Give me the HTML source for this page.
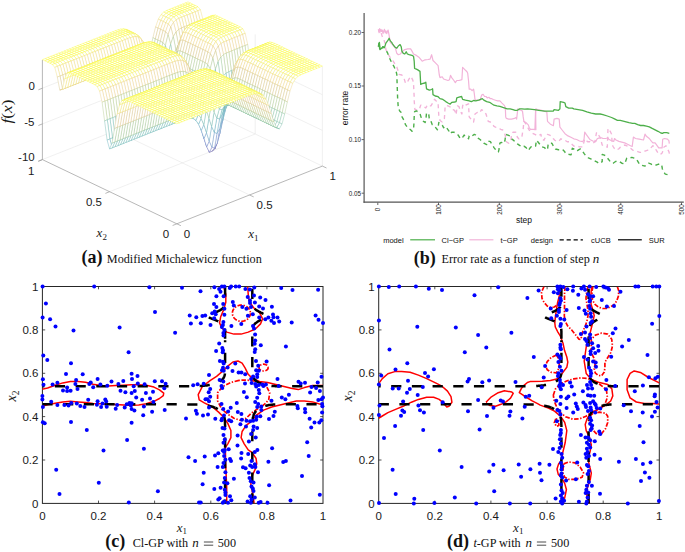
<!DOCTYPE html>
<html><head><meta charset="utf-8"><style>
html,body{margin:0;padding:0;background:#fff;width:685px;height:552px;overflow:hidden}
svg{display:block}
</style></head><body>
<svg width="685" height="552" viewBox="0 0 685 552">
<line x1="249.6" y1="195.0" x2="115.2" y2="130.8" stroke="#e6e6e6" stroke-width="0.6" fill="none"/>
<line x1="109.6" y1="191.7" x2="255.2" y2="134.0" stroke="#e6e6e6" stroke-width="0.6" fill="none"/>
<line x1="42.4" y1="123.9" x2="188.0" y2="66.2" stroke="#e6e6e6" stroke-width="0.6" fill="none"/>
<line x1="322.4" y1="130.4" x2="188.0" y2="66.2" stroke="#e6e6e6" stroke-width="0.6" fill="none"/>
<line x1="42.4" y1="88.2" x2="188.0" y2="30.5" stroke="#e6e6e6" stroke-width="0.6" fill="none"/>
<line x1="322.4" y1="94.7" x2="188.0" y2="30.5" stroke="#e6e6e6" stroke-width="0.6" fill="none"/>
<line x1="115.2" y1="130.8" x2="115.2" y2="31.1" stroke="#e6e6e6" stroke-width="0.6" fill="none"/>
<line x1="255.2" y1="134.0" x2="255.2" y2="34.4" stroke="#e6e6e6" stroke-width="0.6" fill="none"/>
<line x1="188.0" y1="101.9" x2="188.0" y2="2.3" stroke="#e6e6e6" stroke-width="0.6" fill="none"/>
<line x1="42.4" y1="159.6" x2="188.0" y2="101.9" stroke="#e6e6e6" stroke-width="0.6" fill="none"/>
<line x1="322.4" y1="166.1" x2="188.0" y2="101.9" stroke="#e6e6e6" stroke-width="0.6" fill="none"/>
<line x1="322.4" y1="166.1" x2="322.4" y2="66.5" stroke="#e6e6e6" stroke-width="0.6" fill="none"/>
<line x1="176.8" y1="223.8" x2="322.4" y2="166.1" stroke="#9a9a9a" stroke-width="0.7" fill="none"/>
<line x1="176.8" y1="223.8" x2="42.4" y2="159.6" stroke="#9a9a9a" stroke-width="0.7" fill="none"/>
<line x1="42.4" y1="159.6" x2="42.4" y2="60.0" stroke="#9a9a9a" stroke-width="0.7" fill="none"/>
<line x1="176.8" y1="223.8" x2="180.9" y2="225.7" stroke="#9a9a9a" stroke-width="0.7" fill="none"/>
<line x1="176.8" y1="223.8" x2="172.6" y2="225.5" stroke="#9a9a9a" stroke-width="0.7" fill="none"/>
<line x1="249.6" y1="195.0" x2="253.7" y2="196.9" stroke="#9a9a9a" stroke-width="0.7" fill="none"/>
<line x1="109.6" y1="191.7" x2="105.4" y2="193.4" stroke="#9a9a9a" stroke-width="0.7" fill="none"/>
<line x1="322.4" y1="166.1" x2="326.5" y2="168.0" stroke="#9a9a9a" stroke-width="0.7" fill="none"/>
<line x1="42.4" y1="159.6" x2="38.2" y2="161.3" stroke="#9a9a9a" stroke-width="0.7" fill="none"/>
<line x1="42.4" y1="159.6" x2="38.4" y2="161.2" stroke="#9a9a9a" stroke-width="0.7" fill="none"/>
<line x1="42.4" y1="123.9" x2="38.4" y2="125.5" stroke="#9a9a9a" stroke-width="0.7" fill="none"/>
<line x1="42.4" y1="88.2" x2="38.4" y2="89.8" stroke="#9a9a9a" stroke-width="0.7" fill="none"/>
<g fill="#fff" stroke-width="0.4" stroke-linejoin="round"><polygon points="187.8,4.2 190.5,3.1 188.0,1.9 185.3,3.0" stroke="#f9fb2a"/><polygon points="185.1,5.3 187.8,4.2 185.3,3.0 182.6,4.1" stroke="#f9fb2a"/><polygon points="190.3,5.4 193.0,4.3 190.5,3.1 187.8,4.2" stroke="#f9fb2a"/><polygon points="182.4,6.3 185.1,5.3 182.6,4.1 179.9,5.1" stroke="#f9fb2a"/><polygon points="187.6,6.5 190.3,5.4 187.8,4.2 185.1,5.3" stroke="#f9fb2a"/><polygon points="192.8,6.6 195.5,5.5 193.0,4.3 190.3,5.4" stroke="#f9fb2a"/><polygon points="179.7,7.4 182.4,6.3 179.9,5.1 177.2,6.2" stroke="#f9fb2a"/><polygon points="184.9,7.5 187.6,6.5 185.1,5.3 182.4,6.3" stroke="#f9fb2a"/><polygon points="190.1,7.6 192.8,6.6 190.3,5.4 187.6,6.5" stroke="#f9fb2a"/><polygon points="195.3,7.9 198.0,6.8 195.5,5.5 192.8,6.6" stroke="#f9fa2b"/><polygon points="177.0,8.5 179.7,7.4 177.2,6.2 174.5,7.3" stroke="#f9fb2a"/><polygon points="182.2,8.6 184.9,7.5 182.4,6.3 179.7,7.4" stroke="#f9fb2a"/><polygon points="187.4,8.7 190.1,7.6 187.6,6.5 184.9,7.5" stroke="#f9fb2a"/><polygon points="192.6,8.9 195.3,7.9 192.8,6.6 190.1,7.6" stroke="#f9fa2b"/><polygon points="174.3,9.5 177.0,8.5 174.5,7.3 171.8,8.4" stroke="#f9fb2a"/><polygon points="197.7,10.8 200.4,9.7 198.0,6.8 195.3,7.9" stroke="#f6f43f"/><polygon points="179.5,9.7 182.2,8.6 179.7,7.4 177.0,8.5" stroke="#f9fb2a"/><polygon points="184.7,9.8 187.4,8.7 184.9,7.5 182.2,8.6" stroke="#f9fb2a"/><polygon points="189.9,10.0 192.6,8.9 190.1,7.6 187.4,8.7" stroke="#f9fa2b"/><polygon points="171.6,10.6 174.3,9.5 171.8,8.4 169.1,9.4" stroke="#f9fb2a"/><polygon points="195.1,11.8 197.7,10.8 195.3,7.9 192.6,8.9" stroke="#f6f43f"/><polygon points="176.8,10.7 179.5,9.7 177.0,8.5 174.3,9.5" stroke="#f9fb2a"/><polygon points="200.2,20.4 202.9,19.3 200.4,9.7 197.7,10.8" stroke="#eed770"/><polygon points="182.0,10.9 184.7,9.8 182.2,8.6 179.5,9.7" stroke="#f9fb2a"/><polygon points="187.2,11.1 189.9,10.0 187.4,8.7 184.7,9.8" stroke="#f9fa2b"/><polygon points="168.9,11.8 171.6,10.6 169.1,9.4 166.4,10.6" stroke="#f9fa2b"/><polygon points="192.4,12.9 195.1,11.8 192.6,8.9 189.9,10.0" stroke="#f6f43f"/><polygon points="174.1,11.8 176.8,10.7 174.3,9.5 171.6,10.6" stroke="#f9fb2a"/><polygon points="197.5,21.5 200.2,20.4 197.7,10.8 195.1,11.8" stroke="#eed770"/><polygon points="179.3,11.9 182.0,10.9 179.5,9.7 176.8,10.7" stroke="#f9fb2a"/><polygon points="202.7,33.5 205.4,32.4 202.9,19.3 200.2,20.4" stroke="#d3c17b"/><polygon points="184.5,12.1 187.2,11.1 184.7,9.8 182.0,10.9" stroke="#f9fa2b"/><polygon points="166.2,13.3 168.9,11.8 166.4,10.6 163.7,12.1" stroke="#f8f931"/><polygon points="189.7,14.0 192.4,12.9 189.9,10.0 187.2,11.1" stroke="#f6f43f"/><polygon points="171.4,13.0 174.1,11.8 171.6,10.6 168.9,11.8" stroke="#f9fa2b"/><polygon points="194.8,22.6 197.5,21.5 195.1,11.8 192.4,12.9" stroke="#eed770"/><polygon points="176.6,13.0 179.3,11.9 176.8,10.7 174.1,11.8" stroke="#f9fb2a"/><polygon points="200.0,34.5 202.7,33.5 200.2,20.4 197.5,21.5" stroke="#d3c17b"/><polygon points="181.8,13.2 184.5,12.1 182.0,10.9 179.3,11.9" stroke="#f9fa2b"/><polygon points="163.5,15.8 166.2,13.3 163.7,12.1 161.0,14.6" stroke="#f6f340"/><polygon points="205.2,32.8 207.9,31.7 205.4,32.4 202.7,33.5" stroke="#dac280"/><polygon points="187.0,15.0 189.7,14.0 187.2,11.1 184.5,12.1" stroke="#f6f43f"/><polygon points="168.7,14.5 171.4,13.0 168.9,11.8 166.2,13.3" stroke="#f8f931"/><polygon points="192.1,23.6 194.8,22.6 192.4,12.9 189.7,14.0" stroke="#eed770"/><polygon points="173.9,14.2 176.6,13.0 174.1,11.8 171.4,13.0" stroke="#f9fa2b"/><polygon points="197.3,35.6 200.0,34.5 197.5,21.5 194.8,22.6" stroke="#d3c17b"/><polygon points="179.1,14.3 181.8,13.2 179.3,11.9 176.6,13.0" stroke="#f9fa2c"/><polygon points="160.8,20.4 163.5,15.8 161.0,14.6 158.3,19.2" stroke="#f1e758"/><polygon points="202.5,33.9 205.2,32.8 202.7,33.5 200.0,34.5" stroke="#dac280"/><polygon points="184.3,16.1 187.0,15.0 184.5,12.1 181.8,13.2" stroke="#f6f43f"/><polygon points="166.0,17.0 168.7,14.5 166.2,13.3 163.5,15.8" stroke="#f6f340"/><polygon points="207.7,21.9 210.4,20.9 207.9,31.7 205.2,32.8" stroke="#efdd66"/><polygon points="189.5,24.7 192.1,23.6 189.7,14.0 187.0,15.0" stroke="#eed770"/><polygon points="171.2,15.7 173.9,14.2 171.4,13.0 168.7,14.5" stroke="#f8f931"/><polygon points="194.6,36.7 197.3,35.6 194.8,22.6 192.1,23.6" stroke="#d3c17b"/><polygon points="176.4,15.4 179.1,14.3 176.6,13.0 173.9,14.2" stroke="#f9fa2d"/><polygon points="158.1,28.1 160.8,20.4 158.3,19.2 155.6,26.9" stroke="#edd179"/><polygon points="199.8,34.9 202.5,33.9 200.0,34.5 197.3,35.6" stroke="#dac280"/><polygon points="181.6,17.2 184.3,16.1 181.8,13.2 179.1,14.3" stroke="#f6f43f"/><polygon points="163.3,21.5 166.0,17.0 163.5,15.8 160.8,20.4" stroke="#f1e758"/><polygon points="205.0,23.0 207.7,21.9 205.2,32.8 202.5,33.9" stroke="#efdd66"/><polygon points="186.8,25.8 189.5,24.7 187.0,15.0 184.3,16.1" stroke="#eed770"/><polygon points="168.5,18.1 171.2,15.7 168.7,14.5 166.0,17.0" stroke="#f6f340"/><polygon points="210.2,16.3 212.9,15.3 210.4,20.9 207.7,21.9" stroke="#f7f53c"/><polygon points="191.9,37.7 194.6,36.7 192.1,23.6 189.5,24.7" stroke="#d3c17b"/><polygon points="173.7,16.9 176.4,15.4 173.9,14.2 171.2,15.7" stroke="#f8f832"/><polygon points="155.4,38.9 158.1,28.1 155.6,26.9 152.9,37.7" stroke="#d4c17b"/><polygon points="197.1,36.0 199.8,34.9 197.3,35.6 194.6,36.7" stroke="#dac280"/><polygon points="178.9,18.3 181.6,17.2 179.1,14.3 176.4,15.4" stroke="#f6f440"/><polygon points="160.6,29.3 163.3,21.5 160.8,20.4 158.1,28.1" stroke="#edd179"/><polygon points="202.3,24.1 205.0,23.0 202.5,33.9 199.8,34.9" stroke="#efdd66"/><polygon points="184.1,26.8 186.8,25.8 184.3,16.1 181.6,17.2" stroke="#eed770"/><polygon points="165.8,22.7 168.5,18.1 166.0,17.0 163.3,21.5" stroke="#f1e758"/><polygon points="207.5,17.4 210.2,16.3 207.7,21.9 205.0,23.0" stroke="#f7f53c"/><polygon points="189.2,38.8 191.9,37.7 189.5,24.7 186.8,25.8" stroke="#d3c17b"/><polygon points="171.0,19.4 173.7,16.9 171.2,15.7 168.5,18.1" stroke="#f6f341"/><polygon points="152.7,50.9 155.4,38.9 152.9,37.7 150.3,49.7" stroke="#a6c488"/><polygon points="212.7,16.2 215.4,15.1 212.9,15.3 210.2,16.3" stroke="#f9fa2b"/><polygon points="194.4,37.1 197.1,36.0 194.6,36.7 191.9,37.7" stroke="#dac280"/><polygon points="176.2,19.8 178.9,18.3 176.4,15.4 173.7,16.9" stroke="#f5f243"/><polygon points="157.9,40.1 160.6,29.3 158.1,28.1 155.4,38.9" stroke="#d4c17b"/><polygon points="199.6,25.1 202.3,24.1 199.8,34.9 197.1,36.0" stroke="#efdd66"/><polygon points="181.4,28.0 184.1,26.8 181.6,17.2 178.9,18.3" stroke="#eed671"/><polygon points="163.1,30.5 165.8,22.7 163.3,21.5 160.6,29.3" stroke="#edd179"/><polygon points="204.8,18.5 207.5,17.4 205.0,23.0 202.3,24.1" stroke="#f7f53c"/><polygon points="186.5,39.9 189.2,38.8 186.8,25.8 184.1,26.8" stroke="#d3c17b"/><polygon points="168.3,24.0 171.0,19.4 168.5,18.1 165.8,22.7" stroke="#f1e658"/><polygon points="150.0,60.9 152.7,50.9 150.3,49.7 147.6,59.8" stroke="#7cbd9e"/><polygon points="210.0,17.3 212.7,16.2 210.2,16.3 207.5,17.4" stroke="#f9fa2b"/><polygon points="191.7,38.1 194.4,37.1 191.9,37.7 189.2,38.8" stroke="#dac280"/><polygon points="173.5,22.3 176.2,19.8 173.7,16.9 171.0,19.4" stroke="#f3ed4d"/><polygon points="155.2,52.1 157.9,40.1 155.4,38.9 152.7,50.9" stroke="#a6c488"/><polygon points="215.2,17.3 217.9,16.2 215.4,15.1 212.7,16.2" stroke="#f9fb2a"/><polygon points="196.9,26.2 199.6,25.1 197.1,36.0 194.4,37.1" stroke="#efdd66"/><polygon points="178.7,29.5 181.4,28.0 178.9,18.3 176.2,19.8" stroke="#eed573"/><polygon points="160.4,41.3 163.1,30.5 160.6,29.3 157.9,40.1" stroke="#d4c17b"/><polygon points="202.1,19.5 204.8,18.5 202.3,24.1 199.6,25.1" stroke="#f7f53c"/><polygon points="183.9,41.0 186.5,39.9 184.1,26.8 181.4,28.0" stroke="#d3c17b"/><polygon points="165.6,31.7 168.3,24.0 165.8,22.7 163.1,30.5" stroke="#edd17a"/><polygon points="147.3,65.9 150.0,60.9 147.6,59.8 144.9,64.7" stroke="#71b9a6"/><polygon points="207.3,18.3 210.0,17.3 207.5,17.4 204.8,18.5" stroke="#f9fa2b"/><polygon points="189.0,39.2 191.7,38.1 189.2,38.8 186.5,39.9" stroke="#dac280"/><polygon points="170.8,26.9 173.5,22.3 171.0,19.4 168.3,24.0" stroke="#f0e061"/><polygon points="152.5,62.1 155.2,52.1 152.7,50.9 150.0,60.9" stroke="#7cbd9e"/><polygon points="212.5,18.3 215.2,17.3 212.7,16.2 210.0,17.3" stroke="#f9fb2a"/><polygon points="194.2,27.3 196.9,26.2 194.4,37.1 191.7,38.1" stroke="#efdd66"/><polygon points="176.0,32.0 178.7,29.5 176.2,19.8 173.5,22.3" stroke="#edd17a"/><polygon points="157.7,53.3 160.4,41.3 157.9,40.1 155.2,52.1" stroke="#a6c488"/><polygon points="217.7,18.5 220.4,17.4 217.9,16.2 215.2,17.3" stroke="#f9fb2a"/><polygon points="199.4,20.6 202.1,19.5 199.6,25.1 196.9,26.2" stroke="#f7f53c"/><polygon points="181.2,42.5 183.9,41.0 181.4,28.0 178.7,29.5" stroke="#d1c17a"/><polygon points="162.9,42.6 165.6,31.7 163.1,30.5 160.4,41.3" stroke="#d4c17b"/><polygon points="144.7,64.8 147.3,65.9 144.9,64.7 142.2,63.6" stroke="#76bba2"/><polygon points="204.6,19.4 207.3,18.3 204.8,18.5 202.1,19.5" stroke="#f9fa2b"/><polygon points="186.3,40.4 189.0,39.2 186.5,39.9 183.9,41.0" stroke="#d9c27f"/><polygon points="168.1,34.6 170.8,26.9 168.3,24.0 165.6,31.7" stroke="#eacd81"/><polygon points="149.8,67.1 152.5,62.1 150.0,60.9 147.3,65.9" stroke="#71b9a6"/><polygon points="209.8,19.4 212.5,18.3 210.0,17.3 207.3,18.3" stroke="#f9fb2a"/><polygon points="191.5,28.4 194.2,27.3 191.7,38.1 189.0,39.2" stroke="#efdd66"/><polygon points="173.3,36.6 176.0,32.0 173.5,22.3 170.8,26.9" stroke="#e6c888"/><polygon points="155.0,63.3 157.7,53.3 155.2,52.1 152.5,62.1" stroke="#7cbd9e"/><polygon points="215.0,19.5 217.7,18.5 215.2,17.3 212.5,18.3" stroke="#f9fb2a"/><polygon points="196.7,21.7 199.4,20.6 196.9,26.2 194.2,27.3" stroke="#f7f53c"/><polygon points="178.5,45.0 181.2,42.5 178.7,29.5 176.0,32.0" stroke="#ccc278"/><polygon points="160.2,54.6 162.9,42.6 160.4,41.3 157.7,53.3" stroke="#a6c488"/><polygon points="220.1,19.7 222.8,18.6 220.4,17.4 217.7,18.5" stroke="#f9fb2a"/><polygon points="142.0,58.8 144.7,64.8 142.2,63.6 139.5,57.6" stroke="#94c291"/><polygon points="201.9,20.5 204.6,19.4 202.1,19.5 199.4,20.6" stroke="#f9fa2b"/><polygon points="183.6,41.9 186.3,40.4 183.9,41.0 181.2,42.5" stroke="#d8c27e"/><polygon points="165.4,45.5 168.1,34.6 165.6,31.7 162.9,42.6" stroke="#cdc179"/><polygon points="147.1,66.0 149.8,67.1 147.3,65.9 144.7,64.8" stroke="#76bba2"/><polygon points="207.1,20.5 209.8,19.4 207.3,18.3 204.6,19.4" stroke="#f9fb2a"/><polygon points="188.8,29.5 191.5,28.4 189.0,39.2 186.3,40.4" stroke="#efdd67"/><polygon points="170.6,44.3 173.3,36.6 170.8,26.9 168.1,34.6" stroke="#d2c17a"/><polygon points="152.3,68.3 155.0,63.3 152.5,62.1 149.8,67.1" stroke="#71b9a6"/><polygon points="212.3,20.6 215.0,19.5 212.5,18.3 209.8,19.4" stroke="#f9fb2a"/><polygon points="194.0,22.8 196.7,21.7 194.2,27.3 191.5,28.4" stroke="#f7f53c"/><polygon points="175.8,49.6 178.5,45.0 176.0,32.0 173.3,36.6" stroke="#bec37b"/><polygon points="157.5,64.6 160.2,54.6 157.7,53.3 155.0,63.3" stroke="#7cbd9e"/><polygon points="217.5,20.7 220.1,19.7 217.7,18.5 215.0,19.5" stroke="#f9fb2a"/><polygon points="139.3,50.4 142.0,58.8 139.5,57.6 136.8,49.2" stroke="#c0c37a"/><polygon points="199.2,21.5 201.9,20.5 199.4,20.6 196.7,21.7" stroke="#f9fa2b"/><polygon points="180.9,44.4 183.6,41.9 181.2,42.5 178.5,45.0" stroke="#d3c17b"/><polygon points="162.7,57.5 165.4,45.5 162.9,42.6 160.2,54.6" stroke="#9dc38d"/><polygon points="222.6,20.8 225.3,19.8 222.8,18.6 220.1,19.7" stroke="#f9fb2a"/><polygon points="144.4,60.0 147.1,66.0 144.7,64.8 142.0,58.8" stroke="#94c291"/><polygon points="204.4,21.6 207.1,20.5 204.6,19.4 201.9,20.5" stroke="#f9fb2a"/><polygon points="186.1,31.0 188.8,29.5 186.3,40.4 183.6,41.9" stroke="#efdb69"/><polygon points="167.9,55.1 170.6,44.3 168.1,34.6 165.4,45.5" stroke="#a9c486"/><polygon points="149.6,67.2 152.3,68.3 149.8,67.1 147.1,66.0" stroke="#76bba2"/><polygon points="209.6,21.7 212.3,20.6 209.8,19.4 207.1,20.5" stroke="#f9fb2a"/><polygon points="191.3,23.9 194.0,22.8 191.5,28.4 188.8,29.5" stroke="#f7f53d"/><polygon points="173.1,57.3 175.8,49.6 173.3,36.6 170.6,44.3" stroke="#9fc38c"/><polygon points="154.8,69.6 157.5,64.6 155.0,63.3 152.3,68.3" stroke="#71b9a6"/><polygon points="214.8,21.8 217.5,20.7 215.0,19.5 212.3,20.6" stroke="#f9fb2a"/><polygon points="136.6,42.3 139.3,50.4 136.8,49.2 134.1,41.2" stroke="#e2c487"/><polygon points="196.5,22.6 199.2,21.5 196.7,21.7 194.0,22.8" stroke="#f9fa2c"/><polygon points="178.3,48.9 180.9,44.4 178.5,45.0 175.8,49.6" stroke="#c5c279"/><polygon points="160.0,67.5 162.7,57.5 160.2,54.6 157.5,64.6" stroke="#76bba2"/><polygon points="219.9,21.9 222.6,20.8 220.1,19.7 217.5,20.7" stroke="#f9fb2a"/><polygon points="141.7,51.6 144.4,60.0 142.0,58.8 139.3,50.4" stroke="#c0c37a"/><polygon points="201.7,22.6 204.4,21.6 201.9,20.5 199.2,21.5" stroke="#f9fb2a"/><polygon points="183.4,33.5 186.1,31.0 183.6,41.9 180.9,44.4" stroke="#eed770"/><polygon points="165.2,67.2 167.9,55.1 165.4,45.5 162.7,57.5" stroke="#77bca1"/><polygon points="225.1,22.0 227.8,21.0 225.3,19.8 222.6,20.8" stroke="#f9fb2a"/><polygon points="146.9,61.2 149.6,67.2 147.1,66.0 144.4,60.0" stroke="#94c291"/><polygon points="206.9,22.7 209.6,21.7 207.1,20.5 204.4,21.6" stroke="#f9fb2a"/><polygon points="188.6,25.4 191.3,23.9 188.8,29.5 186.1,31.0" stroke="#f6f341"/><polygon points="170.4,68.2 173.1,57.3 170.6,44.3 167.9,55.1" stroke="#75bba3"/><polygon points="152.1,68.5 154.8,69.6 152.3,68.3 149.6,67.2" stroke="#76bba2"/><polygon points="212.1,22.9 214.8,21.8 212.3,20.6 209.6,21.7" stroke="#f9fb2a"/><polygon points="133.9,36.1 136.6,42.3 134.1,41.2 131.4,35.0" stroke="#eed672"/><polygon points="193.8,23.8 196.5,22.6 194.0,22.8 191.3,23.9" stroke="#f9fa2d"/><polygon points="175.6,56.7 178.3,48.9 175.8,49.6 173.1,57.3" stroke="#a8c487"/><polygon points="157.3,72.5 160.0,67.5 157.5,64.6 154.8,69.6" stroke="#6db7a9"/><polygon points="217.2,23.0 219.9,21.9 217.5,20.7 214.8,21.8" stroke="#f9fb2a"/><polygon points="139.1,43.5 141.7,51.6 139.3,50.4 136.6,42.3" stroke="#e2c487"/><polygon points="199.0,23.7 201.7,22.6 199.2,21.5 196.5,22.6" stroke="#f9fb2a"/><polygon points="180.7,38.1 183.4,33.5 180.9,44.4 178.3,48.9" stroke="#eacd80"/><polygon points="162.5,77.2 165.2,67.2 162.7,57.5 160.0,67.5" stroke="#5ab0af"/><polygon points="222.4,23.1 225.1,22.0 222.6,20.8 219.9,21.9" stroke="#f9fb2a"/><polygon points="144.2,52.8 146.9,61.2 144.4,60.0 141.7,51.6" stroke="#c0c37a"/><polygon points="204.2,23.8 206.9,22.7 204.4,21.6 201.7,22.6" stroke="#f9fb2a"/><polygon points="185.9,27.9 188.6,25.4 186.1,31.0 183.4,33.5" stroke="#f4ee4b"/><polygon points="167.7,80.2 170.4,68.2 167.9,55.1 165.2,67.2" stroke="#53abb3"/><polygon points="227.6,23.2 230.3,22.2 227.8,21.0 225.1,22.0" stroke="#f9fb2a"/><polygon points="149.4,62.4 152.1,68.5 149.6,67.2 146.9,61.2" stroke="#94c291"/><polygon points="209.4,23.9 212.1,22.9 209.6,21.7 206.9,22.7" stroke="#f9fb2a"/><polygon points="131.2,32.3 133.9,36.1 131.4,35.0 128.7,31.1" stroke="#f1e659"/><polygon points="191.1,25.3 193.8,23.8 191.3,23.9 188.6,25.4" stroke="#f8f832"/><polygon points="172.9,67.5 175.6,56.7 173.1,57.3 170.4,68.2" stroke="#7bbd9f"/><polygon points="154.6,71.4 157.3,72.5 154.8,69.6 152.1,68.5" stroke="#72b9a6"/><polygon points="214.5,24.0 217.2,23.0 214.8,21.8 212.1,22.9" stroke="#f9fb2a"/><polygon points="136.4,37.3 139.1,43.5 136.6,42.3 133.9,36.1" stroke="#eed672"/><polygon points="196.3,24.9 199.0,23.7 196.5,22.6 193.8,23.8" stroke="#f9fa2b"/><polygon points="178.0,45.8 180.7,38.1 178.3,48.9 175.6,56.7" stroke="#d9c27f"/><polygon points="159.8,82.2 162.5,77.2 160.0,67.5 157.3,72.5" stroke="#54abb5"/><polygon points="219.7,24.2 222.4,23.1 219.9,21.9 217.2,23.0" stroke="#f9fb2a"/><polygon points="141.5,44.7 144.2,52.8 141.7,51.6 139.1,43.5" stroke="#e2c487"/><polygon points="201.5,24.9 204.2,23.8 201.7,22.6 199.0,23.7" stroke="#f9fb2a"/><polygon points="183.2,32.5 185.9,27.9 183.4,33.5 180.7,38.1" stroke="#f0e25f"/><polygon points="165.0,90.2 167.7,80.2 165.2,67.2 162.5,77.2" stroke="#62a2c0"/><polygon points="224.9,24.3 227.6,23.2 225.1,22.0 222.4,23.1" stroke="#f9fb2a"/><polygon points="146.7,54.1 149.4,62.4 146.9,61.2 144.2,52.8" stroke="#c0c37a"/><polygon points="206.7,25.0 209.4,23.9 206.9,22.7 204.2,23.8" stroke="#f9fb2a"/><polygon points="128.5,30.4 131.2,32.3 128.7,31.1 126.0,29.2" stroke="#f5f146"/><polygon points="188.4,27.8 191.1,25.3 188.6,25.4 185.9,27.9" stroke="#f6f341"/><polygon points="170.2,79.5 172.9,67.5 170.4,68.2 167.7,80.2" stroke="#56aeb0"/><polygon points="230.1,24.4 232.8,23.3 230.3,22.2 227.6,23.2" stroke="#f9fb2a"/><polygon points="151.9,65.3 154.6,71.4 152.1,68.5 149.4,62.4" stroke="#8cc196"/><polygon points="211.9,25.1 214.5,24.0 212.1,22.9 209.4,23.9" stroke="#f9fb2a"/><polygon points="133.7,33.5 136.4,37.3 133.9,36.1 131.2,32.3" stroke="#f1e659"/><polygon points="193.6,26.4 196.3,24.9 193.8,23.8 191.1,25.3" stroke="#f8f931"/><polygon points="175.3,56.6 178.0,45.8 175.6,56.7 172.9,67.5" stroke="#b3c380"/><polygon points="157.1,81.0 159.8,82.2 157.3,72.5 154.6,71.4" stroke="#54adb1"/><polygon points="217.0,25.2 219.7,24.2 217.2,23.0 214.5,24.0" stroke="#f9fb2a"/><polygon points="138.8,38.5 141.5,44.7 139.1,43.5 136.4,37.3" stroke="#eed672"/><polygon points="198.8,26.0 201.5,24.9 199.0,23.7 196.3,24.9" stroke="#f9fa2b"/><polygon points="180.5,40.2 183.2,32.5 180.7,38.1 178.0,45.8" stroke="#eacd80"/><polygon points="162.3,95.2 165.0,90.2 162.5,77.2 159.8,82.2" stroke="#639bc2"/><polygon points="222.2,25.4 224.9,24.3 222.4,23.1 219.7,24.2" stroke="#f9fb2a"/><polygon points="144.0,46.0 146.7,54.1 144.2,52.8 141.5,44.7" stroke="#e2c487"/><polygon points="204.0,26.1 206.7,25.0 204.2,23.8 201.5,24.9" stroke="#f9fb2a"/><polygon points="125.8,30.0 128.5,30.4 126.0,29.2 123.3,28.8" stroke="#f7f639"/><polygon points="185.7,32.3 188.4,27.8 185.9,27.9 183.2,32.5" stroke="#f1e658"/><polygon points="167.5,89.5 170.2,79.5 167.7,80.2 165.0,90.2" stroke="#61a5bf"/><polygon points="227.4,25.5 230.1,24.4 227.6,23.2 224.9,24.3" stroke="#f9fb2a"/><polygon points="149.2,57.0 151.9,65.3 149.4,62.4 146.7,54.1" stroke="#b9c37d"/><polygon points="209.2,26.2 211.9,25.1 209.4,23.9 206.7,25.0" stroke="#f9fb2a"/><polygon points="131.0,31.6 133.7,33.5 131.2,32.3 128.5,30.4" stroke="#f5f146"/><polygon points="190.9,28.8 193.6,26.4 191.1,25.3 188.4,27.8" stroke="#f6f340"/><polygon points="172.7,68.7 175.3,56.6 172.9,67.5 170.2,79.5" stroke="#7fbe9d"/><polygon points="232.6,25.6 235.3,24.5 232.8,23.3 230.1,24.4" stroke="#f9fb2a"/><polygon points="154.4,75.0 157.1,81.0 154.6,71.4 151.9,65.3" stroke="#6fb8a8"/><polygon points="214.3,26.3 217.0,25.2 214.5,24.0 211.9,25.1" stroke="#f9fb2a"/><polygon points="136.1,34.7 138.8,38.5 136.4,37.3 133.7,33.5" stroke="#f1e659"/><polygon points="196.1,27.5 198.8,26.0 196.3,24.9 193.6,26.4" stroke="#f8f931"/><polygon points="177.8,51.0 180.5,40.2 178.0,45.8 175.3,56.6" stroke="#cfc179"/><polygon points="159.6,94.1 162.3,95.2 159.8,82.2 157.1,81.0" stroke="#639fc1"/><polygon points="219.5,26.4 222.2,25.4 219.7,24.2 217.0,25.2" stroke="#f9fb2a"/><polygon points="141.3,39.8 144.0,46.0 141.5,44.7 138.8,38.5" stroke="#eed572"/><polygon points="201.3,27.2 204.0,26.1 201.5,24.9 198.8,26.0" stroke="#f9fa2b"/><polygon points="123.1,30.3 125.8,30.0 123.3,28.8 120.6,29.1" stroke="#f8f930"/><polygon points="183.0,40.1 185.7,32.3 183.2,32.5 180.5,40.2" stroke="#edd17a"/><polygon points="164.8,94.5 167.5,89.5 165.0,90.2 162.3,95.2" stroke="#639ec1"/><polygon points="224.7,26.5 227.4,25.5 224.9,24.3 222.2,25.4" stroke="#f9fb2a"/><polygon points="146.5,48.9 149.2,57.0 146.7,54.1 144.0,46.0" stroke="#dcc282"/><polygon points="206.5,27.3 209.2,26.2 206.7,25.0 204.0,26.1" stroke="#f9fb2a"/><polygon points="128.3,31.2 131.0,31.6 128.5,30.4 125.8,30.0" stroke="#f7f639"/><polygon points="188.2,33.4 190.9,28.8 188.4,27.8 185.7,32.3" stroke="#f1e758"/><polygon points="170.0,78.7 172.7,68.7 170.2,79.5 167.5,89.5" stroke="#64b3ad"/><polygon points="229.9,26.7 232.6,25.6 230.1,24.4 227.4,25.5" stroke="#f9fb2a"/><polygon points="151.7,66.7 154.4,75.0 151.9,65.3 149.2,57.0" stroke="#90c294"/><polygon points="211.6,27.4 214.3,26.3 211.9,25.1 209.2,26.2" stroke="#f9fb2a"/><polygon points="133.5,32.8 136.1,34.7 133.7,33.5 131.0,31.6" stroke="#f5f146"/><polygon points="193.4,30.0 196.1,27.5 193.6,26.4 190.9,28.8" stroke="#f6f340"/><polygon points="175.1,63.1 177.8,51.0 175.3,56.6 172.7,68.7" stroke="#9fc38c"/><polygon points="235.1,26.8 237.8,25.7 235.3,24.5 232.6,25.6" stroke="#f9fb2a"/><polygon points="156.9,88.0 159.6,94.1 157.1,81.0 154.4,75.0" stroke="#5ba9ba"/><polygon points="216.8,27.5 219.5,26.4 217.0,25.2 214.3,26.3" stroke="#f9fb2a"/><polygon points="138.6,35.9 141.3,39.8 138.8,38.5 136.1,34.7" stroke="#f1e659"/><polygon points="198.6,28.7 201.3,27.2 198.8,26.0 196.1,27.5" stroke="#f8f931"/><polygon points="120.4,31.1 123.1,30.3 120.6,29.1 117.9,29.9" stroke="#f9fa2c"/><polygon points="180.3,50.9 183.0,40.1 180.5,40.2 177.8,51.0" stroke="#d4c17b"/><polygon points="162.1,93.4 164.8,94.5 162.3,95.2 159.6,94.1" stroke="#62a2c0"/><polygon points="222.0,27.6 224.7,26.5 222.2,25.4 219.5,26.4" stroke="#f9fb2a"/><polygon points="143.8,42.7 146.5,48.9 144.0,46.0 141.3,39.8" stroke="#ecd17a"/><polygon points="203.8,28.4 206.5,27.3 204.0,26.1 201.3,27.2" stroke="#f9fa2b"/><polygon points="125.6,31.5 128.3,31.2 125.8,30.0 123.1,30.3" stroke="#f8f930"/><polygon points="185.5,41.2 188.2,33.4 185.7,32.3 183.0,40.1" stroke="#edd179"/><polygon points="167.3,83.7 170.0,78.7 167.5,89.5 164.8,94.5" stroke="#53adb1"/><polygon points="227.2,27.7 229.9,26.7 227.4,25.5 224.7,26.5" stroke="#f9fb2a"/><polygon points="149.0,58.6 151.7,66.7 149.2,57.0 146.5,48.9" stroke="#bcc37c"/><polygon points="208.9,28.5 211.6,27.4 209.2,26.2 206.5,27.3" stroke="#f9fb2a"/><polygon points="130.8,32.3 133.5,32.8 131.0,31.6 128.3,31.2" stroke="#f7f639"/><polygon points="190.7,34.6 193.4,30.0 190.9,28.8 188.2,33.4" stroke="#f1e758"/><polygon points="172.4,73.1 175.1,63.1 172.7,68.7 170.0,78.7" stroke="#77bca1"/><polygon points="232.4,27.9 235.1,26.8 232.6,25.6 229.9,26.7" stroke="#f9fb2a"/><polygon points="154.2,79.7 156.9,88.0 154.4,75.0 151.7,66.7" stroke="#68b5ac"/><polygon points="214.1,28.6 216.8,27.5 214.3,26.3 211.6,27.4" stroke="#f9fb2a"/><polygon points="135.9,34.1 138.6,35.9 136.1,34.7 133.5,32.8" stroke="#f5f047"/><polygon points="195.9,31.2 198.6,28.7 196.1,27.5 193.4,30.0" stroke="#f6f340"/><polygon points="117.7,32.0 120.4,31.1 117.9,29.9 115.2,30.8" stroke="#f9fa2b"/><polygon points="177.6,62.9 180.3,50.9 177.8,51.0 175.1,63.1" stroke="#a5c488"/><polygon points="237.6,28.0 240.3,27.0 237.8,25.7 235.1,26.8" stroke="#f9fa2b"/><polygon points="159.4,87.4 162.1,93.4 159.6,94.1 156.9,88.0" stroke="#55aab6"/><polygon points="219.3,28.7 222.0,27.6 219.5,26.4 216.8,27.5" stroke="#f9fb2a"/><polygon points="141.1,38.8 143.8,42.7 141.3,39.8 138.6,35.9" stroke="#f0e062"/><polygon points="201.1,29.9 203.8,28.4 201.3,27.2 198.6,28.7" stroke="#f8f931"/><polygon points="122.9,32.3 125.6,31.5 123.1,30.3 120.4,31.1" stroke="#f9fa2c"/><polygon points="182.8,52.0 185.5,41.2 183.0,40.1 180.3,50.9" stroke="#d4c17b"/><polygon points="164.6,82.6 167.3,83.7 164.8,94.5 162.1,93.4" stroke="#5cb0af"/><polygon points="224.5,28.8 227.2,27.7 224.7,26.5 222.0,27.6" stroke="#f9fb2a"/><polygon points="146.3,52.4 149.0,58.6 146.5,48.9 143.8,42.7" stroke="#d8c17e"/><polygon points="206.3,29.6 208.9,28.5 206.5,27.3 203.8,28.4" stroke="#f9fa2b"/><polygon points="128.1,32.7 130.8,32.3 128.3,31.2 125.6,31.5" stroke="#f8f930"/><polygon points="188.0,42.4 190.7,34.6 188.2,33.4 185.5,41.2" stroke="#edd179"/><polygon points="169.7,78.1 172.4,73.1 170.0,78.7 167.3,83.7" stroke="#6eb7a9"/><polygon points="229.7,28.9 232.4,27.9 229.9,26.7 227.2,27.7" stroke="#f9fb2a"/><polygon points="151.5,71.6 154.2,79.7 151.7,66.7 149.0,58.6" stroke="#84bf9a"/><polygon points="211.4,29.6 214.1,28.6 211.6,27.4 208.9,28.5" stroke="#f9fb2a"/><polygon points="133.2,33.6 135.9,34.1 133.5,32.8 130.8,32.3" stroke="#f7f63a"/><polygon points="193.2,35.8 195.9,31.2 193.4,30.0 190.7,34.6" stroke="#f1e758"/><polygon points="115.0,33.1 117.7,32.0 115.2,30.8 112.5,31.9" stroke="#f9fb2a"/><polygon points="174.9,72.9 177.6,62.9 175.1,63.1 172.4,73.1" stroke="#7cbd9e"/><polygon points="234.9,29.1 237.6,28.0 235.1,26.8 232.4,27.9" stroke="#f9fa2b"/><polygon points="156.7,79.0 159.4,87.4 156.9,88.0 154.2,79.7" stroke="#6eb7a9"/><polygon points="216.6,29.8 219.3,28.7 216.8,27.5 214.1,28.6" stroke="#f9fb2a"/><polygon points="138.4,37.0 141.1,38.8 138.6,35.9 135.9,34.1" stroke="#f2ea52"/><polygon points="198.4,32.4 201.1,29.9 198.6,28.7 195.9,31.2" stroke="#f6f340"/><polygon points="120.2,33.2 122.9,32.3 120.4,31.1 117.7,32.0" stroke="#f9fa2b"/><polygon points="180.1,64.0 182.8,52.0 180.3,50.9 177.6,62.9" stroke="#a6c488"/><polygon points="240.1,29.9 242.8,28.8 240.3,27.0 237.6,28.0" stroke="#f8f833"/><polygon points="161.9,76.5 164.6,82.6 162.1,93.4 159.4,87.4" stroke="#73baa4"/><polygon points="221.8,29.9 224.5,28.8 222.0,27.6 219.3,28.7" stroke="#f9fb2a"/><polygon points="143.6,48.5 146.3,52.4 143.8,42.7 141.1,38.8" stroke="#e6c888"/><polygon points="203.6,31.1 206.3,29.6 203.8,28.4 201.1,29.9" stroke="#f8f931"/><polygon points="125.4,33.5 128.1,32.7 125.6,31.5 122.9,32.3" stroke="#f9fa2c"/><polygon points="185.3,53.2 188.0,42.4 185.5,41.2 182.8,52.0" stroke="#d4c17b"/><polygon points="167.1,77.0 169.7,78.1 167.3,83.7 164.6,82.6" stroke="#73baa5"/><polygon points="227.0,30.0 229.7,28.9 227.2,27.7 224.5,28.8" stroke="#f9fb2a"/><polygon points="148.8,65.4 151.5,71.6 149.0,58.6 146.3,52.4" stroke="#a7c487"/><polygon points="208.7,30.8 211.4,29.6 208.9,28.5 206.3,29.6" stroke="#f9fa2b"/><polygon points="130.5,34.0 133.2,33.6 130.8,32.3 128.1,32.7" stroke="#f8f931"/><polygon points="190.5,43.5 193.2,35.8 190.7,34.6 188.0,42.4" stroke="#edd179"/><polygon points="112.3,34.1 115.0,33.1 112.5,31.9 109.8,32.9" stroke="#f9fb2a"/><polygon points="172.2,77.9 174.9,72.9 172.4,73.1 169.7,78.1" stroke="#71b9a6"/><polygon points="232.2,30.2 234.9,29.1 232.4,27.9 229.7,28.9" stroke="#f9fa2b"/><polygon points="154.0,70.9 156.7,79.0 154.2,79.7 151.5,71.6" stroke="#8cc196"/><polygon points="213.9,30.8 216.6,29.8 214.1,28.6 211.4,29.6" stroke="#f9fb2a"/><polygon points="135.7,36.5 138.4,37.0 135.9,34.1 133.2,33.6" stroke="#f4f048"/><polygon points="195.7,37.0 198.4,32.4 195.9,31.2 193.2,35.8" stroke="#f1e758"/><polygon points="117.5,34.3 120.2,33.2 117.7,32.0 115.0,33.1" stroke="#f9fb2a"/><polygon points="177.4,74.0 180.1,64.0 177.6,62.9 174.9,72.9" stroke="#7cbd9e"/><polygon points="237.4,30.9 240.1,29.9 237.6,28.0 234.9,29.1" stroke="#f8f833"/><polygon points="159.2,68.2 161.9,76.5 159.4,87.4 156.7,79.0" stroke="#9ac38e"/><polygon points="219.1,30.9 221.8,29.9 219.3,28.7 216.6,29.8" stroke="#f9fb2a"/><polygon points="140.9,46.7 143.6,48.5 141.1,38.8 138.4,37.0" stroke="#ebcf7d"/><polygon points="200.9,33.6 203.6,31.1 201.1,29.9 198.4,32.4" stroke="#f6f340"/><polygon points="122.7,34.4 125.4,33.5 122.9,32.3 120.2,33.2" stroke="#f9fa2b"/><polygon points="182.6,65.2 185.3,53.2 182.8,52.0 180.1,64.0" stroke="#a6c488"/><polygon points="242.5,34.4 245.2,33.4 242.8,28.8 240.1,29.9" stroke="#f3ec4f"/><polygon points="164.4,70.9 167.1,77.0 164.6,82.6 161.9,76.5" stroke="#8dc195"/><polygon points="224.3,31.1 227.0,30.0 224.5,28.8 221.8,29.9" stroke="#f9fb2a"/><polygon points="146.1,61.5 148.8,65.4 146.3,52.4 143.6,48.5" stroke="#bdc37b"/><polygon points="206.0,32.3 208.7,30.8 206.3,29.6 203.6,31.1" stroke="#f8f931"/><polygon points="127.9,34.7 130.5,34.0 128.1,32.7 125.4,33.5" stroke="#f9fa2d"/><polygon points="187.8,54.4 190.5,43.5 188.0,42.4 185.3,53.2" stroke="#d4c17b"/><polygon points="109.6,35.2 112.3,34.1 109.8,32.9 107.1,34.0" stroke="#f9fb2a"/><polygon points="169.5,76.8 172.2,77.9 169.7,78.1 167.1,77.0" stroke="#76bba2"/><polygon points="229.5,31.2 232.2,30.2 229.7,28.9 227.0,30.0" stroke="#f9fa2b"/><polygon points="151.3,64.7 154.0,70.9 151.5,71.6 148.8,65.4" stroke="#afc482"/><polygon points="211.2,32.0 213.9,30.8 211.4,29.6 208.7,30.8" stroke="#f9fa2b"/><polygon points="133.0,36.9 135.7,36.5 133.2,33.6 130.5,34.0" stroke="#f5f243"/><polygon points="193.0,44.7 195.7,37.0 193.2,35.8 190.5,43.5" stroke="#edd179"/><polygon points="114.8,35.3 117.5,34.3 115.0,33.1 112.3,34.1" stroke="#f9fb2a"/><polygon points="174.7,79.0 177.4,74.0 174.9,72.9 172.2,77.9" stroke="#71b9a6"/><polygon points="234.7,32.0 237.4,30.9 234.9,29.1 232.2,30.2" stroke="#f8f833"/><polygon points="156.5,60.1 159.2,68.2 156.7,79.0 154.0,70.9" stroke="#c4c279"/><polygon points="216.4,32.0 219.1,30.9 216.6,29.8 213.9,30.8" stroke="#f9fb2a"/><polygon points="138.2,46.2 140.9,46.7 138.4,37.0 135.7,36.5" stroke="#edd376"/><polygon points="198.2,38.2 200.9,33.6 198.4,32.4 195.7,37.0" stroke="#f1e758"/><polygon points="120.0,35.4 122.7,34.4 120.2,33.2 117.5,34.3" stroke="#f9fb2a"/><polygon points="179.9,75.2 182.6,65.2 180.1,64.0 177.4,74.0" stroke="#7cbd9e"/><polygon points="239.9,35.5 242.5,34.4 240.1,29.9 237.4,30.9" stroke="#f3ec4f"/><polygon points="161.7,62.6 164.4,70.9 161.9,76.5 159.2,68.2" stroke="#bac37d"/><polygon points="221.6,32.1 224.3,31.1 221.8,29.9 219.1,30.9" stroke="#f9fb2a"/><polygon points="143.4,59.7 146.1,61.5 143.6,48.5 140.9,46.7" stroke="#c9c278"/><polygon points="203.3,34.8 206.0,32.3 203.6,31.1 200.9,33.6" stroke="#f6f340"/><polygon points="125.2,35.7 127.9,34.7 125.4,33.5 122.7,34.4" stroke="#f9fa2c"/><polygon points="185.1,66.4 187.8,54.4 185.3,53.2 182.6,65.2" stroke="#a6c488"/><polygon points="245.0,45.6 247.7,44.5 245.2,33.4 242.5,34.4" stroke="#eacc82"/><polygon points="106.9,36.3 109.6,35.2 107.1,34.0 104.4,35.1" stroke="#f9fb2a"/><polygon points="166.8,70.8 169.5,76.8 167.1,77.0 164.4,70.9" stroke="#94c291"/><polygon points="226.8,32.3 229.5,31.2 227.0,30.0 224.3,31.1" stroke="#f9fa2b"/><polygon points="148.6,60.9 151.3,64.7 148.8,65.4 146.1,61.5" stroke="#c5c279"/><polygon points="208.5,33.5 211.2,32.0 208.7,30.8 206.0,32.3" stroke="#f8f931"/><polygon points="130.3,37.6 133.0,36.9 130.5,34.0 127.9,34.7" stroke="#f6f341"/><polygon points="190.3,55.5 193.0,44.7 190.5,43.5 187.8,54.4" stroke="#d4c17b"/><polygon points="112.1,36.4 114.8,35.3 112.3,34.1 109.6,35.2" stroke="#f9fb2a"/><polygon points="172.0,77.9 174.7,79.0 172.2,77.9 169.5,76.8" stroke="#76bba2"/><polygon points="232.0,33.1 234.7,32.0 232.2,30.2 229.5,31.2" stroke="#f8f833"/><polygon points="153.8,53.9 156.5,60.1 154.0,70.9 151.3,64.7" stroke="#dfc384"/><polygon points="213.7,33.2 216.4,32.0 213.9,30.8 211.2,32.0" stroke="#f9fa2b"/><polygon points="135.5,46.5 138.2,46.2 135.7,36.5 133.0,36.9" stroke="#eed573"/><polygon points="195.5,45.9 198.2,38.2 195.7,37.0 193.0,44.7" stroke="#edd179"/><polygon points="117.3,36.5 120.0,35.4 117.5,34.3 114.8,35.3" stroke="#f9fb2a"/><polygon points="177.2,80.2 179.9,75.2 177.4,74.0 174.7,79.0" stroke="#71b9a6"/><polygon points="237.2,36.6 239.9,35.5 237.4,30.9 234.7,32.0" stroke="#f3ec4f"/><polygon points="159.0,54.5 161.7,62.6 159.2,68.2 156.5,60.1" stroke="#ddc283"/><polygon points="218.9,33.2 221.6,32.1 219.1,30.9 216.4,32.0" stroke="#f9fb2a"/><polygon points="140.7,59.2 143.4,59.7 140.9,46.7 138.2,46.2" stroke="#cfc179"/><polygon points="200.7,39.4 203.3,34.8 200.9,33.6 198.2,38.2" stroke="#f1e758"/><polygon points="122.5,36.7 125.2,35.7 122.7,34.4 120.0,35.4" stroke="#f9fa2c"/><polygon points="182.4,76.4 185.1,66.4 182.6,65.2 179.9,75.2" stroke="#7cbd9e"/><polygon points="242.3,46.6 245.0,45.6 242.5,34.4 239.9,35.5" stroke="#eacc82"/><polygon points="104.2,37.3 106.9,36.3 104.4,35.1 101.7,36.1" stroke="#f9fb2a"/><polygon points="164.1,62.4 166.8,70.8 164.4,70.9 161.7,62.6" stroke="#c0c37a"/><polygon points="224.1,33.4 226.8,32.3 224.3,31.1 221.6,32.1" stroke="#f9fa2b"/><polygon points="145.9,59.0 148.6,60.9 146.1,61.5 143.4,59.7" stroke="#d0c179"/><polygon points="205.8,36.0 208.5,33.5 206.0,32.3 203.3,34.8" stroke="#f6f340"/><polygon points="127.6,38.6 130.3,37.6 127.9,34.7 125.2,35.7" stroke="#f6f440"/><polygon points="187.6,67.6 190.3,55.5 187.8,54.4 185.1,66.4" stroke="#a6c488"/><polygon points="247.5,64.2 250.2,63.2 247.7,44.5 245.0,45.6" stroke="#acc484"/><polygon points="109.4,37.4 112.1,36.4 109.6,35.2 106.9,36.3" stroke="#f9fb2a"/><polygon points="169.3,71.9 172.0,77.9 169.5,76.8 166.8,70.8" stroke="#94c291"/><polygon points="229.3,34.1 232.0,33.1 229.5,31.2 226.8,32.3" stroke="#f8f833"/><polygon points="151.1,50.0 153.8,53.9 151.3,64.7 148.6,60.9" stroke="#eacd81"/><polygon points="211.0,34.7 213.7,33.2 211.2,32.0 208.5,33.5" stroke="#f8f931"/><polygon points="132.8,47.3 135.5,46.5 133.0,36.9 130.3,37.6" stroke="#eed671"/><polygon points="192.8,56.7 195.5,45.9 193.0,44.7 190.3,55.5" stroke="#d4c17b"/><polygon points="114.6,37.6 117.3,36.5 114.8,35.3 112.1,36.4" stroke="#f9fb2a"/><polygon points="174.5,79.1 177.2,80.2 174.7,79.0 172.0,77.9" stroke="#76bba2"/><polygon points="234.5,37.6 237.2,36.6 234.7,32.0 232.0,33.1" stroke="#f3ec4f"/><polygon points="156.3,48.3 159.0,54.5 156.5,60.1 153.8,53.9" stroke="#edd279"/><polygon points="216.2,34.4 218.9,33.2 216.4,32.0 213.7,33.2" stroke="#f9fa2c"/><polygon points="138.0,59.6 140.7,59.2 138.2,46.2 135.5,46.5" stroke="#d1c17a"/><polygon points="198.0,47.1 200.7,39.4 198.2,38.2 195.5,45.9" stroke="#edd179"/><polygon points="119.8,37.8 122.5,36.7 120.0,35.4 117.3,36.5" stroke="#f9fa2b"/><polygon points="179.7,81.4 182.4,76.4 179.9,75.2 177.2,80.2" stroke="#71b9a6"/><polygon points="239.6,47.7 242.3,46.6 239.9,35.5 237.2,36.6" stroke="#eacc82"/><polygon points="101.5,38.4 104.2,37.3 101.7,36.1 99.0,37.2" stroke="#f9fb2a"/><polygon points="161.5,54.3 164.1,62.4 161.7,62.6 159.0,54.5" stroke="#e2c487"/><polygon points="221.4,34.5 224.1,33.4 221.6,32.1 218.9,33.2" stroke="#f9fa2b"/><polygon points="143.2,58.6 145.9,59.0 143.4,59.7 140.7,59.2" stroke="#d6c17c"/><polygon points="203.1,40.6 205.8,36.0 203.3,34.8 200.7,39.4" stroke="#f1e758"/><polygon points="124.9,39.6 127.6,38.6 125.2,35.7 122.5,36.7" stroke="#f6f440"/><polygon points="184.9,77.6 187.6,67.6 185.1,66.4 182.4,76.4" stroke="#7cbd9e"/><polygon points="244.8,65.3 247.5,64.2 245.0,45.6 242.3,46.6" stroke="#acc484"/><polygon points="106.7,38.5 109.4,37.4 106.9,36.3 104.2,37.3" stroke="#f9fb2a"/><polygon points="166.6,63.5 169.3,71.9 166.8,70.8 164.1,62.4" stroke="#c0c37a"/><polygon points="226.6,35.2 229.3,34.1 226.8,32.3 224.1,33.4" stroke="#f8f833"/><polygon points="148.4,48.2 151.1,50.0 148.6,60.9 145.9,59.0" stroke="#eed574"/><polygon points="208.3,37.2 211.0,34.7 208.5,33.5 205.8,36.0" stroke="#f6f340"/><polygon points="130.1,48.3 132.8,47.3 130.3,37.6 127.6,38.6" stroke="#eed671"/><polygon points="190.1,68.8 192.8,56.7 190.3,55.5 187.6,67.6" stroke="#a6c488"/><polygon points="250.0,83.5 252.7,82.4 250.2,63.2 247.5,64.2" stroke="#66b4ac"/><polygon points="111.9,38.6 114.6,37.6 112.1,36.4 109.4,37.4" stroke="#f9fb2a"/><polygon points="171.8,73.0 174.5,79.1 172.0,77.9 169.3,71.9" stroke="#94c291"/><polygon points="231.8,38.7 234.5,37.6 232.0,33.1 229.3,34.1" stroke="#f3ec4f"/><polygon points="153.6,44.4 156.3,48.3 153.8,53.9 151.1,50.0" stroke="#f0e160"/><polygon points="213.5,35.9 216.2,34.4 213.7,33.2 211.0,34.7" stroke="#f8f931"/><polygon points="135.3,60.3 138.0,59.6 135.5,46.5 132.8,47.3" stroke="#d2c17b"/><polygon points="195.3,57.9 198.0,47.1 195.5,45.9 192.8,56.7" stroke="#d4c17b"/><polygon points="117.1,38.8 119.8,37.8 117.3,36.5 114.6,37.6" stroke="#f9fa2b"/><polygon points="177.0,80.3 179.7,81.4 177.2,80.2 174.5,79.1" stroke="#76bba2"/><polygon points="236.9,48.8 239.6,47.7 237.2,36.6 234.5,37.6" stroke="#eacc82"/><polygon points="98.8,39.5 101.5,38.4 99.0,37.2 96.3,38.3" stroke="#f9fb2a"/><polygon points="158.8,48.1 161.5,54.3 159.0,54.5 156.3,48.3" stroke="#eed572"/><polygon points="218.7,35.6 221.4,34.5 218.9,33.2 216.2,34.4" stroke="#f9fa2c"/><polygon points="140.5,58.9 143.2,58.6 140.7,59.2 138.0,59.6" stroke="#d8c27e"/><polygon points="200.4,48.3 203.1,40.6 200.7,39.4 198.0,47.1" stroke="#edd179"/><polygon points="122.3,40.7 124.9,39.6 122.5,36.7 119.8,37.8" stroke="#f6f43f"/><polygon points="182.2,82.6 184.9,77.6 182.4,76.4 179.7,81.4" stroke="#71b9a6"/><polygon points="242.1,66.4 244.8,65.3 242.3,46.6 239.6,47.7" stroke="#acc484"/><polygon points="104.0,39.6 106.7,38.5 104.2,37.3 101.5,38.4" stroke="#f9fb2a"/><polygon points="163.9,55.4 166.6,63.5 164.1,62.4 161.5,54.3" stroke="#e2c487"/><polygon points="223.9,36.3 226.6,35.2 224.1,33.4 221.4,34.5" stroke="#f8f833"/><polygon points="145.7,47.7 148.4,48.2 145.9,59.0 143.2,58.6" stroke="#efd96c"/><polygon points="205.6,41.8 208.3,37.2 205.8,36.0 203.1,40.6" stroke="#f1e758"/><polygon points="127.4,49.3 130.1,48.3 127.6,38.6 124.9,39.6" stroke="#eed770"/><polygon points="187.4,78.8 190.1,68.8 187.6,67.6 184.9,77.6" stroke="#7cbd9e"/><polygon points="247.3,84.5 250.0,83.5 247.5,64.2 244.8,65.3" stroke="#66b4ac"/><polygon points="109.2,39.7 111.9,38.6 109.4,37.4 106.7,38.5" stroke="#f9fb2a"/><polygon points="169.1,64.7 171.8,73.0 169.3,71.9 166.6,63.5" stroke="#c0c37a"/><polygon points="229.1,39.8 231.8,38.7 229.3,34.1 226.6,35.2" stroke="#f3ec4f"/><polygon points="150.9,42.6 153.6,44.4 151.1,50.0 148.4,48.2" stroke="#f3eb50"/><polygon points="210.8,38.4 213.5,35.9 211.0,34.7 208.3,37.2" stroke="#f6f340"/><polygon points="132.6,61.3 135.3,60.3 132.8,47.3 130.1,48.3" stroke="#d3c17b"/><polygon points="192.6,70.0 195.3,57.9 192.8,56.7 190.1,68.8" stroke="#a6c488"/><polygon points="252.5,92.2 255.2,91.2 252.7,82.4 250.0,83.5" stroke="#56aab7"/><polygon points="114.4,39.9 117.1,38.8 114.6,37.6 111.9,38.6" stroke="#f9fa2b"/><polygon points="174.3,74.2 177.0,80.3 174.5,79.1 171.8,73.0" stroke="#94c291"/><polygon points="234.3,49.8 236.9,48.8 234.5,37.6 231.8,38.7" stroke="#eacc82"/><polygon points="96.1,40.5 98.8,39.5 96.3,38.3 93.6,39.3" stroke="#f9fb2a"/><polygon points="156.1,44.3 158.8,48.1 156.3,48.3 153.6,44.4" stroke="#f1e659"/><polygon points="216.0,37.1 218.7,35.6 216.2,34.4 213.5,35.9" stroke="#f8f832"/><polygon points="137.8,59.7 140.5,58.9 138.0,59.6 135.3,60.3" stroke="#d9c27f"/><polygon points="197.7,59.1 200.4,48.3 198.0,47.1 195.3,57.9" stroke="#d4c17b"/><polygon points="119.6,41.7 122.3,40.7 119.8,37.8 117.1,38.8" stroke="#f6f43f"/><polygon points="179.5,81.5 182.2,82.6 179.7,81.4 177.0,80.3" stroke="#76bba2"/><polygon points="239.4,67.4 242.1,66.4 239.6,47.7 236.9,48.8" stroke="#acc484"/><polygon points="101.3,40.6 104.0,39.6 101.5,38.4 98.8,39.5" stroke="#f9fb2a"/><polygon points="161.2,49.2 163.9,55.4 161.5,54.3 158.8,48.1" stroke="#eed672"/><polygon points="221.2,37.5 223.9,36.3 221.4,34.5 218.7,35.6" stroke="#f8f834"/><polygon points="143.0,48.1 145.7,47.7 143.2,58.6 140.5,58.9" stroke="#efdc69"/><polygon points="202.9,49.5 205.6,41.8 203.1,40.6 200.4,48.3" stroke="#edd179"/><polygon points="124.7,50.3 127.4,49.3 124.9,39.6 122.3,40.7" stroke="#eed770"/><polygon points="184.7,83.8 187.4,78.8 184.9,77.6 182.2,82.6" stroke="#71b9a6"/><polygon points="244.6,85.6 247.3,84.5 244.8,65.3 242.1,66.4" stroke="#66b4ac"/><polygon points="106.5,40.8 109.2,39.7 106.7,38.5 104.0,39.6" stroke="#f9fb2a"/><polygon points="166.4,56.6 169.1,64.7 166.6,63.5 163.9,55.4" stroke="#e2c487"/><polygon points="226.4,40.9 229.1,39.8 226.6,35.2 223.9,36.3" stroke="#f3ec4f"/><polygon points="148.2,42.1 150.9,42.6 148.4,48.2 145.7,47.7" stroke="#f5f145"/><polygon points="208.1,42.9 210.8,38.4 208.3,37.2 205.6,41.8" stroke="#f1e758"/><polygon points="129.9,62.3 132.6,61.3 130.1,48.3 127.4,49.3" stroke="#d3c17b"/><polygon points="189.9,80.0 192.6,70.0 190.1,68.8 187.4,78.8" stroke="#7cbd9e"/><polygon points="249.8,93.3 252.5,92.2 250.0,83.5 247.3,84.5" stroke="#56aab7"/><polygon points="111.7,41.0 114.4,39.9 111.9,38.6 109.2,39.7" stroke="#f9fa2b"/><polygon points="171.6,65.9 174.3,74.2 171.8,73.0 169.1,64.7" stroke="#c0c37a"/><polygon points="231.6,50.9 234.3,49.8 231.8,38.7 229.1,39.8" stroke="#eacc82"/><polygon points="93.4,41.6 96.1,40.5 93.6,39.3 90.9,40.4" stroke="#f9fb2a"/><polygon points="153.4,42.4 156.1,44.3 153.6,44.4 150.9,42.6" stroke="#f5f047"/><polygon points="213.3,39.6 216.0,37.1 213.5,35.9 210.8,38.4" stroke="#f6f341"/><polygon points="135.1,60.6 137.8,59.7 135.3,60.3 132.6,61.3" stroke="#d9c280"/><polygon points="195.1,71.1 197.7,59.1 195.3,57.9 192.6,70.0" stroke="#a6c488"/><polygon points="255.0,86.3 257.7,85.3 255.2,91.2 252.5,92.2" stroke="#64b3ad"/><polygon points="116.9,42.8 119.6,41.7 117.1,38.8 114.4,39.9" stroke="#f6f43f"/><polygon points="176.8,75.4 179.5,81.5 177.0,80.3 174.3,74.2" stroke="#94c291"/><polygon points="236.7,68.5 239.4,67.4 236.9,48.8 234.3,49.8" stroke="#acc484"/><polygon points="98.6,41.7 101.3,40.6 98.8,39.5 96.1,40.5" stroke="#f9fb2a"/><polygon points="158.5,45.4 161.2,49.2 158.8,48.1 156.1,44.3" stroke="#f1e659"/><polygon points="218.5,38.9 221.2,37.5 218.7,35.6 216.0,37.1" stroke="#f7f639"/><polygon points="140.3,48.8 143.0,48.1 140.5,58.9 137.8,59.7" stroke="#efdd67"/><polygon points="200.2,60.3 202.9,49.5 200.4,48.3 197.7,59.1" stroke="#d4c17b"/><polygon points="122.0,51.4 124.7,50.3 122.3,40.7 119.6,41.7" stroke="#eed770"/><polygon points="182.0,82.7 184.7,83.8 182.2,82.6 179.5,81.5" stroke="#76bba2"/><polygon points="241.9,86.7 244.6,85.6 242.1,66.4 239.4,67.4" stroke="#66b4ac"/><polygon points="103.8,41.8 106.5,40.8 104.0,39.6 101.3,40.6" stroke="#f9fb2a"/><polygon points="163.7,50.4 166.4,56.6 163.9,55.4 161.2,49.2" stroke="#eed672"/><polygon points="223.7,42.0 226.4,40.9 223.9,36.3 221.2,37.5" stroke="#f3eb50"/><polygon points="145.5,42.5 148.2,42.1 145.7,47.7 143.0,48.1" stroke="#f6f440"/><polygon points="205.4,50.7 208.1,42.9 205.6,41.8 202.9,49.5" stroke="#edd179"/><polygon points="127.2,63.4 129.9,62.3 127.4,49.3 124.7,50.3" stroke="#d3c17b"/><polygon points="187.2,85.0 189.9,80.0 187.4,78.8 184.7,83.8" stroke="#71b9a6"/><polygon points="247.1,94.4 249.8,93.3 247.3,84.5 244.6,85.6" stroke="#56aab7"/><polygon points="109.0,42.1 111.7,41.0 109.2,39.7 106.5,40.8" stroke="#f9fa2b"/><polygon points="168.9,57.8 171.6,65.9 169.1,64.7 166.4,56.6" stroke="#e2c487"/><polygon points="228.9,52.0 231.6,50.9 229.1,39.8 226.4,40.9" stroke="#eacc82"/><polygon points="90.7,42.7 93.4,41.6 90.9,40.4 88.2,41.5" stroke="#f9fb2a"/><polygon points="150.7,42.0 153.4,42.4 150.9,42.6 148.2,42.1" stroke="#f7f63a"/><polygon points="210.6,44.2 213.3,39.6 210.8,38.4 208.1,42.9" stroke="#f1e658"/><polygon points="132.4,61.7 135.1,60.6 132.6,61.3 129.9,62.3" stroke="#dac280"/><polygon points="192.4,81.2 195.1,71.1 192.6,70.0 189.9,80.0" stroke="#7cbd9e"/><polygon points="252.3,87.4 255.0,86.3 252.5,92.2 249.8,93.3" stroke="#64b3ad"/><polygon points="114.2,43.9 116.9,42.8 114.4,39.9 111.7,41.0" stroke="#f6f43f"/><polygon points="174.1,67.1 176.8,75.4 174.3,74.2 171.6,65.9" stroke="#c0c37a"/><polygon points="234.0,69.6 236.7,68.5 234.3,49.8 231.6,50.9" stroke="#acc484"/><polygon points="95.9,42.8 98.6,41.7 96.1,40.5 93.4,41.6" stroke="#f9fb2a"/><polygon points="155.9,43.5 158.5,45.4 156.1,44.3 153.4,42.4" stroke="#f5f146"/><polygon points="215.8,41.4 218.5,38.9 216.0,37.1 213.3,39.6" stroke="#f5f146"/><polygon points="137.6,49.8 140.3,48.8 137.8,59.7 135.1,60.6" stroke="#efdd66"/><polygon points="197.5,72.3 200.2,60.3 197.7,59.1 195.1,71.1" stroke="#a6c488"/><polygon points="257.5,71.7 260.2,70.6 257.7,85.3 255.0,86.3" stroke="#9fc38b"/><polygon points="119.3,52.5 122.0,51.4 119.6,41.7 116.9,42.8" stroke="#eed770"/><polygon points="179.3,76.6 182.0,82.7 179.5,81.5 176.8,75.4" stroke="#94c291"/><polygon points="239.2,87.7 241.9,86.7 239.4,67.4 236.7,68.5" stroke="#66b4ac"/><polygon points="101.1,42.9 103.8,41.8 101.3,40.6 98.6,41.7" stroke="#f9fb2a"/><polygon points="161.0,46.6 163.7,50.4 161.2,49.2 158.5,45.4" stroke="#f1e659"/><polygon points="221.0,43.5 223.7,42.0 221.2,37.5 218.5,38.9" stroke="#f2ea53"/><polygon points="142.8,43.2 145.5,42.5 143.0,48.1 140.3,48.8" stroke="#f6f53e"/><polygon points="202.7,61.5 205.4,50.7 202.9,49.5 200.2,60.3" stroke="#d4c17b"/><polygon points="124.5,64.4 127.2,63.4 124.7,50.3 122.0,51.4" stroke="#d3c17b"/><polygon points="184.5,83.8 187.2,85.0 184.7,83.8 182.0,82.7" stroke="#76bba2"/><polygon points="244.4,95.4 247.1,94.4 244.6,85.6 241.9,86.7" stroke="#56aab7"/><polygon points="106.3,43.1 109.0,42.1 106.5,40.8 103.8,41.8" stroke="#f9fa2b"/><polygon points="166.2,51.6 168.9,57.8 166.4,56.6 163.7,50.4" stroke="#eed672"/><polygon points="226.2,53.1 228.9,52.0 226.4,40.9 223.7,42.0" stroke="#e9cc82"/><polygon points="88.0,43.7 90.7,42.7 88.2,41.5 85.5,42.5" stroke="#f9fb2a"/><polygon points="148.0,42.3 150.7,42.0 148.2,42.1 145.5,42.5" stroke="#f8f931"/><polygon points="207.9,51.9 210.6,44.2 208.1,42.9 205.4,50.7" stroke="#edd179"/><polygon points="129.7,62.7 132.4,61.7 129.9,62.3 127.2,63.4" stroke="#dac280"/><polygon points="189.7,86.1 192.4,81.2 189.9,80.0 187.2,85.0" stroke="#71b9a6"/><polygon points="249.6,88.5 252.3,87.4 249.8,93.3 247.1,94.4" stroke="#64b3ad"/><polygon points="111.5,44.9 114.2,43.9 111.7,41.0 109.0,42.1" stroke="#f6f43f"/><polygon points="171.4,59.0 174.1,67.1 171.6,65.9 168.9,57.8" stroke="#e2c487"/><polygon points="231.3,70.7 234.0,69.6 231.6,50.9 228.9,52.0" stroke="#acc484"/><polygon points="93.2,43.9 95.9,42.8 93.4,41.6 90.7,42.7" stroke="#f9fb2a"/><polygon points="153.2,43.0 155.9,43.5 153.4,42.4 150.7,42.0" stroke="#f7f639"/><polygon points="213.1,46.0 215.8,41.4 213.3,39.6 210.6,44.2" stroke="#f0e45b"/><polygon points="134.9,50.8 137.6,49.8 135.1,60.6 132.4,61.7" stroke="#efdd66"/><polygon points="194.8,82.3 197.5,72.3 195.1,71.1 192.4,81.2" stroke="#7cbd9e"/><polygon points="254.8,72.7 257.5,71.7 255.0,86.3 252.3,87.4" stroke="#9fc38b"/><polygon points="116.7,53.5 119.3,52.5 116.9,42.8 114.2,43.9" stroke="#eed770"/><polygon points="176.6,68.3 179.3,76.6 176.8,75.4 174.1,67.1" stroke="#c0c37a"/><polygon points="236.5,88.8 239.2,87.7 236.7,68.5 234.0,69.6" stroke="#66b4ac"/><polygon points="98.4,44.0 101.1,42.9 98.6,41.7 95.9,42.8" stroke="#f9fb2a"/><polygon points="158.3,44.7 161.0,46.6 158.5,45.4 155.9,43.5" stroke="#f5f146"/><polygon points="218.3,46.0 221.0,43.5 218.5,38.9 215.8,41.4" stroke="#f1e55b"/><polygon points="140.1,44.2 142.8,43.2 140.3,48.8 137.6,49.8" stroke="#f7f53d"/><polygon points="200.0,73.5 202.7,61.5 200.2,60.3 197.5,72.3" stroke="#a6c488"/><polygon points="260.0,57.3 262.7,56.2 260.2,70.6 257.5,71.7" stroke="#dfc385"/><polygon points="121.8,65.5 124.5,64.4 122.0,51.4 119.3,52.5" stroke="#d3c17b"/><polygon points="181.8,77.8 184.5,83.8 182.0,82.7 179.3,76.6" stroke="#94c291"/><polygon points="241.7,96.5 244.4,95.4 241.9,86.7 239.2,87.7" stroke="#56aab7"/><polygon points="103.6,44.2 106.3,43.1 103.8,41.8 101.1,42.9" stroke="#f9fa2b"/><polygon points="163.5,47.7 166.2,51.6 163.7,50.4 161.0,46.6" stroke="#f1e659"/><polygon points="223.5,54.6 226.2,53.1 223.7,42.0 221.0,43.5" stroke="#e9cb84"/><polygon points="85.3,44.8 88.0,43.7 85.5,42.5 82.8,43.6" stroke="#f9fb2a"/><polygon points="145.3,43.1 148.0,42.3 145.5,42.5 142.8,43.2" stroke="#f9fa2e"/><polygon points="205.2,62.7 207.9,51.9 205.4,50.7 202.7,61.5" stroke="#d4c17b"/><polygon points="127.0,63.8 129.7,62.7 127.2,63.4 124.5,64.4" stroke="#dac280"/><polygon points="187.0,85.0 189.7,86.1 187.2,85.0 184.5,83.8" stroke="#76bba2"/><polygon points="246.9,89.5 249.6,88.5 247.1,94.4 244.4,95.4" stroke="#64b3ad"/><polygon points="108.8,46.0 111.5,44.9 109.0,42.1 106.3,43.1" stroke="#f6f43f"/><polygon points="168.7,52.8 171.4,59.0 168.9,57.8 166.2,51.6" stroke="#eed672"/><polygon points="228.7,71.8 231.3,70.7 228.9,52.0 226.2,53.1" stroke="#acc484"/><polygon points="90.5,44.9 93.2,43.9 90.7,42.7 88.0,43.7" stroke="#f9fb2a"/><polygon points="150.5,43.4 153.2,43.0 150.7,42.0 148.0,42.3" stroke="#f8f930"/><polygon points="210.4,53.8 213.1,46.0 210.6,44.2 207.9,51.9" stroke="#eccf7c"/><polygon points="132.2,51.9 134.9,50.8 132.4,61.7 129.7,62.7" stroke="#efdd66"/><polygon points="192.1,87.3 194.8,82.3 192.4,81.2 189.7,86.1" stroke="#71b9a6"/><polygon points="252.1,73.8 254.8,72.7 252.3,87.4 249.6,88.5" stroke="#9fc38b"/><polygon points="114.0,54.6 116.7,53.5 114.2,43.9 111.5,44.9" stroke="#eed770"/><polygon points="173.9,60.2 176.6,68.3 174.1,67.1 171.4,59.0" stroke="#e2c487"/><polygon points="233.8,89.9 236.5,88.8 234.0,69.6 231.3,70.7" stroke="#66b4ac"/><polygon points="95.7,45.0 98.4,44.0 95.9,42.8 93.2,43.9" stroke="#f9fb2a"/><polygon points="155.6,44.2 158.3,44.7 155.9,43.5 153.2,43.0" stroke="#f7f639"/><polygon points="215.6,50.6 218.3,46.0 215.8,41.4 213.1,46.0" stroke="#efd96d"/><polygon points="137.4,45.2 140.1,44.2 137.6,49.8 134.9,50.8" stroke="#f7f53c"/><polygon points="197.3,83.5 200.0,73.5 197.5,72.3 194.8,82.3" stroke="#7cbd9e"/><polygon points="257.3,58.3 260.0,57.3 257.5,71.7 254.8,72.7" stroke="#dfc385"/><polygon points="119.1,66.6 121.8,65.5 119.3,52.5 116.7,53.5" stroke="#d3c17b"/><polygon points="179.1,69.5 181.8,77.8 179.3,76.6 176.6,68.3" stroke="#c0c37a"/><polygon points="239.0,97.6 241.7,96.5 239.2,87.7 236.5,88.8" stroke="#56aab7"/><polygon points="100.9,45.3 103.6,44.2 101.1,42.9 98.4,44.0" stroke="#f9fa2b"/><polygon points="160.8,45.9 163.5,47.7 161.0,46.6 158.3,44.7" stroke="#f5f146"/><polygon points="220.8,57.1 223.5,54.6 221.0,43.5 218.3,46.0" stroke="#e6c888"/><polygon points="82.6,45.9 85.3,44.8 82.8,43.6 80.1,44.7" stroke="#f9fb2a"/><polygon points="142.6,44.0 145.3,43.1 142.8,43.2 140.1,44.2" stroke="#f9fa2c"/><polygon points="202.5,74.8 205.2,62.7 202.7,61.5 200.0,73.5" stroke="#a6c488"/><polygon points="262.5,48.0 265.2,47.0 262.7,56.2 260.0,57.3" stroke="#efdd66"/><polygon points="124.3,64.8 127.0,63.8 124.5,64.4 121.8,65.5" stroke="#dac280"/><polygon points="184.3,79.0 187.0,85.0 184.5,83.8 181.8,77.8" stroke="#94c291"/><polygon points="244.2,90.6 246.9,89.5 244.4,95.4 241.7,96.5" stroke="#64b3ad"/><polygon points="106.1,47.1 108.8,46.0 106.3,43.1 103.6,44.2" stroke="#f6f43f"/><polygon points="166.0,48.9 168.7,52.8 166.2,51.6 163.5,47.7" stroke="#f1e659"/><polygon points="226.0,73.3 228.7,71.8 226.2,53.1 223.5,54.6" stroke="#aac486"/><polygon points="87.8,46.0 90.5,44.9 88.0,43.7 85.3,44.8" stroke="#f9fb2a"/><polygon points="147.8,44.2 150.5,43.4 148.0,42.3 145.3,43.1" stroke="#f9fa2c"/><polygon points="207.7,64.6 210.4,53.8 207.9,51.9 205.2,62.7" stroke="#d1c17a"/><polygon points="129.5,52.9 132.2,51.9 129.7,62.7 127.0,63.8" stroke="#efdd66"/><polygon points="189.5,86.2 192.1,87.3 189.7,86.1 187.0,85.0" stroke="#76bba2"/><polygon points="249.4,74.9 252.1,73.8 249.6,88.5 246.9,89.5" stroke="#9fc38b"/><polygon points="111.3,55.7 114.0,54.6 111.5,44.9 108.8,46.0" stroke="#eed770"/><polygon points="171.2,54.0 173.9,60.2 171.4,59.0 168.7,52.8" stroke="#eed672"/><polygon points="231.1,91.0 233.8,89.9 231.3,70.7 228.7,71.8" stroke="#66b4ac"/><polygon points="93.0,46.1 95.7,45.0 93.2,43.9 90.5,44.9" stroke="#f9fb2a"/><polygon points="152.9,44.6 155.6,44.2 153.2,43.0 150.5,43.4" stroke="#f8f930"/><polygon points="212.9,58.3 215.6,50.6 213.1,46.0 210.4,53.8" stroke="#e6c788"/><polygon points="134.7,46.3 137.4,45.2 134.9,50.8 132.2,51.9" stroke="#f7f53c"/><polygon points="194.6,88.5 197.3,83.5 194.8,82.3 192.1,87.3" stroke="#71b9a6"/><polygon points="254.6,59.4 257.3,58.3 254.8,72.7 252.1,73.8" stroke="#dfc385"/><polygon points="116.4,67.6 119.1,66.6 116.7,53.5 114.0,54.6" stroke="#d3c17b"/><polygon points="176.4,61.4 179.1,69.5 176.6,68.3 173.9,60.2" stroke="#e2c487"/><polygon points="236.3,98.7 239.0,97.6 236.5,88.8 233.8,89.9" stroke="#56aab7"/><polygon points="98.2,46.3 100.9,45.3 98.4,44.0 95.7,45.0" stroke="#f9fa2b"/><polygon points="158.1,45.4 160.8,45.9 158.3,44.7 155.6,44.2" stroke="#f7f639"/><polygon points="218.1,61.7 220.8,57.1 218.3,46.0 215.6,50.6" stroke="#dcc282"/><polygon points="79.9,46.9 82.6,45.9 80.1,44.7 77.5,45.7" stroke="#f9fb2a"/><polygon points="139.9,45.1 142.6,44.0 140.1,44.2 137.4,45.2" stroke="#f9fa2c"/><polygon points="199.8,84.8 202.5,74.8 200.0,73.5 197.3,83.5" stroke="#7cbd9e"/><polygon points="259.8,49.1 262.5,48.0 260.0,57.3 257.3,58.3" stroke="#efdd66"/><polygon points="121.6,65.9 124.3,64.8 121.8,65.5 119.1,66.6" stroke="#dac280"/><polygon points="181.6,70.6 184.3,79.0 181.8,77.8 179.1,69.5" stroke="#c0c37a"/><polygon points="241.5,91.7 244.2,90.6 241.7,96.5 239.0,97.6" stroke="#64b3ad"/><polygon points="103.4,48.2 106.1,47.1 103.6,44.2 100.9,45.3" stroke="#f6f43f"/><polygon points="163.3,47.1 166.0,48.9 163.5,47.7 160.8,45.9" stroke="#f5f146"/><polygon points="223.3,75.8 226.0,73.3 223.5,54.6 220.8,57.1" stroke="#a3c489"/><polygon points="85.1,47.1 87.8,46.0 85.3,44.8 82.6,45.9" stroke="#f9fb2a"/><polygon points="145.1,45.1 147.8,44.2 145.3,43.1 142.6,44.0" stroke="#f9fa2b"/><polygon points="205.0,76.6 207.7,64.6 205.2,62.7 202.5,74.8" stroke="#a2c38a"/><polygon points="264.9,44.0 267.6,42.9 265.2,47.0 262.5,48.0" stroke="#f4f048"/><polygon points="126.8,54.0 129.5,52.9 127.0,63.8 124.3,64.8" stroke="#efdd66"/><polygon points="186.8,80.2 189.5,86.2 187.0,85.0 184.3,79.0" stroke="#94c291"/><polygon points="246.7,76.0 249.4,74.9 246.9,89.5 244.2,90.6" stroke="#9fc38b"/><polygon points="108.6,56.7 111.3,55.7 108.8,46.0 106.1,47.1" stroke="#eed770"/><polygon points="168.5,50.1 171.2,54.0 168.7,52.8 166.0,48.9" stroke="#f1e659"/><polygon points="228.4,92.5 231.1,91.0 228.7,71.8 226.0,73.3" stroke="#64b3ad"/><polygon points="90.3,47.2 93.0,46.1 90.5,44.9 87.8,46.0" stroke="#f9fb2a"/><polygon points="150.3,45.3 152.9,44.6 150.5,43.4 147.8,44.2" stroke="#f9fa2c"/><polygon points="210.2,69.1 212.9,58.3 210.4,53.8 207.7,64.6" stroke="#c4c279"/><polygon points="132.0,47.3 134.7,46.3 132.2,51.9 129.5,52.9" stroke="#f7f53c"/><polygon points="191.9,87.4 194.6,88.5 192.1,87.3 189.5,86.2" stroke="#76bba2"/><polygon points="251.9,60.5 254.6,59.4 252.1,73.8 249.4,74.9" stroke="#dfc385"/><polygon points="113.7,68.7 116.4,67.6 114.0,54.6 111.3,55.7" stroke="#d3c17b"/><polygon points="173.7,55.2 176.4,61.4 173.9,60.2 171.2,54.0" stroke="#eed672"/><polygon points="233.6,99.8 236.3,98.7 233.8,89.9 231.1,91.0" stroke="#56aab7"/><polygon points="95.5,47.4 98.2,46.3 95.7,45.0 93.0,46.1" stroke="#f9fa2b"/><polygon points="155.4,45.8 158.1,45.4 155.6,44.2 152.9,44.6" stroke="#f8f930"/><polygon points="215.4,69.4 218.1,61.7 215.6,50.6 212.9,58.3" stroke="#c4c279"/><polygon points="77.2,48.0 79.9,46.9 77.5,45.7 74.8,46.8" stroke="#f9fb2a"/><polygon points="137.2,46.1 139.9,45.1 137.4,45.2 134.7,46.3" stroke="#f9fa2b"/><polygon points="197.1,89.8 199.8,84.8 197.3,83.5 194.6,88.5" stroke="#71b9a6"/><polygon points="257.1,50.2 259.8,49.1 257.3,58.3 254.6,59.4" stroke="#efdd66"/><polygon points="118.9,67.0 121.6,65.9 119.1,66.6 116.4,67.6" stroke="#dac280"/><polygon points="178.9,62.6 181.6,70.6 179.1,69.5 176.4,61.4" stroke="#e2c487"/><polygon points="238.8,92.8 241.5,91.7 239.0,97.6 236.3,98.7" stroke="#64b3ad"/><polygon points="100.7,49.2 103.4,48.2 100.9,45.3 98.2,46.3" stroke="#f6f43f"/><polygon points="160.6,46.6 163.3,47.1 160.8,45.9 158.1,45.4" stroke="#f7f639"/><polygon points="220.6,80.4 223.3,75.8 220.8,57.1 218.1,61.7" stroke="#91c293"/><polygon points="82.4,48.1 85.1,47.1 82.6,45.9 79.9,46.9" stroke="#f9fb2a"/><polygon points="142.4,46.1 145.1,45.1 142.6,44.0 139.9,45.1" stroke="#f9fb2a"/><polygon points="202.3,86.6 205.0,76.6 202.5,74.8 199.8,84.8" stroke="#79bda0"/><polygon points="262.3,45.1 264.9,44.0 262.5,48.0 259.8,49.1" stroke="#f4f048"/><polygon points="124.1,55.1 126.8,54.0 124.3,64.8 121.6,65.9" stroke="#efdd66"/><polygon points="184.1,71.8 186.8,80.2 184.3,79.0 181.6,70.6" stroke="#c0c37a"/><polygon points="244.0,77.0 246.7,76.0 244.2,90.6 241.5,91.7" stroke="#9fc38b"/><polygon points="105.9,57.8 108.6,56.7 106.1,47.1 103.4,48.2" stroke="#eed770"/><polygon points="165.8,48.3 168.5,50.1 166.0,48.9 163.3,47.1" stroke="#f5f146"/><polygon points="225.7,95.0 228.4,92.5 226.0,73.3 223.3,75.8" stroke="#5db1ae"/><polygon points="87.6,48.2 90.3,47.2 87.8,46.0 85.1,47.1" stroke="#f9fb2a"/><polygon points="147.6,46.3 150.3,45.3 147.8,44.2 145.1,45.1" stroke="#f9fa2b"/><polygon points="207.5,81.2 210.2,69.1 207.7,64.6 205.0,76.6" stroke="#92c293"/><polygon points="267.4,43.1 270.1,42.0 267.6,42.9 264.9,44.0" stroke="#f8f735"/><polygon points="129.3,48.4 132.0,47.3 129.5,52.9 126.8,54.0" stroke="#f7f53c"/><polygon points="189.2,81.4 191.9,87.4 189.5,86.2 186.8,80.2" stroke="#94c291"/><polygon points="249.2,61.5 251.9,60.5 249.4,74.9 246.7,76.0" stroke="#dfc385"/><polygon points="111.1,69.8 113.7,68.7 111.3,55.7 108.6,56.7" stroke="#d3c17b"/><polygon points="171.0,51.3 173.7,55.2 171.2,54.0 168.5,50.1" stroke="#f1e659"/><polygon points="230.9,101.3 233.6,99.8 231.1,91.0 228.4,92.5" stroke="#58a9b8"/><polygon points="92.8,48.5 95.5,47.4 93.0,46.1 90.3,47.2" stroke="#f9fa2b"/><polygon points="152.7,46.5 155.4,45.8 152.9,44.6 150.3,45.3" stroke="#f9fa2c"/><polygon points="212.7,80.3 215.4,69.4 212.9,58.3 210.2,69.1" stroke="#97c390"/><polygon points="74.5,49.1 77.2,48.0 74.8,46.8 72.1,47.9" stroke="#f9fb2a"/><polygon points="134.5,47.2 137.2,46.1 134.7,46.3 132.0,47.3" stroke="#f9fa2b"/><polygon points="194.4,88.7 197.1,89.8 194.6,88.5 191.9,87.4" stroke="#76bba2"/><polygon points="254.4,51.2 257.1,50.2 254.6,59.4 251.9,60.5" stroke="#efdd66"/><polygon points="116.2,68.0 118.9,67.0 116.4,67.6 113.7,68.7" stroke="#dac280"/><polygon points="176.2,56.4 178.9,62.6 176.4,61.4 173.7,55.2" stroke="#eed672"/><polygon points="236.1,93.9 238.8,92.8 236.3,98.7 233.6,99.8" stroke="#64b3ad"/><polygon points="98.0,50.3 100.7,49.2 98.2,46.3 95.5,47.4" stroke="#f6f43f"/><polygon points="157.9,47.0 160.6,46.6 158.1,45.4 155.4,45.8" stroke="#f8f930"/><polygon points="217.9,88.1 220.6,80.4 218.1,61.7 215.4,69.4" stroke="#76bba2"/><polygon points="79.7,49.2 82.4,48.1 79.9,46.9 77.2,48.0" stroke="#f9fb2a"/><polygon points="139.7,47.2 142.4,46.1 139.9,45.1 137.2,46.1" stroke="#f9fb2a"/><polygon points="199.6,91.6 202.3,86.6 199.8,84.8 197.1,89.8" stroke="#6fb8a8"/><polygon points="259.6,46.1 262.3,45.1 259.8,49.1 257.1,50.2" stroke="#f4f048"/><polygon points="121.4,56.1 124.1,55.1 121.6,65.9 118.9,67.0" stroke="#efdd66"/><polygon points="181.4,63.7 184.1,71.8 181.6,70.6 178.9,62.6" stroke="#e2c487"/><polygon points="241.3,78.1 244.0,77.0 241.5,91.7 238.8,92.8" stroke="#9fc38b"/><polygon points="103.2,58.9 105.9,57.8 103.4,48.2 100.7,49.2" stroke="#eed770"/><polygon points="163.1,47.8 165.8,48.3 163.3,47.1 160.6,46.6" stroke="#f7f639"/><polygon points="223.1,99.6 225.7,95.0 223.3,75.8 220.6,80.4" stroke="#53abb3"/><polygon points="84.9,49.3 87.6,48.2 85.1,47.1 82.4,48.1" stroke="#f9fb2a"/><polygon points="144.9,47.3 147.6,46.3 145.1,45.1 142.4,46.1" stroke="#f9fb2a"/><polygon points="204.8,91.2 207.5,81.2 205.0,76.6 202.3,86.6" stroke="#71b9a7"/><polygon points="264.7,44.2 267.4,43.1 264.9,44.0 262.3,45.1" stroke="#f8f735"/><polygon points="126.6,49.5 129.3,48.4 126.8,54.0 124.1,55.1" stroke="#f7f53c"/><polygon points="186.5,73.0 189.2,81.4 186.8,80.2 184.1,71.8" stroke="#c0c37a"/><polygon points="246.5,62.6 249.2,61.5 246.7,76.0 244.0,77.0" stroke="#dfc385"/><polygon points="108.4,70.9 111.1,69.8 108.6,56.7 105.9,57.8" stroke="#d3c17b"/><polygon points="168.3,49.5 171.0,51.3 168.5,50.1 165.8,48.3" stroke="#f5f146"/><polygon points="228.2,103.8 230.9,101.3 228.4,92.5 225.7,95.0" stroke="#5ca8bb"/><polygon points="90.1,49.5 92.8,48.5 90.3,47.2 87.6,48.2" stroke="#f9fa2b"/><polygon points="150.0,47.5 152.7,46.5 150.3,45.3 147.6,46.3" stroke="#f9fa2b"/><polygon points="210.0,92.3 212.7,80.3 210.2,69.1 207.5,81.2" stroke="#6fb8a8"/><polygon points="269.9,43.6 272.6,42.6 270.1,42.0 267.4,43.1" stroke="#f9fa2d"/><polygon points="71.9,50.1 74.5,49.1 72.1,47.9 69.4,49.0" stroke="#f9fb2a"/><polygon points="131.8,48.2 134.5,47.2 132.0,47.3 129.3,48.4" stroke="#f9fa2b"/><polygon points="191.7,82.6 194.4,88.7 191.9,87.4 189.2,81.4" stroke="#94c291"/><polygon points="251.7,52.3 254.4,51.2 251.9,60.5 249.2,61.5" stroke="#efdd66"/><polygon points="113.5,69.1 116.2,68.0 113.7,68.7 111.1,69.8" stroke="#dac280"/><polygon points="173.5,52.5 176.2,56.4 173.7,55.2 171.0,51.3" stroke="#f1e659"/><polygon points="233.4,95.4 236.1,93.9 233.6,99.8 230.9,101.3" stroke="#62b2ad"/><polygon points="95.3,51.4 98.0,50.3 95.5,47.4 92.8,48.5" stroke="#f6f43f"/><polygon points="155.2,47.7 157.9,47.0 155.4,45.8 152.7,46.5" stroke="#f9fa2c"/><polygon points="215.2,98.9 217.9,88.1 215.4,69.4 212.7,80.3" stroke="#55adb0"/><polygon points="77.0,50.3 79.7,49.2 77.2,48.0 74.5,49.1" stroke="#f9fb2a"/><polygon points="137.0,48.3 139.7,47.2 137.2,46.1 134.5,47.2" stroke="#f9fb2a"/><polygon points="196.9,90.5 199.6,91.6 197.1,89.8 194.4,88.7" stroke="#74bba3"/><polygon points="256.9,47.2 259.6,46.1 257.1,50.2 254.4,51.2" stroke="#f4f048"/><polygon points="118.7,57.2 121.4,56.1 118.9,67.0 116.2,68.0" stroke="#efdd66"/><polygon points="178.7,57.5 181.4,63.7 178.9,62.6 176.2,56.4" stroke="#eed672"/><polygon points="238.6,79.3 241.3,78.1 238.8,92.8 236.1,93.9" stroke="#9fc38c"/><polygon points="100.5,60.0 103.2,58.9 100.7,49.2 98.0,50.3" stroke="#eed770"/><polygon points="160.4,48.1 163.1,47.8 160.6,46.6 157.9,47.0" stroke="#f8f930"/><polygon points="220.4,107.3 223.1,99.6 220.6,80.4 217.9,88.1" stroke="#60a5bf"/><polygon points="82.2,50.4 84.9,49.3 82.4,48.1 79.7,49.2" stroke="#f9fb2a"/><polygon points="142.2,48.4 144.9,47.3 142.4,46.1 139.7,47.2" stroke="#f9fb2a"/><polygon points="202.1,96.2 204.8,91.2 202.3,86.6 199.6,91.6" stroke="#65b3ad"/><polygon points="262.0,45.2 264.7,44.2 262.3,45.1 259.6,46.1" stroke="#f8f735"/><polygon points="123.9,50.5 126.6,49.5 124.1,55.1 121.4,56.1" stroke="#f7f53c"/><polygon points="183.9,64.9 186.5,73.0 184.1,71.8 181.4,63.7" stroke="#e2c487"/><polygon points="243.8,63.7 246.5,62.6 244.0,77.0 241.3,78.1" stroke="#dfc385"/><polygon points="105.7,71.9 108.4,70.9 105.9,57.8 103.2,58.9" stroke="#d3c17b"/><polygon points="165.6,49.0 168.3,49.5 165.8,48.3 163.1,47.8" stroke="#f7f639"/><polygon points="225.5,108.4 228.2,103.8 225.7,95.0 223.1,99.6" stroke="#61a4bf"/><polygon points="87.4,50.6 90.1,49.5 87.6,48.2 84.9,49.3" stroke="#f9fa2b"/><polygon points="147.3,48.5 150.0,47.5 147.6,46.3 144.9,47.3" stroke="#f9fb2a"/><polygon points="207.3,102.3 210.0,92.3 207.5,81.2 204.8,91.2" stroke="#53abb4"/><polygon points="267.2,44.7 269.9,43.6 267.4,43.1 264.7,44.2" stroke="#f9fa2d"/><polygon points="69.2,51.2 71.9,50.1 69.4,49.0 66.7,50.0" stroke="#f9fb2a"/><polygon points="129.1,49.3 131.8,48.2 129.3,48.4 126.6,49.5" stroke="#f9fa2b"/><polygon points="189.0,74.3 191.7,82.6 189.2,81.4 186.5,73.0" stroke="#c0c37a"/><polygon points="249.0,53.4 251.7,52.3 249.2,61.5 246.5,62.6" stroke="#efdd66"/><polygon points="110.8,70.2 113.5,69.1 111.1,69.8 108.4,70.9" stroke="#dac280"/><polygon points="170.8,50.6 173.5,52.5 171.0,51.3 168.3,49.5" stroke="#f5f146"/><polygon points="230.7,97.9 233.4,95.4 230.9,101.3 228.2,103.8" stroke="#5ab0af"/><polygon points="92.6,52.4 95.3,51.4 92.8,48.5 90.1,49.5" stroke="#f6f43f"/><polygon points="152.5,48.7 155.2,47.7 152.7,46.5 150.0,47.5" stroke="#f9fa2b"/><polygon points="212.5,111.0 215.2,98.9 212.7,80.3 210.0,92.3" stroke="#62a1c0"/><polygon points="272.4,44.7 275.1,43.6 272.6,42.6 269.9,43.6" stroke="#f9fb2b"/><polygon points="74.3,51.3 77.0,50.3 74.5,49.1 71.9,50.1" stroke="#f9fb2a"/><polygon points="134.3,49.3 137.0,48.3 134.5,47.2 131.8,48.2" stroke="#f9fb2a"/><polygon points="194.2,84.5 196.9,90.5 194.4,88.7 191.7,82.6" stroke="#91c293"/><polygon points="254.2,48.3 256.9,47.2 254.4,51.2 251.7,52.3" stroke="#f4f048"/><polygon points="116.0,58.3 118.7,57.2 116.2,68.0 113.5,69.1" stroke="#efdd66"/><polygon points="176.0,53.7 178.7,57.5 176.2,56.4 173.5,52.5" stroke="#f1e659"/><polygon points="235.9,80.8 238.6,79.3 236.1,93.9 233.4,95.4" stroke="#9dc38d"/><polygon points="97.8,61.0 100.5,60.0 98.0,50.3 95.3,51.4" stroke="#eed770"/><polygon points="157.7,48.9 160.4,48.1 157.9,47.0 155.2,47.7" stroke="#f9fa2c"/><polygon points="217.7,118.2 220.4,107.3 217.9,88.1 215.2,98.9" stroke="#6594c4"/><polygon points="79.5,51.5 82.2,50.4 79.7,49.2 77.0,50.3" stroke="#f9fb2a"/><polygon points="139.5,49.5 142.2,48.4 139.7,47.2 137.0,48.3" stroke="#f9fb2a"/><polygon points="199.4,95.1 202.1,96.2 199.6,91.6 196.9,90.5" stroke="#6db7aa"/><polygon points="259.3,46.3 262.0,45.2 259.6,46.1 256.9,47.2" stroke="#f8f735"/><polygon points="121.2,51.6 123.9,50.5 121.4,56.1 118.7,57.2" stroke="#f7f53c"/><polygon points="181.2,58.7 183.9,64.9 181.4,63.7 178.7,57.5" stroke="#eed672"/><polygon points="241.1,64.9 243.8,63.7 241.3,78.1 238.6,79.3" stroke="#dfc385"/><polygon points="103.0,73.0 105.7,71.9 103.2,58.9 100.5,60.0" stroke="#d3c17b"/><polygon points="162.9,49.3 165.6,49.0 163.1,47.8 160.4,48.1" stroke="#f8f930"/><polygon points="222.8,116.1 225.5,108.4 223.1,99.6 220.4,107.3" stroke="#6498c3"/><polygon points="84.7,51.7 87.4,50.6 84.9,49.3 82.2,50.4" stroke="#f9fa2b"/><polygon points="144.7,49.6 147.3,48.5 144.9,47.3 142.2,48.4" stroke="#f9fb2a"/><polygon points="204.6,107.3 207.3,102.3 204.8,91.2 202.1,96.2" stroke="#5ea8bc"/><polygon points="264.5,45.8 267.2,44.7 264.7,44.2 262.0,45.2" stroke="#f9fa2d"/><polygon points="66.5,52.3 69.2,51.2 66.7,50.0 64.0,51.1" stroke="#f9fb2a"/><polygon points="126.4,50.4 129.1,49.3 126.6,49.5 123.9,50.5" stroke="#f9fa2b"/><polygon points="186.3,66.2 189.0,74.3 186.5,73.0 183.9,64.9" stroke="#e2c487"/><polygon points="246.3,54.5 249.0,53.4 246.5,62.6 243.8,63.7" stroke="#efdd66"/><polygon points="108.1,71.3 110.8,70.2 108.4,70.9 105.7,71.9" stroke="#dac280"/><polygon points="168.1,50.2 170.8,50.6 168.3,49.5 165.6,49.0" stroke="#f7f639"/><polygon points="228.0,102.5 230.7,97.9 228.2,103.8 225.5,108.4" stroke="#52abb4"/><polygon points="89.9,53.5 92.6,52.4 90.1,49.5 87.4,50.6" stroke="#f6f43f"/><polygon points="149.8,49.7 152.5,48.7 150.0,47.5 147.3,48.5" stroke="#f9fb2a"/><polygon points="209.8,121.0 212.5,111.0 210.0,92.3 207.3,102.3" stroke="#6490c5"/><polygon points="269.7,45.7 272.4,44.7 269.9,43.6 267.2,44.7" stroke="#f9fb2b"/><polygon points="71.6,52.4 74.3,51.3 71.9,50.1 69.2,51.2" stroke="#f9fb2a"/><polygon points="131.6,50.4 134.3,49.3 131.8,48.2 129.1,49.3" stroke="#f9fb2a"/><polygon points="191.5,76.1 194.2,84.5 191.7,82.6 189.0,74.3" stroke="#bdc37b"/><polygon points="251.5,49.3 254.2,48.3 251.7,52.3 249.0,53.4" stroke="#f4f048"/><polygon points="113.3,59.3 116.0,58.3 113.5,69.1 110.8,70.2" stroke="#efdd66"/><polygon points="173.3,51.8 176.0,53.7 173.5,52.5 170.8,50.6" stroke="#f5f146"/><polygon points="233.2,83.2 235.9,80.8 233.4,95.4 230.7,97.9" stroke="#96c390"/><polygon points="95.1,62.1 97.8,61.0 95.3,51.4 92.6,52.4" stroke="#eed770"/><polygon points="155.0,49.9 157.7,48.9 155.2,47.7 152.5,48.7" stroke="#f9fa2b"/><polygon points="215.0,130.2 217.7,118.2 215.2,98.9 212.5,111.0" stroke="#6a7bc4"/><polygon points="274.9,45.8 277.6,44.7 275.1,43.6 272.4,44.7" stroke="#f9fb2a"/><polygon points="76.8,52.5 79.5,51.5 77.0,50.3 74.3,51.3" stroke="#f9fb2a"/><polygon points="136.8,50.5 139.5,49.5 137.0,48.3 134.3,49.3" stroke="#f9fb2a"/><polygon points="196.7,89.0 199.4,95.1 196.9,90.5 194.2,84.5" stroke="#81bf9b"/><polygon points="256.7,47.4 259.3,46.3 256.9,47.2 254.2,48.3" stroke="#f8f735"/><polygon points="118.5,52.7 121.2,51.6 118.7,57.2 116.0,58.3" stroke="#f7f53c"/><polygon points="178.5,54.9 181.2,58.7 178.7,57.5 176.0,53.7" stroke="#f1e659"/><polygon points="238.4,66.3 241.1,64.9 238.6,79.3 235.9,80.8" stroke="#dec283"/><polygon points="100.3,74.1 103.0,73.0 100.5,60.0 97.8,61.0" stroke="#d3c17b"/><polygon points="160.2,50.1 162.9,49.3 160.4,48.1 157.7,48.9" stroke="#f9fa2c"/><polygon points="220.1,126.9 222.8,116.1 220.4,107.3 217.7,118.2" stroke="#6883c6"/><polygon points="82.0,52.7 84.7,51.7 82.2,50.4 79.5,51.5" stroke="#f9fa2b"/><polygon points="142.0,50.6 144.7,49.6 142.2,48.4 139.5,49.5" stroke="#f9fb2a"/><polygon points="201.9,106.2 204.6,107.3 202.1,96.2 199.4,95.1" stroke="#57aab8"/><polygon points="261.8,46.8 264.5,45.8 262.0,45.2 259.3,46.3" stroke="#f9fa2d"/><polygon points="63.8,53.3 66.5,52.3 64.0,51.1 61.3,52.2" stroke="#f9fb2a"/><polygon points="123.7,51.4 126.4,50.4 123.9,50.5 121.2,51.6" stroke="#f9fa2b"/><polygon points="183.6,60.0 186.3,66.2 183.9,64.9 181.2,58.7" stroke="#eed672"/><polygon points="243.6,55.6 246.3,54.5 243.8,63.7 241.1,64.9" stroke="#efdd66"/><polygon points="105.5,72.3 108.1,71.3 105.7,71.9 103.0,73.0" stroke="#dac280"/><polygon points="165.4,50.5 168.1,50.2 165.6,49.0 162.9,49.3" stroke="#f8f930"/><polygon points="225.3,110.2 228.0,102.5 225.5,108.4 222.8,116.1" stroke="#61a5bf"/><polygon points="87.2,54.6 89.9,53.5 87.4,50.6 84.7,51.7" stroke="#f6f43f"/><polygon points="147.1,50.8 149.8,49.7 147.3,48.5 144.7,49.6" stroke="#f9fb2a"/><polygon points="207.1,126.0 209.8,121.0 207.3,102.3 204.6,107.3" stroke="#6587c6"/><polygon points="267.0,46.8 269.7,45.7 267.2,44.7 264.5,45.8" stroke="#f9fb2b"/><polygon points="68.9,53.5 71.6,52.4 69.2,51.2 66.5,52.3" stroke="#f9fb2a"/><polygon points="128.9,51.5 131.6,50.4 129.1,49.3 126.4,50.4" stroke="#f9fb2a"/><polygon points="188.8,68.0 191.5,76.1 189.0,74.3 186.3,66.2" stroke="#dfc385"/><polygon points="248.8,50.4 251.5,49.3 249.0,53.4 246.3,54.5" stroke="#f4f048"/><polygon points="110.6,60.4 113.3,59.3 110.8,70.2 108.1,71.3" stroke="#efdd66"/><polygon points="170.6,51.4 173.3,51.8 170.8,50.6 168.1,50.2" stroke="#f7f639"/><polygon points="230.5,87.8 233.2,83.2 230.7,97.9 228.0,102.5" stroke="#85c09a"/><polygon points="92.4,63.2 95.1,62.1 92.6,52.4 89.9,53.5" stroke="#eed770"/><polygon points="152.3,50.9 155.0,49.9 152.5,48.7 149.8,49.7" stroke="#f9fb2a"/><polygon points="212.3,140.2 215.0,130.2 212.5,111.0 209.8,121.0" stroke="#6464b4"/><polygon points="272.2,46.9 274.9,45.8 272.4,44.7 269.7,45.7" stroke="#f9fb2a"/><polygon points="74.1,53.6 76.8,52.5 74.3,51.3 71.6,52.4" stroke="#f9fb2a"/><polygon points="134.1,51.6 136.8,50.5 134.3,49.3 131.6,50.4" stroke="#f9fb2a"/><polygon points="194.0,80.7 196.7,89.0 194.2,84.5 191.5,76.1" stroke="#aec483"/><polygon points="254.0,48.5 256.7,47.4 254.2,48.3 251.5,49.3" stroke="#f8f735"/><polygon points="115.8,53.7 118.5,52.7 116.0,58.3 113.3,59.3" stroke="#f7f53c"/><polygon points="175.8,53.0 178.5,54.9 176.0,53.7 173.3,51.8" stroke="#f5f146"/><polygon points="235.7,68.8 238.4,66.3 235.9,80.8 233.2,83.2" stroke="#d9c27f"/><polygon points="97.6,75.1 100.3,74.1 97.8,61.0 95.1,62.1" stroke="#d3c17b"/><polygon points="157.5,51.1 160.2,50.1 157.7,48.9 155.0,49.9" stroke="#f9fa2b"/><polygon points="217.5,139.0 220.1,126.9 217.7,118.2 215.0,130.2" stroke="#6668b7"/><polygon points="277.4,47.0 280.1,45.9 277.6,44.7 274.9,45.8" stroke="#f9fb2a"/><polygon points="79.3,53.8 82.0,52.7 79.5,51.5 76.8,52.5" stroke="#f9fa2b"/><polygon points="139.3,51.7 142.0,50.6 139.5,49.5 136.8,50.5" stroke="#f9fb2a"/><polygon points="199.2,100.1 201.9,106.2 199.4,95.1 196.7,89.0" stroke="#62b2ad"/><polygon points="259.1,47.9 261.8,46.8 259.3,46.3 256.7,47.4" stroke="#f9fa2d"/><polygon points="61.1,54.4 63.8,53.3 61.3,52.2 58.6,53.2" stroke="#f9fb2a"/><polygon points="121.0,52.5 123.7,51.4 121.2,51.6 118.5,52.7" stroke="#f9fa2b"/><polygon points="180.9,56.1 183.6,60.0 181.2,58.7 178.5,54.9" stroke="#f1e659"/><polygon points="240.9,57.1 243.6,55.6 241.1,64.9 238.4,66.3" stroke="#efdc69"/><polygon points="102.8,73.4 105.5,72.3 103.0,73.0 100.3,74.1" stroke="#dac280"/><polygon points="162.7,51.3 165.4,50.5 162.9,49.3 160.2,50.1" stroke="#f9fa2c"/><polygon points="222.6,121.0 225.3,110.2 222.8,116.1 220.1,126.9" stroke="#6593c5"/><polygon points="84.5,55.6 87.2,54.6 84.7,51.7 82.0,52.7" stroke="#f6f43f"/><polygon points="144.4,51.8 147.1,50.8 144.7,49.6 142.0,50.6" stroke="#f9fb2a"/><polygon points="204.4,124.9 207.1,126.0 204.6,107.3 201.9,106.2" stroke="#648cc6"/><polygon points="264.3,47.9 267.0,46.8 264.5,45.8 261.8,46.8" stroke="#f9fb2b"/><polygon points="66.3,54.5 68.9,53.5 66.5,52.3 63.8,53.3" stroke="#f9fb2a"/><polygon points="126.2,52.5 128.9,51.5 126.4,50.4 123.7,51.4" stroke="#f9fb2a"/><polygon points="186.1,61.8 188.8,68.0 186.3,66.2 183.6,60.0" stroke="#eed475"/><polygon points="246.1,51.6 248.8,50.4 246.3,54.5 243.6,55.6" stroke="#f4ef48"/><polygon points="107.9,61.5 110.6,60.4 108.1,71.3 105.5,72.3" stroke="#efdd66"/><polygon points="167.9,51.7 170.6,51.4 168.1,50.2 165.4,50.5" stroke="#f8f930"/><polygon points="227.8,95.6 230.5,87.8 228.0,102.5 225.3,110.2" stroke="#70b8a7"/><polygon points="89.7,64.2 92.4,63.2 89.9,53.5 87.2,54.6" stroke="#eed770"/><polygon points="149.6,52.0 152.3,50.9 149.8,49.7 147.1,50.8" stroke="#f9fb2a"/><polygon points="209.6,145.2 212.3,140.2 209.8,121.0 207.1,126.0" stroke="#5f5aa8"/><polygon points="269.5,48.0 272.2,46.9 269.7,45.7 267.0,46.8" stroke="#f9fb2a"/><polygon points="71.4,54.7 74.1,53.6 71.6,52.4 68.9,53.5" stroke="#f9fb2a"/><polygon points="131.4,52.7 134.1,51.6 131.6,50.4 128.9,51.5" stroke="#f9fb2a"/><polygon points="191.3,72.6 194.0,80.7 191.5,76.1 188.8,68.0" stroke="#d4c17b"/><polygon points="251.3,49.5 254.0,48.5 251.5,49.3 248.8,50.4" stroke="#f8f735"/><polygon points="113.1,54.8 115.8,53.7 113.3,59.3 110.6,60.4" stroke="#f7f53c"/><polygon points="173.1,52.6 175.8,53.0 173.3,51.8 170.6,51.4" stroke="#f7f639"/><polygon points="233.0,73.4 235.7,68.8 233.2,83.2 230.5,87.8" stroke="#ccc278"/><polygon points="94.9,76.2 97.6,75.1 95.1,62.1 92.4,63.2" stroke="#d3c17b"/><polygon points="154.8,52.1 157.5,51.1 155.0,49.9 152.3,50.9" stroke="#f9fb2a"/><polygon points="214.8,149.0 217.5,139.0 215.0,130.2 212.3,140.2" stroke="#5a5199"/><polygon points="274.7,48.1 277.4,47.0 274.9,45.8 272.2,46.9" stroke="#f9fb2a"/><polygon points="76.6,54.9 79.3,53.8 76.8,52.5 74.1,53.6" stroke="#f9fa2b"/><polygon points="136.6,52.8 139.3,51.7 136.8,50.5 134.1,51.6" stroke="#f9fb2a"/><polygon points="196.5,91.8 199.2,100.1 196.7,89.0 194.0,80.7" stroke="#7fbe9d"/><polygon points="256.4,49.0 259.1,47.9 256.7,47.4 254.0,48.5" stroke="#f9fa2d"/><polygon points="58.4,55.5 61.1,54.4 58.6,53.2 55.9,54.3" stroke="#f9fb2a"/><polygon points="118.3,53.6 121.0,52.5 118.5,52.7 115.8,53.7" stroke="#f9fa2b"/><polygon points="178.3,54.3 180.9,56.1 178.5,54.9 175.8,53.0" stroke="#f5f047"/><polygon points="238.2,59.6 240.9,57.1 238.4,66.3 235.7,68.8" stroke="#eed770"/><polygon points="100.1,74.5 102.8,73.4 100.3,74.1 97.6,75.1" stroke="#dac280"/><polygon points="160.0,52.2 162.7,51.3 160.2,50.1 157.5,51.1" stroke="#f9fa2b"/><polygon points="219.9,133.1 222.6,121.0 220.1,126.9 217.5,139.0" stroke="#6a7ac3"/><polygon points="279.9,48.2 282.6,47.1 280.1,45.9 277.4,47.0" stroke="#f9fb2a"/><polygon points="81.8,56.7 84.5,55.6 82.0,52.7 79.3,53.8" stroke="#f6f43f"/><polygon points="141.7,52.9 144.4,51.8 142.0,50.6 139.3,51.7" stroke="#f9fb2a"/><polygon points="201.7,118.8 204.4,124.9 201.9,106.2 199.2,100.1" stroke="#639ac2"/><polygon points="261.6,48.9 264.3,47.9 261.8,46.8 259.1,47.9" stroke="#f9fb2b"/><polygon points="63.6,55.6 66.3,54.5 63.8,53.3 61.1,54.4" stroke="#f9fb2a"/><polygon points="123.5,53.6 126.2,52.5 123.7,51.4 121.0,52.5" stroke="#f9fb2a"/><polygon points="183.4,58.0 186.1,61.8 183.6,60.0 180.9,56.1" stroke="#f0e45c"/><polygon points="243.4,53.1 246.1,51.6 243.6,55.6 240.9,57.1" stroke="#f4ee4b"/><polygon points="105.2,62.5 107.9,61.5 105.5,72.3 102.8,73.4" stroke="#efdd66"/><polygon points="165.2,52.5 167.9,51.7 165.4,50.5 162.7,51.3" stroke="#f9fa2c"/><polygon points="225.1,106.4 227.8,95.6 225.3,110.2 222.6,121.0" stroke="#54abb5"/><polygon points="87.0,65.3 89.7,64.2 87.2,54.6 84.5,55.6" stroke="#eed770"/><polygon points="146.9,53.0 149.6,52.0 147.1,50.8 144.4,51.8" stroke="#f9fb2a"/><polygon points="206.9,144.1 209.6,145.2 207.1,126.0 204.4,124.9" stroke="#6260af"/><polygon points="266.8,49.0 269.5,48.0 267.0,46.8 264.3,47.9" stroke="#f9fb2a"/><polygon points="68.7,55.7 71.4,54.7 68.9,53.5 66.3,54.5" stroke="#f9fb2a"/><polygon points="128.7,53.7 131.4,52.7 128.9,51.5 126.2,52.5" stroke="#f9fb2a"/><polygon points="188.6,66.4 191.3,72.6 188.8,68.0 186.1,61.8" stroke="#e8cb85"/><polygon points="248.6,50.7 251.3,49.5 248.8,50.4 246.1,51.6" stroke="#f8f736"/><polygon points="110.4,55.9 113.1,54.8 110.6,60.4 107.9,61.5" stroke="#f7f53c"/><polygon points="170.4,52.9 173.1,52.6 170.6,51.4 167.9,51.7" stroke="#f8f930"/><polygon points="230.3,81.2 233.0,73.4 230.5,87.8 227.8,95.6" stroke="#b0c482"/><polygon points="92.2,77.3 94.9,76.2 92.4,63.2 89.7,64.2" stroke="#d3c17b"/><polygon points="152.1,53.1 154.8,52.1 152.3,50.9 149.6,52.0" stroke="#f9fb2a"/><polygon points="212.1,151.1 214.8,149.0 212.3,140.2 209.6,145.2" stroke="#544887"/><polygon points="272.0,49.1 274.7,48.1 272.2,46.9 269.5,48.0" stroke="#f9fb2a"/><polygon points="73.9,55.9 76.6,54.9 74.1,53.6 71.4,54.7" stroke="#f9fa2b"/><polygon points="133.9,53.8 136.6,52.8 134.1,51.6 131.4,52.7" stroke="#f9fb2a"/><polygon points="193.8,83.7 196.5,91.8 194.0,80.7 191.3,72.6" stroke="#abc485"/><polygon points="253.7,50.1 256.4,49.0 254.0,48.5 251.3,49.5" stroke="#f9fa2d"/><polygon points="55.7,56.6 58.4,55.5 55.9,54.3 53.2,55.4" stroke="#f9fb2a"/><polygon points="115.6,54.7 118.3,53.6 115.8,53.7 113.1,54.8" stroke="#f9fa2b"/><polygon points="175.6,53.8 178.3,54.3 175.8,53.0 173.1,52.6" stroke="#f7f63a"/><polygon points="235.5,64.2 238.2,59.6 235.7,68.8 233.0,73.4" stroke="#eacd80"/><polygon points="97.4,75.5 100.1,74.5 97.6,75.1 94.9,76.2" stroke="#dac280"/><polygon points="157.3,53.3 160.0,52.2 157.5,51.1 154.8,52.1" stroke="#f9fb2a"/><polygon points="217.2,143.1 219.9,133.1 217.5,139.0 214.8,149.0" stroke="#6463b2"/><polygon points="277.2,49.3 279.9,48.2 277.4,47.0 274.7,48.1" stroke="#f9fb2a"/><polygon points="79.1,57.8 81.8,56.7 79.3,53.8 76.6,54.9" stroke="#f6f43f"/><polygon points="139.1,54.0 141.7,52.9 139.3,51.7 136.6,52.8" stroke="#f9fb2a"/><polygon points="199.0,110.5 201.7,118.8 199.2,100.1 196.5,91.8" stroke="#5ba9ba"/><polygon points="258.9,50.0 261.6,48.9 259.1,47.9 256.4,49.0" stroke="#f9fb2b"/><polygon points="60.9,56.7 63.6,55.6 61.1,54.4 58.4,55.5" stroke="#f9fb2a"/><polygon points="120.8,54.7 123.5,53.6 121.0,52.5 118.3,53.6" stroke="#f9fb2a"/><polygon points="180.7,56.1 183.4,58.0 180.9,56.1 178.3,54.3" stroke="#f4ee4b"/><polygon points="240.7,55.6 243.4,53.1 240.9,57.1 238.2,59.6" stroke="#f2e954"/><polygon points="102.5,63.6 105.2,62.5 102.8,73.4 100.1,74.5" stroke="#efdd66"/><polygon points="162.5,53.4 165.2,52.5 162.7,51.3 160.0,52.2" stroke="#f9fa2b"/><polygon points="222.4,118.4 225.1,106.4 222.6,121.0 219.9,133.1" stroke="#639cc1"/><polygon points="282.4,49.4 285.1,48.3 282.6,47.1 279.9,48.2" stroke="#f9fb2a"/><polygon points="84.3,66.4 87.0,65.3 84.5,55.6 81.8,56.7" stroke="#eed770"/><polygon points="144.2,54.1 146.9,53.0 144.4,51.8 141.7,52.9" stroke="#f9fb2a"/><polygon points="204.2,138.0 206.9,144.1 204.4,124.9 201.7,118.8" stroke="#6972bf"/><polygon points="264.1,50.1 266.8,49.0 264.3,47.9 261.6,48.9" stroke="#f9fb2a"/><polygon points="66.0,56.8 68.7,55.7 66.3,54.5 63.6,55.6" stroke="#f9fb2a"/><polygon points="126.0,54.8 128.7,53.7 126.2,52.5 123.5,53.6" stroke="#f9fb2a"/><polygon points="185.9,62.5 188.6,66.4 186.1,61.8 183.4,58.0" stroke="#efd86e"/><polygon points="245.9,52.2 248.6,50.7 246.1,51.6 243.4,53.1" stroke="#f7f63b"/><polygon points="107.7,56.9 110.4,55.9 107.9,61.5 105.2,62.5" stroke="#f7f53c"/><polygon points="167.7,53.7 170.4,52.9 167.9,51.7 165.2,52.5" stroke="#f9fa2c"/><polygon points="227.6,92.0 230.3,81.2 227.8,95.6 225.1,106.4" stroke="#81bf9b"/><polygon points="89.5,78.3 92.2,77.3 89.7,64.2 87.0,65.3" stroke="#d3c17b"/><polygon points="149.4,54.2 152.1,53.1 149.6,52.0 146.9,53.0" stroke="#f9fb2a"/><polygon points="209.4,152.2 212.1,151.1 209.6,145.2 206.9,144.1" stroke="#574d91"/><polygon points="269.3,50.2 272.0,49.1 269.5,48.0 266.8,49.0" stroke="#f9fb2a"/><polygon points="71.2,57.0 73.9,55.9 71.4,54.7 68.7,55.7" stroke="#f9fa2b"/><polygon points="131.2,54.9 133.9,53.8 131.4,52.7 128.7,53.7" stroke="#f9fb2a"/><polygon points="191.1,77.5 193.8,83.7 191.3,72.6 188.6,66.4" stroke="#cac278"/><polygon points="251.1,51.2 253.7,50.1 251.3,49.5 248.6,50.7" stroke="#f9fa2e"/><polygon points="53.0,57.6 55.7,56.6 53.2,55.4 50.5,56.4" stroke="#f9fb2a"/><polygon points="112.9,55.7 115.6,54.7 113.1,54.8 110.4,55.9" stroke="#f9fa2b"/><polygon points="172.9,54.2 175.6,53.8 173.1,52.6 170.4,52.9" stroke="#f8f931"/><polygon points="232.8,71.9 235.5,64.2 233.0,73.4 230.3,81.2" stroke="#dac280"/><polygon points="94.7,76.6 97.4,75.5 94.9,76.2 92.2,77.3" stroke="#dac280"/><polygon points="154.6,54.3 157.3,53.3 154.8,52.1 152.1,53.1" stroke="#f9fb2a"/><polygon points="214.5,148.1 217.2,143.1 214.8,149.0 212.1,151.1" stroke="#5f59a6"/><polygon points="274.5,50.3 277.2,49.3 274.7,48.1 272.0,49.1" stroke="#f9fb2a"/><polygon points="76.4,58.8 79.1,57.8 76.6,54.9 73.9,55.9" stroke="#f6f43f"/><polygon points="136.4,55.0 139.1,54.0 136.6,52.8 133.9,53.8" stroke="#f9fb2a"/><polygon points="196.3,102.4 199.0,110.5 196.5,91.8 193.8,83.7" stroke="#67b4ac"/><polygon points="256.2,51.1 258.9,50.0 256.4,49.0 253.7,50.1" stroke="#f9fa2b"/><polygon points="58.2,57.7 60.9,56.7 58.4,55.5 55.7,56.6" stroke="#f9fb2a"/><polygon points="118.1,55.7 120.8,54.7 118.3,53.6 115.6,54.7" stroke="#f9fb2a"/><polygon points="178.0,55.6 180.7,56.1 178.3,54.3 175.6,53.8" stroke="#f6f440"/><polygon points="238.0,60.1 240.7,55.6 238.2,59.6 235.5,64.2" stroke="#efdd67"/><polygon points="99.9,64.7 102.5,63.6 100.1,74.5 97.4,75.5" stroke="#efdd66"/><polygon points="159.8,54.5 162.5,53.4 160.0,52.2 157.3,53.3" stroke="#f9fb2a"/><polygon points="219.7,128.4 222.4,118.4 219.9,133.1 217.2,143.1" stroke="#648ac6"/><polygon points="279.7,50.4 282.4,49.4 279.9,48.2 277.2,49.3" stroke="#f9fb2a"/><polygon points="81.6,67.4 84.3,66.4 81.8,56.7 79.1,57.8" stroke="#eed770"/><polygon points="141.5,55.2 144.2,54.1 141.7,52.9 139.1,54.0" stroke="#f9fb2a"/><polygon points="201.5,129.7 204.2,138.0 201.7,118.8 199.0,110.5" stroke="#6488c6"/><polygon points="261.4,51.2 264.1,50.1 261.6,48.9 258.9,50.0" stroke="#f9fb2a"/><polygon points="63.3,57.9 66.0,56.8 63.6,55.6 60.9,56.7" stroke="#f9fb2a"/><polygon points="123.3,55.9 126.0,54.8 123.5,53.6 120.8,54.7" stroke="#f9fb2a"/><polygon points="183.2,60.7 185.9,62.5 183.4,58.0 180.7,56.1" stroke="#f0e25f"/><polygon points="243.2,54.7 245.9,52.2 243.4,53.1 240.7,55.6" stroke="#f5f047"/><polygon points="105.0,58.0 107.7,56.9 105.2,62.5 102.5,63.6" stroke="#f7f53c"/><polygon points="165.0,54.6 167.7,53.7 165.2,52.5 162.5,53.4" stroke="#f9fa2b"/><polygon points="224.9,104.0 227.6,92.0 225.1,106.4 222.4,118.4" stroke="#5db1ae"/><polygon points="284.9,50.6 287.6,49.5 285.1,48.3 282.4,49.4" stroke="#f9fb2a"/><polygon points="86.8,79.4 89.5,78.3 87.0,65.3 84.3,66.4" stroke="#d3c17b"/><polygon points="146.7,55.3 149.4,54.2 146.9,53.0 144.2,54.1" stroke="#f9fb2a"/><polygon points="206.7,146.8 209.4,152.2 206.9,144.1 204.2,138.0" stroke="#625ead"/><polygon points="266.6,51.3 269.3,50.2 266.8,49.0 264.1,50.1" stroke="#f9fb2a"/><polygon points="68.5,58.1 71.2,57.0 68.7,55.7 66.0,56.8" stroke="#f9fa2b"/><polygon points="128.5,56.0 131.2,54.9 128.7,53.7 126.0,54.8" stroke="#f9fb2a"/><polygon points="188.4,73.6 191.1,77.5 188.6,66.4 185.9,62.5" stroke="#dcc282"/><polygon points="248.4,52.7 251.1,51.2 248.6,50.7 245.9,52.2" stroke="#f8f833"/><polygon points="50.3,58.7 53.0,57.6 50.5,56.4 47.8,57.5" stroke="#f9fb2a"/><polygon points="110.2,56.8 112.9,55.7 110.4,55.9 107.7,56.9" stroke="#f9fa2b"/><polygon points="170.2,54.9 172.9,54.2 170.4,52.9 167.7,53.7" stroke="#f9fa2d"/><polygon points="230.1,82.7 232.8,71.9 230.3,81.2 227.6,92.0" stroke="#b3c380"/><polygon points="92.0,77.7 94.7,76.6 92.2,77.3 89.5,78.3" stroke="#dac280"/><polygon points="151.9,55.4 154.6,54.3 152.1,53.1 149.4,54.2" stroke="#f9fb2a"/><polygon points="211.9,147.0 214.5,148.1 212.1,151.1 209.4,152.2" stroke="#625ead"/><polygon points="271.8,51.4 274.5,50.3 272.0,49.1 269.3,50.2" stroke="#f9fb2a"/><polygon points="73.7,59.9 76.4,58.8 73.9,55.9 71.2,57.0" stroke="#f6f43f"/><polygon points="133.7,56.1 136.4,55.0 133.9,53.8 131.2,54.9" stroke="#f9fb2a"/><polygon points="193.6,96.2 196.3,102.4 193.8,83.7 191.1,77.5" stroke="#7bbd9f"/><polygon points="253.5,52.2 256.2,51.1 253.7,50.1 251.1,51.2" stroke="#f9fa2c"/><polygon points="55.5,58.8 58.2,57.7 55.7,56.6 53.0,57.6" stroke="#f9fb2a"/><polygon points="115.4,56.8 118.1,55.7 115.6,54.7 112.9,55.7" stroke="#f9fb2a"/><polygon points="175.3,56.0 178.0,55.6 175.6,53.8 172.9,54.2" stroke="#f7f639"/><polygon points="235.3,67.9 238.0,60.1 235.5,64.2 232.8,71.9" stroke="#e7ca86"/><polygon points="97.2,65.7 99.9,64.7 97.4,75.5 94.7,76.6" stroke="#efdd66"/><polygon points="157.1,55.5 159.8,54.5 157.3,53.3 154.6,54.3" stroke="#f9fb2a"/><polygon points="217.0,133.4 219.7,128.4 217.2,143.1 214.5,148.1" stroke="#6981c6"/><polygon points="277.0,51.5 279.7,50.4 277.2,49.3 274.5,50.3" stroke="#f9fb2a"/><polygon points="78.9,68.5 81.6,67.4 79.1,57.8 76.4,58.8" stroke="#eed770"/><polygon points="138.8,56.2 141.5,55.2 139.1,54.0 136.4,55.0" stroke="#f9fb2a"/><polygon points="198.8,121.6 201.5,129.7 199.0,110.5 196.3,102.4" stroke="#639bc1"/><polygon points="258.7,52.2 261.4,51.2 258.9,50.0 256.2,51.1" stroke="#f9fb2a"/><polygon points="60.7,58.9 63.3,57.9 60.9,56.7 58.2,57.7" stroke="#f9fb2a"/><polygon points="120.6,56.9 123.3,55.9 120.8,54.7 118.1,55.7" stroke="#f9fb2a"/><polygon points="180.5,60.2 183.2,60.7 180.7,56.1 178.0,55.6" stroke="#f1e757"/><polygon points="240.5,59.3 243.2,54.7 240.7,55.6 238.0,60.1" stroke="#f0e45c"/><polygon points="102.3,59.1 105.0,58.0 102.5,63.6 99.9,64.7" stroke="#f7f53c"/><polygon points="162.3,55.7 165.0,54.6 162.5,53.4 159.8,54.5" stroke="#f9fb2a"/><polygon points="222.2,114.0 224.9,104.0 222.4,118.4 219.7,128.4" stroke="#5fa7bd"/><polygon points="282.2,51.6 284.9,50.6 282.4,49.4 279.7,50.4" stroke="#f9fb2a"/><polygon points="84.1,80.5 86.8,79.4 84.3,66.4 81.6,67.4" stroke="#d3c17b"/><polygon points="144.0,56.3 146.7,55.3 144.2,54.1 141.5,55.2" stroke="#f9fb2a"/><polygon points="204.0,138.5 206.7,146.8 204.2,138.0 201.5,129.7" stroke="#6a77c2"/><polygon points="263.9,52.3 266.6,51.3 264.1,50.1 261.4,51.2" stroke="#f9fb2a"/><polygon points="65.8,59.1 68.5,58.1 66.0,56.8 63.3,57.9" stroke="#f9fa2b"/><polygon points="125.8,57.1 128.5,56.0 126.0,54.8 123.3,55.9" stroke="#f9fb2a"/><polygon points="185.7,71.8 188.4,73.6 185.9,62.5 183.2,60.7" stroke="#e5c688"/><polygon points="245.7,55.2 248.4,52.7 245.9,52.2 243.2,54.7" stroke="#f6f342"/><polygon points="47.6,59.8 50.3,58.7 47.8,57.5 45.1,58.6" stroke="#f9fb2a"/><polygon points="107.5,57.9 110.2,56.8 107.7,56.9 105.0,58.0" stroke="#f9fa2b"/><polygon points="167.5,55.9 170.2,54.9 167.7,53.7 165.0,54.6" stroke="#f9fa2c"/><polygon points="227.4,94.8 230.1,82.7 227.6,92.0 224.9,104.0" stroke="#7fbe9d"/><polygon points="287.3,51.8 290.0,50.7 287.6,49.5 284.9,50.6" stroke="#f9fb2a"/><polygon points="89.3,78.7 92.0,77.7 89.5,78.3 86.8,79.4" stroke="#dac280"/><polygon points="149.2,56.5 151.9,55.4 149.4,54.2 146.7,55.3" stroke="#f9fb2a"/><polygon points="209.2,140.9 211.9,147.0 209.4,152.2 206.7,146.8" stroke="#6971be"/><polygon points="269.1,52.5 271.8,51.4 269.3,50.2 266.6,51.3" stroke="#f9fb2a"/><polygon points="71.0,61.0 73.7,59.9 71.2,57.0 68.5,58.1" stroke="#f6f43f"/><polygon points="131.0,57.2 133.7,56.1 131.2,54.9 128.5,56.0" stroke="#f9fb2a"/><polygon points="190.9,92.3 193.6,96.2 191.1,77.5 188.4,73.6" stroke="#91c293"/><polygon points="250.8,53.7 253.5,52.2 251.1,51.2 248.4,52.7" stroke="#f8f931"/><polygon points="52.8,59.9 55.5,58.8 53.0,57.6 50.3,58.7" stroke="#f9fb2a"/><polygon points="112.7,57.9 115.4,56.8 112.9,55.7 110.2,56.8" stroke="#f9fb2a"/><polygon points="172.7,56.8 175.3,56.0 172.9,54.2 170.2,54.9" stroke="#f8f735"/><polygon points="232.6,78.7 235.3,67.9 232.8,71.9 230.1,82.7" stroke="#c9c278"/><polygon points="94.5,66.8 97.2,65.7 94.7,76.6 92.0,77.7" stroke="#efdd66"/><polygon points="154.4,56.6 157.1,55.5 154.6,54.3 151.9,55.4" stroke="#f9fb2a"/><polygon points="214.3,132.3 217.0,133.4 214.5,148.1 211.9,147.0" stroke="#6686c6"/><polygon points="274.3,52.6 277.0,51.5 274.5,50.3 271.8,51.4" stroke="#f9fb2a"/><polygon points="76.2,69.6 78.9,68.5 76.4,58.8 73.7,59.9" stroke="#eed770"/><polygon points="136.1,57.3 138.8,56.2 136.4,55.0 133.7,56.1" stroke="#f9fb2a"/><polygon points="196.1,115.4 198.8,121.6 196.3,102.4 193.6,96.2" stroke="#5ea7bd"/><polygon points="256.0,53.4 258.7,52.2 256.2,51.1 253.5,52.2" stroke="#f9fa2c"/><polygon points="58.0,60.0 60.7,58.9 58.2,57.7 55.5,58.8" stroke="#f9fb2a"/><polygon points="117.9,58.0 120.6,56.9 118.1,55.7 115.4,56.8" stroke="#f9fb2a"/><polygon points="177.8,60.6 180.5,60.2 178.0,55.6 175.3,56.0" stroke="#f2ea52"/><polygon points="237.8,67.0 240.5,59.3 238.0,60.1 235.3,67.9" stroke="#ebcf7d"/><polygon points="99.6,60.1 102.3,59.1 99.9,64.7 97.2,65.7" stroke="#f7f53c"/><polygon points="159.6,56.7 162.3,55.7 159.8,54.5 157.1,55.5" stroke="#f9fb2a"/><polygon points="219.5,119.0 222.2,114.0 219.7,128.4 217.0,133.4" stroke="#62a1c0"/><polygon points="279.5,52.7 282.2,51.6 279.7,50.4 277.0,51.5" stroke="#f9fb2a"/><polygon points="81.4,81.5 84.1,80.5 81.6,67.4 78.9,68.5" stroke="#d3c17b"/><polygon points="141.3,57.4 144.0,56.3 141.5,55.2 138.8,56.2" stroke="#f9fb2a"/><polygon points="201.3,130.4 204.0,138.5 201.5,129.7 198.8,121.6" stroke="#648cc6"/><polygon points="261.2,53.4 263.9,52.3 261.4,51.2 258.7,52.2" stroke="#f9fb2a"/><polygon points="63.1,60.2 65.8,59.1 63.3,57.9 60.7,58.9" stroke="#f9fa2b"/><polygon points="123.1,58.1 125.8,57.1 123.3,55.9 120.6,56.9" stroke="#f9fb2a"/><polygon points="183.0,71.3 185.7,71.8 183.2,60.7 180.5,60.2" stroke="#e7c987"/><polygon points="243.0,59.8 245.7,55.2 243.2,54.7 240.5,59.3" stroke="#f1e659"/><polygon points="44.9,60.8 47.6,59.8 45.1,58.6 42.4,59.6" stroke="#f9fb2a"/><polygon points="104.8,58.9 107.5,57.9 105.0,58.0 102.3,59.1" stroke="#f9fa2b"/><polygon points="164.8,56.9 167.5,55.9 165.0,54.6 162.3,55.7" stroke="#f9fa2b"/><polygon points="224.7,104.8 227.4,94.8 224.9,104.0 222.2,114.0" stroke="#64b3ad"/><polygon points="284.7,52.8 287.3,51.8 284.9,50.6 282.2,51.6" stroke="#f9fb2a"/><polygon points="86.6,79.8 89.3,78.7 86.8,79.4 84.1,80.5" stroke="#dac280"/><polygon points="146.5,57.5 149.2,56.5 146.7,55.3 144.0,56.3" stroke="#f9fb2a"/><polygon points="206.5,132.6 209.2,140.9 206.7,146.8 204.0,138.5" stroke="#6587c6"/><polygon points="266.4,53.5 269.1,52.5 266.6,51.3 263.9,52.3" stroke="#f9fb2a"/><polygon points="68.3,62.0 71.0,61.0 68.5,58.1 65.8,59.1" stroke="#f6f43f"/><polygon points="128.3,58.2 131.0,57.2 128.5,56.0 125.8,57.1" stroke="#f9fb2a"/><polygon points="188.2,90.5 190.9,92.3 188.4,73.6 185.7,71.8" stroke="#9fc38c"/><polygon points="248.1,56.2 250.8,53.7 248.4,52.7 245.7,55.2" stroke="#f6f341"/><polygon points="50.1,60.9 52.8,59.9 50.3,58.7 47.6,59.8" stroke="#f9fb2a"/><polygon points="110.0,58.9 112.7,57.9 110.2,56.8 107.5,57.9" stroke="#f9fb2a"/><polygon points="170.0,57.7 172.7,56.8 170.2,54.9 167.5,55.9" stroke="#f8f834"/><polygon points="229.9,90.7 232.6,78.7 230.1,82.7 227.4,94.8" stroke="#97c390"/><polygon points="289.8,52.9 292.5,51.9 290.0,50.7 287.3,51.8" stroke="#f9fb2a"/><polygon points="91.8,67.9 94.5,66.8 92.0,77.7 89.3,78.7" stroke="#efdd66"/><polygon points="151.7,57.7 154.4,56.6 151.9,55.4 149.2,56.5" stroke="#f9fb2a"/><polygon points="211.6,126.3 214.3,132.3 211.9,147.0 209.2,140.9" stroke="#6595c4"/><polygon points="271.6,53.6 274.3,52.6 271.8,51.4 269.1,52.5" stroke="#f9fb2a"/><polygon points="73.5,70.6 76.2,69.6 73.7,59.9 71.0,61.0" stroke="#eed770"/><polygon points="133.5,58.4 136.1,57.3 133.7,56.1 131.0,57.2" stroke="#f9fb2a"/><polygon points="193.4,111.5 196.1,115.4 193.6,96.2 190.9,92.3" stroke="#53abb3"/><polygon points="253.3,54.9 256.0,53.4 253.5,52.2 250.8,53.7" stroke="#f8f931"/><polygon points="55.3,61.1 58.0,60.0 55.5,58.8 52.8,59.9" stroke="#f9fb2a"/><polygon points="115.2,59.1 117.9,58.0 115.4,56.8 112.7,57.9" stroke="#f9fb2a"/><polygon points="175.1,61.3 177.8,60.6 175.3,56.0 172.7,56.8" stroke="#f2eb50"/><polygon points="235.1,77.8 237.8,67.0 235.3,67.9 232.6,78.7" stroke="#d1c17a"/><polygon points="96.9,61.2 99.6,60.1 97.2,65.7 94.5,66.8" stroke="#f7f53c"/><polygon points="156.9,57.8 159.6,56.7 157.1,55.5 154.4,56.6" stroke="#f9fb2a"/><polygon points="216.8,117.9 219.5,119.0 217.0,133.4 214.3,132.3" stroke="#61a5bf"/><polygon points="276.8,53.8 279.5,52.7 277.0,51.5 274.3,52.6" stroke="#f9fb2a"/><polygon points="78.7,82.6 81.4,81.5 78.9,68.5 76.2,69.6" stroke="#d3c17b"/><polygon points="138.6,58.5 141.3,57.4 138.8,56.2 136.1,57.3" stroke="#f9fb2a"/><polygon points="198.6,124.2 201.3,130.4 198.8,121.6 196.1,115.4" stroke="#639bc2"/><polygon points="258.5,54.6 261.2,53.4 258.7,52.2 256.0,53.4" stroke="#f9fa2b"/><polygon points="60.4,61.3 63.1,60.2 60.7,58.9 58.0,60.0" stroke="#f9fa2b"/><polygon points="120.4,59.2 123.1,58.1 120.6,56.9 117.9,58.0" stroke="#f9fb2a"/><polygon points="180.3,71.7 183.0,71.3 180.5,60.2 177.8,60.6" stroke="#e9cb84"/><polygon points="240.3,67.5 243.0,59.8 240.5,59.3 237.8,67.0" stroke="#ecd17a"/><polygon points="102.1,60.0 104.8,58.9 102.3,59.1 99.6,60.1" stroke="#f9fa2b"/><polygon points="162.1,58.0 164.8,56.9 162.3,55.7 159.6,56.7" stroke="#f9fa2b"/><polygon points="222.0,109.8 224.7,104.8 222.2,114.0 219.5,119.0" stroke="#53adb1"/><polygon points="282.0,53.9 284.7,52.8 282.2,51.6 279.5,52.7" stroke="#f9fb2a"/><polygon points="83.9,80.9 86.6,79.8 84.1,80.5 81.4,81.5" stroke="#dac280"/><polygon points="143.8,58.6 146.5,57.5 144.0,56.3 141.3,57.4" stroke="#f9fb2a"/><polygon points="203.8,124.5 206.5,132.6 204.0,138.5 201.3,130.4" stroke="#639ac2"/><polygon points="263.7,54.6 266.4,53.5 263.9,52.3 261.2,53.4" stroke="#f9fb2a"/><polygon points="65.6,63.1 68.3,62.0 65.8,59.1 63.1,60.2" stroke="#f6f43f"/><polygon points="125.6,59.3 128.3,58.2 125.8,57.1 123.1,58.1" stroke="#f9fb2a"/><polygon points="185.5,90.0 188.2,90.5 185.7,71.8 183.0,71.3" stroke="#a7c487"/><polygon points="245.5,60.8 248.1,56.2 245.7,55.2 243.0,59.8" stroke="#f1e658"/><polygon points="47.4,62.0 50.1,60.9 47.6,59.8 44.9,60.8" stroke="#f9fb2a"/><polygon points="107.3,60.0 110.0,58.9 107.5,57.9 104.8,58.9" stroke="#f9fb2a"/><polygon points="167.3,58.7 170.0,57.7 167.5,55.9 164.8,56.9" stroke="#f8f833"/><polygon points="227.2,100.7 229.9,90.7 227.4,94.8 224.7,104.8" stroke="#73baa4"/><polygon points="287.1,54.0 289.8,52.9 287.3,51.8 284.7,52.8" stroke="#f9fb2a"/><polygon points="89.1,69.0 91.8,67.9 89.3,78.7 86.6,79.8" stroke="#efdd66"/><polygon points="149.0,58.7 151.7,57.7 149.2,56.5 146.5,57.5" stroke="#f9fb2a"/><polygon points="208.9,117.9 211.6,126.3 209.2,140.9 206.5,132.6" stroke="#60a6be"/><polygon points="268.9,54.7 271.6,53.6 269.1,52.5 266.4,53.5" stroke="#f9fb2a"/><polygon points="70.8,71.7 73.5,70.6 71.0,61.0 68.3,62.0" stroke="#eed770"/><polygon points="130.8,59.4 133.5,58.4 131.0,57.2 128.3,58.2" stroke="#f9fb2a"/><polygon points="190.7,109.7 193.4,111.5 190.9,92.3 188.2,90.5" stroke="#59afaf"/><polygon points="250.6,57.4 253.3,54.9 250.8,53.7 248.1,56.2" stroke="#f6f341"/><polygon points="52.6,62.1 55.3,61.1 52.8,59.9 50.1,60.9" stroke="#f9fb2a"/><polygon points="112.5,60.1 115.2,59.1 112.7,57.9 110.0,58.9" stroke="#f9fb2a"/><polygon points="172.4,62.3 175.1,61.3 172.7,56.8 170.0,57.7" stroke="#f3eb50"/><polygon points="232.4,89.8 235.1,77.8 232.6,78.7 229.9,90.7" stroke="#a2c38a"/><polygon points="292.3,54.1 295.0,53.1 292.5,51.9 289.8,52.9" stroke="#f9fb2a"/><polygon points="94.3,62.3 96.9,61.2 94.5,66.8 91.8,67.9" stroke="#f7f53c"/><polygon points="154.2,58.8 156.9,57.8 154.4,56.6 151.7,57.7" stroke="#f9fb2a"/><polygon points="214.1,111.9 216.8,117.9 214.3,132.3 211.6,126.3" stroke="#53abb3"/><polygon points="274.1,54.8 276.8,53.8 274.3,52.6 271.6,53.6" stroke="#f9fb2a"/><polygon points="76.0,83.7 78.7,82.6 76.2,69.6 73.5,70.6" stroke="#d3c17b"/><polygon points="135.9,59.5 138.6,58.5 136.1,57.3 133.5,58.4" stroke="#f9fb2a"/><polygon points="195.9,120.3 198.6,124.2 196.1,115.4 193.4,111.5" stroke="#61a4bf"/><polygon points="255.8,56.1 258.5,54.6 256.0,53.4 253.3,54.9" stroke="#f8f931"/><polygon points="57.7,62.4 60.4,61.3 58.0,60.0 55.3,61.1" stroke="#f9fa2b"/><polygon points="117.7,60.3 120.4,59.2 117.9,58.0 115.2,59.1" stroke="#f9fb2a"/><polygon points="177.6,72.4 180.3,71.7 177.8,60.6 175.1,61.3" stroke="#e9cc82"/><polygon points="237.6,78.3 240.3,67.5 237.8,67.0 235.1,77.8" stroke="#d3c17b"/><polygon points="99.4,61.1 102.1,60.0 99.6,60.1 96.9,61.2" stroke="#f9fa2b"/><polygon points="159.4,59.0 162.1,58.0 159.6,56.7 156.9,57.8" stroke="#f9fa2b"/><polygon points="219.3,108.7 222.0,109.8 219.5,119.0 216.8,117.9" stroke="#5cb0af"/><polygon points="279.3,55.0 282.0,53.9 279.5,52.7 276.8,53.8" stroke="#f9fb2a"/><polygon points="81.2,81.9 83.9,80.9 81.4,81.5 78.7,82.6" stroke="#dac280"/><polygon points="141.1,59.7 143.8,58.6 141.3,57.4 138.6,58.5" stroke="#f9fb2a"/><polygon points="201.1,118.3 203.8,124.5 201.3,130.4 198.6,124.2" stroke="#5fa7be"/><polygon points="261.0,55.8 263.7,54.6 261.2,53.4 258.5,54.6" stroke="#f9fa2b"/><polygon points="62.9,64.2 65.6,63.1 63.1,60.2 60.4,61.3" stroke="#f6f43f"/><polygon points="122.9,60.4 125.6,59.3 123.1,58.1 120.4,59.2" stroke="#f9fb2a"/><polygon points="182.8,90.4 185.5,90.0 183.0,71.3 180.3,71.7" stroke="#aac485"/><polygon points="242.8,68.6 245.5,60.8 243.0,59.8 240.3,67.5" stroke="#edd179"/><polygon points="104.6,61.1 107.3,60.0 104.8,58.9 102.1,60.0" stroke="#f9fb2a"/><polygon points="164.6,59.8 167.3,58.7 164.8,56.9 162.1,58.0" stroke="#f8f833"/><polygon points="224.5,105.7 227.2,100.7 224.7,104.8 222.0,109.8" stroke="#6ab5ab"/><polygon points="284.4,55.1 287.1,54.0 284.7,52.8 282.0,53.9" stroke="#f9fb2a"/><polygon points="86.4,70.0 89.1,69.0 86.6,79.8 83.9,80.9" stroke="#efdd66"/><polygon points="146.3,59.8 149.0,58.7 146.5,57.5 143.8,58.6" stroke="#f9fb2a"/><polygon points="206.3,109.8 208.9,117.9 206.5,132.6 203.8,124.5" stroke="#5ab0af"/><polygon points="266.2,55.8 268.9,54.7 266.4,53.5 263.7,54.6" stroke="#f9fb2a"/><polygon points="68.1,72.8 70.8,71.7 68.3,62.0 65.6,63.1" stroke="#eed770"/><polygon points="128.1,60.5 130.8,59.4 128.3,58.2 125.6,59.3" stroke="#f9fb2a"/><polygon points="188.0,109.2 190.7,109.7 188.2,90.5 185.5,90.0" stroke="#61b2ae"/><polygon points="247.9,62.0 250.6,57.4 248.1,56.2 245.5,60.8" stroke="#f1e758"/><polygon points="49.9,63.2 52.6,62.1 50.1,60.9 47.4,62.0" stroke="#f9fb2a"/><polygon points="109.8,61.2 112.5,60.1 110.0,58.9 107.3,60.0" stroke="#f9fb2a"/><polygon points="169.7,63.3 172.4,62.3 170.0,57.7 167.3,58.7" stroke="#f3ec4f"/><polygon points="229.7,99.9 232.4,89.8 229.9,90.7 227.2,100.7" stroke="#79bca0"/><polygon points="289.6,55.2 292.3,54.1 289.8,52.9 287.1,54.0" stroke="#f9fb2a"/><polygon points="91.6,63.4 94.3,62.3 91.8,67.9 89.1,69.0" stroke="#f7f53c"/><polygon points="151.5,59.9 154.2,58.8 151.7,57.7 149.0,58.7" stroke="#f9fb2a"/><polygon points="211.4,103.5 214.1,111.9 211.6,126.3 208.9,117.9" stroke="#71b9a6"/><polygon points="271.4,55.9 274.1,54.8 271.6,53.6 268.9,54.7" stroke="#f9fb2a"/><polygon points="73.3,84.7 76.0,83.7 73.5,70.6 70.8,71.7" stroke="#d3c17b"/><polygon points="133.2,60.6 135.9,59.5 133.5,58.4 130.8,59.4" stroke="#f9fb2a"/><polygon points="193.2,118.5 195.9,120.3 193.4,111.5 190.7,109.7" stroke="#5ea8bc"/><polygon points="253.1,58.6 255.8,56.1 253.3,54.9 250.6,57.4" stroke="#f6f340"/><polygon points="55.1,63.4 57.7,62.4 55.3,61.1 52.6,62.1" stroke="#f9fa2b"/><polygon points="115.0,61.3 117.7,60.3 115.2,59.1 112.5,60.1" stroke="#f9fb2a"/><polygon points="174.9,73.4 177.6,72.4 175.1,61.3 172.4,62.3" stroke="#e9cc82"/><polygon points="234.9,90.4 237.6,78.3 235.1,77.8 232.4,89.8" stroke="#a5c488"/><polygon points="294.8,55.3 297.5,54.3 295.0,53.1 292.3,54.1" stroke="#f9fb2a"/><polygon points="96.7,62.1 99.4,61.1 96.9,61.2 94.3,62.3" stroke="#f9fa2b"/><polygon points="156.7,60.1 159.4,59.0 156.9,57.8 154.2,58.8" stroke="#f9fa2b"/><polygon points="216.6,102.6 219.3,108.7 216.8,117.9 214.1,111.9" stroke="#73baa4"/><polygon points="276.6,56.0 279.3,55.0 276.8,53.8 274.1,54.8" stroke="#f9fb2a"/><polygon points="78.5,83.0 81.2,81.9 78.7,82.6 76.0,83.7" stroke="#dac280"/><polygon points="138.4,60.7 141.1,59.7 138.6,58.5 135.9,59.5" stroke="#f9fb2a"/><polygon points="198.4,114.4 201.1,118.3 198.6,124.2 195.9,120.3" stroke="#53abb4"/><polygon points="258.3,57.3 261.0,55.8 258.5,54.6 255.8,56.1" stroke="#f8f931"/><polygon points="60.2,65.3 62.9,64.2 60.4,61.3 57.7,62.4" stroke="#f6f43f"/><polygon points="120.2,61.4 122.9,60.4 120.4,59.2 117.7,60.3" stroke="#f9fb2a"/><polygon points="180.1,91.1 182.8,90.4 180.3,71.7 177.6,72.4" stroke="#acc485"/><polygon points="240.1,79.4 242.8,68.6 240.3,67.5 237.6,78.3" stroke="#d4c17b"/><polygon points="101.9,62.2 104.6,61.1 102.1,60.0 99.4,61.1" stroke="#f9fb2a"/><polygon points="161.9,60.9 164.6,59.8 162.1,58.0 159.4,59.0" stroke="#f8f833"/><polygon points="221.8,104.6 224.5,105.7 222.0,109.8 219.3,108.7" stroke="#6fb8a8"/><polygon points="281.7,56.1 284.4,55.1 282.0,53.9 279.3,55.0" stroke="#f9fb2a"/><polygon points="83.7,71.1 86.4,70.0 83.9,80.9 81.2,81.9" stroke="#efdd66"/><polygon points="143.6,60.9 146.3,59.8 143.8,58.6 141.1,59.7" stroke="#f9fb2a"/><polygon points="203.6,103.6 206.3,109.8 203.8,124.5 201.1,118.3" stroke="#73baa4"/><polygon points="263.5,57.0 266.2,55.8 263.7,54.6 261.0,55.8" stroke="#f9fa2b"/><polygon points="65.4,73.8 68.1,72.8 65.6,63.1 62.9,64.2" stroke="#eed770"/><polygon points="125.4,61.6 128.1,60.5 125.6,59.3 122.9,60.4" stroke="#f9fb2a"/><polygon points="185.3,109.6 188.0,109.2 185.5,90.0 182.8,90.4" stroke="#64b3ad"/><polygon points="245.2,69.7 247.9,62.0 245.5,60.8 242.8,68.6" stroke="#edd179"/><polygon points="107.1,62.3 109.8,61.2 107.3,60.0 104.6,61.1" stroke="#f9fb2a"/><polygon points="167.1,64.4 169.7,63.3 167.3,58.7 164.6,59.8" stroke="#f3ec4f"/><polygon points="227.0,104.8 229.7,99.9 227.2,100.7 224.5,105.7" stroke="#6fb8a8"/><polygon points="286.9,56.3 289.6,55.2 287.1,54.0 284.4,55.1" stroke="#f9fb2a"/><polygon points="88.9,64.4 91.6,63.4 89.1,69.0 86.4,70.0" stroke="#f7f53c"/><polygon points="148.8,61.0 151.5,59.9 149.0,58.7 146.3,59.8" stroke="#f9fb2a"/><polygon points="208.7,95.4 211.4,103.5 208.9,117.9 206.3,109.8" stroke="#94c291"/><polygon points="268.7,57.0 271.4,55.9 268.9,54.7 266.2,55.8" stroke="#f9fb2a"/><polygon points="70.6,85.8 73.3,84.7 70.8,71.7 68.1,72.8" stroke="#d3c17b"/><polygon points="130.5,61.7 133.2,60.6 130.8,59.4 128.1,60.5" stroke="#f9fb2a"/><polygon points="190.5,118.0 193.2,118.5 190.7,109.7 188.0,109.2" stroke="#5aa9ba"/><polygon points="250.4,63.2 253.1,58.6 250.6,57.4 247.9,62.0" stroke="#f1e758"/><polygon points="52.4,64.5 55.1,63.4 52.6,62.1 49.9,63.2" stroke="#f9fa2b"/><polygon points="112.3,62.4 115.0,61.3 112.5,60.1 109.8,61.2" stroke="#f9fb2a"/><polygon points="172.2,74.4 174.9,73.4 172.4,62.3 169.7,63.3" stroke="#eacc82"/><polygon points="232.2,100.4 234.9,90.4 232.4,89.8 229.7,99.9" stroke="#7bbd9f"/><polygon points="292.1,56.4 294.8,55.3 292.3,54.1 289.6,55.2" stroke="#f9fb2a"/><polygon points="94.0,63.2 96.7,62.1 94.3,62.3 91.6,63.4" stroke="#f9fa2b"/><polygon points="154.0,61.2 156.7,60.1 154.2,58.8 151.5,59.9" stroke="#f9fa2b"/><polygon points="213.9,94.3 216.6,102.6 214.1,111.9 211.4,103.5" stroke="#9ac38e"/><polygon points="273.9,57.1 276.6,56.0 274.1,54.8 271.4,55.9" stroke="#f9fb2a"/><polygon points="75.8,84.1 78.5,83.0 76.0,83.7 73.3,84.7" stroke="#dac280"/><polygon points="135.7,61.8 138.4,60.7 135.9,59.5 133.2,60.6" stroke="#f9fb2a"/><polygon points="195.7,112.6 198.4,114.4 195.9,120.3 193.2,118.5" stroke="#57aeb0"/><polygon points="255.6,59.8 258.3,57.3 255.8,56.1 253.1,58.6" stroke="#f6f340"/><polygon points="57.5,66.3 60.2,65.3 57.7,62.4 55.1,63.4" stroke="#f6f43f"/><polygon points="117.5,62.5 120.2,61.4 117.7,60.3 115.0,61.3" stroke="#f9fb2a"/><polygon points="177.4,92.1 180.1,91.1 177.6,72.4 174.9,73.4" stroke="#acc484"/><polygon points="237.4,91.4 240.1,79.4 237.6,78.3 234.9,90.4" stroke="#a6c488"/><polygon points="297.3,56.5 300.0,55.4 297.5,54.3 294.8,55.3" stroke="#f9fb2a"/><polygon points="99.2,63.2 101.9,62.2 99.4,61.1 96.7,62.1" stroke="#f9fb2a"/><polygon points="159.2,61.9 161.9,60.9 159.4,59.0 156.7,60.1" stroke="#f8f833"/><polygon points="219.1,98.6 221.8,104.6 219.3,108.7 216.6,102.6" stroke="#87c099"/><polygon points="279.1,57.2 281.7,56.1 279.3,55.0 276.6,56.0" stroke="#f9fb2a"/><polygon points="81.0,72.2 83.7,71.1 81.2,81.9 78.5,83.0" stroke="#efdd66"/><polygon points="140.9,61.9 143.6,60.9 141.1,59.7 138.4,60.7" stroke="#f9fb2a"/><polygon points="200.9,99.8 203.6,103.6 201.1,118.3 198.4,114.4" stroke="#84c09a"/><polygon points="260.8,58.5 263.5,57.0 261.0,55.8 258.3,57.3" stroke="#f8f931"/><polygon points="62.7,74.9 65.4,73.8 62.9,64.2 60.2,65.3" stroke="#eed770"/><polygon points="122.7,62.6 125.4,61.6 122.9,60.4 120.2,61.4" stroke="#f9fb2a"/><polygon points="182.6,110.3 185.3,109.6 182.8,90.4 180.1,91.1" stroke="#65b4ac"/><polygon points="242.5,80.5 245.2,69.7 242.8,68.6 240.1,79.4" stroke="#d4c17b"/><polygon points="104.4,63.3 107.1,62.3 104.6,61.1 101.9,62.2" stroke="#f9fb2a"/><polygon points="164.4,65.4 167.1,64.4 164.6,59.8 161.9,60.9" stroke="#f3ec4f"/><polygon points="224.3,103.7 227.0,104.8 224.5,105.7 221.8,104.6" stroke="#74baa4"/><polygon points="284.2,57.3 286.9,56.3 284.4,55.1 281.7,56.1" stroke="#f9fb2a"/><polygon points="86.2,65.5 88.9,64.4 86.4,70.0 83.7,71.1" stroke="#f7f53c"/><polygon points="146.1,62.0 148.8,61.0 146.3,59.8 143.6,60.9" stroke="#f9fb2a"/><polygon points="206.0,89.2 208.7,95.4 206.3,109.8 203.6,103.6" stroke="#b7c37e"/><polygon points="266.0,58.1 268.7,57.0 266.2,55.8 263.5,57.0" stroke="#f9fa2b"/><polygon points="67.9,86.9 70.6,85.8 68.1,72.8 65.4,73.8" stroke="#d3c17b"/><polygon points="127.9,62.8 130.5,61.7 128.1,60.5 125.4,61.6" stroke="#f9fb2a"/><polygon points="187.8,118.3 190.5,118.0 188.0,109.2 185.3,109.6" stroke="#58a9b8"/><polygon points="247.7,70.9 250.4,63.2 247.9,62.0 245.2,69.7" stroke="#edd179"/><polygon points="109.6,63.5 112.3,62.4 109.8,61.2 107.1,62.3" stroke="#f9fb2a"/><polygon points="169.5,75.5 172.2,74.4 169.7,63.3 167.1,64.4" stroke="#eacc82"/><polygon points="229.5,105.4 232.2,100.4 229.7,99.9 227.0,104.8" stroke="#71b9a7"/><polygon points="289.4,57.5 292.1,56.4 289.6,55.2 286.9,56.3" stroke="#f9fb2a"/><polygon points="91.3,64.3 94.0,63.2 91.6,63.4 88.9,64.4" stroke="#f9fa2b"/><polygon points="151.3,62.2 154.0,61.2 151.5,59.9 148.8,61.0" stroke="#f9fa2b"/><polygon points="211.2,86.2 213.9,94.3 211.4,103.5 208.7,95.4" stroke="#c4c279"/><polygon points="271.2,58.2 273.9,57.1 271.4,55.9 268.7,57.0" stroke="#f9fb2a"/><polygon points="73.1,85.1 75.8,84.1 73.3,84.7 70.6,85.8" stroke="#dac280"/><polygon points="133.0,62.9 135.7,61.8 133.2,60.6 130.5,61.7" stroke="#f9fb2a"/><polygon points="193.0,112.1 195.7,112.6 193.2,118.5 190.5,118.0" stroke="#5eb1ae"/><polygon points="252.9,64.3 255.6,59.8 253.1,58.6 250.4,63.2" stroke="#f1e758"/><polygon points="54.8,67.4 57.5,66.3 55.1,63.4 52.4,64.5" stroke="#f6f43f"/><polygon points="114.8,63.6 117.5,62.5 115.0,61.3 112.3,62.4" stroke="#f9fb2a"/><polygon points="174.7,93.1 177.4,92.1 174.9,73.4 172.2,74.4" stroke="#acc484"/><polygon points="234.7,101.4 237.4,91.4 234.9,90.4 232.2,100.4" stroke="#7cbd9e"/><polygon points="294.6,57.6 297.3,56.5 294.8,55.3 292.1,56.4" stroke="#f9fb2a"/><polygon points="96.5,64.3 99.2,63.2 96.7,62.1 94.0,63.2" stroke="#f9fb2a"/><polygon points="156.5,63.0 159.2,61.9 156.7,60.1 154.0,61.2" stroke="#f8f833"/><polygon points="216.4,90.2 219.1,98.6 216.6,102.6 213.9,94.3" stroke="#b4c380"/><polygon points="276.4,58.3 279.1,57.2 276.6,56.0 273.9,57.1" stroke="#f9fb2a"/><polygon points="78.3,73.2 81.0,72.2 78.5,83.0 75.8,84.1" stroke="#efdd66"/><polygon points="138.2,63.0 140.9,61.9 138.4,60.7 135.7,61.8" stroke="#f9fb2a"/><polygon points="198.2,97.9 200.9,99.8 198.4,114.4 195.7,112.6" stroke="#92c293"/><polygon points="258.1,60.9 260.8,58.5 258.3,57.3 255.6,59.8" stroke="#f6f340"/><polygon points="60.0,76.0 62.7,74.9 60.2,65.3 57.5,66.3" stroke="#eed770"/><polygon points="120.0,63.7 122.7,62.6 120.2,61.4 117.5,62.5" stroke="#f9fb2a"/><polygon points="179.9,111.3 182.6,110.3 180.1,91.1 177.4,92.1" stroke="#66b4ac"/><polygon points="239.9,92.6 242.5,80.5 240.1,79.4 237.4,91.4" stroke="#a6c488"/><polygon points="299.8,57.7 302.5,56.6 300.0,55.4 297.3,56.5" stroke="#f9fb2a"/><polygon points="101.7,64.4 104.4,63.3 101.9,62.2 99.2,63.2" stroke="#f9fb2a"/><polygon points="161.7,66.5 164.4,65.4 161.9,60.9 159.2,61.9" stroke="#f3ec4f"/><polygon points="221.6,97.7 224.3,103.7 221.8,104.6 219.1,98.6" stroke="#90c294"/><polygon points="281.5,58.4 284.2,57.3 281.7,56.1 279.1,57.2" stroke="#f9fb2a"/><polygon points="83.5,66.6 86.2,65.5 83.7,71.1 81.0,72.2" stroke="#f7f53c"/><polygon points="143.4,63.1 146.1,62.0 143.6,60.9 140.9,61.9" stroke="#f9fb2a"/><polygon points="203.3,85.4 206.0,89.2 203.6,103.6 200.9,99.8" stroke="#cbc278"/><polygon points="263.3,59.6 266.0,58.1 263.5,57.0 260.8,58.5" stroke="#f8f931"/><polygon points="65.2,87.9 67.9,86.9 65.4,73.8 62.7,74.9" stroke="#d3c17b"/><polygon points="125.2,63.8 127.9,62.8 125.4,61.6 122.7,62.6" stroke="#f9fb2a"/><polygon points="185.1,119.1 187.8,118.3 185.3,109.6 182.6,110.3" stroke="#57aab7"/><polygon points="245.0,81.7 247.7,70.9 245.2,69.7 242.5,80.5" stroke="#d4c17b"/><polygon points="106.9,64.5 109.6,63.5 107.1,62.3 104.4,63.3" stroke="#f9fb2a"/><polygon points="166.8,76.5 169.5,75.5 167.1,64.4 164.4,65.4" stroke="#eacc82"/><polygon points="226.8,104.3 229.5,105.4 227.0,104.8 224.3,103.7" stroke="#76bba2"/><polygon points="286.7,58.5 289.4,57.5 286.9,56.3 284.2,57.3" stroke="#f9fb2a"/><polygon points="88.7,65.3 91.3,64.3 88.9,64.4 86.2,65.5" stroke="#f9fa2b"/><polygon points="148.6,63.3 151.3,62.2 148.8,61.0 146.1,62.0" stroke="#f9fa2b"/><polygon points="208.5,80.0 211.2,86.2 208.7,95.4 206.0,89.2" stroke="#dfc385"/><polygon points="268.5,59.3 271.2,58.2 268.7,57.0 266.0,58.1" stroke="#f9fa2b"/><polygon points="70.4,86.2 73.1,85.1 70.6,85.8 67.9,86.9" stroke="#dac280"/><polygon points="130.3,63.9 133.0,62.9 130.5,61.7 127.9,62.8" stroke="#f9fb2a"/><polygon points="190.3,112.5 193.0,112.1 190.5,118.0 187.8,118.3" stroke="#62b2ad"/><polygon points="250.2,72.1 252.9,64.3 250.4,63.2 247.7,70.9" stroke="#edd179"/><polygon points="112.1,64.7 114.8,63.6 112.3,62.4 109.6,63.5" stroke="#f9fb2a"/><polygon points="172.0,94.2 174.7,93.1 172.2,74.4 169.5,75.5" stroke="#acc484"/><polygon points="232.0,106.4 234.7,101.4 232.2,100.4 229.5,105.4" stroke="#71b9a6"/><polygon points="291.9,58.6 294.6,57.6 292.1,56.4 289.4,57.5" stroke="#f9fb2a"/><polygon points="93.8,65.4 96.5,64.3 94.0,63.2 91.3,64.3" stroke="#f9fb2a"/><polygon points="153.8,64.1 156.5,63.0 154.0,61.2 151.3,62.2" stroke="#f8f833"/><polygon points="213.7,82.1 216.4,90.2 213.9,94.3 211.2,86.2" stroke="#d8c27e"/><polygon points="273.7,59.4 276.4,58.3 273.9,57.1 271.2,58.2" stroke="#f9fb2a"/><polygon points="75.6,74.3 78.3,73.2 75.8,84.1 73.1,85.1" stroke="#efdd66"/><polygon points="135.5,64.1 138.2,63.0 135.7,61.8 133.0,62.9" stroke="#f9fb2a"/><polygon points="195.5,97.4 198.2,97.9 195.7,112.6 193.0,112.1" stroke="#99c38f"/><polygon points="255.4,65.5 258.1,60.9 255.6,59.8 252.9,64.3" stroke="#f1e758"/><polygon points="57.3,77.0 60.0,76.0 57.5,66.3 54.8,67.4" stroke="#eed770"/><polygon points="117.3,64.8 120.0,63.7 117.5,62.5 114.8,63.6" stroke="#f9fb2a"/><polygon points="177.2,112.3 179.9,111.3 177.4,92.1 174.7,93.1" stroke="#66b4ac"/><polygon points="237.2,102.6 239.9,92.6 237.4,91.4 234.7,101.4" stroke="#7cbd9e"/><polygon points="297.1,58.8 299.8,57.7 297.3,56.5 294.6,57.6" stroke="#f9fb2a"/><polygon points="99.0,65.5 101.7,64.4 99.2,63.2 96.5,64.3" stroke="#f9fb2a"/><polygon points="159.0,67.6 161.7,66.5 159.2,61.9 156.5,63.0" stroke="#f3ec4f"/><polygon points="218.9,89.3 221.6,97.7 219.1,98.6 216.4,90.2" stroke="#bdc37c"/><polygon points="278.8,59.5 281.5,58.4 279.1,57.2 276.4,58.3" stroke="#f9fb2a"/><polygon points="80.8,67.6 83.5,66.6 81.0,72.2 78.3,73.2" stroke="#f7f53c"/><polygon points="140.7,64.2 143.4,63.1 140.9,61.9 138.2,63.0" stroke="#f9fb2a"/><polygon points="200.7,83.5 203.3,85.4 200.9,99.8 198.2,97.9" stroke="#d6c17d"/><polygon points="260.6,62.1 263.3,59.6 260.8,58.5 258.1,60.9" stroke="#f6f340"/><polygon points="62.5,89.0 65.2,87.9 62.7,74.9 60.0,76.0" stroke="#d3c17b"/><polygon points="122.5,64.9 125.2,63.8 122.7,62.6 120.0,63.7" stroke="#f9fb2a"/><polygon points="182.4,120.1 185.1,119.1 182.6,110.3 179.9,111.3" stroke="#56aab7"/><polygon points="242.3,93.7 245.0,81.7 242.5,80.5 239.9,92.6" stroke="#a6c488"/><polygon points="302.3,58.9 305.0,57.8 302.5,56.6 299.8,57.7" stroke="#f9fb2a"/><polygon points="104.2,65.6 106.9,64.5 104.4,63.3 101.7,64.4" stroke="#f9fb2a"/><polygon points="164.1,77.6 166.8,76.5 164.4,65.4 161.7,66.5" stroke="#eacc82"/><polygon points="224.1,98.2 226.8,104.3 224.3,103.7 221.6,97.7" stroke="#93c292"/><polygon points="284.0,59.6 286.7,58.5 284.2,57.3 281.5,58.4" stroke="#f9fb2a"/><polygon points="86.0,66.4 88.7,65.3 86.2,65.5 83.5,66.6" stroke="#f9fa2b"/><polygon points="145.9,64.4 148.6,63.3 146.1,62.0 143.4,63.1" stroke="#f9fa2b"/><polygon points="205.8,76.1 208.5,80.0 206.0,89.2 203.3,85.4" stroke="#eacd81"/><polygon points="265.8,60.8 268.5,59.3 266.0,58.1 263.3,59.6" stroke="#f8f931"/><polygon points="67.7,87.3 70.4,86.2 67.9,86.9 65.2,87.9" stroke="#dac280"/><polygon points="127.6,65.0 130.3,63.9 127.9,62.8 125.2,63.8" stroke="#f9fb2a"/><polygon points="187.6,113.2 190.3,112.5 187.8,118.3 185.1,119.1" stroke="#63b3ad"/><polygon points="247.5,82.9 250.2,72.1 247.7,70.9 245.0,81.7" stroke="#d4c17b"/><polygon points="109.4,65.7 112.1,64.7 109.6,63.5 106.9,64.5" stroke="#f9fb2a"/><polygon points="169.3,95.2 172.0,94.2 169.5,75.5 166.8,76.5" stroke="#acc484"/><polygon points="229.3,105.3 232.0,106.4 229.5,105.4 226.8,104.3" stroke="#76bba2"/><polygon points="289.2,59.7 291.9,58.6 289.4,57.5 286.7,58.5" stroke="#f9fb2a"/><polygon points="91.1,66.4 93.8,65.4 91.3,64.3 88.7,65.3" stroke="#f9fb2a"/><polygon points="151.1,65.1 153.8,64.1 151.3,62.2 148.6,63.3" stroke="#f8f833"/><polygon points="211.0,75.9 213.7,82.1 211.2,86.2 208.5,80.0" stroke="#ebce7f"/><polygon points="271.0,60.5 273.7,59.4 271.2,58.2 268.5,59.3" stroke="#f9fa2b"/><polygon points="72.9,75.4 75.6,74.3 73.1,85.1 70.4,86.2" stroke="#efdd66"/><polygon points="132.8,65.1 135.5,64.1 133.0,62.9 130.3,63.9" stroke="#f9fb2a"/><polygon points="192.8,97.8 195.5,97.4 193.0,112.1 190.3,112.5" stroke="#9dc38d"/><polygon points="252.7,73.3 255.4,65.5 252.9,64.3 250.2,72.1" stroke="#edd179"/><polygon points="114.6,65.8 117.3,64.8 114.8,63.6 112.1,64.7" stroke="#f9fb2a"/><polygon points="174.5,113.4 177.2,112.3 174.7,93.1 172.0,94.2" stroke="#66b4ac"/><polygon points="234.5,107.6 237.2,102.6 234.7,101.4 232.0,106.4" stroke="#71b9a6"/><polygon points="294.4,59.8 297.1,58.8 294.6,57.6 291.9,58.6" stroke="#f9fb2a"/><polygon points="96.3,66.5 99.0,65.5 96.5,64.3 93.8,65.4" stroke="#f9fb2a"/><polygon points="156.3,68.6 159.0,67.6 156.5,63.0 153.8,64.1" stroke="#f3ec4f"/><polygon points="216.2,81.3 218.9,89.3 216.4,90.2 213.7,82.1" stroke="#dfc385"/><polygon points="276.1,60.6 278.8,59.5 276.4,58.3 273.7,59.4" stroke="#f9fb2a"/><polygon points="78.1,68.7 80.8,67.6 78.3,73.2 75.6,74.3" stroke="#f7f53c"/><polygon points="138.0,65.3 140.7,64.2 138.2,63.0 135.5,64.1" stroke="#f9fb2a"/><polygon points="198.0,83.0 200.7,83.5 198.2,97.9 195.5,97.4" stroke="#dbc281"/><polygon points="257.9,66.7 260.6,62.1 258.1,60.9 255.4,65.5" stroke="#f1e758"/><polygon points="59.8,90.1 62.5,89.0 60.0,76.0 57.3,77.0" stroke="#d3c17b"/><polygon points="119.8,66.0 122.5,64.9 120.0,63.7 117.3,64.8" stroke="#f9fb2a"/><polygon points="179.7,121.1 182.4,120.1 179.9,111.3 177.2,112.3" stroke="#56aab7"/><polygon points="239.6,103.7 242.3,93.7 239.9,92.6 237.2,102.6" stroke="#7cbd9e"/><polygon points="299.6,60.0 302.3,58.9 299.8,57.7 297.1,58.8" stroke="#f9fb2a"/><polygon points="101.5,66.7 104.2,65.6 101.7,64.4 99.0,65.5" stroke="#f9fb2a"/><polygon points="161.5,78.7 164.1,77.6 161.7,66.5 159.0,67.6" stroke="#eacc82"/><polygon points="221.4,89.9 224.1,98.2 221.6,97.7 218.9,89.3" stroke="#bfc37a"/><polygon points="281.3,60.7 284.0,59.6 281.5,58.4 278.8,59.5" stroke="#f9fb2a"/><polygon points="83.3,67.5 86.0,66.4 83.5,66.6 80.8,67.6" stroke="#f9fa2b"/><polygon points="143.2,65.4 145.9,64.4 143.4,63.1 140.7,64.2" stroke="#f9fa2b"/><polygon points="203.1,74.3 205.8,76.1 203.3,85.4 200.7,83.5" stroke="#eed573"/><polygon points="263.1,63.3 265.8,60.8 263.3,59.6 260.6,62.1" stroke="#f6f340"/><polygon points="65.0,88.3 67.7,87.3 65.2,87.9 62.5,89.0" stroke="#dac280"/><polygon points="124.9,66.1 127.6,65.0 125.2,63.8 122.5,64.9" stroke="#f9fb2a"/><polygon points="184.9,114.2 187.6,113.2 185.1,119.1 182.4,120.1" stroke="#64b3ad"/><polygon points="244.8,94.9 247.5,82.9 245.0,81.7 242.3,93.7" stroke="#a6c488"/><polygon points="304.8,60.1 307.5,59.0 305.0,57.8 302.3,58.9" stroke="#f9fb2a"/><polygon points="106.7,66.8 109.4,65.7 106.9,64.5 104.2,65.6" stroke="#f9fb2a"/><polygon points="166.6,96.3 169.3,95.2 166.8,76.5 164.1,77.6" stroke="#acc484"/><polygon points="226.6,99.2 229.3,105.3 226.8,104.3 224.1,98.2" stroke="#94c291"/><polygon points="286.5,60.8 289.2,59.7 286.7,58.5 284.0,59.6" stroke="#f9fb2a"/><polygon points="88.4,67.5 91.1,66.4 88.7,65.3 86.0,66.4" stroke="#f9fb2a"/><polygon points="148.4,66.2 151.1,65.1 148.6,63.3 145.9,64.4" stroke="#f8f833"/><polygon points="208.3,72.1 211.0,75.9 208.5,80.0 205.8,76.1" stroke="#efdc68"/><polygon points="268.3,62.0 271.0,60.5 268.5,59.3 265.8,60.8" stroke="#f8f931"/><polygon points="70.2,76.4 72.9,75.4 70.4,86.2 67.7,87.3" stroke="#efdd66"/><polygon points="130.1,66.2 132.8,65.1 130.3,63.9 127.6,65.0" stroke="#f9fb2a"/><polygon points="190.1,98.6 192.8,97.8 190.3,112.5 187.6,113.2" stroke="#9fc38c"/><polygon points="250.0,84.1 252.7,73.3 250.2,72.1 247.5,82.9" stroke="#d4c17b"/><polygon points="111.9,66.9 114.6,65.8 112.1,64.7 109.4,65.7" stroke="#f9fb2a"/><polygon points="171.8,114.4 174.5,113.4 172.0,94.2 169.3,95.2" stroke="#66b4ac"/><polygon points="231.8,106.4 234.5,107.6 232.0,106.4 229.3,105.3" stroke="#76bba2"/><polygon points="291.7,60.9 294.4,59.8 291.9,58.6 289.2,59.7" stroke="#f9fb2a"/><polygon points="93.6,67.6 96.3,66.5 93.8,65.4 91.1,66.4" stroke="#f9fb2a"/><polygon points="153.6,69.7 156.3,68.6 153.8,64.1 151.1,65.1" stroke="#f3ec4f"/><polygon points="213.5,75.1 216.2,81.3 213.7,82.1 211.0,75.9" stroke="#eed376"/><polygon points="273.5,61.7 276.1,60.6 273.7,59.4 271.0,60.5" stroke="#f9fa2b"/><polygon points="75.4,69.8 78.1,68.7 75.6,74.3 72.9,75.4" stroke="#f7f53c"/><polygon points="135.3,66.3 138.0,65.3 135.5,64.1 132.8,65.1" stroke="#f9fb2a"/><polygon points="195.3,83.4 198.0,83.0 195.5,97.4 192.8,97.8" stroke="#dec384"/><polygon points="255.2,74.5 257.9,66.7 255.4,65.5 252.7,73.3" stroke="#edd179"/><polygon points="117.1,67.0 119.8,66.0 117.3,64.8 114.6,65.8" stroke="#f9fb2a"/><polygon points="177.0,122.2 179.7,121.1 177.2,112.3 174.5,113.4" stroke="#56aab7"/><polygon points="236.9,108.7 239.6,103.7 237.2,102.6 234.5,107.6" stroke="#71b9a6"/><polygon points="296.9,61.0 299.6,60.0 297.1,58.8 294.4,59.8" stroke="#f9fb2a"/><polygon points="98.8,67.7 101.5,66.7 99.0,65.5 96.3,66.5" stroke="#f9fb2a"/><polygon points="158.8,79.8 161.5,78.7 159.0,67.6 156.3,68.6" stroke="#eacc82"/><polygon points="218.7,81.8 221.4,89.9 218.9,89.3 216.2,81.3" stroke="#e1c387"/><polygon points="278.6,61.7 281.3,60.7 278.8,59.5 276.1,60.6" stroke="#f9fb2a"/><polygon points="80.6,68.5 83.3,67.5 80.8,67.6 78.1,68.7" stroke="#f9fa2b"/><polygon points="140.5,66.5 143.2,65.4 140.7,64.2 138.0,65.3" stroke="#f9fa2b"/><polygon points="200.4,73.8 203.1,74.3 200.7,83.5 198.0,83.0" stroke="#efd96c"/><polygon points="260.4,67.9 263.1,63.3 260.6,62.1 257.9,66.7" stroke="#f1e758"/><polygon points="62.3,89.4 65.0,88.3 62.5,89.0 59.8,90.1" stroke="#dac280"/><polygon points="122.3,67.1 124.9,66.1 122.5,64.9 119.8,66.0" stroke="#f9fb2a"/><polygon points="182.2,115.2 184.9,114.2 182.4,120.1 179.7,121.1" stroke="#64b3ad"/><polygon points="242.1,104.9 244.8,94.9 242.3,93.7 239.6,103.7" stroke="#7cbd9e"/><polygon points="302.1,61.1 304.8,60.1 302.3,58.9 299.6,60.0" stroke="#f9fb2a"/><polygon points="104.0,67.9 106.7,66.8 104.2,65.6 101.5,66.7" stroke="#f9fb2a"/><polygon points="163.9,97.4 166.6,96.3 164.1,77.6 161.5,78.7" stroke="#acc484"/><polygon points="223.9,90.9 226.6,99.2 224.1,98.2 221.4,89.9" stroke="#c0c37a"/><polygon points="283.8,61.9 286.5,60.8 284.0,59.6 281.3,60.7" stroke="#f9fb2a"/><polygon points="85.7,68.6 88.4,67.5 86.0,66.4 83.3,67.5" stroke="#f9fb2a"/><polygon points="145.7,67.3 148.4,66.2 145.9,64.4 143.2,65.4" stroke="#f8f833"/><polygon points="205.6,70.2 208.3,72.1 205.8,76.1 203.1,74.3" stroke="#f1e659"/><polygon points="265.6,64.5 268.3,62.0 265.8,60.8 263.1,63.3" stroke="#f6f340"/><polygon points="67.5,77.5 70.2,76.4 67.7,87.3 65.0,88.3" stroke="#efdd66"/><polygon points="127.4,67.3 130.1,66.2 127.6,65.0 124.9,66.1" stroke="#f9fb2a"/><polygon points="187.4,99.5 190.1,98.6 187.6,113.2 184.9,114.2" stroke="#9fc38c"/><polygon points="247.3,96.1 250.0,84.1 247.5,82.9 244.8,94.9" stroke="#a6c488"/><polygon points="307.3,61.3 310.0,60.2 307.5,59.0 304.8,60.1" stroke="#f9fb2a"/><polygon points="109.2,68.0 111.9,66.9 109.4,65.7 106.7,66.8" stroke="#f9fb2a"/><polygon points="169.1,115.5 171.8,114.4 169.3,95.2 166.6,96.3" stroke="#66b4ac"/><polygon points="229.1,100.4 231.8,106.4 229.3,105.3 226.6,99.2" stroke="#94c291"/><polygon points="289.0,62.0 291.7,60.9 289.2,59.7 286.5,60.8" stroke="#f9fb2a"/><polygon points="90.9,68.7 93.6,67.6 91.1,66.4 88.4,67.5" stroke="#f9fb2a"/><polygon points="150.9,70.8 153.6,69.7 151.1,65.1 148.4,66.2" stroke="#f3ec4f"/><polygon points="210.8,71.2 213.5,75.1 211.0,75.9 208.3,72.1" stroke="#f0e35d"/><polygon points="270.8,63.2 273.5,61.7 271.0,60.5 268.3,62.0" stroke="#f8f931"/><polygon points="72.7,70.8 75.4,69.8 72.9,75.4 70.2,76.4" stroke="#f7f53c"/><polygon points="132.6,67.4 135.3,66.3 132.8,65.1 130.1,66.2" stroke="#f9fb2a"/><polygon points="192.6,84.2 195.3,83.4 192.8,97.8 190.1,98.6" stroke="#dfc385"/><polygon points="252.5,85.3 255.2,74.5 252.7,73.3 250.0,84.1" stroke="#d4c17b"/><polygon points="114.4,68.1 117.1,67.0 114.6,65.8 111.9,66.9" stroke="#f9fb2a"/><polygon points="174.3,123.2 177.0,122.2 174.5,113.4 171.8,114.4" stroke="#56aab7"/><polygon points="234.3,107.6 236.9,108.7 234.5,107.6 231.8,106.4" stroke="#76bba2"/><polygon points="294.2,62.1 296.9,61.0 294.4,59.8 291.7,60.9" stroke="#f9fb2a"/><polygon points="96.1,68.8 98.8,67.7 96.3,66.5 93.6,67.6" stroke="#f9fb2a"/><polygon points="156.1,80.8 158.8,79.8 156.3,68.6 153.6,69.7" stroke="#eacc82"/><polygon points="216.0,75.6 218.7,81.8 216.2,81.3 213.5,75.1" stroke="#eed573"/><polygon points="275.9,62.9 278.6,61.7 276.1,60.6 273.5,61.7" stroke="#f9fa2b"/><polygon points="77.9,69.6 80.6,68.5 78.1,68.7 75.4,69.8" stroke="#f9fa2b"/><polygon points="137.8,67.6 140.5,66.5 138.0,65.3 135.3,66.3" stroke="#f9fa2b"/><polygon points="197.7,74.1 200.4,73.8 198.0,83.0 195.3,83.4" stroke="#efdc68"/><polygon points="257.7,75.6 260.4,67.9 257.9,66.7 255.2,74.5" stroke="#edd179"/><polygon points="119.6,68.2 122.3,67.1 119.8,66.0 117.1,67.0" stroke="#f9fb2a"/><polygon points="179.5,116.3 182.2,115.2 179.7,121.1 177.0,122.2" stroke="#64b3ad"/><polygon points="239.4,109.9 242.1,104.9 239.6,103.7 236.9,108.7" stroke="#71b9a6"/><polygon points="299.4,62.2 302.1,61.1 299.6,60.0 296.9,61.0" stroke="#f9fb2a"/><polygon points="101.3,68.9 104.0,67.9 101.5,66.7 98.8,67.7" stroke="#f9fb2a"/><polygon points="161.2,98.4 163.9,97.4 161.5,78.7 158.8,79.8" stroke="#acc484"/><polygon points="221.2,82.8 223.9,90.9 221.4,89.9 218.7,81.8" stroke="#e2c487"/><polygon points="281.1,62.9 283.8,61.9 281.3,60.7 278.6,61.7" stroke="#f9fb2a"/><polygon points="83.1,69.6 85.7,68.6 83.3,67.5 80.6,68.5" stroke="#f9fb2a"/><polygon points="143.0,68.3 145.7,67.3 143.2,65.4 140.5,66.5" stroke="#f8f833"/><polygon points="202.9,69.8 205.6,70.2 203.1,74.3 200.4,73.8" stroke="#f3eb50"/><polygon points="262.9,69.1 265.6,64.5 263.1,63.3 260.4,67.9" stroke="#f1e758"/><polygon points="64.8,78.6 67.5,77.5 65.0,88.3 62.3,89.4" stroke="#efdd66"/><polygon points="124.7,68.3 127.4,67.3 124.9,66.1 122.3,67.1" stroke="#f9fb2a"/><polygon points="184.7,100.5 187.4,99.5 184.9,114.2 182.2,115.2" stroke="#9fc38b"/><polygon points="244.6,106.1 247.3,96.1 244.8,94.9 242.1,104.9" stroke="#7cbd9e"/><polygon points="304.6,62.3 307.3,61.3 304.8,60.1 302.1,61.1" stroke="#f9fb2a"/><polygon points="106.5,69.0 109.2,68.0 106.7,66.8 104.0,67.9" stroke="#f9fb2a"/><polygon points="166.4,116.6 169.1,115.5 166.6,96.3 163.9,97.4" stroke="#66b4ac"/><polygon points="226.4,92.0 229.1,100.4 226.6,99.2 223.9,90.9" stroke="#c0c37a"/><polygon points="286.3,63.0 289.0,62.0 286.5,60.8 283.8,61.9" stroke="#f9fb2a"/><polygon points="88.2,69.8 90.9,68.7 88.4,67.5 85.7,68.6" stroke="#f9fb2a"/><polygon points="148.2,71.8 150.9,70.8 148.4,66.2 145.7,67.3" stroke="#f3ec4f"/><polygon points="208.1,69.3 210.8,71.2 208.3,72.1 205.6,70.2" stroke="#f3ed4c"/><polygon points="268.1,65.7 270.8,63.2 268.3,62.0 265.6,64.5" stroke="#f6f340"/><polygon points="70.0,71.9 72.7,70.8 70.2,76.4 67.5,77.5" stroke="#f7f53c"/><polygon points="129.9,68.5 132.6,67.4 130.1,66.2 127.4,67.3" stroke="#f9fb2a"/><polygon points="189.9,85.1 192.6,84.2 190.1,98.6 187.4,99.5" stroke="#dfc385"/><polygon points="249.8,97.3 252.5,85.3 250.0,84.1 247.3,96.1" stroke="#a6c488"/><polygon points="309.7,62.5 312.4,61.4 310.0,60.2 307.3,61.3" stroke="#f9fb2a"/><polygon points="111.7,69.2 114.4,68.1 111.9,66.9 109.2,68.0" stroke="#f9fb2a"/><polygon points="171.6,124.3 174.3,123.2 171.8,114.4 169.1,115.5" stroke="#56aab7"/><polygon points="231.6,101.6 234.3,107.6 231.8,106.4 229.1,100.4" stroke="#94c291"/><polygon points="291.5,63.2 294.2,62.1 291.7,60.9 289.0,62.0" stroke="#f9fb2a"/><polygon points="93.4,69.9 96.1,68.8 93.6,67.6 90.9,68.7" stroke="#f9fb2a"/><polygon points="153.4,81.9 156.1,80.8 153.6,69.7 150.9,70.8" stroke="#eacc82"/><polygon points="213.3,71.7 216.0,75.6 213.5,75.1 210.8,71.2" stroke="#f1e55a"/><polygon points="273.2,64.4 275.9,62.9 273.5,61.7 270.8,63.2" stroke="#f8f931"/><polygon points="75.2,70.7 77.9,69.6 75.4,69.8 72.7,70.8" stroke="#f9fa2b"/><polygon points="135.1,68.6 137.8,67.6 135.3,66.3 132.6,67.4" stroke="#f9fa2b"/><polygon points="195.1,74.9 197.7,74.1 195.3,83.4 192.6,84.2" stroke="#efdd67"/><polygon points="255.0,86.5 257.7,75.6 255.2,74.5 252.5,85.3" stroke="#d4c17b"/><polygon points="116.9,69.3 119.6,68.2 117.1,67.0 114.4,68.1" stroke="#f9fb2a"/><polygon points="176.8,117.3 179.5,116.3 177.0,122.2 174.3,123.2" stroke="#64b3ad"/><polygon points="236.7,108.8 239.4,109.9 236.9,108.7 234.3,107.6" stroke="#76bba2"/><polygon points="296.7,63.3 299.4,62.2 296.9,61.0 294.2,62.1" stroke="#f9fb2a"/><polygon points="98.6,70.0 101.3,68.9 98.8,67.7 96.1,68.8" stroke="#f9fb2a"/><polygon points="158.5,99.5 161.2,98.4 158.8,79.8 156.1,80.8" stroke="#acc484"/><polygon points="218.5,76.6 221.2,82.8 218.7,81.8 216.0,75.6" stroke="#eed672"/><polygon points="278.4,64.1 281.1,62.9 278.6,61.7 275.9,62.9" stroke="#f9fa2b"/><polygon points="80.4,70.7 83.1,69.6 80.6,68.5 77.9,69.6" stroke="#f9fb2a"/><polygon points="140.3,69.4 143.0,68.3 140.5,66.5 137.8,67.6" stroke="#f8f833"/><polygon points="200.2,70.1 202.9,69.8 200.4,73.8 197.7,74.1" stroke="#f4ee4b"/><polygon points="260.2,76.8 262.9,69.1 260.4,67.9 257.7,75.6" stroke="#edd179"/><polygon points="122.0,69.4 124.7,68.3 122.3,67.1 119.6,68.2" stroke="#f9fb2a"/><polygon points="182.0,101.6 184.7,100.5 182.2,115.2 179.5,116.3" stroke="#9fc38b"/><polygon points="241.9,111.1 244.6,106.1 242.1,104.9 239.4,109.9" stroke="#71b9a6"/><polygon points="301.9,63.4 304.6,62.3 302.1,61.1 299.4,62.2" stroke="#f9fb2a"/><polygon points="103.8,70.1 106.5,69.0 104.0,67.9 101.3,68.9" stroke="#f9fb2a"/><polygon points="163.7,117.6 166.4,116.6 163.9,97.4 161.2,98.4" stroke="#66b4ac"/><polygon points="223.7,84.0 226.4,92.0 223.9,90.9 221.2,82.8" stroke="#e2c487"/><polygon points="283.6,64.1 286.3,63.0 283.8,61.9 281.1,62.9" stroke="#f9fb2a"/><polygon points="85.5,70.8 88.2,69.8 85.7,68.6 83.1,69.6" stroke="#f9fb2a"/><polygon points="145.5,72.9 148.2,71.8 145.7,67.3 143.0,68.3" stroke="#f3ec4f"/><polygon points="205.4,68.9 208.1,69.3 205.6,70.2 202.9,69.8" stroke="#f6f341"/><polygon points="265.4,70.3 268.1,65.7 265.6,64.5 262.9,69.1" stroke="#f1e758"/><polygon points="67.3,73.0 70.0,71.9 67.5,77.5 64.8,78.6" stroke="#f7f53c"/><polygon points="127.2,69.5 129.9,68.5 127.4,67.3 124.7,68.3" stroke="#f9fb2a"/><polygon points="187.2,86.1 189.9,85.1 187.4,99.5 184.7,100.5" stroke="#dfc385"/><polygon points="247.1,107.3 249.8,97.3 247.3,96.1 244.6,106.1" stroke="#7cbd9e"/><polygon points="307.1,63.5 309.7,62.5 307.3,61.3 304.6,62.3" stroke="#f9fb2a"/><polygon points="109.0,70.2 111.7,69.2 109.2,68.0 106.5,69.0" stroke="#f9fb2a"/><polygon points="168.9,125.4 171.6,124.3 169.1,115.5 166.4,116.6" stroke="#56aab7"/><polygon points="228.9,93.2 231.6,101.6 229.1,100.4 226.4,92.0" stroke="#c0c37a"/><polygon points="288.8,64.2 291.5,63.2 289.0,62.0 286.3,63.0" stroke="#f9fb2a"/><polygon points="90.7,70.9 93.4,69.9 90.9,68.7 88.2,69.8" stroke="#f9fb2a"/><polygon points="150.7,83.0 153.4,81.9 150.9,70.8 148.2,71.8" stroke="#eacc82"/><polygon points="210.6,69.9 213.3,71.7 210.8,71.2 208.1,69.3" stroke="#f4f048"/><polygon points="270.5,66.9 273.2,64.4 270.8,63.2 268.1,65.7" stroke="#f6f340"/><polygon points="72.5,71.7 75.2,70.7 72.7,70.8 70.0,71.9" stroke="#f9fa2b"/><polygon points="132.4,69.7 135.1,68.6 132.6,67.4 129.9,68.5" stroke="#f9fa2b"/><polygon points="192.4,75.9 195.1,74.9 192.6,84.2 189.9,85.1" stroke="#efdd66"/><polygon points="252.3,98.5 255.0,86.5 252.5,85.3 249.8,97.3" stroke="#a6c488"/><polygon points="312.2,63.6 314.9,62.6 312.4,61.4 309.7,62.5" stroke="#f9fb2a"/><polygon points="114.2,70.4 116.9,69.3 114.4,68.1 111.7,69.2" stroke="#f9fb2a"/><polygon points="174.1,118.4 176.8,117.3 174.3,123.2 171.6,124.3" stroke="#64b3ad"/><polygon points="234.0,102.8 236.7,108.8 234.3,107.6 231.6,101.6" stroke="#94c291"/><polygon points="294.0,64.3 296.7,63.3 294.2,62.1 291.5,63.2" stroke="#f9fb2a"/><polygon points="95.9,71.1 98.6,70.0 96.1,68.8 93.4,69.9" stroke="#f9fb2a"/><polygon points="155.9,100.6 158.5,99.5 156.1,80.8 153.4,81.9" stroke="#acc484"/><polygon points="215.8,72.7 218.5,76.6 216.0,75.6 213.3,71.7" stroke="#f1e659"/><polygon points="275.7,65.6 278.4,64.1 275.9,62.9 273.2,64.4" stroke="#f8f931"/><polygon points="77.7,71.8 80.4,70.7 77.9,69.6 75.2,70.7" stroke="#f9fb2a"/><polygon points="137.6,70.5 140.3,69.4 137.8,67.6 135.1,68.6" stroke="#f8f833"/><polygon points="197.5,70.9 200.2,70.1 197.7,74.1 195.1,74.9" stroke="#f4ef49"/><polygon points="257.5,87.6 260.2,76.8 257.7,75.6 255.0,86.5" stroke="#d4c17b"/><polygon points="119.3,70.5 122.0,69.4 119.6,68.2 116.9,69.3" stroke="#f9fb2a"/><polygon points="179.3,102.7 182.0,101.6 179.5,116.3 176.8,117.3" stroke="#9fc38b"/><polygon points="239.2,110.0 241.9,111.1 239.4,109.9 236.7,108.8" stroke="#76bba2"/><polygon points="299.2,64.5 301.9,63.4 299.4,62.2 296.7,63.3" stroke="#f9fb2a"/><polygon points="101.1,71.2 103.8,70.1 101.3,68.9 98.6,70.0" stroke="#f9fb2a"/><polygon points="161.0,118.7 163.7,117.6 161.2,98.4 158.5,99.5" stroke="#66b4ac"/><polygon points="221.0,77.8 223.7,84.0 221.2,82.8 218.5,76.6" stroke="#eed672"/><polygon points="280.9,65.3 283.6,64.1 281.1,62.9 278.4,64.1" stroke="#f9fa2b"/><polygon points="82.8,71.9 85.5,70.8 83.1,69.6 80.4,70.7" stroke="#f9fb2a"/><polygon points="142.8,74.0 145.5,72.9 143.0,68.3 140.3,69.4" stroke="#f3ec4f"/><polygon points="202.7,69.2 205.4,68.9 202.9,69.8 200.2,70.1" stroke="#f7f63b"/><polygon points="262.7,78.0 265.4,70.3 262.9,69.1 260.2,76.8" stroke="#edd179"/><polygon points="124.5,70.6 127.2,69.5 124.7,68.3 122.0,69.4" stroke="#f9fb2a"/><polygon points="184.5,87.2 187.2,86.1 184.7,100.5 182.0,101.6" stroke="#dfc385"/><polygon points="244.4,112.3 247.1,107.3 244.6,106.1 241.9,111.1" stroke="#71b9a6"/><polygon points="304.4,64.6 307.1,63.5 304.6,62.3 301.9,63.4" stroke="#f9fb2a"/><polygon points="106.3,71.3 109.0,70.2 106.5,69.0 103.8,70.1" stroke="#f9fb2a"/><polygon points="166.2,126.4 168.9,125.4 166.4,116.6 163.7,117.6" stroke="#56aab7"/><polygon points="226.2,85.2 228.9,93.2 226.4,92.0 223.7,84.0" stroke="#e2c487"/><polygon points="286.1,65.3 288.8,64.2 286.3,63.0 283.6,64.1" stroke="#f9fb2a"/><polygon points="88.0,72.0 90.7,70.9 88.2,69.8 85.5,70.8" stroke="#f9fb2a"/><polygon points="148.0,84.0 150.7,83.0 148.2,71.8 145.5,72.9" stroke="#eacc82"/><polygon points="207.9,69.4 210.6,69.9 208.1,69.3 205.4,68.9" stroke="#f7f53b"/><polygon points="267.9,71.5 270.5,66.9 268.1,65.7 265.4,70.3" stroke="#f1e758"/><polygon points="69.8,72.8 72.5,71.7 70.0,71.9 67.3,73.0" stroke="#f9fa2b"/><polygon points="129.7,70.8 132.4,69.7 129.9,68.5 127.2,69.5" stroke="#f9fa2b"/><polygon points="189.7,76.9 192.4,75.9 189.9,85.1 187.2,86.1" stroke="#efdd66"/><polygon points="249.6,108.5 252.3,98.5 249.8,97.3 247.1,107.3" stroke="#7cbd9e"/><polygon points="309.5,64.7 312.2,63.6 309.7,62.5 307.1,63.5" stroke="#f9fb2a"/><polygon points="111.5,71.4 114.2,70.4 111.7,69.2 109.0,70.2" stroke="#f9fb2a"/><polygon points="171.4,119.5 174.1,118.4 171.6,124.3 168.9,125.4" stroke="#64b3ad"/><polygon points="231.3,94.4 234.0,102.8 231.6,101.6 228.9,93.2" stroke="#c0c37a"/><polygon points="291.3,65.4 294.0,64.3 291.5,63.2 288.8,64.2" stroke="#f9fb2a"/><polygon points="93.2,72.1 95.9,71.1 93.4,69.9 90.7,70.9" stroke="#f9fb2a"/><polygon points="153.2,101.6 155.9,100.6 153.4,81.9 150.7,83.0" stroke="#acc484"/><polygon points="213.1,70.9 215.8,72.7 213.3,71.7 210.6,69.9" stroke="#f5f046"/><polygon points="273.0,68.1 275.7,65.6 273.2,64.4 270.5,66.9" stroke="#f6f340"/><polygon points="75.0,72.8 77.7,71.8 75.2,70.7 72.5,71.7" stroke="#f9fb2a"/><polygon points="134.9,71.5 137.6,70.5 135.1,68.6 132.4,69.7" stroke="#f8f833"/><polygon points="194.8,71.8 197.5,70.9 195.1,74.9 192.4,75.9" stroke="#f4f048"/><polygon points="254.8,99.7 257.5,87.6 255.0,86.5 252.3,98.5" stroke="#a6c488"/><polygon points="314.7,64.8 317.4,63.8 314.9,62.6 312.2,63.6" stroke="#f9fb2a"/><polygon points="116.7,71.5 119.3,70.5 116.9,69.3 114.2,70.4" stroke="#f9fb2a"/><polygon points="176.6,103.7 179.3,102.7 176.8,117.3 174.1,118.4" stroke="#9fc38b"/><polygon points="236.5,104.0 239.2,110.0 236.7,108.8 234.0,102.8" stroke="#94c291"/><polygon points="296.5,65.5 299.2,64.5 296.7,63.3 294.0,64.3" stroke="#f9fb2a"/><polygon points="98.4,72.3 101.1,71.2 98.6,70.0 95.9,71.1" stroke="#f9fb2a"/><polygon points="158.3,119.8 161.0,118.7 158.5,99.5 155.9,100.6" stroke="#66b4ac"/><polygon points="218.3,73.9 221.0,77.8 218.5,76.6 215.8,72.7" stroke="#f1e659"/><polygon points="278.2,66.8 280.9,65.3 278.4,64.1 275.7,65.6" stroke="#f8f931"/><polygon points="80.1,73.0 82.8,71.9 80.4,70.7 77.7,71.8" stroke="#f9fb2a"/><polygon points="140.1,75.0 142.8,74.0 140.3,69.4 137.6,70.5" stroke="#f3ec4f"/><polygon points="200.0,70.0 202.7,69.2 200.2,70.1 197.5,70.9" stroke="#f7f737"/><polygon points="260.0,88.8 262.7,78.0 260.2,76.8 257.5,87.6" stroke="#d4c17b"/><polygon points="121.8,71.7 124.5,70.6 122.0,69.4 119.3,70.5" stroke="#f9fb2a"/><polygon points="181.8,88.3 184.5,87.2 182.0,101.6 179.3,102.7" stroke="#dfc385"/><polygon points="241.7,111.2 244.4,112.3 241.9,111.1 239.2,110.0" stroke="#76bba2"/><polygon points="301.7,65.7 304.4,64.6 301.9,63.4 299.2,64.5" stroke="#f9fb2a"/><polygon points="103.6,72.4 106.3,71.3 103.8,70.1 101.1,71.2" stroke="#f9fb2a"/><polygon points="163.5,127.5 166.2,126.4 163.7,117.6 161.0,118.7" stroke="#56aab7"/><polygon points="223.5,78.9 226.2,85.2 223.7,84.0 221.0,77.8" stroke="#eed672"/><polygon points="283.4,66.5 286.1,65.3 283.6,64.1 280.9,65.3" stroke="#f9fa2b"/><polygon points="85.3,73.1 88.0,72.0 85.5,70.8 82.8,71.9" stroke="#f9fb2a"/><polygon points="145.3,85.1 148.0,84.0 145.5,72.9 142.8,74.0" stroke="#eacc82"/><polygon points="205.2,69.8 207.9,69.4 205.4,68.9 202.7,69.2" stroke="#f8f833"/><polygon points="265.2,79.2 267.9,71.5 265.4,70.3 262.7,78.0" stroke="#edd179"/><polygon points="127.0,71.8 129.7,70.8 127.2,69.5 124.5,70.6" stroke="#f9fa2b"/><polygon points="187.0,78.0 189.7,76.9 187.2,86.1 184.5,87.2" stroke="#efdd66"/><polygon points="246.9,113.5 249.6,108.5 247.1,107.3 244.4,112.3" stroke="#71b9a6"/><polygon points="306.8,65.8 309.5,64.7 307.1,63.5 304.4,64.6" stroke="#f9fb2a"/><polygon points="108.8,72.5 111.5,71.4 109.0,70.2 106.3,71.3" stroke="#f9fb2a"/><polygon points="168.7,120.5 171.4,119.5 168.9,125.4 166.2,126.4" stroke="#64b3ad"/><polygon points="228.7,86.3 231.3,94.4 228.9,93.2 226.2,85.2" stroke="#e2c487"/><polygon points="288.6,66.5 291.3,65.4 288.8,64.2 286.1,65.3" stroke="#f9fb2a"/><polygon points="90.5,73.2 93.2,72.1 90.7,70.9 88.0,72.0" stroke="#f9fb2a"/><polygon points="150.5,102.7 153.2,101.6 150.7,83.0 148.0,84.0" stroke="#acc484"/><polygon points="210.4,70.4 213.1,70.9 210.6,69.9 207.9,69.4" stroke="#f7f639"/><polygon points="270.3,72.7 273.0,68.1 270.5,66.9 267.9,71.5" stroke="#f1e758"/><polygon points="72.3,73.9 75.0,72.8 72.5,71.7 69.8,72.8" stroke="#f9fb2a"/><polygon points="132.2,72.6 134.9,71.5 132.4,69.7 129.7,70.8" stroke="#f8f833"/><polygon points="192.1,72.9 194.8,71.8 192.4,75.9 189.7,76.9" stroke="#f4f048"/><polygon points="252.1,109.7 254.8,99.7 252.3,98.5 249.6,108.5" stroke="#7cbd9e"/><polygon points="312.0,65.9 314.7,64.8 312.2,63.6 309.5,64.7" stroke="#f9fb2a"/><polygon points="114.0,72.6 116.7,71.5 114.2,70.4 111.5,71.4" stroke="#f9fb2a"/><polygon points="173.9,104.8 176.6,103.7 174.1,118.4 171.4,119.5" stroke="#9fc38b"/><polygon points="233.8,95.6 236.5,104.0 234.0,102.8 231.3,94.4" stroke="#c0c37a"/><polygon points="293.8,66.6 296.5,65.5 294.0,64.3 291.3,65.4" stroke="#f9fb2a"/><polygon points="95.7,73.3 98.4,72.3 95.9,71.1 93.2,72.1" stroke="#f9fb2a"/><polygon points="155.6,120.9 158.3,119.8 155.9,100.6 153.2,101.6" stroke="#66b4ac"/><polygon points="215.6,72.0 218.3,73.9 215.8,72.7 213.1,70.9" stroke="#f5f146"/><polygon points="275.5,69.3 278.2,66.8 275.7,65.6 273.0,68.1" stroke="#f6f340"/><polygon points="77.5,74.0 80.1,73.0 77.7,71.8 75.0,72.8" stroke="#f9fb2a"/><polygon points="137.4,76.1 140.1,75.0 137.6,70.5 134.9,71.5" stroke="#f3ec4f"/><polygon points="197.3,70.9 200.0,70.0 197.5,70.9 194.8,71.8" stroke="#f8f736"/><polygon points="257.3,100.9 260.0,88.8 257.5,87.6 254.8,99.7" stroke="#a6c488"/><polygon points="317.2,66.0 319.9,65.0 317.4,63.8 314.7,64.8" stroke="#f9fb2a"/><polygon points="119.1,72.7 121.8,71.7 119.3,70.5 116.7,71.5" stroke="#f9fb2a"/><polygon points="179.1,89.3 181.8,88.3 179.3,102.7 176.6,103.7" stroke="#dfc385"/><polygon points="239.0,105.1 241.7,111.2 239.2,110.0 236.5,104.0" stroke="#94c291"/><polygon points="299.0,66.7 301.7,65.7 299.2,64.5 296.5,65.5" stroke="#f9fb2a"/><polygon points="100.9,73.4 103.6,72.4 101.1,71.2 98.4,72.3" stroke="#f9fb2a"/><polygon points="160.8,128.6 163.5,127.5 161.0,118.7 158.3,119.8" stroke="#56aab7"/><polygon points="220.8,75.1 223.5,78.9 221.0,77.8 218.3,73.9" stroke="#f1e659"/><polygon points="280.7,68.0 283.4,66.5 280.9,65.3 278.2,66.8" stroke="#f8f931"/><polygon points="82.6,74.1 85.3,73.1 82.8,71.9 80.1,73.0" stroke="#f9fb2a"/><polygon points="142.6,86.2 145.3,85.1 142.8,74.0 140.1,75.0" stroke="#eacc82"/><polygon points="202.5,70.5 205.2,69.8 202.7,69.2 200.0,70.0" stroke="#f9f92f"/><polygon points="262.5,90.0 265.2,79.2 262.7,78.0 260.0,88.8" stroke="#d4c17b"/><polygon points="124.3,72.9 127.0,71.8 124.5,70.6 121.8,71.7" stroke="#f9fa2b"/><polygon points="184.3,79.0 187.0,78.0 184.5,87.2 181.8,88.3" stroke="#efdd66"/><polygon points="244.2,112.4 246.9,113.5 244.4,112.3 241.7,111.2" stroke="#76bba2"/><polygon points="304.1,66.8 306.8,65.8 304.4,64.6 301.7,65.7" stroke="#f9fb2a"/><polygon points="106.1,73.6 108.8,72.5 106.3,71.3 103.6,72.4" stroke="#f9fb2a"/><polygon points="166.0,121.6 168.7,120.5 166.2,126.4 163.5,127.5" stroke="#64b3ad"/><polygon points="226.0,80.1 228.7,86.3 226.2,85.2 223.5,78.9" stroke="#eed672"/><polygon points="285.9,67.7 288.6,66.5 286.1,65.3 283.4,66.5" stroke="#f9fa2b"/><polygon points="87.8,74.3 90.5,73.2 88.0,72.0 85.3,73.1" stroke="#f9fb2a"/><polygon points="147.8,103.8 150.5,102.7 148.0,84.0 145.3,85.1" stroke="#acc484"/><polygon points="207.7,70.8 210.4,70.4 207.9,69.4 205.2,69.8" stroke="#f8f931"/><polygon points="267.6,80.4 270.3,72.7 267.9,71.5 265.2,79.2" stroke="#edd179"/><polygon points="129.5,73.7 132.2,72.6 129.7,70.8 127.0,71.8" stroke="#f8f833"/><polygon points="189.5,73.9 192.1,72.9 189.7,76.9 187.0,78.0" stroke="#f4f048"/><polygon points="249.4,114.7 252.1,109.7 249.6,108.5 246.9,113.5" stroke="#71b9a6"/><polygon points="309.3,67.0 312.0,65.9 309.5,64.7 306.8,65.8" stroke="#f9fb2a"/><polygon points="111.3,73.7 114.0,72.6 111.5,71.4 108.8,72.5" stroke="#f9fb2a"/><polygon points="171.2,105.9 173.9,104.8 171.4,119.5 168.7,120.5" stroke="#9fc38b"/><polygon points="231.1,87.5 233.8,95.6 231.3,94.4 228.7,86.3" stroke="#e2c487"/><polygon points="291.1,67.7 293.8,66.6 291.3,65.4 288.6,66.5" stroke="#f9fb2a"/><polygon points="93.0,74.4 95.7,73.3 93.2,72.1 90.5,73.2" stroke="#f9fb2a"/><polygon points="152.9,121.9 155.6,120.9 153.2,101.6 150.5,102.7" stroke="#66b4ac"/><polygon points="212.9,71.6 215.6,72.0 213.1,70.9 210.4,70.4" stroke="#f7f639"/><polygon points="272.8,73.9 275.5,69.3 273.0,68.1 270.3,72.7" stroke="#f1e758"/><polygon points="74.8,75.1 77.5,74.0 75.0,72.8 72.3,73.9" stroke="#f9fb2a"/><polygon points="134.7,77.2 137.4,76.1 134.9,71.5 132.2,72.6" stroke="#f3ec4f"/><polygon points="194.6,72.0 197.3,70.9 194.8,71.8 192.1,72.9" stroke="#f8f735"/><polygon points="254.6,110.9 257.3,100.9 254.8,99.7 252.1,109.7" stroke="#7cbd9e"/><polygon points="314.5,67.1 317.2,66.0 314.7,64.8 312.0,65.9" stroke="#f9fb2a"/><polygon points="116.4,73.8 119.1,72.7 116.7,71.5 114.0,72.6" stroke="#f9fb2a"/><polygon points="176.4,90.4 179.1,89.3 176.6,103.7 173.9,104.8" stroke="#dfc385"/><polygon points="236.3,96.8 239.0,105.1 236.5,104.0 233.8,95.6" stroke="#c0c37a"/><polygon points="296.3,67.8 299.0,66.7 296.5,65.5 293.8,66.6" stroke="#f9fb2a"/><polygon points="98.2,74.5 100.9,73.4 98.4,72.3 95.7,73.3" stroke="#f9fb2a"/><polygon points="158.1,129.6 160.8,128.6 158.3,119.8 155.6,120.9" stroke="#56aab7"/><polygon points="218.1,73.2 220.8,75.1 218.3,73.9 215.6,72.0" stroke="#f5f146"/><polygon points="278.0,70.5 280.7,68.0 278.2,66.8 275.5,69.3" stroke="#f6f340"/><polygon points="79.9,75.2 82.6,74.1 80.1,73.0 77.5,74.0" stroke="#f9fb2a"/><polygon points="139.9,87.2 142.6,86.2 140.1,75.0 137.4,76.1" stroke="#eacc82"/><polygon points="199.8,71.5 202.5,70.5 200.0,70.0 197.3,70.9" stroke="#f9fa2e"/><polygon points="259.8,102.1 262.5,90.0 260.0,88.8 257.3,100.9" stroke="#a6c488"/><polygon points="319.7,67.2 322.4,66.1 319.9,65.0 317.2,66.0" stroke="#f9fb2a"/><polygon points="121.6,74.0 124.3,72.9 121.8,71.7 119.1,72.7" stroke="#f9fa2b"/><polygon points="181.6,80.1 184.3,79.0 181.8,88.3 179.1,89.3" stroke="#efdd66"/><polygon points="241.5,106.3 244.2,112.4 241.7,111.2 239.0,105.1" stroke="#94c291"/><polygon points="301.5,67.9 304.1,66.8 301.7,65.7 299.0,66.7" stroke="#f9fb2a"/><polygon points="103.4,74.6 106.1,73.6 103.6,72.4 100.9,73.4" stroke="#f9fb2a"/><polygon points="163.3,122.7 166.0,121.6 163.5,127.5 160.8,128.6" stroke="#64b3ad"/><polygon points="223.3,76.3 226.0,80.1 223.5,78.9 220.8,75.1" stroke="#f1e659"/><polygon points="283.2,69.2 285.9,67.7 283.4,66.5 280.7,68.0" stroke="#f8f931"/><polygon points="85.1,75.3 87.8,74.3 85.3,73.1 82.6,74.1" stroke="#f9fb2a"/><polygon points="145.1,104.8 147.8,103.8 145.3,85.1 142.6,86.2" stroke="#acc484"/><polygon points="205.0,71.5 207.7,70.8 205.2,69.8 202.5,70.5" stroke="#f9fa2d"/><polygon points="264.9,91.2 267.6,80.4 265.2,79.2 262.5,90.0" stroke="#d4c17b"/><polygon points="126.8,74.8 129.5,73.7 127.0,71.8 124.3,72.9" stroke="#f8f833"/><polygon points="186.8,75.0 189.5,73.9 187.0,78.0 184.3,79.0" stroke="#f4f048"/><polygon points="246.7,113.6 249.4,114.7 246.9,113.5 244.2,112.4" stroke="#76bba2"/><polygon points="306.6,68.0 309.3,67.0 306.8,65.8 304.1,66.8" stroke="#f9fb2a"/><polygon points="108.6,74.7 111.3,73.7 108.8,72.5 106.1,73.6" stroke="#f9fb2a"/><polygon points="168.5,106.9 171.2,105.9 168.7,120.5 166.0,121.6" stroke="#9fc38b"/><polygon points="228.4,81.3 231.1,87.5 228.7,86.3 226.0,80.1" stroke="#eed672"/><polygon points="288.4,68.8 291.1,67.7 288.6,66.5 285.9,67.7" stroke="#f9fa2b"/><polygon points="90.3,75.5 93.0,74.4 90.5,73.2 87.8,74.3" stroke="#f9fb2a"/><polygon points="150.3,123.0 152.9,121.9 150.5,102.7 147.8,103.8" stroke="#66b4ac"/><polygon points="210.2,71.9 212.9,71.6 210.4,70.4 207.7,70.8" stroke="#f8f930"/><polygon points="270.1,81.6 272.8,73.9 270.3,72.7 267.6,80.4" stroke="#edd179"/><polygon points="132.0,78.2 134.7,77.2 132.2,72.6 129.5,73.7" stroke="#f3ec4f"/><polygon points="191.9,73.0 194.6,72.0 192.1,72.9 189.5,73.9" stroke="#f8f735"/><polygon points="251.9,115.9 254.6,110.9 252.1,109.7 249.4,114.7" stroke="#71b9a6"/><polygon points="311.8,68.2 314.5,67.1 312.0,65.9 309.3,67.0" stroke="#f9fb2a"/><polygon points="113.7,74.9 116.4,73.8 114.0,72.6 111.3,73.7" stroke="#f9fb2a"/><polygon points="173.7,91.5 176.4,90.4 173.9,104.8 171.2,105.9" stroke="#dfc385"/><polygon points="233.6,88.7 236.3,96.8 233.8,95.6 231.1,87.5" stroke="#e2c487"/><polygon points="293.6,68.9 296.3,67.8 293.8,66.6 291.1,67.7" stroke="#f9fb2a"/><polygon points="95.5,75.6 98.2,74.5 95.7,73.3 93.0,74.4" stroke="#f9fb2a"/><polygon points="155.4,130.7 158.1,129.6 155.6,120.9 152.9,121.9" stroke="#56aab7"/><polygon points="215.4,72.8 218.1,73.2 215.6,72.0 212.9,71.6" stroke="#f7f639"/><polygon points="275.3,75.0 278.0,70.5 275.5,69.3 272.8,73.9" stroke="#f1e758"/><polygon points="77.2,76.3 79.9,75.2 77.5,74.0 74.8,75.1" stroke="#f9fb2a"/><polygon points="137.2,88.3 139.9,87.2 137.4,76.1 134.7,77.2" stroke="#eacc82"/><polygon points="197.1,72.5 199.8,71.5 197.3,70.9 194.6,72.0" stroke="#f9fa2d"/><polygon points="257.1,112.1 259.8,102.1 257.3,100.9 254.6,110.9" stroke="#7cbd9e"/><polygon points="317.0,68.3 319.7,67.2 317.2,66.0 314.5,67.1" stroke="#f9fb2a"/><polygon points="118.9,75.1 121.6,74.0 119.1,72.7 116.4,73.8" stroke="#f9fa2b"/><polygon points="178.9,81.2 181.6,80.1 179.1,89.3 176.4,90.4" stroke="#efdd66"/><polygon points="238.8,98.0 241.5,106.3 239.0,105.1 236.3,96.8" stroke="#c0c37a"/><polygon points="298.8,69.0 301.5,67.9 299.0,66.7 296.3,67.8" stroke="#f9fb2a"/><polygon points="100.7,75.7 103.4,74.6 100.9,73.4 98.2,74.5" stroke="#f9fb2a"/><polygon points="160.6,123.7 163.3,122.7 160.8,128.6 158.1,129.6" stroke="#64b3ad"/><polygon points="220.6,74.4 223.3,76.3 220.8,75.1 218.1,73.2" stroke="#f5f146"/><polygon points="280.5,71.6 283.2,69.2 280.7,68.0 278.0,70.5" stroke="#f6f340"/><polygon points="82.4,76.4 85.1,75.3 82.6,74.1 79.9,75.2" stroke="#f9fb2a"/><polygon points="142.4,105.9 145.1,104.8 142.6,86.2 139.9,87.2" stroke="#acc484"/><polygon points="202.3,72.5 205.0,71.5 202.5,70.5 199.8,71.5" stroke="#f9fa2b"/><polygon points="262.3,103.2 264.9,91.2 262.5,90.0 259.8,102.1" stroke="#a6c488"/><polygon points="124.1,75.8 126.8,74.8 124.3,72.9 121.6,74.0" stroke="#f8f833"/><polygon points="184.1,76.0 186.8,75.0 184.3,79.0 181.6,80.1" stroke="#f4f048"/><polygon points="244.0,107.5 246.7,113.6 244.2,112.4 241.5,106.3" stroke="#94c291"/><polygon points="303.9,69.1 306.6,68.0 304.1,66.8 301.5,67.9" stroke="#f9fb2a"/><polygon points="105.9,75.8 108.6,74.7 106.1,73.6 103.4,74.6" stroke="#f9fb2a"/><polygon points="165.8,108.0 168.5,106.9 166.0,121.6 163.3,122.7" stroke="#9fc38b"/><polygon points="225.7,77.5 228.4,81.3 226.0,80.1 223.3,76.3" stroke="#f1e659"/><polygon points="285.7,70.3 288.4,68.8 285.9,67.7 283.2,69.2" stroke="#f8f931"/><polygon points="87.6,76.5 90.3,75.5 87.8,74.3 85.1,75.3" stroke="#f9fb2a"/><polygon points="147.6,124.1 150.3,123.0 147.8,103.8 145.1,104.8" stroke="#66b4ac"/><polygon points="207.5,72.7 210.2,71.9 207.7,70.8 205.0,71.5" stroke="#f9fa2c"/><polygon points="267.4,92.4 270.1,81.6 267.6,80.4 264.9,91.2" stroke="#d4c17b"/><polygon points="129.3,79.3 132.0,78.2 129.5,73.7 126.8,74.8" stroke="#f3ec4f"/><polygon points="189.2,74.1 191.9,73.0 189.5,73.9 186.8,75.0" stroke="#f8f735"/><polygon points="249.2,114.8 251.9,115.9 249.4,114.7 246.7,113.6" stroke="#76bba2"/><polygon points="309.1,69.2 311.8,68.2 309.3,67.0 306.6,68.0" stroke="#f9fb2a"/><polygon points="111.1,75.9 113.7,74.9 111.3,73.7 108.6,74.7" stroke="#f9fb2a"/><polygon points="171.0,92.5 173.7,91.5 171.2,105.9 168.5,106.9" stroke="#dfc385"/><polygon points="230.9,82.5 233.6,88.7 231.1,87.5 228.4,81.3" stroke="#eed672"/><polygon points="290.9,70.0 293.6,68.9 291.1,67.7 288.4,68.8" stroke="#f9fa2b"/><polygon points="92.8,76.6 95.5,75.6 93.0,74.4 90.3,75.5" stroke="#f9fb2a"/><polygon points="152.7,131.8 155.4,130.7 152.9,121.9 150.3,123.0" stroke="#56aab7"/><polygon points="212.7,73.1 215.4,72.8 212.9,71.6 210.2,71.9" stroke="#f8f930"/><polygon points="272.6,82.8 275.3,75.0 272.8,73.9 270.1,81.6" stroke="#edd179"/><polygon points="134.5,89.4 137.2,88.3 134.7,77.2 132.0,78.2" stroke="#eacc82"/><polygon points="194.4,73.6 197.1,72.5 194.6,72.0 191.9,73.0" stroke="#f9fa2d"/><polygon points="254.4,117.1 257.1,112.1 254.6,110.9 251.9,115.9" stroke="#71b9a6"/><polygon points="314.3,69.3 317.0,68.3 314.5,67.1 311.8,68.2" stroke="#f9fb2a"/><polygon points="116.2,76.1 118.9,75.1 116.4,73.8 113.7,74.9" stroke="#f9fa2b"/><polygon points="176.2,82.2 178.9,81.2 176.4,90.4 173.7,91.5" stroke="#efdd66"/><polygon points="236.1,89.9 238.8,98.0 236.3,96.8 233.6,88.7" stroke="#e2c487"/><polygon points="296.1,70.1 298.8,69.0 296.3,67.8 293.6,68.9" stroke="#f9fb2a"/><polygon points="98.0,76.8 100.7,75.7 98.2,74.5 95.5,75.6" stroke="#f9fb2a"/><polygon points="157.9,124.8 160.6,123.7 158.1,129.6 155.4,130.7" stroke="#64b3ad"/><polygon points="217.9,74.0 220.6,74.4 218.1,73.2 215.4,72.8" stroke="#f7f639"/><polygon points="277.8,76.2 280.5,71.6 278.0,70.5 275.3,75.0" stroke="#f1e758"/><polygon points="79.7,77.5 82.4,76.4 79.9,75.2 77.2,76.3" stroke="#f9fb2a"/><polygon points="139.7,107.0 142.4,105.9 139.9,87.2 137.2,88.3" stroke="#acc484"/><polygon points="199.6,73.5 202.3,72.5 199.8,71.5 197.1,72.5" stroke="#f9fa2b"/><polygon points="259.6,113.3 262.3,103.2 259.8,102.1 257.1,112.1" stroke="#7cbd9e"/><polygon points="121.4,76.9 124.1,75.8 121.6,74.0 118.9,75.1" stroke="#f8f833"/><polygon points="181.4,77.1 184.1,76.0 181.6,80.1 178.9,81.2" stroke="#f4f048"/><polygon points="241.3,99.2 244.0,107.5 241.5,106.3 238.8,98.0" stroke="#c0c37a"/><polygon points="301.2,70.2 303.9,69.1 301.5,67.9 298.8,69.0" stroke="#f9fb2a"/><polygon points="103.2,76.9 105.9,75.8 103.4,74.6 100.7,75.7" stroke="#f9fb2a"/><polygon points="163.1,109.1 165.8,108.0 163.3,122.7 160.6,123.7" stroke="#9fc38b"/><polygon points="223.1,75.6 225.7,77.5 223.3,76.3 220.6,74.4" stroke="#f5f146"/><polygon points="283.0,72.8 285.7,70.3 283.2,69.2 280.5,71.6" stroke="#f6f340"/><polygon points="84.9,77.6 87.6,76.5 85.1,75.3 82.4,76.4" stroke="#f9fb2a"/><polygon points="144.9,125.1 147.6,124.1 145.1,104.8 142.4,105.9" stroke="#66b4ac"/><polygon points="204.8,73.7 207.5,72.7 205.0,71.5 202.3,72.5" stroke="#f9fa2b"/><polygon points="264.7,104.4 267.4,92.4 264.9,91.2 262.3,103.2" stroke="#a6c488"/><polygon points="126.6,80.4 129.3,79.3 126.8,74.8 124.1,75.8" stroke="#f3ec4f"/><polygon points="186.5,75.2 189.2,74.1 186.8,75.0 184.1,76.0" stroke="#f8f735"/><polygon points="246.5,108.7 249.2,114.8 246.7,113.6 244.0,107.5" stroke="#94c291"/><polygon points="306.4,70.3 309.1,69.2 306.6,68.0 303.9,69.1" stroke="#f9fb2a"/><polygon points="108.4,77.0 111.1,75.9 108.6,74.7 105.9,75.8" stroke="#f9fb2a"/><polygon points="168.3,93.6 171.0,92.5 168.5,106.9 165.8,108.0" stroke="#dfc385"/><polygon points="228.2,78.7 230.9,82.5 228.4,81.3 225.7,77.5" stroke="#f1e659"/><polygon points="288.2,71.5 290.9,70.0 288.4,68.8 285.7,70.3" stroke="#f8f931"/><polygon points="90.1,77.7 92.8,76.6 90.3,75.5 87.6,76.5" stroke="#f9fb2a"/><polygon points="150.0,132.8 152.7,131.8 150.3,123.0 147.6,124.1" stroke="#56aab7"/><polygon points="210.0,73.9 212.7,73.1 210.2,71.9 207.5,72.7" stroke="#f9fa2c"/><polygon points="269.9,93.6 272.6,82.8 270.1,81.6 267.4,92.4" stroke="#d4c17b"/><polygon points="131.8,90.4 134.5,89.4 132.0,78.2 129.3,79.3" stroke="#eacc82"/><polygon points="191.7,74.6 194.4,73.6 191.9,73.0 189.2,74.1" stroke="#f9fa2d"/><polygon points="251.7,115.9 254.4,117.1 251.9,115.9 249.2,114.8" stroke="#76bba2"/><polygon points="311.6,70.4 314.3,69.3 311.8,68.2 309.1,69.2" stroke="#f9fb2a"/><polygon points="113.5,77.2 116.2,76.1 113.7,74.9 111.1,75.9" stroke="#f9fa2b"/><polygon points="173.5,83.3 176.2,82.2 173.7,91.5 171.0,92.5" stroke="#efdd66"/><polygon points="233.4,83.7 236.1,89.9 233.6,88.7 230.9,82.5" stroke="#eed672"/><polygon points="293.4,71.2 296.1,70.1 293.6,68.9 290.9,70.0" stroke="#f9fa2b"/><polygon points="95.3,77.8 98.0,76.8 95.5,75.6 92.8,76.6" stroke="#f9fb2a"/><polygon points="155.2,125.9 157.9,124.8 155.4,130.7 152.7,131.8" stroke="#64b3ad"/><polygon points="215.2,74.3 217.9,74.0 215.4,72.8 212.7,73.1" stroke="#f8f930"/><polygon points="275.1,84.0 277.8,76.2 275.3,75.0 272.6,82.8" stroke="#edd179"/><polygon points="137.0,108.0 139.7,107.0 137.2,88.3 134.5,89.4" stroke="#acc484"/><polygon points="196.9,74.6 199.6,73.5 197.1,72.5 194.4,73.6" stroke="#f9fb2b"/><polygon points="256.9,118.2 259.6,113.3 257.1,112.1 254.4,117.1" stroke="#71b9a6"/><polygon points="118.7,78.0 121.4,76.9 118.9,75.1 116.2,76.1" stroke="#f8f833"/><polygon points="178.7,78.2 181.4,77.1 178.9,81.2 176.2,82.2" stroke="#f4f048"/><polygon points="238.6,91.1 241.3,99.2 238.8,98.0 236.1,89.9" stroke="#e2c487"/><polygon points="298.5,71.3 301.2,70.2 298.8,69.0 296.1,70.1" stroke="#f9fb2a"/><polygon points="100.5,78.0 103.2,76.9 100.7,75.7 98.0,76.8" stroke="#f9fb2a"/><polygon points="160.4,110.1 163.1,109.1 160.6,123.7 157.9,124.8" stroke="#9fc38b"/><polygon points="220.4,75.1 223.1,75.6 220.6,74.4 217.9,74.0" stroke="#f7f639"/><polygon points="280.3,77.4 283.0,72.8 280.5,71.6 277.8,76.2" stroke="#f1e758"/><polygon points="82.2,78.7 84.9,77.6 82.4,76.4 79.7,77.5" stroke="#f9fb2a"/><polygon points="142.2,126.2 144.9,125.1 142.4,105.9 139.7,107.0" stroke="#66b4ac"/><polygon points="202.1,74.7 204.8,73.7 202.3,72.5 199.6,73.5" stroke="#f9fb2a"/><polygon points="262.0,114.4 264.7,104.4 262.3,103.2 259.6,113.3" stroke="#7cbd9e"/><polygon points="123.9,81.5 126.6,80.4 124.1,75.8 121.4,76.9" stroke="#f3ec4f"/><polygon points="183.9,76.2 186.5,75.2 184.1,76.0 181.4,77.1" stroke="#f8f735"/><polygon points="243.8,100.4 246.5,108.7 244.0,107.5 241.3,99.2" stroke="#c0c37a"/><polygon points="303.7,71.4 306.4,70.3 303.9,69.1 301.2,70.2" stroke="#f9fb2a"/><polygon points="105.7,78.1 108.4,77.0 105.9,75.8 103.2,76.9" stroke="#f9fb2a"/><polygon points="165.6,94.7 168.3,93.6 165.8,108.0 163.1,109.1" stroke="#dfc385"/><polygon points="225.5,76.8 228.2,78.7 225.7,77.5 223.1,75.6" stroke="#f5f146"/><polygon points="285.5,74.0 288.2,71.5 285.7,70.3 283.0,72.8" stroke="#f6f340"/><polygon points="87.4,78.8 90.1,77.7 87.6,76.5 84.9,77.6" stroke="#f9fb2a"/><polygon points="147.3,133.9 150.0,132.8 147.6,124.1 144.9,125.1" stroke="#56aab7"/><polygon points="207.3,74.8 210.0,73.9 207.5,72.7 204.8,73.7" stroke="#f9fa2b"/><polygon points="267.2,105.6 269.9,93.6 267.4,92.4 264.7,104.4" stroke="#a6c488"/><polygon points="129.1,91.5 131.8,90.4 129.3,79.3 126.6,80.4" stroke="#eacc82"/><polygon points="189.0,75.7 191.7,74.6 189.2,74.1 186.5,75.2" stroke="#f9fa2d"/><polygon points="249.0,109.9 251.7,115.9 249.2,114.8 246.5,108.7" stroke="#94c291"/><polygon points="308.9,71.5 311.6,70.4 309.1,69.2 306.4,70.3" stroke="#f9fb2a"/><polygon points="110.8,78.3 113.5,77.2 111.1,75.9 108.4,77.0" stroke="#f9fa2b"/><polygon points="170.8,84.4 173.5,83.3 171.0,92.5 168.3,93.6" stroke="#efdd66"/><polygon points="230.7,79.8 233.4,83.7 230.9,82.5 228.2,78.7" stroke="#f1e659"/><polygon points="290.7,72.7 293.4,71.2 290.9,70.0 288.2,71.5" stroke="#f8f931"/><polygon points="92.6,78.9 95.3,77.8 92.8,76.6 90.1,77.7" stroke="#f9fb2a"/><polygon points="152.5,126.9 155.2,125.9 152.7,131.8 150.0,132.8" stroke="#64b3ad"/><polygon points="212.5,75.1 215.2,74.3 212.7,73.1 210.0,73.9" stroke="#f9fa2c"/><polygon points="272.4,94.8 275.1,84.0 272.6,82.8 269.9,93.6" stroke="#d4c17b"/><polygon points="134.3,109.1 137.0,108.0 134.5,89.4 131.8,90.4" stroke="#acc484"/><polygon points="194.2,75.7 196.9,74.6 194.4,73.6 191.7,74.6" stroke="#f9fb2b"/><polygon points="254.2,117.1 256.9,118.2 254.4,117.1 251.7,115.9" stroke="#76bba2"/><polygon points="116.0,79.0 118.7,78.0 116.2,76.1 113.5,77.2" stroke="#f8f833"/><polygon points="176.0,79.2 178.7,78.2 176.2,82.2 173.5,83.3" stroke="#f4f048"/><polygon points="235.9,84.9 238.6,91.1 236.1,89.9 233.4,83.7" stroke="#eed672"/><polygon points="295.9,72.4 298.5,71.3 296.1,70.1 293.4,71.2" stroke="#f9fa2b"/><polygon points="97.8,79.0 100.5,78.0 98.0,76.8 95.3,77.8" stroke="#f9fb2a"/><polygon points="157.7,111.2 160.4,110.1 157.9,124.8 155.2,125.9" stroke="#9fc38b"/><polygon points="217.7,75.5 220.4,75.1 217.9,74.0 215.2,74.3" stroke="#f8f930"/><polygon points="277.6,85.2 280.3,77.4 277.8,76.2 275.1,84.0" stroke="#edd179"/><polygon points="139.5,127.3 142.2,126.2 139.7,107.0 137.0,108.0" stroke="#66b4ac"/><polygon points="199.4,75.7 202.1,74.7 199.6,73.5 196.9,74.6" stroke="#f9fb2a"/><polygon points="259.3,119.4 262.0,114.4 259.6,113.3 256.9,118.2" stroke="#71b9a6"/><polygon points="121.2,82.5 123.9,81.5 121.4,76.9 118.7,78.0" stroke="#f3ec4f"/><polygon points="181.2,77.3 183.9,76.2 181.4,77.1 178.7,78.2" stroke="#f8f735"/><polygon points="241.1,92.3 243.8,100.4 241.3,99.2 238.6,91.1" stroke="#e2c487"/><polygon points="301.0,72.4 303.7,71.4 301.2,70.2 298.5,71.3" stroke="#f9fb2a"/><polygon points="103.0,79.1 105.7,78.1 103.2,76.9 100.5,78.0" stroke="#f9fb2a"/><polygon points="162.9,95.7 165.6,94.7 163.1,109.1 160.4,110.1" stroke="#dfc385"/><polygon points="222.8,76.3 225.5,76.8 223.1,75.6 220.4,75.1" stroke="#f7f639"/><polygon points="282.8,78.6 285.5,74.0 283.0,72.8 280.3,77.4" stroke="#f1e758"/><polygon points="84.7,79.9 87.4,78.8 84.9,77.6 82.2,78.7" stroke="#f9fb2a"/><polygon points="144.7,135.0 147.3,133.9 144.9,125.1 142.2,126.2" stroke="#56aab7"/><polygon points="204.6,75.9 207.3,74.8 204.8,73.7 202.1,74.7" stroke="#f9fb2a"/><polygon points="264.5,115.6 267.2,105.6 264.7,104.4 262.0,114.4" stroke="#7cbd9e"/><polygon points="126.4,92.6 129.1,91.5 126.6,80.4 123.9,81.5" stroke="#eacc82"/><polygon points="186.3,76.8 189.0,75.7 186.5,75.2 183.9,76.2" stroke="#f9fa2d"/><polygon points="246.3,101.6 249.0,109.9 246.5,108.7 243.8,100.4" stroke="#c0c37a"/><polygon points="306.2,72.6 308.9,71.5 306.4,70.3 303.7,71.4" stroke="#f9fb2a"/><polygon points="108.1,79.3 110.8,78.3 108.4,77.0 105.7,78.1" stroke="#f9fa2b"/><polygon points="168.1,85.4 170.8,84.4 168.3,93.6 165.6,94.7" stroke="#efdd66"/><polygon points="228.0,78.0 230.7,79.8 228.2,78.7 225.5,76.8" stroke="#f5f146"/><polygon points="288.0,75.2 290.7,72.7 288.2,71.5 285.5,74.0" stroke="#f6f340"/><polygon points="89.9,80.0 92.6,78.9 90.1,77.7 87.4,78.8" stroke="#f9fb2a"/><polygon points="149.8,128.0 152.5,126.9 150.0,132.8 147.3,133.9" stroke="#64b3ad"/><polygon points="209.8,76.0 212.5,75.1 210.0,73.9 207.3,74.8" stroke="#f9fa2b"/><polygon points="269.7,106.8 272.4,94.8 269.9,93.6 267.2,105.6" stroke="#a6c488"/><polygon points="131.6,110.2 134.3,109.1 131.8,90.4 129.1,91.5" stroke="#acc484"/><polygon points="191.5,76.7 194.2,75.7 191.7,74.6 189.0,75.7" stroke="#f9fb2b"/><polygon points="251.5,111.1 254.2,117.1 251.7,115.9 249.0,109.9" stroke="#94c291"/><polygon points="113.3,80.1 116.0,79.0 113.5,77.2 110.8,78.3" stroke="#f8f833"/><polygon points="173.3,80.3 176.0,79.2 173.5,83.3 170.8,84.4" stroke="#f4f048"/><polygon points="233.2,81.0 235.9,84.9 233.4,83.7 230.7,79.8" stroke="#f1e659"/><polygon points="293.2,73.9 295.9,72.4 293.4,71.2 290.7,72.7" stroke="#f8f931"/><polygon points="95.1,80.1 97.8,79.0 95.3,77.8 92.6,78.9" stroke="#f9fb2a"/><polygon points="155.0,112.3 157.7,111.2 155.2,125.9 152.5,126.9" stroke="#9fc38b"/><polygon points="215.0,76.3 217.7,75.5 215.2,74.3 212.5,75.1" stroke="#f9fa2c"/><polygon points="274.9,96.0 277.6,85.2 275.1,84.0 272.4,94.8" stroke="#d4c17b"/><polygon points="136.8,128.3 139.5,127.3 137.0,108.0 134.3,109.1" stroke="#66b4ac"/><polygon points="196.7,76.8 199.4,75.7 196.9,74.6 194.2,75.7" stroke="#f9fb2a"/><polygon points="256.7,118.3 259.3,119.4 256.9,118.2 254.2,117.1" stroke="#76bba2"/><polygon points="118.5,83.6 121.2,82.5 118.7,78.0 116.0,79.0" stroke="#f3ec4f"/><polygon points="178.5,78.4 181.2,77.3 178.7,78.2 176.0,79.2" stroke="#f8f735"/><polygon points="238.4,86.1 241.1,92.3 238.6,91.1 235.9,84.9" stroke="#eed672"/><polygon points="298.3,73.6 301.0,72.4 298.5,71.3 295.9,72.4" stroke="#f9fa2b"/><polygon points="100.3,80.2 103.0,79.1 100.5,78.0 97.8,79.0" stroke="#f9fb2a"/><polygon points="160.2,96.8 162.9,95.7 160.4,110.1 157.7,111.2" stroke="#dfc385"/><polygon points="220.1,76.7 222.8,76.3 220.4,75.1 217.7,75.5" stroke="#f8f930"/><polygon points="280.1,86.3 282.8,78.6 280.3,77.4 277.6,85.2" stroke="#edd179"/><polygon points="142.0,136.0 144.7,135.0 142.2,126.2 139.5,127.3" stroke="#56aab7"/><polygon points="201.9,76.9 204.6,75.9 202.1,74.7 199.4,75.7" stroke="#f9fb2a"/><polygon points="261.8,120.6 264.5,115.6 262.0,114.4 259.3,119.4" stroke="#71b9a6"/><polygon points="123.7,93.6 126.4,92.6 123.9,81.5 121.2,82.5" stroke="#eacc82"/><polygon points="183.6,77.8 186.3,76.8 183.9,76.2 181.2,77.3" stroke="#f9fa2d"/><polygon points="243.6,93.5 246.3,101.6 243.8,100.4 241.1,92.3" stroke="#e2c487"/><polygon points="303.5,73.6 306.2,72.6 303.7,71.4 301.0,72.4" stroke="#f9fb2a"/><polygon points="105.5,80.4 108.1,79.3 105.7,78.1 103.0,79.1" stroke="#f9fa2b"/><polygon points="165.4,86.5 168.1,85.4 165.6,94.7 162.9,95.7" stroke="#efdd66"/><polygon points="225.3,77.5 228.0,78.0 225.5,76.8 222.8,76.3" stroke="#f7f639"/><polygon points="285.3,79.8 288.0,75.2 285.5,74.0 282.8,78.6" stroke="#f1e758"/><polygon points="87.2,81.0 89.9,80.0 87.4,78.8 84.7,79.9" stroke="#f9fb2a"/><polygon points="147.1,129.1 149.8,128.0 147.3,133.9 144.7,135.0" stroke="#64b3ad"/><polygon points="207.1,77.1 209.8,76.0 207.3,74.8 204.6,75.9" stroke="#f9fb2a"/><polygon points="267.0,116.8 269.7,106.8 267.2,105.6 264.5,115.6" stroke="#7cbd9e"/><polygon points="128.9,111.3 131.6,110.2 129.1,91.5 126.4,92.6" stroke="#acc484"/><polygon points="188.8,77.8 191.5,76.7 189.0,75.7 186.3,76.8" stroke="#f9fb2b"/><polygon points="248.8,102.7 251.5,111.1 249.0,109.9 246.3,101.6" stroke="#c0c37a"/><polygon points="110.6,81.2 113.3,80.1 110.8,78.3 108.1,79.3" stroke="#f8f833"/><polygon points="170.6,81.4 173.3,80.3 170.8,84.4 168.1,85.4" stroke="#f4f048"/><polygon points="230.5,79.2 233.2,81.0 230.7,79.8 228.0,78.0" stroke="#f5f146"/><polygon points="290.5,76.4 293.2,73.9 290.7,72.7 288.0,75.2" stroke="#f6f340"/><polygon points="92.4,81.2 95.1,80.1 92.6,78.9 89.9,80.0" stroke="#f9fb2a"/><polygon points="152.3,113.3 155.0,112.3 152.5,126.9 149.8,128.0" stroke="#9fc38b"/><polygon points="212.3,77.2 215.0,76.3 212.5,75.1 209.8,76.0" stroke="#f9fa2b"/><polygon points="272.2,108.0 274.9,96.0 272.4,94.8 269.7,106.8" stroke="#a6c488"/><polygon points="134.1,129.4 136.8,128.3 134.3,109.1 131.6,110.2" stroke="#66b4ac"/><polygon points="194.0,77.9 196.7,76.8 194.2,75.7 191.5,76.7" stroke="#f9fb2a"/><polygon points="254.0,112.3 256.7,118.3 254.2,117.1 251.5,111.1" stroke="#94c291"/><polygon points="115.8,84.7 118.5,83.6 116.0,79.0 113.3,80.1" stroke="#f3ec4f"/><polygon points="175.8,79.4 178.5,78.4 176.0,79.2 173.3,80.3" stroke="#f8f735"/><polygon points="235.7,82.2 238.4,86.1 235.9,84.9 233.2,81.0" stroke="#f1e659"/><polygon points="295.6,75.1 298.3,73.6 295.9,72.4 293.2,73.9" stroke="#f8f931"/><polygon points="97.6,81.3 100.3,80.2 97.8,79.0 95.1,80.1" stroke="#f9fb2a"/><polygon points="157.5,97.9 160.2,96.8 157.7,111.2 155.0,112.3" stroke="#dfc385"/><polygon points="217.5,77.4 220.1,76.7 217.7,75.5 215.0,76.3" stroke="#f9fa2c"/><polygon points="277.4,97.2 280.1,86.3 277.6,85.2 274.9,96.0" stroke="#d4c17b"/><polygon points="139.3,137.1 142.0,136.0 139.5,127.3 136.8,128.3" stroke="#56aab7"/><polygon points="199.2,78.0 201.9,76.9 199.4,75.7 196.7,76.8" stroke="#f9fb2a"/><polygon points="259.1,119.5 261.8,120.6 259.3,119.4 256.7,118.3" stroke="#76bba2"/><polygon points="121.0,94.7 123.7,93.6 121.2,82.5 118.5,83.6" stroke="#eacc82"/><polygon points="180.9,78.9 183.6,77.8 181.2,77.3 178.5,78.4" stroke="#f9fa2d"/><polygon points="240.9,87.3 243.6,93.5 241.1,92.3 238.4,86.1" stroke="#eed672"/><polygon points="300.8,74.8 303.5,73.6 301.0,72.4 298.3,73.6" stroke="#f9fa2b"/><polygon points="102.8,81.5 105.5,80.4 103.0,79.1 100.3,80.2" stroke="#f9fa2b"/><polygon points="162.7,87.6 165.4,86.5 162.9,95.7 160.2,96.8" stroke="#efdd66"/><polygon points="222.6,77.9 225.3,77.5 222.8,76.3 220.1,76.7" stroke="#f8f930"/><polygon points="282.6,87.5 285.3,79.8 282.8,78.6 280.1,86.3" stroke="#edd179"/><polygon points="144.4,130.1 147.1,129.1 144.7,135.0 142.0,136.0" stroke="#64b3ad"/><polygon points="204.4,78.1 207.1,77.1 204.6,75.9 201.9,76.9" stroke="#f9fb2a"/><polygon points="264.3,121.8 267.0,116.8 264.5,115.6 261.8,120.6" stroke="#71b9a6"/><polygon points="126.2,112.3 128.9,111.3 126.4,92.6 123.7,93.6" stroke="#acc484"/><polygon points="186.1,78.9 188.8,77.8 186.3,76.8 183.6,77.8" stroke="#f9fb2b"/><polygon points="246.1,94.7 248.8,102.7 246.3,101.6 243.6,93.5" stroke="#e2c487"/><polygon points="107.9,82.2 110.6,81.2 108.1,79.3 105.5,80.4" stroke="#f8f833"/><polygon points="167.9,82.5 170.6,81.4 168.1,85.4 165.4,86.5" stroke="#f4f048"/><polygon points="227.8,78.7 230.5,79.2 228.0,78.0 225.3,77.5" stroke="#f7f639"/><polygon points="287.8,81.0 290.5,76.4 288.0,75.2 285.3,79.8" stroke="#f1e758"/><polygon points="89.7,82.2 92.4,81.2 89.9,80.0 87.2,81.0" stroke="#f9fb2a"/><polygon points="149.6,114.4 152.3,113.3 149.8,128.0 147.1,129.1" stroke="#9fc38b"/><polygon points="209.6,78.2 212.3,77.2 209.8,76.0 207.1,77.1" stroke="#f9fb2a"/><polygon points="269.5,118.0 272.2,108.0 269.7,106.8 267.0,116.8" stroke="#7cbd9e"/><polygon points="131.4,130.5 134.1,129.4 131.6,110.2 128.9,111.3" stroke="#66b4ac"/><polygon points="191.3,78.9 194.0,77.9 191.5,76.7 188.8,77.8" stroke="#f9fb2a"/><polygon points="251.3,103.9 254.0,112.3 251.5,111.1 248.8,102.7" stroke="#c0c37a"/><polygon points="113.1,85.7 115.8,84.7 113.3,80.1 110.6,81.2" stroke="#f3ec4f"/><polygon points="173.1,80.5 175.8,79.4 173.3,80.3 170.6,81.4" stroke="#f8f735"/><polygon points="233.0,80.4 235.7,82.2 233.2,81.0 230.5,79.2" stroke="#f5f146"/><polygon points="292.9,77.6 295.6,75.1 293.2,73.9 290.5,76.4" stroke="#f6f340"/><polygon points="94.9,82.4 97.6,81.3 95.1,80.1 92.4,81.2" stroke="#f9fb2a"/><polygon points="154.8,98.9 157.5,97.9 155.0,112.3 152.3,113.3" stroke="#dfc385"/><polygon points="214.8,78.4 217.5,77.4 215.0,76.3 212.3,77.2" stroke="#f9fa2b"/><polygon points="274.7,109.2 277.4,97.2 274.9,96.0 272.2,108.0" stroke="#a6c488"/><polygon points="136.6,138.2 139.3,137.1 136.8,128.3 134.1,129.4" stroke="#56aab7"/><polygon points="196.5,79.1 199.2,78.0 196.7,76.8 194.0,77.9" stroke="#f9fb2a"/><polygon points="256.4,113.5 259.1,119.5 256.7,118.3 254.0,112.3" stroke="#94c291"/><polygon points="118.3,95.8 121.0,94.7 118.5,83.6 115.8,84.7" stroke="#eacc82"/><polygon points="178.3,80.0 180.9,78.9 178.5,78.4 175.8,79.4" stroke="#f9fa2d"/><polygon points="238.2,83.4 240.9,87.3 238.4,86.1 235.7,82.2" stroke="#f1e659"/><polygon points="298.1,76.3 300.8,74.8 298.3,73.6 295.6,75.1" stroke="#f8f931"/><polygon points="100.1,82.5 102.8,81.5 100.3,80.2 97.6,81.3" stroke="#f9fa2b"/><polygon points="160.0,88.6 162.7,87.6 160.2,96.8 157.5,97.9" stroke="#efdd66"/><polygon points="219.9,78.6 222.6,77.9 220.1,76.7 217.5,77.4" stroke="#f9fa2c"/><polygon points="279.9,98.3 282.6,87.5 280.1,86.3 277.4,97.2" stroke="#d4c17b"/><polygon points="141.7,131.2 144.4,130.1 142.0,136.0 139.3,137.1" stroke="#64b3ad"/><polygon points="201.7,79.2 204.4,78.1 201.9,76.9 199.2,78.0" stroke="#f9fb2a"/><polygon points="261.6,120.7 264.3,121.8 261.8,120.6 259.1,119.5" stroke="#76bba2"/><polygon points="123.5,113.4 126.2,112.3 123.7,93.6 121.0,94.7" stroke="#acc484"/><polygon points="183.4,79.9 186.1,78.9 183.6,77.8 180.9,78.9" stroke="#f9fb2b"/><polygon points="243.4,88.5 246.1,94.7 243.6,93.5 240.9,87.3" stroke="#eed672"/><polygon points="105.2,83.3 107.9,82.2 105.5,80.4 102.8,81.5" stroke="#f8f833"/><polygon points="165.2,83.5 167.9,82.5 165.4,86.5 162.7,87.6" stroke="#f4f048"/><polygon points="225.1,79.1 227.8,78.7 225.3,77.5 222.6,77.9" stroke="#f8f930"/><polygon points="285.1,88.7 287.8,81.0 285.3,79.8 282.6,87.5" stroke="#edd179"/><polygon points="146.9,115.5 149.6,114.4 147.1,129.1 144.4,130.1" stroke="#9fc38b"/><polygon points="206.9,79.3 209.6,78.2 207.1,77.1 204.4,78.1" stroke="#f9fb2a"/><polygon points="266.8,123.0 269.5,118.0 267.0,116.8 264.3,121.8" stroke="#71b9a6"/><polygon points="128.7,131.5 131.4,130.5 128.9,111.3 126.2,112.3" stroke="#66b4ac"/><polygon points="188.6,80.0 191.3,78.9 188.8,77.8 186.1,78.9" stroke="#f9fb2a"/><polygon points="248.6,95.8 251.3,103.9 248.8,102.7 246.1,94.7" stroke="#e2c487"/><polygon points="110.4,86.8 113.1,85.7 110.6,81.2 107.9,82.2" stroke="#f3ec4f"/><polygon points="170.4,81.6 173.1,80.5 170.6,81.4 167.9,82.5" stroke="#f8f735"/><polygon points="230.3,79.9 233.0,80.4 230.5,79.2 227.8,78.7" stroke="#f7f639"/><polygon points="290.3,82.2 292.9,77.6 290.5,76.4 287.8,81.0" stroke="#f1e758"/><polygon points="92.2,83.4 94.9,82.4 92.4,81.2 89.7,82.2" stroke="#f9fb2a"/><polygon points="152.1,100.0 154.8,98.9 152.3,113.3 149.6,114.4" stroke="#dfc385"/><polygon points="212.1,79.4 214.8,78.4 212.3,77.2 209.6,78.2" stroke="#f9fb2a"/><polygon points="272.0,119.2 274.7,109.2 272.2,108.0 269.5,118.0" stroke="#7cbd9e"/><polygon points="133.9,139.2 136.6,138.2 134.1,129.4 131.4,130.5" stroke="#56aab7"/><polygon points="193.8,80.1 196.5,79.1 194.0,77.9 191.3,78.9" stroke="#f9fb2a"/><polygon points="253.7,105.1 256.4,113.5 254.0,112.3 251.3,103.9" stroke="#c0c37a"/><polygon points="115.6,96.8 118.3,95.8 115.8,84.7 113.1,85.7" stroke="#eacc82"/><polygon points="175.6,81.0 178.3,80.0 175.8,79.4 173.1,80.5" stroke="#f9fa2d"/><polygon points="235.5,81.6 238.2,83.4 235.7,82.2 233.0,80.4" stroke="#f5f146"/><polygon points="295.4,78.8 298.1,76.3 295.6,75.1 292.9,77.6" stroke="#f6f340"/><polygon points="97.4,83.6 100.1,82.5 97.6,81.3 94.9,82.4" stroke="#f9fa2b"/><polygon points="157.3,89.7 160.0,88.6 157.5,97.9 154.8,98.9" stroke="#efdd66"/><polygon points="217.2,79.6 219.9,78.6 217.5,77.4 214.8,78.4" stroke="#f9fa2b"/><polygon points="277.2,110.4 279.9,98.3 277.4,97.2 274.7,109.2" stroke="#a6c488"/><polygon points="139.1,132.3 141.7,131.2 139.3,137.1 136.6,138.2" stroke="#64b3ad"/><polygon points="199.0,80.2 201.7,79.2 199.2,78.0 196.5,79.1" stroke="#f9fb2a"/><polygon points="258.9,114.7 261.6,120.7 259.1,119.5 256.4,113.5" stroke="#94c291"/><polygon points="120.8,114.5 123.5,113.4 121.0,94.7 118.3,95.8" stroke="#acc484"/><polygon points="180.7,81.0 183.4,79.9 180.9,78.9 178.3,80.0" stroke="#f9fb2b"/><polygon points="240.7,84.6 243.4,88.5 240.9,87.3 238.2,83.4" stroke="#f1e659"/><polygon points="102.5,84.4 105.2,83.3 102.8,81.5 100.1,82.5" stroke="#f8f833"/><polygon points="162.5,84.6 165.2,83.5 162.7,87.6 160.0,88.6" stroke="#f4f048"/><polygon points="222.4,79.8 225.1,79.1 222.6,77.9 219.9,78.6" stroke="#f9fa2c"/><polygon points="282.4,99.5 285.1,88.7 282.6,87.5 279.9,98.3" stroke="#d4c17b"/><polygon points="144.2,116.6 146.9,115.5 144.4,130.1 141.7,131.2" stroke="#9fc38b"/><polygon points="204.2,80.4 206.9,79.3 204.4,78.1 201.7,79.2" stroke="#f9fb2a"/><polygon points="264.1,121.9 266.8,123.0 264.3,121.8 261.6,120.7" stroke="#76bba2"/><polygon points="126.0,132.6 128.7,131.5 126.2,112.3 123.5,113.4" stroke="#66b4ac"/><polygon points="185.9,81.1 188.6,80.0 186.1,78.9 183.4,79.9" stroke="#f9fb2a"/><polygon points="245.9,89.6 248.6,95.8 246.1,94.7 243.4,88.5" stroke="#eed672"/><polygon points="107.7,87.9 110.4,86.8 107.9,82.2 105.2,83.3" stroke="#f3ec4f"/><polygon points="167.7,82.6 170.4,81.6 167.9,82.5 165.2,83.5" stroke="#f8f735"/><polygon points="227.6,80.2 230.3,79.9 227.8,78.7 225.1,79.1" stroke="#f8f930"/><polygon points="287.6,89.9 290.3,82.2 287.8,81.0 285.1,88.7" stroke="#edd179"/><polygon points="149.4,101.1 152.1,100.0 149.6,114.4 146.9,115.5" stroke="#dfc385"/><polygon points="209.4,80.5 212.1,79.4 209.6,78.2 206.9,79.3" stroke="#f9fb2a"/><polygon points="269.3,124.2 272.0,119.2 269.5,118.0 266.8,123.0" stroke="#71b9a6"/><polygon points="131.2,140.3 133.9,139.2 131.4,130.5 128.7,131.5" stroke="#56aab7"/><polygon points="191.1,81.2 193.8,80.1 191.3,78.9 188.6,80.0" stroke="#f9fb2a"/><polygon points="251.1,97.0 253.7,105.1 251.3,103.9 248.6,95.8" stroke="#e2c487"/><polygon points="112.9,97.9 115.6,96.8 113.1,85.7 110.4,86.8" stroke="#eacc82"/><polygon points="172.9,82.1 175.6,81.0 173.1,80.5 170.4,81.6" stroke="#f9fa2d"/><polygon points="232.8,81.1 235.5,81.6 233.0,80.4 230.3,79.9" stroke="#f7f639"/><polygon points="292.7,83.4 295.4,78.8 292.9,77.6 290.3,82.2" stroke="#f1e758"/><polygon points="94.7,84.7 97.4,83.6 94.9,82.4 92.2,83.4" stroke="#f9fa2b"/><polygon points="154.6,90.8 157.3,89.7 154.8,98.9 152.1,100.0" stroke="#efdd66"/><polygon points="214.5,80.6 217.2,79.6 214.8,78.4 212.1,79.4" stroke="#f9fb2a"/><polygon points="274.5,120.4 277.2,110.4 274.7,109.2 272.0,119.2" stroke="#7cbd9e"/><polygon points="136.4,133.3 139.1,132.3 136.6,138.2 133.9,139.2" stroke="#64b3ad"/><polygon points="196.3,81.3 199.0,80.2 196.5,79.1 193.8,80.1" stroke="#f9fb2a"/><polygon points="256.2,106.3 258.9,114.7 256.4,113.5 253.7,105.1" stroke="#c0c37a"/><polygon points="118.1,115.5 120.8,114.5 118.3,95.8 115.6,96.8" stroke="#acc484"/><polygon points="178.0,82.1 180.7,81.0 178.3,80.0 175.6,81.0" stroke="#f9fb2b"/><polygon points="238.0,82.7 240.7,84.6 238.2,83.4 235.5,81.6" stroke="#f5f146"/><polygon points="99.9,85.4 102.5,84.4 100.1,82.5 97.4,83.6" stroke="#f8f833"/><polygon points="159.8,85.7 162.5,84.6 160.0,88.6 157.3,89.7" stroke="#f4f048"/><polygon points="219.7,80.8 222.4,79.8 219.9,78.6 217.2,79.6" stroke="#f9fa2b"/><polygon points="279.7,111.6 282.4,99.5 279.9,98.3 277.2,110.4" stroke="#a6c488"/><polygon points="141.5,117.6 144.2,116.6 141.7,131.2 139.1,132.3" stroke="#9fc38b"/><polygon points="201.5,81.4 204.2,80.4 201.7,79.2 199.0,80.2" stroke="#f9fb2a"/><polygon points="261.4,115.8 264.1,121.9 261.6,120.7 258.9,114.7" stroke="#94c291"/><polygon points="123.3,133.7 126.0,132.6 123.5,113.4 120.8,114.5" stroke="#66b4ac"/><polygon points="183.2,82.1 185.9,81.1 183.4,79.9 180.7,81.0" stroke="#f9fb2a"/><polygon points="243.2,85.8 245.9,89.6 243.4,88.5 240.7,84.6" stroke="#f1e659"/><polygon points="105.0,88.9 107.7,87.9 105.2,83.3 102.5,84.4" stroke="#f3ec4f"/><polygon points="165.0,83.7 167.7,82.6 165.2,83.5 162.5,84.6" stroke="#f8f735"/><polygon points="224.9,81.0 227.6,80.2 225.1,79.1 222.4,79.8" stroke="#f9fa2c"/><polygon points="284.9,100.7 287.6,89.9 285.1,88.7 282.4,99.5" stroke="#d4c17b"/><polygon points="146.7,102.1 149.4,101.1 146.9,115.5 144.2,116.6" stroke="#dfc385"/><polygon points="206.7,81.6 209.4,80.5 206.9,79.3 204.2,80.4" stroke="#f9fb2a"/><polygon points="266.6,123.1 269.3,124.2 266.8,123.0 264.1,121.9" stroke="#76bba2"/><polygon points="128.5,141.4 131.2,140.3 128.7,131.5 126.0,132.6" stroke="#56aab7"/><polygon points="188.4,82.3 191.1,81.2 188.6,80.0 185.9,81.1" stroke="#f9fb2a"/><polygon points="248.4,90.8 251.1,97.0 248.6,95.8 245.9,89.6" stroke="#eed672"/><polygon points="110.2,99.0 112.9,97.9 110.4,86.8 107.7,87.9" stroke="#eacc82"/><polygon points="170.2,83.2 172.9,82.1 170.4,81.6 167.7,82.6" stroke="#f9fa2d"/><polygon points="230.1,81.4 232.8,81.1 230.3,79.9 227.6,80.2" stroke="#f8f930"/><polygon points="290.0,91.1 292.7,83.4 290.3,82.2 287.6,89.9" stroke="#edd179"/><polygon points="151.9,91.8 154.6,90.8 152.1,100.0 149.4,101.1" stroke="#efdd66"/><polygon points="211.9,81.7 214.5,80.6 212.1,79.4 209.4,80.5" stroke="#f9fb2a"/><polygon points="271.8,125.4 274.5,120.4 272.0,119.2 269.3,124.2" stroke="#71b9a6"/><polygon points="133.7,134.4 136.4,133.3 133.9,139.2 131.2,140.3" stroke="#64b3ad"/><polygon points="193.6,82.4 196.3,81.3 193.8,80.1 191.1,81.2" stroke="#f9fb2a"/><polygon points="253.5,98.2 256.2,106.3 253.7,105.1 251.1,97.0" stroke="#e2c487"/><polygon points="115.4,116.6 118.1,115.5 115.6,96.8 112.9,97.9" stroke="#acc484"/><polygon points="175.3,83.1 178.0,82.1 175.6,81.0 172.9,82.1" stroke="#f9fb2b"/><polygon points="235.3,82.3 238.0,82.7 235.5,81.6 232.8,81.1" stroke="#f7f639"/><polygon points="97.2,86.5 99.9,85.4 97.4,83.6 94.7,84.7" stroke="#f8f833"/><polygon points="157.1,86.7 159.8,85.7 157.3,89.7 154.6,90.8" stroke="#f4f048"/><polygon points="217.0,81.8 219.7,80.8 217.2,79.6 214.5,80.6" stroke="#f9fb2a"/><polygon points="277.0,121.6 279.7,111.6 277.2,110.4 274.5,120.4" stroke="#7cbd9e"/><polygon points="138.8,118.7 141.5,117.6 139.1,132.3 136.4,133.3" stroke="#9fc38b"/><polygon points="198.8,82.5 201.5,81.4 199.0,80.2 196.3,81.3" stroke="#f9fb2a"/><polygon points="258.7,107.5 261.4,115.8 258.9,114.7 256.2,106.3" stroke="#c0c37a"/><polygon points="120.6,134.7 123.3,133.7 120.8,114.5 118.1,115.5" stroke="#66b4ac"/><polygon points="180.5,83.2 183.2,82.1 180.7,81.0 178.0,82.1" stroke="#f9fb2a"/><polygon points="240.5,83.9 243.2,85.8 240.7,84.6 238.0,82.7" stroke="#f5f146"/><polygon points="102.3,90.0 105.0,88.9 102.5,84.4 99.9,85.4" stroke="#f3ec4f"/><polygon points="162.3,84.8 165.0,83.7 162.5,84.6 159.8,85.7" stroke="#f8f735"/><polygon points="222.2,82.0 224.9,81.0 222.4,79.8 219.7,80.8" stroke="#f9fa2b"/><polygon points="282.2,112.8 284.9,100.7 282.4,99.5 279.7,111.6" stroke="#a6c488"/><polygon points="144.0,103.2 146.7,102.1 144.2,116.6 141.5,117.6" stroke="#dfc385"/><polygon points="204.0,82.6 206.7,81.6 204.2,80.4 201.5,81.4" stroke="#f9fb2a"/><polygon points="263.9,117.0 266.6,123.1 264.1,121.9 261.4,115.8" stroke="#94c291"/><polygon points="125.8,142.4 128.5,141.4 126.0,132.6 123.3,133.7" stroke="#56aab7"/><polygon points="185.7,83.3 188.4,82.3 185.9,81.1 183.2,82.1" stroke="#f9fb2a"/><polygon points="245.7,87.0 248.4,90.8 245.9,89.6 243.2,85.8" stroke="#f1e659"/><polygon points="107.5,100.1 110.2,99.0 107.7,87.9 105.0,88.9" stroke="#eacc82"/><polygon points="167.5,84.2 170.2,83.2 167.7,82.6 165.0,83.7" stroke="#f9fa2d"/><polygon points="227.4,82.2 230.1,81.4 227.6,80.2 224.9,81.0" stroke="#f9fa2c"/><polygon points="287.3,101.9 290.0,91.1 287.6,89.9 284.9,100.7" stroke="#d4c17b"/><polygon points="149.2,92.9 151.9,91.8 149.4,101.1 146.7,102.1" stroke="#efdd66"/><polygon points="209.2,82.7 211.9,81.7 209.4,80.5 206.7,81.6" stroke="#f9fb2a"/><polygon points="269.1,124.3 271.8,125.4 269.3,124.2 266.6,123.1" stroke="#76bba2"/><polygon points="131.0,135.5 133.7,134.4 131.2,140.3 128.5,141.4" stroke="#64b3ad"/><polygon points="190.9,83.4 193.6,82.4 191.1,81.2 188.4,82.3" stroke="#f9fb2a"/><polygon points="250.8,92.0 253.5,98.2 251.1,97.0 248.4,90.8" stroke="#eed672"/><polygon points="112.7,117.7 115.4,116.6 112.9,97.9 110.2,99.0" stroke="#acc484"/><polygon points="172.7,84.2 175.3,83.1 172.9,82.1 170.2,83.2" stroke="#f9fb2b"/><polygon points="232.6,82.6 235.3,82.3 232.8,81.1 230.1,81.4" stroke="#f8f930"/><polygon points="154.4,87.8 157.1,86.7 154.6,90.8 151.9,91.8" stroke="#f4f048"/><polygon points="214.3,82.9 217.0,81.8 214.5,80.6 211.9,81.7" stroke="#f9fb2a"/><polygon points="274.3,126.6 277.0,121.6 274.5,120.4 271.8,125.4" stroke="#71b9a6"/><polygon points="136.1,119.8 138.8,118.7 136.4,133.3 133.7,134.4" stroke="#9fc38b"/><polygon points="196.1,83.6 198.8,82.5 196.3,81.3 193.6,82.4" stroke="#f9fb2a"/><polygon points="256.0,99.4 258.7,107.5 256.2,106.3 253.5,98.2" stroke="#e2c487"/><polygon points="117.9,135.8 120.6,134.7 118.1,115.5 115.4,116.6" stroke="#66b4ac"/><polygon points="177.8,84.3 180.5,83.2 178.0,82.1 175.3,83.1" stroke="#f9fb2a"/><polygon points="237.8,83.5 240.5,83.9 238.0,82.7 235.3,82.3" stroke="#f7f639"/><polygon points="99.6,91.1 102.3,90.0 99.9,85.4 97.2,86.5" stroke="#f3ec4f"/><polygon points="159.6,85.8 162.3,84.8 159.8,85.7 157.1,86.7" stroke="#f8f735"/><polygon points="219.5,83.0 222.2,82.0 219.7,80.8 217.0,81.8" stroke="#f9fb2a"/><polygon points="279.5,122.8 282.2,112.8 279.7,111.6 277.0,121.6" stroke="#7cbd9e"/><polygon points="141.3,104.3 144.0,103.2 141.5,117.6 138.8,118.7" stroke="#dfc385"/><polygon points="201.3,83.7 204.0,82.6 201.5,81.4 198.8,82.5" stroke="#f9fb2a"/><polygon points="261.2,108.7 263.9,117.0 261.4,115.8 258.7,107.5" stroke="#c0c37a"/><polygon points="123.1,143.5 125.8,142.4 123.3,133.7 120.6,134.7" stroke="#56aab7"/><polygon points="183.0,84.4 185.7,83.3 183.2,82.1 180.5,83.2" stroke="#f9fb2a"/><polygon points="243.0,85.1 245.7,87.0 243.2,85.8 240.5,83.9" stroke="#f5f146"/><polygon points="104.8,101.1 107.5,100.1 105.0,88.9 102.3,90.0" stroke="#eacc82"/><polygon points="164.8,85.3 167.5,84.2 165.0,83.7 162.3,84.8" stroke="#f9fa2d"/><polygon points="224.7,83.2 227.4,82.2 224.9,81.0 222.2,82.0" stroke="#f9fa2b"/><polygon points="284.7,113.9 287.3,101.9 284.9,100.7 282.2,112.8" stroke="#a6c488"/><polygon points="146.5,94.0 149.2,92.9 146.7,102.1 144.0,103.2" stroke="#efdd66"/><polygon points="206.5,83.8 209.2,82.7 206.7,81.6 204.0,82.6" stroke="#f9fb2a"/><polygon points="266.4,118.2 269.1,124.3 266.6,123.1 263.9,117.0" stroke="#94c291"/><polygon points="128.3,136.6 131.0,135.5 128.5,141.4 125.8,142.4" stroke="#64b3ad"/><polygon points="188.2,84.5 190.9,83.4 188.4,82.3 185.7,83.3" stroke="#f9fb2a"/><polygon points="248.1,88.2 250.8,92.0 248.4,90.8 245.7,87.0" stroke="#f1e659"/><polygon points="110.0,118.7 112.7,117.7 110.2,99.0 107.5,100.1" stroke="#acc484"/><polygon points="170.0,85.3 172.7,84.2 170.2,83.2 167.5,84.2" stroke="#f9fb2b"/><polygon points="229.9,83.4 232.6,82.6 230.1,81.4 227.4,82.2" stroke="#f9fa2c"/><polygon points="151.7,88.9 154.4,87.8 151.9,91.8 149.2,92.9" stroke="#f4f048"/><polygon points="211.6,83.9 214.3,82.9 211.9,81.7 209.2,82.7" stroke="#f9fb2a"/><polygon points="271.6,125.5 274.3,126.6 271.8,125.4 269.1,124.3" stroke="#76bba2"/><polygon points="133.5,120.8 136.1,119.8 133.7,134.4 131.0,135.5" stroke="#9fc38b"/><polygon points="193.4,84.6 196.1,83.6 193.6,82.4 190.9,83.4" stroke="#f9fb2a"/><polygon points="253.3,93.2 256.0,99.4 253.5,98.2 250.8,92.0" stroke="#eed672"/><polygon points="115.2,136.9 117.9,135.8 115.4,116.6 112.7,117.7" stroke="#66b4ac"/><polygon points="175.1,85.4 177.8,84.3 175.3,83.1 172.7,84.2" stroke="#f9fb2a"/><polygon points="235.1,83.8 237.8,83.5 235.3,82.3 232.6,82.6" stroke="#f8f930"/><polygon points="156.9,86.9 159.6,85.8 157.1,86.7 154.4,87.8" stroke="#f8f735"/><polygon points="216.8,84.1 219.5,83.0 217.0,81.8 214.3,82.9" stroke="#f9fb2a"/><polygon points="276.8,127.8 279.5,122.8 277.0,121.6 274.3,126.6" stroke="#71b9a6"/><polygon points="138.6,105.4 141.3,104.3 138.8,118.7 136.1,119.8" stroke="#dfc385"/><polygon points="198.6,84.8 201.3,83.7 198.8,82.5 196.1,83.6" stroke="#f9fb2a"/><polygon points="258.5,100.6 261.2,108.7 258.7,107.5 256.0,99.4" stroke="#e2c487"/><polygon points="120.4,144.6 123.1,143.5 120.6,134.7 117.9,135.8" stroke="#56aab7"/><polygon points="180.3,85.5 183.0,84.4 180.5,83.2 177.8,84.3" stroke="#f9fb2a"/><polygon points="240.3,84.7 243.0,85.1 240.5,83.9 237.8,83.5" stroke="#f7f639"/><polygon points="102.1,102.2 104.8,101.1 102.3,90.0 99.6,91.1" stroke="#eacc82"/><polygon points="162.1,86.4 164.8,85.3 162.3,84.8 159.6,85.8" stroke="#f9fa2d"/><polygon points="222.0,84.2 224.7,83.2 222.2,82.0 219.5,83.0" stroke="#f9fb2a"/><polygon points="282.0,124.0 284.7,113.9 282.2,112.8 279.5,122.8" stroke="#7cbd9e"/><polygon points="143.8,95.0 146.5,94.0 144.0,103.2 141.3,104.3" stroke="#efdd66"/><polygon points="203.8,84.9 206.5,83.8 204.0,82.6 201.3,83.7" stroke="#f9fb2a"/><polygon points="263.7,109.9 266.4,118.2 263.9,117.0 261.2,108.7" stroke="#c0c37a"/><polygon points="125.6,137.6 128.3,136.6 125.8,142.4 123.1,143.5" stroke="#64b3ad"/><polygon points="185.5,85.6 188.2,84.5 185.7,83.3 183.0,84.4" stroke="#f9fb2a"/><polygon points="245.5,86.3 248.1,88.2 245.7,87.0 243.0,85.1" stroke="#f5f146"/><polygon points="107.3,119.8 110.0,118.7 107.5,100.1 104.8,101.1" stroke="#acc484"/><polygon points="167.3,86.3 170.0,85.3 167.5,84.2 164.8,85.3" stroke="#f9fb2b"/><polygon points="227.2,84.3 229.9,83.4 227.4,82.2 224.7,83.2" stroke="#f9fa2b"/><polygon points="149.0,89.9 151.7,88.9 149.2,92.9 146.5,94.0" stroke="#f4f048"/><polygon points="208.9,85.0 211.6,83.9 209.2,82.7 206.5,83.8" stroke="#f9fb2a"/><polygon points="268.9,119.4 271.6,125.5 269.1,124.3 266.4,118.2" stroke="#94c291"/><polygon points="130.8,121.9 133.5,120.8 131.0,135.5 128.3,136.6" stroke="#9fc38b"/><polygon points="190.7,85.7 193.4,84.6 190.9,83.4 188.2,84.5" stroke="#f9fb2a"/><polygon points="250.6,89.4 253.3,93.2 250.8,92.0 248.1,88.2" stroke="#f1e659"/><polygon points="112.5,137.9 115.2,136.9 112.7,117.7 110.0,118.7" stroke="#66b4ac"/><polygon points="172.4,86.4 175.1,85.4 172.7,84.2 170.0,85.3" stroke="#f9fb2a"/><polygon points="232.4,84.6 235.1,83.8 232.6,82.6 229.9,83.4" stroke="#f9fa2c"/><polygon points="154.2,88.0 156.9,86.9 154.4,87.8 151.7,88.9" stroke="#f8f735"/><polygon points="214.1,85.1 216.8,84.1 214.3,82.9 211.6,83.9" stroke="#f9fb2a"/><polygon points="274.1,126.6 276.8,127.8 274.3,126.6 271.6,125.5" stroke="#76bba2"/><polygon points="135.9,106.4 138.6,105.4 136.1,119.8 133.5,120.8" stroke="#dfc385"/><polygon points="195.9,85.8 198.6,84.8 196.1,83.6 193.4,84.6" stroke="#f9fb2a"/><polygon points="255.8,94.4 258.5,100.6 256.0,99.4 253.3,93.2" stroke="#eed672"/><polygon points="117.7,145.7 120.4,144.6 117.9,135.8 115.2,136.9" stroke="#56aab7"/><polygon points="177.6,86.5 180.3,85.5 177.8,84.3 175.1,85.4" stroke="#f9fb2a"/><polygon points="237.6,85.0 240.3,84.7 237.8,83.5 235.1,83.8" stroke="#f8f930"/><polygon points="159.4,87.5 162.1,86.4 159.6,85.8 156.9,86.9" stroke="#f9fa2d"/><polygon points="219.3,85.2 222.0,84.2 219.5,83.0 216.8,84.1" stroke="#f9fb2a"/><polygon points="279.3,128.9 282.0,124.0 279.5,122.8 276.8,127.8" stroke="#71b9a6"/><polygon points="141.1,96.1 143.8,95.0 141.3,104.3 138.6,105.4" stroke="#efdd66"/><polygon points="201.1,85.9 203.8,84.9 201.3,83.7 198.6,84.8" stroke="#f9fb2a"/><polygon points="261.0,101.8 263.7,109.9 261.2,108.7 258.5,100.6" stroke="#e2c487"/><polygon points="122.9,138.7 125.6,137.6 123.1,143.5 120.4,144.6" stroke="#64b3ad"/><polygon points="182.8,86.7 185.5,85.6 183.0,84.4 180.3,85.5" stroke="#f9fb2a"/><polygon points="242.8,85.8 245.5,86.3 243.0,85.1 240.3,84.7" stroke="#f7f639"/><polygon points="104.6,120.9 107.3,119.8 104.8,101.1 102.1,102.2" stroke="#acc484"/><polygon points="164.6,87.4 167.3,86.3 164.8,85.3 162.1,86.4" stroke="#f9fb2b"/><polygon points="224.5,85.4 227.2,84.3 224.7,83.2 222.0,84.2" stroke="#f9fb2a"/><polygon points="146.3,91.0 149.0,89.9 146.5,94.0 143.8,95.0" stroke="#f4f048"/><polygon points="206.3,86.1 208.9,85.0 206.5,83.8 203.8,84.9" stroke="#f9fb2a"/><polygon points="266.2,111.1 268.9,119.4 266.4,118.2 263.7,109.9" stroke="#c0c37a"/><polygon points="128.1,123.0 130.8,121.9 128.3,136.6 125.6,137.6" stroke="#9fc38b"/><polygon points="188.0,86.8 190.7,85.7 188.2,84.5 185.5,85.6" stroke="#f9fb2a"/><polygon points="247.9,87.5 250.6,89.4 248.1,88.2 245.5,86.3" stroke="#f5f146"/><polygon points="109.8,139.0 112.5,137.9 110.0,118.7 107.3,119.8" stroke="#66b4ac"/><polygon points="169.7,87.5 172.4,86.4 170.0,85.3 167.3,86.3" stroke="#f9fb2a"/><polygon points="229.7,85.5 232.4,84.6 229.9,83.4 227.2,84.3" stroke="#f9fa2b"/><polygon points="151.5,89.1 154.2,88.0 151.7,88.9 149.0,89.9" stroke="#f8f735"/><polygon points="211.4,86.2 214.1,85.1 211.6,83.9 208.9,85.0" stroke="#f9fb2a"/><polygon points="271.4,120.6 274.1,126.6 271.6,125.5 268.9,119.4" stroke="#94c291"/><polygon points="133.2,107.5 135.9,106.4 133.5,120.8 130.8,121.9" stroke="#dfc385"/><polygon points="193.2,86.9 195.9,85.8 193.4,84.6 190.7,85.7" stroke="#f9fb2a"/><polygon points="253.1,90.5 255.8,94.4 253.3,93.2 250.6,89.4" stroke="#f1e659"/><polygon points="115.0,146.7 117.7,145.7 115.2,136.9 112.5,137.9" stroke="#56aab7"/><polygon points="174.9,87.6 177.6,86.5 175.1,85.4 172.4,86.4" stroke="#f9fb2a"/><polygon points="234.9,85.8 237.6,85.0 235.1,83.8 232.4,84.6" stroke="#f9fa2c"/><polygon points="156.7,88.5 159.4,87.5 156.9,86.9 154.2,88.0" stroke="#f9fa2d"/><polygon points="216.6,86.3 219.3,85.2 216.8,84.1 214.1,85.1" stroke="#f9fb2a"/><polygon points="276.6,127.8 279.3,128.9 276.8,127.8 274.1,126.6" stroke="#76bba2"/><polygon points="138.4,97.2 141.1,96.1 138.6,105.4 135.9,106.4" stroke="#efdd66"/><polygon points="198.4,87.0 201.1,85.9 198.6,84.8 195.9,85.8" stroke="#f9fb2a"/><polygon points="258.3,95.6 261.0,101.8 258.5,100.6 255.8,94.4" stroke="#eed672"/><polygon points="120.2,139.8 122.9,138.7 120.4,144.6 117.7,145.7" stroke="#64b3ad"/><polygon points="180.1,87.7 182.8,86.7 180.3,85.5 177.6,86.5" stroke="#f9fb2a"/><polygon points="240.1,86.2 242.8,85.8 240.3,84.7 237.6,85.0" stroke="#f8f930"/><polygon points="161.9,88.5 164.6,87.4 162.1,86.4 159.4,87.5" stroke="#f9fb2b"/><polygon points="221.8,86.4 224.5,85.4 222.0,84.2 219.3,85.2" stroke="#f9fb2a"/><polygon points="143.6,92.1 146.3,91.0 143.8,95.0 141.1,96.1" stroke="#f4f048"/><polygon points="203.6,87.1 206.3,86.1 203.8,84.9 201.1,85.9" stroke="#f9fb2a"/><polygon points="263.5,103.0 266.2,111.1 263.7,109.9 261.0,101.8" stroke="#e2c487"/><polygon points="125.4,124.0 128.1,123.0 125.6,137.6 122.9,138.7" stroke="#9fc38b"/><polygon points="185.3,87.8 188.0,86.8 185.5,85.6 182.8,86.7" stroke="#f9fb2a"/><polygon points="245.2,87.0 247.9,87.5 245.5,86.3 242.8,85.8" stroke="#f7f639"/><polygon points="107.1,140.1 109.8,139.0 107.3,119.8 104.6,120.9" stroke="#66b4ac"/><polygon points="167.1,88.6 169.7,87.5 167.3,86.3 164.6,87.4" stroke="#f9fb2a"/><polygon points="227.0,86.6 229.7,85.5 227.2,84.3 224.5,85.4" stroke="#f9fb2a"/><polygon points="148.8,90.1 151.5,89.1 149.0,89.9 146.3,91.0" stroke="#f8f735"/><polygon points="208.7,87.3 211.4,86.2 208.9,85.0 206.3,86.1" stroke="#f9fb2a"/><polygon points="268.7,112.3 271.4,120.6 268.9,119.4 266.2,111.1" stroke="#c0c37a"/><polygon points="130.5,108.6 133.2,107.5 130.8,121.9 128.1,123.0" stroke="#dfc385"/><polygon points="190.5,88.0 193.2,86.9 190.7,85.7 188.0,86.8" stroke="#f9fb2a"/><polygon points="250.4,88.7 253.1,90.5 250.6,89.4 247.9,87.5" stroke="#f5f146"/><polygon points="112.3,147.8 115.0,146.7 112.5,137.9 109.8,139.0" stroke="#56aab7"/><polygon points="172.2,88.7 174.9,87.6 172.4,86.4 169.7,87.5" stroke="#f9fb2a"/><polygon points="232.2,86.7 234.9,85.8 232.4,84.6 229.7,85.5" stroke="#f9fa2b"/><polygon points="154.0,89.6 156.7,88.5 154.2,88.0 151.5,89.1" stroke="#f9fa2d"/><polygon points="213.9,87.4 216.6,86.3 214.1,85.1 211.4,86.2" stroke="#f9fb2a"/><polygon points="273.9,121.8 276.6,127.8 274.1,126.6 271.4,120.6" stroke="#94c291"/><polygon points="135.7,98.3 138.4,97.2 135.9,106.4 133.2,107.5" stroke="#efdd66"/><polygon points="195.7,88.1 198.4,87.0 195.9,85.8 193.2,86.9" stroke="#f9fb2a"/><polygon points="255.6,91.7 258.3,95.6 255.8,94.4 253.1,90.5" stroke="#f1e659"/><polygon points="117.5,140.8 120.2,139.8 117.7,145.7 115.0,146.7" stroke="#64b3ad"/><polygon points="177.4,88.8 180.1,87.7 177.6,86.5 174.9,87.6" stroke="#f9fb2a"/><polygon points="237.4,87.0 240.1,86.2 237.6,85.0 234.9,85.8" stroke="#f9fa2c"/><polygon points="159.2,89.5 161.9,88.5 159.4,87.5 156.7,88.5" stroke="#f9fb2b"/><polygon points="219.1,87.5 221.8,86.4 219.3,85.2 216.6,86.3" stroke="#f9fb2a"/><polygon points="140.9,93.1 143.6,92.1 141.1,96.1 138.4,97.2" stroke="#f4f048"/><polygon points="200.9,88.2 203.6,87.1 201.1,85.9 198.4,87.0" stroke="#f9fb2a"/><polygon points="260.8,96.8 263.5,103.0 261.0,101.8 258.3,95.6" stroke="#eed672"/><polygon points="122.7,125.1 125.4,124.0 122.9,138.7 120.2,139.8" stroke="#9fc38b"/><polygon points="182.6,88.9 185.3,87.8 182.8,86.7 180.1,87.7" stroke="#f9fb2a"/><polygon points="242.5,87.4 245.2,87.0 242.8,85.8 240.1,86.2" stroke="#f8f930"/><polygon points="164.4,89.6 167.1,88.6 164.6,87.4 161.9,88.5" stroke="#f9fb2a"/><polygon points="224.3,87.6 227.0,86.6 224.5,85.4 221.8,86.4" stroke="#f9fb2a"/><polygon points="146.1,91.2 148.8,90.1 146.3,91.0 143.6,92.1" stroke="#f8f735"/><polygon points="206.0,88.3 208.7,87.3 206.3,86.1 203.6,87.1" stroke="#f9fb2a"/><polygon points="266.0,104.2 268.7,112.3 266.2,111.1 263.5,103.0" stroke="#e2c487"/><polygon points="127.9,109.6 130.5,108.6 128.1,123.0 125.4,124.0" stroke="#dfc385"/><polygon points="187.8,89.0 190.5,88.0 188.0,86.8 185.3,87.8" stroke="#f9fb2a"/><polygon points="247.7,88.2 250.4,88.7 247.9,87.5 245.2,87.0" stroke="#f7f639"/><polygon points="109.6,148.9 112.3,147.8 109.8,139.0 107.1,140.1" stroke="#56aab7"/><polygon points="169.5,89.7 172.2,88.7 169.7,87.5 167.1,88.6" stroke="#f9fb2a"/><polygon points="229.5,87.8 232.2,86.7 229.7,85.5 227.0,86.6" stroke="#f9fb2a"/><polygon points="151.3,90.7 154.0,89.6 151.5,89.1 148.8,90.1" stroke="#f9fa2d"/><polygon points="211.2,88.4 213.9,87.4 211.4,86.2 208.7,87.3" stroke="#f9fb2a"/><polygon points="271.2,113.4 273.9,121.8 271.4,120.6 268.7,112.3" stroke="#c0c37a"/><polygon points="133.0,99.3 135.7,98.3 133.2,107.5 130.5,108.6" stroke="#efdd66"/><polygon points="193.0,89.2 195.7,88.1 193.2,86.9 190.5,88.0" stroke="#f9fb2a"/><polygon points="252.9,89.9 255.6,91.7 253.1,90.5 250.4,88.7" stroke="#f5f146"/><polygon points="114.8,141.9 117.5,140.8 115.0,146.7 112.3,147.8" stroke="#64b3ad"/><polygon points="174.7,89.9 177.4,88.8 174.9,87.6 172.2,88.7" stroke="#f9fb2a"/><polygon points="234.7,87.9 237.4,87.0 234.9,85.8 232.2,86.7" stroke="#f9fa2b"/><polygon points="156.5,90.6 159.2,89.5 156.7,88.5 154.0,89.6" stroke="#f9fb2b"/><polygon points="216.4,88.6 219.1,87.5 216.6,86.3 213.9,87.4" stroke="#f9fb2a"/><polygon points="138.2,94.2 140.9,93.1 138.4,97.2 135.7,98.3" stroke="#f4f048"/><polygon points="198.2,89.3 200.9,88.2 198.4,87.0 195.7,88.1" stroke="#f9fb2a"/><polygon points="258.1,92.9 260.8,96.8 258.3,95.6 255.6,91.7" stroke="#f1e659"/><polygon points="120.0,126.2 122.7,125.1 120.2,139.8 117.5,140.8" stroke="#9fc38b"/><polygon points="179.9,90.0 182.6,88.9 180.1,87.7 177.4,88.8" stroke="#f9fb2a"/><polygon points="239.9,88.1 242.5,87.4 240.1,86.2 237.4,87.0" stroke="#f9fa2c"/><polygon points="161.7,90.7 164.4,89.6 161.9,88.5 159.2,89.5" stroke="#f9fb2a"/><polygon points="221.6,88.7 224.3,87.6 221.8,86.4 219.1,87.5" stroke="#f9fb2a"/><polygon points="143.4,92.3 146.1,91.2 143.6,92.1 140.9,93.1" stroke="#f8f735"/><polygon points="203.3,89.4 206.0,88.3 203.6,87.1 200.9,88.2" stroke="#f9fb2a"/><polygon points="263.3,98.0 266.0,104.2 263.5,103.0 260.8,96.8" stroke="#eed672"/><polygon points="125.2,110.7 127.9,109.6 125.4,124.0 122.7,125.1" stroke="#dfc385"/><polygon points="185.1,90.1 187.8,89.0 185.3,87.8 182.6,88.9" stroke="#f9fb2a"/><polygon points="245.0,88.6 247.7,88.2 245.2,87.0 242.5,87.4" stroke="#f8f930"/><polygon points="166.8,90.8 169.5,89.7 167.1,88.6 164.4,89.6" stroke="#f9fb2a"/><polygon points="226.8,88.8 229.5,87.8 227.0,86.6 224.3,87.6" stroke="#f9fb2a"/><polygon points="148.6,91.7 151.3,90.7 148.8,90.1 146.1,91.2" stroke="#f9fa2d"/><polygon points="208.5,89.5 211.2,88.4 208.7,87.3 206.0,88.3" stroke="#f9fb2a"/><polygon points="268.5,105.4 271.2,113.4 268.7,112.3 266.0,104.2" stroke="#e2c487"/><polygon points="130.3,100.4 133.0,99.3 130.5,108.6 127.9,109.6" stroke="#efdd66"/><polygon points="190.3,90.2 193.0,89.2 190.5,88.0 187.8,89.0" stroke="#f9fb2a"/><polygon points="250.2,89.4 252.9,89.9 250.4,88.7 247.7,88.2" stroke="#f7f639"/><polygon points="112.1,143.0 114.8,141.9 112.3,147.8 109.6,148.9" stroke="#64b3ad"/><polygon points="172.0,90.9 174.7,89.9 172.2,88.7 169.5,89.7" stroke="#f9fb2a"/><polygon points="232.0,88.9 234.7,87.9 232.2,86.7 229.5,87.8" stroke="#f9fb2a"/><polygon points="153.8,91.7 156.5,90.6 154.0,89.6 151.3,90.7" stroke="#f9fb2b"/><polygon points="213.7,89.6 216.4,88.6 213.9,87.4 211.2,88.4" stroke="#f9fb2a"/><polygon points="135.5,95.3 138.2,94.2 135.7,98.3 133.0,99.3" stroke="#f4f048"/><polygon points="195.5,90.3 198.2,89.3 195.7,88.1 193.0,89.2" stroke="#f9fb2a"/><polygon points="255.4,91.1 258.1,92.9 255.6,91.7 252.9,89.9" stroke="#f5f146"/><polygon points="117.3,127.2 120.0,126.2 117.5,140.8 114.8,141.9" stroke="#9fc38b"/><polygon points="177.2,91.0 179.9,90.0 177.4,88.8 174.7,89.9" stroke="#f9fb2a"/><polygon points="237.2,89.1 239.9,88.1 237.4,87.0 234.7,87.9" stroke="#f9fa2b"/><polygon points="159.0,91.8 161.7,90.7 159.2,89.5 156.5,90.6" stroke="#f9fb2a"/><polygon points="218.9,89.8 221.6,88.7 219.1,87.5 216.4,88.6" stroke="#f9fb2a"/><polygon points="140.7,93.3 143.4,92.3 140.9,93.1 138.2,94.2" stroke="#f8f735"/><polygon points="200.7,90.5 203.3,89.4 200.9,88.2 198.2,89.3" stroke="#f9fb2a"/><polygon points="260.6,94.1 263.3,98.0 260.8,96.8 258.1,92.9" stroke="#f1e659"/><polygon points="122.5,111.8 125.2,110.7 122.7,125.1 120.0,126.2" stroke="#dfc385"/><polygon points="182.4,91.2 185.1,90.1 182.6,88.9 179.9,90.0" stroke="#f9fb2a"/><polygon points="242.3,89.3 245.0,88.6 242.5,87.4 239.9,88.1" stroke="#f9fa2c"/><polygon points="164.1,91.9 166.8,90.8 164.4,89.6 161.7,90.7" stroke="#f9fb2a"/><polygon points="224.1,89.9 226.8,88.8 224.3,87.6 221.6,88.7" stroke="#f9fb2a"/><polygon points="145.9,92.8 148.6,91.7 146.1,91.2 143.4,92.3" stroke="#f9fa2d"/><polygon points="205.8,90.6 208.5,89.5 206.0,88.3 203.3,89.4" stroke="#f9fb2a"/><polygon points="265.8,99.2 268.5,105.4 266.0,104.2 263.3,98.0" stroke="#eed672"/><polygon points="127.6,101.5 130.3,100.4 127.9,109.6 125.2,110.7" stroke="#efdd66"/><polygon points="187.6,91.3 190.3,90.2 187.8,89.0 185.1,90.1" stroke="#f9fb2a"/><polygon points="247.5,89.8 250.2,89.4 247.7,88.2 245.0,88.6" stroke="#f8f930"/><polygon points="169.3,92.0 172.0,90.9 169.5,89.7 166.8,90.8" stroke="#f9fb2a"/><polygon points="229.3,90.0 232.0,88.9 229.5,87.8 226.8,88.8" stroke="#f9fb2a"/><polygon points="151.1,92.7 153.8,91.7 151.3,90.7 148.6,91.7" stroke="#f9fb2b"/><polygon points="211.0,90.7 213.7,89.6 211.2,88.4 208.5,89.5" stroke="#f9fb2a"/><polygon points="132.8,96.3 135.5,95.3 133.0,99.3 130.3,100.4" stroke="#f4f048"/><polygon points="192.8,91.4 195.5,90.3 193.0,89.2 190.3,90.2" stroke="#f9fb2a"/><polygon points="252.7,90.6 255.4,91.1 252.9,89.9 250.2,89.4" stroke="#f7f639"/><polygon points="114.6,128.3 117.3,127.2 114.8,141.9 112.1,143.0" stroke="#9fc38b"/><polygon points="174.5,92.1 177.2,91.0 174.7,89.9 172.0,90.9" stroke="#f9fb2a"/><polygon points="234.5,90.1 237.2,89.1 234.7,87.9 232.0,88.9" stroke="#f9fb2a"/><polygon points="156.3,92.8 159.0,91.8 156.5,90.6 153.8,91.7" stroke="#f9fb2a"/><polygon points="216.2,90.8 218.9,89.8 216.4,88.6 213.7,89.6" stroke="#f9fb2a"/><polygon points="138.0,94.4 140.7,93.3 138.2,94.2 135.5,95.3" stroke="#f8f735"/><polygon points="198.0,91.5 200.7,90.5 198.2,89.3 195.5,90.3" stroke="#f9fb2a"/><polygon points="257.9,92.3 260.6,94.1 258.1,92.9 255.4,91.1" stroke="#f5f146"/><polygon points="119.8,112.8 122.5,111.8 120.0,126.2 117.3,127.2" stroke="#dfc385"/><polygon points="179.7,92.2 182.4,91.2 179.9,90.0 177.2,91.0" stroke="#f9fb2a"/><polygon points="239.6,90.3 242.3,89.3 239.9,88.1 237.2,89.1" stroke="#f9fa2b"/><polygon points="161.5,92.9 164.1,91.9 161.7,90.7 159.0,91.8" stroke="#f9fb2a"/><polygon points="221.4,90.9 224.1,89.9 221.6,88.7 218.9,89.8" stroke="#f9fb2a"/><polygon points="143.2,93.9 145.9,92.8 143.4,92.3 140.7,93.3" stroke="#f9fa2d"/><polygon points="203.1,91.6 205.8,90.6 203.3,89.4 200.7,90.5" stroke="#f9fb2a"/><polygon points="263.1,95.3 265.8,99.2 263.3,98.0 260.6,94.1" stroke="#f1e659"/><polygon points="124.9,102.5 127.6,101.5 125.2,110.7 122.5,111.8" stroke="#efdd66"/><polygon points="184.9,92.4 187.6,91.3 185.1,90.1 182.4,91.2" stroke="#f9fb2a"/><polygon points="244.8,90.5 247.5,89.8 245.0,88.6 242.3,89.3" stroke="#f9fa2c"/><polygon points="166.6,93.1 169.3,92.0 166.8,90.8 164.1,91.9" stroke="#f9fb2a"/><polygon points="226.6,91.1 229.3,90.0 226.8,88.8 224.1,89.9" stroke="#f9fb2a"/><polygon points="148.4,93.8 151.1,92.7 148.6,91.7 145.9,92.8" stroke="#f9fb2b"/><polygon points="208.3,91.8 211.0,90.7 208.5,89.5 205.8,90.6" stroke="#f9fb2a"/><polygon points="130.1,97.4 132.8,96.3 130.3,100.4 127.6,101.5" stroke="#f4f048"/><polygon points="190.1,92.5 192.8,91.4 190.3,90.2 187.6,91.3" stroke="#f9fb2a"/><polygon points="250.0,90.9 252.7,90.6 250.2,89.4 247.5,89.8" stroke="#f8f930"/><polygon points="171.8,93.2 174.5,92.1 172.0,90.9 169.3,92.0" stroke="#f9fb2a"/><polygon points="231.8,91.2 234.5,90.1 232.0,88.9 229.3,90.0" stroke="#f9fb2a"/><polygon points="153.6,93.9 156.3,92.8 153.8,91.7 151.1,92.7" stroke="#f9fb2a"/><polygon points="213.5,91.9 216.2,90.8 213.7,89.6 211.0,90.7" stroke="#f9fb2a"/><polygon points="135.3,95.5 138.0,94.4 135.5,95.3 132.8,96.3" stroke="#f8f735"/><polygon points="195.3,92.6 198.0,91.5 195.5,90.3 192.8,91.4" stroke="#f9fb2a"/><polygon points="255.2,91.8 257.9,92.3 255.4,91.1 252.7,90.6" stroke="#f7f639"/><polygon points="117.1,113.9 119.8,112.8 117.3,127.2 114.6,128.3" stroke="#dfc385"/><polygon points="177.0,93.3 179.7,92.2 177.2,91.0 174.5,92.1" stroke="#f9fb2a"/><polygon points="236.9,91.3 239.6,90.3 237.2,89.1 234.5,90.1" stroke="#f9fb2a"/><polygon points="158.8,94.0 161.5,92.9 159.0,91.8 156.3,92.8" stroke="#f9fb2a"/><polygon points="218.7,92.0 221.4,90.9 218.9,89.8 216.2,90.8" stroke="#f9fb2a"/><polygon points="140.5,94.9 143.2,93.9 140.7,93.3 138.0,94.4" stroke="#f9fa2d"/><polygon points="200.4,92.7 203.1,91.6 200.7,90.5 198.0,91.5" stroke="#f9fb2a"/><polygon points="260.4,93.4 263.1,95.3 260.6,94.1 257.9,92.3" stroke="#f5f146"/><polygon points="122.3,103.6 124.9,102.5 122.5,111.8 119.8,112.8" stroke="#efdd66"/><polygon points="182.2,93.4 184.9,92.4 182.4,91.2 179.7,92.2" stroke="#f9fb2a"/><polygon points="242.1,91.5 244.8,90.5 242.3,89.3 239.6,90.3" stroke="#f9fa2b"/><polygon points="163.9,94.1 166.6,93.1 164.1,91.9 161.5,92.9" stroke="#f9fb2a"/><polygon points="223.9,92.1 226.6,91.1 224.1,89.9 221.4,90.9" stroke="#f9fb2a"/><polygon points="145.7,94.9 148.4,93.8 145.9,92.8 143.2,93.9" stroke="#f9fb2b"/><polygon points="205.6,92.8 208.3,91.8 205.8,90.6 203.1,91.6" stroke="#f9fb2a"/><polygon points="127.4,98.5 130.1,97.4 127.6,101.5 124.9,102.5" stroke="#f4f048"/><polygon points="187.4,93.5 190.1,92.5 187.6,91.3 184.9,92.4" stroke="#f9fb2a"/><polygon points="247.3,91.7 250.0,90.9 247.5,89.8 244.8,90.5" stroke="#f9fa2c"/><polygon points="169.1,94.3 171.8,93.2 169.3,92.0 166.6,93.1" stroke="#f9fb2a"/><polygon points="229.1,92.3 231.8,91.2 229.3,90.0 226.6,91.1" stroke="#f9fb2a"/><polygon points="150.9,95.0 153.6,93.9 151.1,92.7 148.4,93.8" stroke="#f9fb2a"/><polygon points="210.8,93.0 213.5,91.9 211.0,90.7 208.3,91.8" stroke="#f9fb2a"/><polygon points="132.6,96.5 135.3,95.5 132.8,96.3 130.1,97.4" stroke="#f8f735"/><polygon points="192.6,93.7 195.3,92.6 192.8,91.4 190.1,92.5" stroke="#f9fb2a"/><polygon points="252.5,92.1 255.2,91.8 252.7,90.6 250.0,90.9" stroke="#f8f930"/><polygon points="174.3,94.4 177.0,93.3 174.5,92.1 171.8,93.2" stroke="#f9fb2a"/><polygon points="234.3,92.4 236.9,91.3 234.5,90.1 231.8,91.2" stroke="#f9fb2a"/><polygon points="156.1,95.1 158.8,94.0 156.3,92.8 153.6,93.9" stroke="#f9fb2a"/><polygon points="216.0,93.1 218.7,92.0 216.2,90.8 213.5,91.9" stroke="#f9fb2a"/><polygon points="137.8,96.0 140.5,94.9 138.0,94.4 135.3,95.5" stroke="#f9fa2d"/><polygon points="197.7,93.8 200.4,92.7 198.0,91.5 195.3,92.6" stroke="#f9fb2a"/><polygon points="257.7,93.0 260.4,93.4 257.9,92.3 255.2,91.8" stroke="#f7f639"/><polygon points="119.6,104.7 122.3,103.6 119.8,112.8 117.1,113.9" stroke="#efdd66"/><polygon points="179.5,94.5 182.2,93.4 179.7,92.2 177.0,93.3" stroke="#f9fb2a"/><polygon points="239.4,92.5 242.1,91.5 239.6,90.3 236.9,91.3" stroke="#f9fb2a"/><polygon points="161.2,95.2 163.9,94.1 161.5,92.9 158.8,94.0" stroke="#f9fb2a"/><polygon points="221.2,93.2 223.9,92.1 221.4,90.9 218.7,92.0" stroke="#f9fb2a"/><polygon points="143.0,96.0 145.7,94.9 143.2,93.9 140.5,94.9" stroke="#f9fb2b"/><polygon points="202.9,93.9 205.6,92.8 203.1,91.6 200.4,92.7" stroke="#f9fb2a"/><polygon points="124.7,99.5 127.4,98.5 124.9,102.5 122.3,103.6" stroke="#f4f048"/><polygon points="184.7,94.6 187.4,93.5 184.9,92.4 182.2,93.4" stroke="#f9fb2a"/><polygon points="244.6,92.7 247.3,91.7 244.8,90.5 242.1,91.5" stroke="#f9fa2b"/><polygon points="166.4,95.3 169.1,94.3 166.6,93.1 163.9,94.1" stroke="#f9fb2a"/><polygon points="226.4,93.3 229.1,92.3 226.6,91.1 223.9,92.1" stroke="#f9fb2a"/><polygon points="148.2,96.0 150.9,95.0 148.4,93.8 145.7,94.9" stroke="#f9fb2a"/><polygon points="208.1,94.0 210.8,93.0 208.3,91.8 205.6,92.8" stroke="#f9fb2a"/><polygon points="129.9,97.6 132.6,96.5 130.1,97.4 127.4,98.5" stroke="#f8f735"/><polygon points="189.9,94.7 192.6,93.7 190.1,92.5 187.4,93.5" stroke="#f9fb2a"/><polygon points="249.8,92.9 252.5,92.1 250.0,90.9 247.3,91.7" stroke="#f9fa2c"/><polygon points="171.6,95.4 174.3,94.4 171.8,93.2 169.1,94.3" stroke="#f9fb2a"/><polygon points="231.6,93.4 234.3,92.4 231.8,91.2 229.1,92.3" stroke="#f9fb2a"/><polygon points="153.4,96.2 156.1,95.1 153.6,93.9 150.9,95.0" stroke="#f9fb2a"/><polygon points="213.3,94.1 216.0,93.1 213.5,91.9 210.8,93.0" stroke="#f9fb2a"/><polygon points="135.1,97.1 137.8,96.0 135.3,95.5 132.6,96.5" stroke="#f9fa2d"/><polygon points="195.1,94.9 197.7,93.8 195.3,92.6 192.6,93.7" stroke="#f9fb2a"/><polygon points="255.0,93.3 257.7,93.0 255.2,91.8 252.5,92.1" stroke="#f8f930"/><polygon points="176.8,95.6 179.5,94.5 177.0,93.3 174.3,94.4" stroke="#f9fb2a"/><polygon points="236.7,93.6 239.4,92.5 236.9,91.3 234.3,92.4" stroke="#f9fb2a"/><polygon points="158.5,96.3 161.2,95.2 158.8,94.0 156.1,95.1" stroke="#f9fb2a"/><polygon points="218.5,94.3 221.2,93.2 218.7,92.0 216.0,93.1" stroke="#f9fb2a"/><polygon points="140.3,97.0 143.0,96.0 140.5,94.9 137.8,96.0" stroke="#f9fb2b"/><polygon points="200.2,95.0 202.9,93.9 200.4,92.7 197.7,93.8" stroke="#f9fb2a"/><polygon points="122.0,100.6 124.7,99.5 122.3,103.6 119.6,104.7" stroke="#f4f048"/><polygon points="182.0,95.7 184.7,94.6 182.2,93.4 179.5,94.5" stroke="#f9fb2a"/><polygon points="241.9,93.7 244.6,92.7 242.1,91.5 239.4,92.5" stroke="#f9fb2a"/><polygon points="163.7,96.4 166.4,95.3 163.9,94.1 161.2,95.2" stroke="#f9fb2a"/><polygon points="223.7,94.4 226.4,93.3 223.9,92.1 221.2,93.2" stroke="#f9fb2a"/><polygon points="145.5,97.1 148.2,96.0 145.7,94.9 143.0,96.0" stroke="#f9fb2a"/><polygon points="205.4,95.1 208.1,94.0 205.6,92.8 202.9,93.9" stroke="#f9fb2a"/><polygon points="127.2,98.7 129.9,97.6 127.4,98.5 124.7,99.5" stroke="#f8f735"/><polygon points="187.2,95.8 189.9,94.7 187.4,93.5 184.7,94.6" stroke="#f9fb2a"/><polygon points="247.1,93.9 249.8,92.9 247.3,91.7 244.6,92.7" stroke="#f9fa2b"/><polygon points="168.9,96.5 171.6,95.4 169.1,94.3 166.4,95.3" stroke="#f9fb2a"/><polygon points="228.9,94.5 231.6,93.4 229.1,92.3 226.4,93.3" stroke="#f9fb2a"/><polygon points="150.7,97.2 153.4,96.2 150.9,95.0 148.2,96.0" stroke="#f9fb2a"/><polygon points="210.6,95.2 213.3,94.1 210.8,93.0 208.1,94.0" stroke="#f9fb2a"/><polygon points="132.4,98.1 135.1,97.1 132.6,96.5 129.9,97.6" stroke="#f9fa2d"/><polygon points="192.4,95.9 195.1,94.9 192.6,93.7 189.9,94.7" stroke="#f9fb2a"/><polygon points="252.3,94.1 255.0,93.3 252.5,92.1 249.8,92.9" stroke="#f9fa2c"/><polygon points="174.1,96.6 176.8,95.6 174.3,94.4 171.6,95.4" stroke="#f9fb2a"/><polygon points="234.0,94.6 236.7,93.6 234.3,92.4 231.6,93.4" stroke="#f9fb2a"/><polygon points="155.9,97.3 158.5,96.3 156.1,95.1 153.4,96.2" stroke="#f9fb2a"/><polygon points="215.8,95.3 218.5,94.3 216.0,93.1 213.3,94.1" stroke="#f9fb2a"/><polygon points="137.6,98.1 140.3,97.0 137.8,96.0 135.1,97.1" stroke="#f9fb2b"/><polygon points="197.5,96.0 200.2,95.0 197.7,93.8 195.1,94.9" stroke="#f9fb2a"/><polygon points="179.3,96.8 182.0,95.7 179.5,94.5 176.8,95.6" stroke="#f9fb2a"/><polygon points="239.2,94.8 241.9,93.7 239.4,92.5 236.7,93.6" stroke="#f9fb2a"/><polygon points="161.0,97.5 163.7,96.4 161.2,95.2 158.5,96.3" stroke="#f9fb2a"/><polygon points="221.0,95.5 223.7,94.4 221.2,93.2 218.5,94.3" stroke="#f9fb2a"/><polygon points="142.8,98.2 145.5,97.1 143.0,96.0 140.3,97.0" stroke="#f9fb2a"/><polygon points="202.7,96.2 205.4,95.1 202.9,93.9 200.2,95.0" stroke="#f9fb2a"/><polygon points="124.5,99.7 127.2,98.7 124.7,99.5 122.0,100.6" stroke="#f8f735"/><polygon points="184.5,96.9 187.2,95.8 184.7,94.6 182.0,95.7" stroke="#f9fb2a"/><polygon points="244.4,94.9 247.1,93.9 244.6,92.7 241.9,93.7" stroke="#f9fb2a"/><polygon points="166.2,97.6 168.9,96.5 166.4,95.3 163.7,96.4" stroke="#f9fb2a"/><polygon points="226.2,95.6 228.9,94.5 226.4,93.3 223.7,94.4" stroke="#f9fb2a"/><polygon points="148.0,98.3 150.7,97.2 148.2,96.0 145.5,97.1" stroke="#f9fb2a"/><polygon points="207.9,96.3 210.6,95.2 208.1,94.0 205.4,95.1" stroke="#f9fb2a"/><polygon points="129.7,99.2 132.4,98.1 129.9,97.6 127.2,98.7" stroke="#f9fa2d"/><polygon points="189.7,97.0 192.4,95.9 189.9,94.7 187.2,95.8" stroke="#f9fb2a"/><polygon points="249.6,95.0 252.3,94.1 249.8,92.9 247.1,93.9" stroke="#f9fa2b"/><polygon points="171.4,97.7 174.1,96.6 171.6,95.4 168.9,96.5" stroke="#f9fb2a"/><polygon points="231.3,95.7 234.0,94.6 231.6,93.4 228.9,94.5" stroke="#f9fb2a"/><polygon points="153.2,98.4 155.9,97.3 153.4,96.2 150.7,97.2" stroke="#f9fb2a"/><polygon points="213.1,96.4 215.8,95.3 213.3,94.1 210.6,95.2" stroke="#f9fb2a"/><polygon points="134.9,99.2 137.6,98.1 135.1,97.1 132.4,98.1" stroke="#f9fb2b"/><polygon points="194.8,97.1 197.5,96.0 195.1,94.9 192.4,95.9" stroke="#f9fb2a"/><polygon points="176.6,97.8 179.3,96.8 176.8,95.6 174.1,96.6" stroke="#f9fb2a"/><polygon points="236.5,95.8 239.2,94.8 236.7,93.6 234.0,94.6" stroke="#f9fb2a"/><polygon points="158.3,98.5 161.0,97.5 158.5,96.3 155.9,97.3" stroke="#f9fb2a"/><polygon points="218.3,96.5 221.0,95.5 218.5,94.3 215.8,95.3" stroke="#f9fb2a"/><polygon points="140.1,99.2 142.8,98.2 140.3,97.0 137.6,98.1" stroke="#f9fb2a"/><polygon points="200.0,97.2 202.7,96.2 200.2,95.0 197.5,96.0" stroke="#f9fb2a"/><polygon points="181.8,97.9 184.5,96.9 182.0,95.7 179.3,96.8" stroke="#f9fb2a"/><polygon points="241.7,95.9 244.4,94.9 241.9,93.7 239.2,94.8" stroke="#f9fb2a"/><polygon points="163.5,98.6 166.2,97.6 163.7,96.4 161.0,97.5" stroke="#f9fb2a"/><polygon points="223.5,96.6 226.2,95.6 223.7,94.4 221.0,95.5" stroke="#f9fb2a"/><polygon points="145.3,99.4 148.0,98.3 145.5,97.1 142.8,98.2" stroke="#f9fb2a"/><polygon points="205.2,97.4 207.9,96.3 205.4,95.1 202.7,96.2" stroke="#f9fb2a"/><polygon points="127.0,100.3 129.7,99.2 127.2,98.7 124.5,99.7" stroke="#f9fa2d"/><polygon points="187.0,98.1 189.7,97.0 187.2,95.8 184.5,96.9" stroke="#f9fb2a"/><polygon points="246.9,96.1 249.6,95.0 247.1,93.9 244.4,94.9" stroke="#f9fb2a"/><polygon points="168.7,98.8 171.4,97.7 168.9,96.5 166.2,97.6" stroke="#f9fb2a"/><polygon points="228.7,96.8 231.3,95.7 228.9,94.5 226.2,95.6" stroke="#f9fb2a"/><polygon points="150.5,99.5 153.2,98.4 150.7,97.2 148.0,98.3" stroke="#f9fb2a"/><polygon points="210.4,97.5 213.1,96.4 210.6,95.2 207.9,96.3" stroke="#f9fb2a"/><polygon points="132.2,100.2 134.9,99.2 132.4,98.1 129.7,99.2" stroke="#f9fb2b"/><polygon points="192.1,98.2 194.8,97.1 192.4,95.9 189.7,97.0" stroke="#f9fb2a"/><polygon points="173.9,98.9 176.6,97.8 174.1,96.6 171.4,97.7" stroke="#f9fb2a"/><polygon points="233.8,96.9 236.5,95.8 234.0,94.6 231.3,95.7" stroke="#f9fb2a"/><polygon points="155.6,99.6 158.3,98.5 155.9,97.3 153.2,98.4" stroke="#f9fb2a"/><polygon points="215.6,97.6 218.3,96.5 215.8,95.3 213.1,96.4" stroke="#f9fb2a"/><polygon points="137.4,100.3 140.1,99.2 137.6,98.1 134.9,99.2" stroke="#f9fb2a"/><polygon points="197.3,98.3 200.0,97.2 197.5,96.0 194.8,97.1" stroke="#f9fb2a"/><polygon points="179.1,99.0 181.8,97.9 179.3,96.8 176.6,97.8" stroke="#f9fb2a"/><polygon points="239.0,97.0 241.7,95.9 239.2,94.8 236.5,95.8" stroke="#f9fb2a"/><polygon points="160.8,99.7 163.5,98.6 161.0,97.5 158.3,98.5" stroke="#f9fb2a"/><polygon points="220.8,97.7 223.5,96.6 221.0,95.5 218.3,96.5" stroke="#f9fb2a"/><polygon points="142.6,100.4 145.3,99.4 142.8,98.2 140.1,99.2" stroke="#f9fb2a"/><polygon points="202.5,98.4 205.2,97.4 202.7,96.2 200.0,97.2" stroke="#f9fb2a"/><polygon points="184.3,99.1 187.0,98.1 184.5,96.9 181.8,97.9" stroke="#f9fb2a"/><polygon points="244.2,97.1 246.9,96.1 244.4,94.9 241.7,95.9" stroke="#f9fb2a"/><polygon points="166.0,99.8 168.7,98.8 166.2,97.6 163.5,98.6" stroke="#f9fb2a"/><polygon points="226.0,97.8 228.7,96.8 226.2,95.6 223.5,96.6" stroke="#f9fb2a"/><polygon points="147.8,100.5 150.5,99.5 148.0,98.3 145.3,99.4" stroke="#f9fb2a"/><polygon points="207.7,98.5 210.4,97.5 207.9,96.3 205.2,97.4" stroke="#f9fb2a"/><polygon points="129.5,101.3 132.2,100.2 129.7,99.2 127.0,100.3" stroke="#f9fb2b"/><polygon points="189.5,99.2 192.1,98.2 189.7,97.0 187.0,98.1" stroke="#f9fb2a"/><polygon points="171.2,100.0 173.9,98.9 171.4,97.7 168.7,98.8" stroke="#f9fb2a"/><polygon points="231.1,98.0 233.8,96.9 231.3,95.7 228.7,96.8" stroke="#f9fb2a"/><polygon points="152.9,100.7 155.6,99.6 153.2,98.4 150.5,99.5" stroke="#f9fb2a"/><polygon points="212.9,98.7 215.6,97.6 213.1,96.4 210.4,97.5" stroke="#f9fb2a"/><polygon points="134.7,101.4 137.4,100.3 134.9,99.2 132.2,100.2" stroke="#f9fb2a"/><polygon points="194.6,99.4 197.3,98.3 194.8,97.1 192.1,98.2" stroke="#f9fb2a"/><polygon points="176.4,100.1 179.1,99.0 176.6,97.8 173.9,98.9" stroke="#f9fb2a"/><polygon points="236.3,98.1 239.0,97.0 236.5,95.8 233.8,96.9" stroke="#f9fb2a"/><polygon points="158.1,100.8 160.8,99.7 158.3,98.5 155.6,99.6" stroke="#f9fb2a"/><polygon points="218.1,98.8 220.8,97.7 218.3,96.5 215.6,97.6" stroke="#f9fb2a"/><polygon points="139.9,101.5 142.6,100.4 140.1,99.2 137.4,100.3" stroke="#f9fb2a"/><polygon points="199.8,99.5 202.5,98.4 200.0,97.2 197.3,98.3" stroke="#f9fb2a"/><polygon points="181.6,100.2 184.3,99.1 181.8,97.9 179.1,99.0" stroke="#f9fb2a"/><polygon points="241.5,98.2 244.2,97.1 241.7,95.9 239.0,97.0" stroke="#f9fb2a"/><polygon points="163.3,100.9 166.0,99.8 163.5,98.6 160.8,99.7" stroke="#f9fb2a"/><polygon points="223.3,98.9 226.0,97.8 223.5,96.6 220.8,97.7" stroke="#f9fb2a"/><polygon points="145.1,101.6 147.8,100.5 145.3,99.4 142.6,100.4" stroke="#f9fb2a"/><polygon points="205.0,99.6 207.7,98.5 205.2,97.4 202.5,98.4" stroke="#f9fb2a"/><polygon points="186.8,100.3 189.5,99.2 187.0,98.1 184.3,99.1" stroke="#f9fb2a"/><polygon points="168.5,101.0 171.2,100.0 168.7,98.8 166.0,99.8" stroke="#f9fb2a"/><polygon points="228.4,99.0 231.1,98.0 228.7,96.8 226.0,97.8" stroke="#f9fb2a"/><polygon points="150.3,101.7 152.9,100.7 150.5,99.5 147.8,100.5" stroke="#f9fb2a"/><polygon points="210.2,99.7 212.9,98.7 210.4,97.5 207.7,98.5" stroke="#f9fb2a"/><polygon points="132.0,102.4 134.7,101.4 132.2,100.2 129.5,101.3" stroke="#f9fb2a"/><polygon points="191.9,100.4 194.6,99.4 192.1,98.2 189.5,99.2" stroke="#f9fb2a"/><polygon points="173.7,101.1 176.4,100.1 173.9,98.9 171.2,100.0" stroke="#f9fb2a"/><polygon points="233.6,99.1 236.3,98.1 233.8,96.9 231.1,98.0" stroke="#f9fb2a"/><polygon points="155.4,101.9 158.1,100.8 155.6,99.6 152.9,100.7" stroke="#f9fb2a"/><polygon points="215.4,99.9 218.1,98.8 215.6,97.6 212.9,98.7" stroke="#f9fb2a"/><polygon points="137.2,102.6 139.9,101.5 137.4,100.3 134.7,101.4" stroke="#f9fb2a"/><polygon points="197.1,100.6 199.8,99.5 197.3,98.3 194.6,99.4" stroke="#f9fb2a"/><polygon points="178.9,101.3 181.6,100.2 179.1,99.0 176.4,100.1" stroke="#f9fb2a"/><polygon points="238.8,99.3 241.5,98.2 239.0,97.0 236.3,98.1" stroke="#f9fb2a"/><polygon points="160.6,102.0 163.3,100.9 160.8,99.7 158.1,100.8" stroke="#f9fb2a"/><polygon points="220.6,100.0 223.3,98.9 220.8,97.7 218.1,98.8" stroke="#f9fb2a"/><polygon points="142.4,102.7 145.1,101.6 142.6,100.4 139.9,101.5" stroke="#f9fb2a"/><polygon points="202.3,100.7 205.0,99.6 202.5,98.4 199.8,99.5" stroke="#f9fb2a"/><polygon points="184.1,101.4 186.8,100.3 184.3,99.1 181.6,100.2" stroke="#f9fb2a"/><polygon points="165.8,102.1 168.5,101.0 166.0,99.8 163.3,100.9" stroke="#f9fb2a"/><polygon points="225.7,100.1 228.4,99.0 226.0,97.8 223.3,98.9" stroke="#f9fb2a"/><polygon points="147.6,102.8 150.3,101.7 147.8,100.5 145.1,101.6" stroke="#f9fb2a"/><polygon points="207.5,100.8 210.2,99.7 207.7,98.5 205.0,99.6" stroke="#f9fb2a"/><polygon points="189.2,101.5 191.9,100.4 189.5,99.2 186.8,100.3" stroke="#f9fb2a"/><polygon points="171.0,102.2 173.7,101.1 171.2,100.0 168.5,101.0" stroke="#f9fb2a"/><polygon points="230.9,100.2 233.6,99.1 231.1,98.0 228.4,99.0" stroke="#f9fb2a"/><polygon points="152.7,102.9 155.4,101.9 152.9,100.7 150.3,101.7" stroke="#f9fb2a"/><polygon points="212.7,100.9 215.4,99.9 212.9,98.7 210.2,99.7" stroke="#f9fb2a"/><polygon points="134.5,103.6 137.2,102.6 134.7,101.4 132.0,102.4" stroke="#f9fb2a"/><polygon points="194.4,101.6 197.1,100.6 194.6,99.4 191.9,100.4" stroke="#f9fb2a"/><polygon points="176.2,102.3 178.9,101.3 176.4,100.1 173.7,101.1" stroke="#f9fb2a"/><polygon points="236.1,100.3 238.8,99.3 236.3,98.1 233.6,99.1" stroke="#f9fb2a"/><polygon points="157.9,103.0 160.6,102.0 158.1,100.8 155.4,101.9" stroke="#f9fb2a"/><polygon points="217.9,101.0 220.6,100.0 218.1,98.8 215.4,99.9" stroke="#f9fb2a"/><polygon points="139.7,103.7 142.4,102.7 139.9,101.5 137.2,102.6" stroke="#f9fb2a"/><polygon points="199.6,101.7 202.3,100.7 199.8,99.5 197.1,100.6" stroke="#f9fb2a"/><polygon points="181.4,102.5 184.1,101.4 181.6,100.2 178.9,101.3" stroke="#f9fb2a"/><polygon points="163.1,103.2 165.8,102.1 163.3,100.9 160.6,102.0" stroke="#f9fb2a"/><polygon points="223.1,101.2 225.7,100.1 223.3,98.9 220.6,100.0" stroke="#f9fb2a"/><polygon points="144.9,103.9 147.6,102.8 145.1,101.6 142.4,102.7" stroke="#f9fb2a"/><polygon points="204.8,101.9 207.5,100.8 205.0,99.6 202.3,100.7" stroke="#f9fb2a"/><polygon points="186.5,102.6 189.2,101.5 186.8,100.3 184.1,101.4" stroke="#f9fb2a"/><polygon points="168.3,103.3 171.0,102.2 168.5,101.0 165.8,102.1" stroke="#f9fb2a"/><polygon points="228.2,101.3 230.9,100.2 228.4,99.0 225.7,100.1" stroke="#f9fb2a"/><polygon points="150.0,104.0 152.7,102.9 150.3,101.7 147.6,102.8" stroke="#f9fb2a"/><polygon points="210.0,102.0 212.7,100.9 210.2,99.7 207.5,100.8" stroke="#f9fb2a"/><polygon points="191.7,102.7 194.4,101.6 191.9,100.4 189.2,101.5" stroke="#f9fb2a"/><polygon points="173.5,103.4 176.2,102.3 173.7,101.1 171.0,102.2" stroke="#f9fb2a"/><polygon points="233.4,101.4 236.1,100.3 233.6,99.1 230.9,100.2" stroke="#f9fb2a"/><polygon points="155.2,104.1 157.9,103.0 155.4,101.9 152.7,102.9" stroke="#f9fb2a"/><polygon points="215.2,102.1 217.9,101.0 215.4,99.9 212.7,100.9" stroke="#f9fb2a"/><polygon points="137.0,104.8 139.7,103.7 137.2,102.6 134.5,103.6" stroke="#f9fb2a"/><polygon points="196.9,102.8 199.6,101.7 197.1,100.6 194.4,101.6" stroke="#f9fb2a"/><polygon points="178.7,103.5 181.4,102.5 178.9,101.3 176.2,102.3" stroke="#f9fb2a"/><polygon points="160.4,104.2 163.1,103.2 160.6,102.0 157.9,103.0" stroke="#f9fb2a"/><polygon points="220.4,102.2 223.1,101.2 220.6,100.0 217.9,101.0" stroke="#f9fb2a"/><polygon points="142.2,104.9 144.9,103.9 142.4,102.7 139.7,103.7" stroke="#f9fb2a"/><polygon points="202.1,102.9 204.8,101.9 202.3,100.7 199.6,101.7" stroke="#f9fb2a"/><polygon points="183.9,103.6 186.5,102.6 184.1,101.4 181.4,102.5" stroke="#f9fb2a"/><polygon points="165.6,104.4 168.3,103.3 165.8,102.1 163.1,103.2" stroke="#f9fb2a"/><polygon points="225.5,102.3 228.2,101.3 225.7,100.1 223.1,101.2" stroke="#f9fb2a"/><polygon points="147.3,105.1 150.0,104.0 147.6,102.8 144.9,103.9" stroke="#f9fb2a"/><polygon points="207.3,103.1 210.0,102.0 207.5,100.8 204.8,101.9" stroke="#f9fb2a"/><polygon points="189.0,103.8 191.7,102.7 189.2,101.5 186.5,102.6" stroke="#f9fb2a"/><polygon points="170.8,104.5 173.5,103.4 171.0,102.2 168.3,103.3" stroke="#f9fb2a"/><polygon points="230.7,102.5 233.4,101.4 230.9,100.2 228.2,101.3" stroke="#f9fb2a"/><polygon points="152.5,105.2 155.2,104.1 152.7,102.9 150.0,104.0" stroke="#f9fb2a"/><polygon points="212.5,103.2 215.2,102.1 212.7,100.9 210.0,102.0" stroke="#f9fb2a"/><polygon points="194.2,103.9 196.9,102.8 194.4,101.6 191.7,102.7" stroke="#f9fb2a"/><polygon points="176.0,104.6 178.7,103.5 176.2,102.3 173.5,103.4" stroke="#f9fb2a"/><polygon points="157.7,105.3 160.4,104.2 157.9,103.0 155.2,104.1" stroke="#f9fb2a"/><polygon points="217.7,103.3 220.4,102.2 217.9,101.0 215.2,102.1" stroke="#f9fb2a"/><polygon points="139.5,106.0 142.2,104.9 139.7,103.7 137.0,104.8" stroke="#f9fb2a"/><polygon points="199.4,104.0 202.1,102.9 199.6,101.7 196.9,102.8" stroke="#f9fb2a"/><polygon points="181.2,104.7 183.9,103.6 181.4,102.5 178.7,103.5" stroke="#f9fb2a"/><polygon points="162.9,105.4 165.6,104.4 163.1,103.2 160.4,104.2" stroke="#f9fb2a"/><polygon points="222.8,103.4 225.5,102.3 223.1,101.2 220.4,102.2" stroke="#f9fb2a"/><polygon points="144.7,106.1 147.3,105.1 144.9,103.9 142.2,104.9" stroke="#f9fb2a"/><polygon points="204.6,104.1 207.3,103.1 204.8,101.9 202.1,102.9" stroke="#f9fb2a"/><polygon points="186.3,104.8 189.0,103.8 186.5,102.6 183.9,103.6" stroke="#f9fb2a"/><polygon points="168.1,105.5 170.8,104.5 168.3,103.3 165.6,104.4" stroke="#f9fb2a"/><polygon points="228.0,103.5 230.7,102.5 228.2,101.3 225.5,102.3" stroke="#f9fb2a"/><polygon points="149.8,106.2 152.5,105.2 150.0,104.0 147.3,105.1" stroke="#f9fb2a"/><polygon points="209.8,104.2 212.5,103.2 210.0,102.0 207.3,103.1" stroke="#f9fb2a"/><polygon points="191.5,105.0 194.2,103.9 191.7,102.7 189.0,103.8" stroke="#f9fb2a"/><polygon points="173.3,105.7 176.0,104.6 173.5,103.4 170.8,104.5" stroke="#f9fb2a"/><polygon points="155.0,106.4 157.7,105.3 155.2,104.1 152.5,105.2" stroke="#f9fb2a"/><polygon points="215.0,104.4 217.7,103.3 215.2,102.1 212.5,103.2" stroke="#f9fb2a"/><polygon points="196.7,105.1 199.4,104.0 196.9,102.8 194.2,103.9" stroke="#f9fb2a"/><polygon points="178.5,105.8 181.2,104.7 178.7,103.5 176.0,104.6" stroke="#f9fb2a"/><polygon points="160.2,106.5 162.9,105.4 160.4,104.2 157.7,105.3" stroke="#f9fb2a"/><polygon points="220.1,104.5 222.8,103.4 220.4,102.2 217.7,103.3" stroke="#f9fb2a"/><polygon points="142.0,107.2 144.7,106.1 142.2,104.9 139.5,106.0" stroke="#f9fb2a"/><polygon points="201.9,105.2 204.6,104.1 202.1,102.9 199.4,104.0" stroke="#f9fb2a"/><polygon points="183.6,105.9 186.3,104.8 183.9,103.6 181.2,104.7" stroke="#f9fb2a"/><polygon points="165.4,106.6 168.1,105.5 165.6,104.4 162.9,105.4" stroke="#f9fb2a"/><polygon points="225.3,104.6 228.0,103.5 225.5,102.3 222.8,103.4" stroke="#f9fb2a"/><polygon points="147.1,107.3 149.8,106.2 147.3,105.1 144.7,106.1" stroke="#f9fb2a"/><polygon points="207.1,105.3 209.8,104.2 207.3,103.1 204.6,104.1" stroke="#f9fb2a"/><polygon points="188.8,106.0 191.5,105.0 189.0,103.8 186.3,104.8" stroke="#f9fb2a"/><polygon points="170.6,106.7 173.3,105.7 170.8,104.5 168.1,105.5" stroke="#f9fb2a"/><polygon points="152.3,107.4 155.0,106.4 152.5,105.2 149.8,106.2" stroke="#f9fb2a"/><polygon points="212.3,105.4 215.0,104.4 212.5,103.2 209.8,104.2" stroke="#f9fb2a"/><polygon points="194.0,106.1 196.7,105.1 194.2,103.9 191.5,105.0" stroke="#f9fb2a"/><polygon points="175.8,106.8 178.5,105.8 176.0,104.6 173.3,105.7" stroke="#f9fb2a"/><polygon points="157.5,107.6 160.2,106.5 157.7,105.3 155.0,106.4" stroke="#f9fb2a"/><polygon points="217.5,105.6 220.1,104.5 217.7,103.3 215.0,104.4" stroke="#f9fb2a"/><polygon points="199.2,106.3 201.9,105.2 199.4,104.0 196.7,105.1" stroke="#f9fb2a"/><polygon points="180.9,107.0 183.6,105.9 181.2,104.7 178.5,105.8" stroke="#f9fb2a"/><polygon points="162.7,107.7 165.4,106.6 162.9,105.4 160.2,106.5" stroke="#f9fb2a"/><polygon points="222.6,105.7 225.3,104.6 222.8,103.4 220.1,104.5" stroke="#f9fb2a"/><polygon points="144.4,108.4 147.1,107.3 144.7,106.1 142.0,107.2" stroke="#f9fb2a"/><polygon points="204.4,106.4 207.1,105.3 204.6,104.1 201.9,105.2" stroke="#f9fb2a"/><polygon points="186.1,107.1 188.8,106.0 186.3,104.8 183.6,105.9" stroke="#f9fb2a"/><polygon points="167.9,107.8 170.6,106.7 168.1,105.5 165.4,106.6" stroke="#f9fb2a"/><polygon points="149.6,108.5 152.3,107.4 149.8,106.2 147.1,107.3" stroke="#f9fb2a"/><polygon points="209.6,106.5 212.3,105.4 209.8,104.2 207.1,105.3" stroke="#f9fb2a"/><polygon points="191.3,107.2 194.0,106.1 191.5,105.0 188.8,106.0" stroke="#f9fb2a"/><polygon points="173.1,107.9 175.8,106.8 173.3,105.7 170.6,106.7" stroke="#f9fb2a"/><polygon points="154.8,108.6 157.5,107.6 155.0,106.4 152.3,107.4" stroke="#f9fb2a"/><polygon points="214.8,106.6 217.5,105.6 215.0,104.4 212.3,105.4" stroke="#f9fb2a"/><polygon points="196.5,107.3 199.2,106.3 196.7,105.1 194.0,106.1" stroke="#f9fb2a"/><polygon points="178.3,108.0 180.9,107.0 178.5,105.8 175.8,106.8" stroke="#f9fb2a"/><polygon points="160.0,108.7 162.7,107.7 160.2,106.5 157.5,107.6" stroke="#f9fb2a"/><polygon points="219.9,106.7 222.6,105.7 220.1,104.5 217.5,105.6" stroke="#f9fb2a"/><polygon points="201.7,107.5 204.4,106.4 201.9,105.2 199.2,106.3" stroke="#f9fb2a"/><polygon points="183.4,108.2 186.1,107.1 183.6,105.9 180.9,107.0" stroke="#f9fb2a"/><polygon points="165.2,108.9 167.9,107.8 165.4,106.6 162.7,107.7" stroke="#f9fb2a"/><polygon points="146.9,109.6 149.6,108.5 147.1,107.3 144.4,108.4" stroke="#f9fb2a"/><polygon points="206.9,107.6 209.6,106.5 207.1,105.3 204.4,106.4" stroke="#f9fb2a"/><polygon points="188.6,108.3 191.3,107.2 188.8,106.0 186.1,107.1" stroke="#f9fb2a"/><polygon points="170.4,109.0 173.1,107.9 170.6,106.7 167.9,107.8" stroke="#f9fb2a"/><polygon points="152.1,109.7 154.8,108.6 152.3,107.4 149.6,108.5" stroke="#f9fb2a"/><polygon points="212.1,107.7 214.8,106.6 212.3,105.4 209.6,106.5" stroke="#f9fb2a"/><polygon points="193.8,108.4 196.5,107.3 194.0,106.1 191.3,107.2" stroke="#f9fb2a"/><polygon points="175.6,109.1 178.3,108.0 175.8,106.8 173.1,107.9" stroke="#f9fb2a"/><polygon points="157.3,109.8 160.0,108.7 157.5,107.6 154.8,108.6" stroke="#f9fb2a"/><polygon points="217.2,107.8 219.9,106.7 217.5,105.6 214.8,106.6" stroke="#f9fb2a"/><polygon points="199.0,108.5 201.7,107.5 199.2,106.3 196.5,107.3" stroke="#f9fb2a"/><polygon points="180.7,109.2 183.4,108.2 180.9,107.0 178.3,108.0" stroke="#f9fb2a"/><polygon points="162.5,109.9 165.2,108.9 162.7,107.7 160.0,108.7" stroke="#f9fb2a"/><polygon points="204.2,108.6 206.9,107.6 204.4,106.4 201.7,107.5" stroke="#f9fb2a"/><polygon points="185.9,109.3 188.6,108.3 186.1,107.1 183.4,108.2" stroke="#f9fb2a"/><polygon points="167.7,110.1 170.4,109.0 167.9,107.8 165.2,108.9" stroke="#f9fb2a"/><polygon points="149.4,110.8 152.1,109.7 149.6,108.5 146.9,109.6" stroke="#f9fb2a"/><polygon points="209.4,108.8 212.1,107.7 209.6,106.5 206.9,107.6" stroke="#f9fb2a"/><polygon points="191.1,109.5 193.8,108.4 191.3,107.2 188.6,108.3" stroke="#f9fb2a"/><polygon points="172.9,110.2 175.6,109.1 173.1,107.9 170.4,109.0" stroke="#f9fb2a"/><polygon points="154.6,110.9 157.3,109.8 154.8,108.6 152.1,109.7" stroke="#f9fb2a"/><polygon points="214.5,108.9 217.2,107.8 214.8,106.6 212.1,107.7" stroke="#f9fb2a"/><polygon points="196.3,109.6 199.0,108.5 196.5,107.3 193.8,108.4" stroke="#f9fb2a"/><polygon points="178.0,110.3 180.7,109.2 178.3,108.0 175.6,109.1" stroke="#f9fb2a"/><polygon points="159.8,111.0 162.5,109.9 160.0,108.7 157.3,109.8" stroke="#f9fb2a"/><polygon points="201.5,109.7 204.2,108.6 201.7,107.5 199.0,108.5" stroke="#f9fb2a"/><polygon points="183.2,110.4 185.9,109.3 183.4,108.2 180.7,109.2" stroke="#f9fb2a"/><polygon points="165.0,111.1 167.7,110.1 165.2,108.9 162.5,109.9" stroke="#f9fb2a"/><polygon points="206.7,109.8 209.4,108.8 206.9,107.6 204.2,108.6" stroke="#f9fb2a"/><polygon points="188.4,110.5 191.1,109.5 188.6,108.3 185.9,109.3" stroke="#f9fb2a"/><polygon points="170.2,111.2 172.9,110.2 170.4,109.0 167.7,110.1" stroke="#f9fb2a"/><polygon points="151.9,112.0 154.6,110.9 152.1,109.7 149.4,110.8" stroke="#f9fb2a"/><polygon points="211.9,109.9 214.5,108.9 212.1,107.7 209.4,108.8" stroke="#f9fb2a"/><polygon points="193.6,110.7 196.3,109.6 193.8,108.4 191.1,109.5" stroke="#f9fb2a"/><polygon points="175.3,111.4 178.0,110.3 175.6,109.1 172.9,110.2" stroke="#f9fb2a"/><polygon points="157.1,112.1 159.8,111.0 157.3,109.8 154.6,110.9" stroke="#f9fb2a"/><polygon points="198.8,110.8 201.5,109.7 199.0,108.5 196.3,109.6" stroke="#f9fb2a"/><polygon points="180.5,111.5 183.2,110.4 180.7,109.2 178.0,110.3" stroke="#f9fb2a"/><polygon points="162.3,112.2 165.0,111.1 162.5,109.9 159.8,111.0" stroke="#f9fb2a"/><polygon points="204.0,110.9 206.7,109.8 204.2,108.6 201.5,109.7" stroke="#f9fb2a"/><polygon points="185.7,111.6 188.4,110.5 185.9,109.3 183.2,110.4" stroke="#f9fb2a"/><polygon points="167.5,112.3 170.2,111.2 167.7,110.1 165.0,111.1" stroke="#f9fb2a"/><polygon points="209.2,111.0 211.9,109.9 209.4,108.8 206.7,109.8" stroke="#f9fb2a"/><polygon points="190.9,111.7 193.6,110.7 191.1,109.5 188.4,110.5" stroke="#f9fb2a"/><polygon points="172.7,112.4 175.3,111.4 172.9,110.2 170.2,111.2" stroke="#f9fb2a"/><polygon points="154.4,113.1 157.1,112.1 154.6,110.9 151.9,112.0" stroke="#f9fb2a"/><polygon points="196.1,111.8 198.8,110.8 196.3,109.6 193.6,110.7" stroke="#f9fb2a"/><polygon points="177.8,112.6 180.5,111.5 178.0,110.3 175.3,111.4" stroke="#f9fb2a"/><polygon points="159.6,113.3 162.3,112.2 159.8,111.0 157.1,112.1" stroke="#f9fb2a"/><polygon points="201.3,112.0 204.0,110.9 201.5,109.7 198.8,110.8" stroke="#f9fb2a"/><polygon points="183.0,112.7 185.7,111.6 183.2,110.4 180.5,111.5" stroke="#f9fb2a"/><polygon points="164.8,113.4 167.5,112.3 165.0,111.1 162.3,112.2" stroke="#f9fb2a"/><polygon points="206.5,112.1 209.2,111.0 206.7,109.8 204.0,110.9" stroke="#f9fb2a"/><polygon points="188.2,112.8 190.9,111.7 188.4,110.5 185.7,111.6" stroke="#f9fb2a"/><polygon points="170.0,113.5 172.7,112.4 170.2,111.2 167.5,112.3" stroke="#f9fb2a"/><polygon points="193.4,112.9 196.1,111.8 193.6,110.7 190.9,111.7" stroke="#f9fb2a"/><polygon points="175.1,113.6 177.8,112.6 175.3,111.4 172.7,112.4" stroke="#f9fb2a"/><polygon points="156.9,114.3 159.6,113.3 157.1,112.1 154.4,113.1" stroke="#f9fb2a"/><polygon points="198.6,113.0 201.3,112.0 198.8,110.8 196.1,111.8" stroke="#f9fb2a"/><polygon points="180.3,113.7 183.0,112.7 180.5,111.5 177.8,112.6" stroke="#f9fb2a"/><polygon points="162.1,114.4 164.8,113.4 162.3,112.2 159.6,113.3" stroke="#f9fb2a"/><polygon points="203.8,113.2 206.5,112.1 204.0,110.9 201.3,112.0" stroke="#f9fb2a"/><polygon points="185.5,113.9 188.2,112.8 185.7,111.6 183.0,112.7" stroke="#f9fb2a"/><polygon points="167.3,114.6 170.0,113.5 167.5,112.3 164.8,113.4" stroke="#f9fb2a"/><polygon points="190.7,114.0 193.4,112.9 190.9,111.7 188.2,112.8" stroke="#f9fb2a"/><polygon points="172.4,114.7 175.1,113.6 172.7,112.4 170.0,113.5" stroke="#f9fb2a"/><polygon points="195.9,114.1 198.6,113.0 196.1,111.8 193.4,112.9" stroke="#f9fb2a"/><polygon points="177.6,114.8 180.3,113.7 177.8,112.6 175.1,113.6" stroke="#f9fb2a"/><polygon points="159.4,115.5 162.1,114.4 159.6,113.3 156.9,114.3" stroke="#f9fb2a"/><polygon points="201.1,114.2 203.8,113.2 201.3,112.0 198.6,113.0" stroke="#f9fb2a"/><polygon points="182.8,114.9 185.5,113.9 183.0,112.7 180.3,113.7" stroke="#f9fb2a"/><polygon points="164.6,115.6 167.3,114.6 164.8,113.4 162.1,114.4" stroke="#f9fb2a"/><polygon points="188.0,115.1 190.7,114.0 188.2,112.8 185.5,113.9" stroke="#f9fb2a"/><polygon points="169.7,115.8 172.4,114.7 170.0,113.5 167.3,114.6" stroke="#f9fb2a"/><polygon points="193.2,115.2 195.9,114.1 193.4,112.9 190.7,114.0" stroke="#f9fb2a"/><polygon points="174.9,115.9 177.6,114.8 175.1,113.6 172.4,114.7" stroke="#f9fb2a"/><polygon points="198.4,115.3 201.1,114.2 198.6,113.0 195.9,114.1" stroke="#f9fb2a"/><polygon points="180.1,116.0 182.8,114.9 180.3,113.7 177.6,114.8" stroke="#f9fb2a"/><polygon points="161.9,116.7 164.6,115.6 162.1,114.4 159.4,115.5" stroke="#f9fb2a"/><polygon points="185.3,116.1 188.0,115.1 185.5,113.9 182.8,114.9" stroke="#f9fb2a"/><polygon points="167.1,116.8 169.7,115.8 167.3,114.6 164.6,115.6" stroke="#f9fb2a"/><polygon points="190.5,116.2 193.2,115.2 190.7,114.0 188.0,115.1" stroke="#f9fb2a"/><polygon points="172.2,116.9 174.9,115.9 172.4,114.7 169.7,115.8" stroke="#f9fb2a"/><polygon points="195.7,116.4 198.4,115.3 195.9,114.1 193.2,115.2" stroke="#f9fb2a"/><polygon points="177.4,117.1 180.1,116.0 177.6,114.8 174.9,115.9" stroke="#f9fb2a"/><polygon points="182.6,117.2 185.3,116.1 182.8,114.9 180.1,116.0" stroke="#f9fb2a"/><polygon points="164.4,117.9 167.1,116.8 164.6,115.6 161.9,116.7" stroke="#f9fb2a"/><polygon points="187.8,117.3 190.5,116.2 188.0,115.1 185.3,116.1" stroke="#f9fb2a"/><polygon points="169.5,118.0 172.2,116.9 169.7,115.8 167.1,116.8" stroke="#f9fb2a"/><polygon points="193.0,117.4 195.7,116.4 193.2,115.2 190.5,116.2" stroke="#f9fb2a"/><polygon points="174.7,118.1 177.4,117.1 174.9,115.9 172.2,116.9" stroke="#f9fb2a"/><polygon points="179.9,118.3 182.6,117.2 180.1,116.0 177.4,117.1" stroke="#f9fb2a"/><polygon points="185.1,118.4 187.8,117.3 185.3,116.1 182.6,117.2" stroke="#f9fb2a"/><polygon points="166.8,119.1 169.5,118.0 167.1,116.8 164.4,117.9" stroke="#f9fb2a"/><polygon points="190.3,118.5 193.0,117.4 190.5,116.2 187.8,117.3" stroke="#f9fb2a"/><polygon points="172.0,119.2 174.7,118.1 172.2,116.9 169.5,118.0" stroke="#f9fb2a"/><polygon points="177.2,119.3 179.9,118.3 177.4,117.1 174.7,118.1" stroke="#f9fb2a"/><polygon points="182.4,119.4 185.1,118.4 182.6,117.2 179.9,118.3" stroke="#f9fb2a"/><polygon points="187.6,119.6 190.3,118.5 187.8,117.3 185.1,118.4" stroke="#f9fb2a"/><polygon points="169.3,120.3 172.0,119.2 169.5,118.0 166.8,119.1" stroke="#f9fb2a"/><polygon points="174.5,120.4 177.2,119.3 174.7,118.1 172.0,119.2" stroke="#f9fb2a"/><polygon points="179.7,120.5 182.4,119.4 179.9,118.3 177.2,119.3" stroke="#f9fb2a"/><polygon points="184.9,120.6 187.6,119.6 185.1,118.4 182.4,119.4" stroke="#f9fb2a"/><polygon points="171.8,121.5 174.5,120.4 172.0,119.2 169.3,120.3" stroke="#f9fb2a"/><polygon points="177.0,121.6 179.7,120.5 177.2,119.3 174.5,120.4" stroke="#f9fb2a"/><polygon points="182.2,121.7 184.9,120.6 182.4,119.4 179.7,120.5" stroke="#f9fb2a"/><polygon points="174.3,122.7 177.0,121.6 174.5,120.4 171.8,121.5" stroke="#f9fb2a"/><polygon points="179.5,122.8 182.2,121.7 179.7,120.5 177.0,121.6" stroke="#f9fb2a"/><polygon points="176.8,123.8 179.5,122.8 177.0,121.6 174.3,122.7" stroke="#f9fb2a"/></g>
<text x="31.6" y="89.6" text-anchor="middle" style="font-family:'Liberation Sans', sans-serif;font-size:11.5px;fill:#1a1a1a">0</text>
<text x="29.4" y="125.6" text-anchor="middle" style="font-family:'Liberation Sans', sans-serif;font-size:11.5px;fill:#1a1a1a">-5</text>
<text x="26.4" y="161.2" text-anchor="middle" style="font-family:'Liberation Sans', sans-serif;font-size:11.5px;fill:#1a1a1a">-10</text>
<text x="31.2" y="174.5" text-anchor="middle" style="font-family:'Liberation Sans', sans-serif;font-size:11.5px;fill:#1a1a1a">1</text>
<text x="93.9" y="206" text-anchor="middle" style="font-family:'Liberation Sans', sans-serif;font-size:11.5px;fill:#1a1a1a">0.5</text>
<text x="166" y="238.3" text-anchor="middle" style="font-family:'Liberation Sans', sans-serif;font-size:11.5px;fill:#1a1a1a">0</text>
<text x="186.9" y="238.4" text-anchor="middle" style="font-family:'Liberation Sans', sans-serif;font-size:11.5px;fill:#1a1a1a">0</text>
<text x="264.6" y="209" text-anchor="middle" style="font-family:'Liberation Sans', sans-serif;font-size:11.5px;fill:#1a1a1a">0.5</text>
<text x="332.6" y="180" text-anchor="middle" style="font-family:'Liberation Sans', sans-serif;font-size:11.5px;fill:#1a1a1a">1</text>
<text x="96.6" y="237.1" style="font-family:'Liberation Serif', serif;font-style:italic;font-size:13px;fill:#1a1a1a">x<tspan dy="2.5" font-size="9px" font-style="normal">2</tspan></text>
<text x="248.2" y="238.1" style="font-family:'Liberation Serif', serif;font-style:italic;font-size:13px;fill:#1a1a1a">x<tspan dy="2.5" font-size="9px" font-style="normal">1</tspan></text>
<text transform="translate(12.2,123.5) rotate(-90)" textLength="24" lengthAdjust="spacingAndGlyphs" style="font-family:'Liberation Serif', serif;font-style:italic;font-size:13px;fill:#1a1a1a;font-size:14px">f<tspan font-style="normal">(</tspan>x<tspan font-style="normal">)</tspan></text>
<line x1="364.1" y1="13" x2="364.1" y2="202.7" stroke="#555" stroke-width="1.2"/>
<line x1="363.5" y1="202.1" x2="683.8" y2="202.1" stroke="#555" stroke-width="1.2"/>
<line x1="361.6" y1="32.5" x2="364" y2="32.5" stroke="#555" stroke-width="0.9"/>
<text x="361" y="34.8" text-anchor="end" style="font-family:'Liberation Sans', sans-serif;font-size:6.3px;fill:#222">0.20</text>
<line x1="361.6" y1="86.0" x2="364" y2="86.0" stroke="#555" stroke-width="0.9"/>
<text x="361" y="88.3" text-anchor="end" style="font-family:'Liberation Sans', sans-serif;font-size:6.3px;fill:#222">0.15</text>
<line x1="361.6" y1="139.6" x2="364" y2="139.6" stroke="#555" stroke-width="0.9"/>
<text x="361" y="141.9" text-anchor="end" style="font-family:'Liberation Sans', sans-serif;font-size:6.3px;fill:#222">0.10</text>
<line x1="361.6" y1="193.2" x2="364" y2="193.2" stroke="#555" stroke-width="0.9"/>
<text x="361" y="195.5" text-anchor="end" style="font-family:'Liberation Sans', sans-serif;font-size:6.3px;fill:#222">0.05</text>
<line x1="377.8" y1="202.6" x2="377.8" y2="205" stroke="#555" stroke-width="0.9"/>
<text transform="translate(380.0,209.5) rotate(-90)" text-anchor="middle" style="font-family:'Liberation Sans', sans-serif;font-size:6.3px;fill:#222">0</text>
<line x1="438.5" y1="202.6" x2="438.5" y2="205" stroke="#555" stroke-width="0.9"/>
<text transform="translate(440.7,209.5) rotate(-90)" text-anchor="middle" style="font-family:'Liberation Sans', sans-serif;font-size:6.3px;fill:#222">100</text>
<line x1="499.3" y1="202.6" x2="499.3" y2="205" stroke="#555" stroke-width="0.9"/>
<text transform="translate(501.5,209.5) rotate(-90)" text-anchor="middle" style="font-family:'Liberation Sans', sans-serif;font-size:6.3px;fill:#222">200</text>
<line x1="560.0" y1="202.6" x2="560.0" y2="205" stroke="#555" stroke-width="0.9"/>
<text transform="translate(562.2,209.5) rotate(-90)" text-anchor="middle" style="font-family:'Liberation Sans', sans-serif;font-size:6.3px;fill:#222">300</text>
<line x1="620.8" y1="202.6" x2="620.8" y2="205" stroke="#555" stroke-width="0.9"/>
<text transform="translate(623.0,209.5) rotate(-90)" text-anchor="middle" style="font-family:'Liberation Sans', sans-serif;font-size:6.3px;fill:#222">400</text>
<line x1="681.5" y1="202.6" x2="681.5" y2="205" stroke="#555" stroke-width="0.9"/>
<text transform="translate(683.7,209.5) rotate(-90)" text-anchor="middle" style="font-family:'Liberation Sans', sans-serif;font-size:6.3px;fill:#222">500</text>
<text x="516" y="223" style="font-family:'Liberation Sans', sans-serif;font-size:8.5px;fill:#111">step</text>
<text transform="translate(348.3,108) rotate(-90)" text-anchor="middle" style="font-family:'Liberation Sans', sans-serif;font-size:8.4px;fill:#111">error rate</text>
<polyline points="378.4,29.3 379.4,33.7 380.9,32.2 382.3,36.6 383.8,39.5 385.2,43.8 385.9,49.6 387.4,52.5 388.8,55.4 390.3,57.6 391.7,58.3 393.2,61.2 394.6,63.4 396.1,65.6 396.8,67.0 398.3,71.4 399.0,74.3 401.9,75.0 404.1,78.6 405.5,83.0 407.0,83.0 408.4,80.1 410.6,76.4 411.3,77.2 412.8,80.1 413.5,83.0 414.2,97.5 414.2,100.4 414.2,100.8 414.9,109.5 417.1,110.2 419.3,109.5 420.0,107.3 420.7,105.1 422.2,105.9 423.6,106.6 425.8,108.0 426.5,106.6 427.2,105.1 428.7,105.9 430.9,105.9 432.3,103.7 433.8,100.8 434.5,99.3 435.9,100.8 438.1,102.2 438.4,109.5 438.8,115.3 440.0,120.5 442.2,122.0 443.6,120.5 444.4,118.4 444.8,112.5 445.1,106.7 445.8,105.2 448.0,105.9 449.5,106.7 451.7,107.4 453.1,109.6 454.6,110.3 456.1,114.7 456.8,108.9 457.5,105.9 459.0,106.7 460.4,111.1 461.9,114.0 462.6,105.9 463.4,103.8 465.5,105.2 468.5,103.8 469.2,116.9 471.4,119.8 473.6,122.0 475.0,114.0 477.2,112.5 479.4,113.2 481.6,109.6 483.8,111.1 486.0,114.0 488.2,121.3 490.4,122.0 492.6,124.2 494.0,126.4 495.5,127.1 498.4,127.8 500.6,129.3 502.8,130.0 505.0,134.4 506.4,141.7 508.6,143.2 510.8,141.7 511.5,134.4 513.0,132.2 515.9,132.2 517.4,137.3 518.8,138.8 521.8,137.3 523.2,128.6 523.9,121.3 526.1,124.2 529.1,130.0 532.0,133.0 534.9,134.4 537.8,135.9 540.9,134.4 541.7,138.8 543.9,140.3 546.1,135.9 547.5,134.4 549.7,135.1 551.9,136.6 553.4,138.8 554.8,140.3 557.0,141.7 559.2,141.0 560.7,138.8 562.8,139.5 565.0,140.3 567.2,141.7 569.4,141.7 571.6,143.9 573.8,146.1 576.7,146.1 579.6,146.8 582.6,146.8 583.3,144.6 584.7,138.8 586.2,140.3 587.7,141.7 589.9,141.7 592.8,143.2 595.0,141.7 596.4,133.0 597.2,132.2 598.6,135.1 600.1,137.3 602.2,145.0 604.4,146.5 607.3,147.2 608.0,128.4 610.2,131.3 611.6,134.2 612.3,145.0 613.1,146.5 614.5,148.7 616.7,150.1 618.9,148.7 620.3,147.2 621.8,146.5 624.7,145.0 626.8,145.8 629.0,147.2 631.2,148.7 632.6,150.1 634.8,150.8 637.7,151.6 639.9,152.3 642.1,152.3 643.5,151.6 645.7,150.8 647.9,150.1 650.0,149.4 650.8,147.9 652.9,145.8 654.4,146.5 655.8,149.4 658.0,153.0 659.5,154.5 661.6,153.7 662.4,152.3 663.1,150.1 663.8,147.2 666.0,145.8 667.4,148.7 668.9,151.6 669.6,154.5" fill="none" stroke="#f2b3d9" stroke-width="1.35" stroke-linejoin="round" stroke-dasharray="4,3.6"/>
<polyline points="378.4,46.7 379.0,42.4 379.6,48.2 380.4,50.4 381.6,48.9 383.0,46.7 384.5,48.2 385.9,50.4 387.4,52.5 389.6,58.3 391.7,62.7 393.9,66.3 396.1,71.4 396.8,74.3 397.1,83.0 397.5,94.6 397.7,100.4 398.0,103.7 398.3,108.0 399.7,110.9 401.2,112.4 401.9,116.7 404.1,120.4 405.5,124.7 407.7,127.6 410.6,129.8 412.0,131.2 413.5,129.8 413.9,124.0 414.2,116.7 414.6,111.7 416.4,110.9 418.6,112.4 420.0,113.8 421.4,118.2 422.9,121.1 424.3,121.8 425.1,122.5 425.8,120.4 426.5,113.1 428.0,113.1 428.7,113.8 429.4,119.6 430.9,121.1 432.3,124.7 434.5,126.2 437.4,129.8 438.1,127.6 438.8,122.5 440.0,123.5 442.2,124.9 443.6,127.8 445.1,126.4 446.6,127.8 448.8,130.8 450.2,133.7 451.7,132.2 453.9,132.2 456.1,133.7 458.2,135.1 460.4,138.8 462.6,137.3 464.1,135.1 465.5,136.6 468.5,138.8 469.2,135.9 470.7,135.1 472.1,135.9 474.3,134.4 475.8,135.1 478.0,138.1 480.1,139.5 483.8,143.2 486.7,144.6 488.2,141.0 490.4,141.7 492.6,145.4 494.0,147.6 496.2,150.5 498.4,151.9 499.1,149.0 499.9,143.2 501.3,142.4 504.2,143.2 505.0,140.3 505.7,134.4 507.9,135.1 510.1,135.9 511.5,138.8 513.7,140.3 515.2,142.4 517.4,143.9 519.6,145.4 521.8,146.8 523.9,146.1 526.1,147.6 528.3,150.5 529.8,148.3 531.2,146.8 534.2,146.8 535.6,146.1 536.4,140.3 537.8,141.7 541.7,146.8 544.6,147.6 546.1,149.7 547.5,149.7 548.2,143.9 550.4,143.2 551.9,143.2 553.4,146.1 555.5,149.0 558.5,149.7 560.7,149.7 562.8,149.7 564.3,151.2 565.8,153.4 568.0,154.1 570.9,154.9 571.6,153.4 572.3,148.3 573.8,149.0 576.7,151.2 578.9,149.7 580.4,149.0 582.6,151.2 584.0,153.4 586.2,156.3 588.4,157.8 591.3,159.2 594.2,160.7 597.2,162.2 599.3,163.6 602.2,161.7 602.2,154.5 604.4,155.2 606.5,156.6 608.0,158.8 610.9,162.4 613.1,163.2 615.2,161.7 617.4,161.0 619.6,161.7 621.8,163.2 624.7,163.9 626.8,158.1 629.0,158.1 631.9,157.4 634.1,158.1 636.3,158.8 638.4,162.4 639.9,164.6 642.1,165.4 645.0,166.1 646.4,163.9 648.6,163.2 650.8,163.9 652.2,164.6 655.1,165.4 657.3,164.6 659.5,163.9 661.6,164.6 662.4,169.0 663.1,171.2 665.3,174.1 668.2,174.8" fill="none" stroke="#4daf4a" stroke-width="1.4" stroke-linejoin="round" stroke-dasharray="4,3.6"/>
<polyline points="378.4,29.3 379.0,31.5 379.6,28.6 380.1,32.2 380.9,29.3 381.6,31.5 382.3,30.1 383.0,33.7 383.8,30.8 384.5,29.3 385.2,33.0 385.9,30.8 386.7,33.7 387.4,31.5 388.1,30.1 388.8,33.7 390.3,42.4 393.2,45.3 395.4,48.2 396.8,53.3 398.3,54.7 400.4,54.0 401.9,51.8 404.8,49.6 407.7,48.9 410.6,48.9 412.0,51.1 413.5,54.0 416.4,55.4 419.3,57.6 422.2,61.2 425.1,59.8 428.0,59.5 430.1,59.1 431.6,54.7 433.0,60.5 435.2,62.7 438.1,65.6 439.3,75.0 440.0,77.6 442.2,76.8 443.6,79.0 445.8,79.7 448.0,80.5 449.5,79.7 450.5,75.4 451.7,77.6 453.9,80.5 455.3,82.7 456.8,80.5 459.0,80.5 461.9,79.7 462.6,67.3 464.1,68.8 465.5,70.3 467.0,71.7 467.7,73.2 468.5,80.5 469.2,89.2 470.7,89.2 472.1,90.7 473.6,89.2 474.3,93.6 475.0,99.5 476.5,100.2 478.7,100.2 480.1,100.2 481.6,95.1 483.1,94.3 484.5,96.5 486.0,96.5 487.4,98.0 488.9,97.3 490.4,98.7 491.8,98.7 493.3,99.5 495.5,100.2 497.7,100.9 499.9,100.9 502.0,103.1 503.5,104.6 504.2,105.2 505.0,106.7 505.4,109.6 505.7,116.9 506.4,118.4 508.6,119.1 511.5,119.1 514.5,118.4 515.9,117.6 516.6,119.1 517.4,112.5 517.7,108.9 518.8,109.6 521.0,110.3 522.5,111.1 523.2,116.9 523.9,121.3 526.1,122.7 528.3,124.9 529.3,127.8 530.5,129.3 533.4,129.3 534.9,129.6 535.6,109.6 535.9,129.7 534.4,129.3 535.5,129.3 535.8,108.9 537.3,109.6 541.7,110.3 546.8,111.8 547.5,121.3 550.4,124.2 553.4,125.7 554.1,119.1 557.0,118.4 559.2,119.1 559.9,127.1 562.1,130.0 565.0,133.7 568.0,135.9 570.9,137.3 573.8,138.8 576.7,139.5 579.6,141.0 582.6,141.7 584.0,139.5 584.7,132.2 586.2,134.4 588.4,137.3 589.9,139.5 592.8,141.0 595.7,141.7 597.2,138.8 598.6,138.1 601.5,137.8 602.9,138.5 605.8,138.5 608.0,137.8 608.7,139.2 611.6,140.7 613.8,141.4 614.5,138.5 616.0,140.0 618.9,141.4 621.8,142.1 624.7,142.9 627.6,144.3 630.5,145.8 632.2,146.5 633.4,137.1 635.5,138.5 639.2,139.2 643.5,140.0 645.0,134.2 646.4,136.3 649.3,138.5 651.5,141.4 652.9,142.9 655.1,142.9 657.3,145.8 658.7,147.9 660.9,147.9 662.1,147.9 662.7,139.2 664.5,138.5 667.4,139.2 668.9,140.7 669.3,143.6" fill="none" stroke="#f2b3d9" stroke-width="1.2" stroke-linejoin="round"/>
<polyline points="378.4,46.7 379.4,42.4 380.1,49.6 381.6,48.2 383.0,46.7 384.5,47.5 385.9,43.1 388.1,40.2 389.1,38.3 390.3,40.9 391.7,42.4 392.5,43.8 394.6,46.7 396.8,48.2 398.3,46.0 400.1,44.6 401.2,46.7 401.9,51.1 403.3,53.3 404.8,54.0 406.2,51.8 407.4,54.0 409.1,54.7 412.0,55.4 413.5,56.2 414.2,61.2 414.6,68.5 416.4,69.2 417.8,69.9 420.0,71.4 420.7,84.4 422.2,83.7 424.8,83.0 425.8,82.2 426.5,88.8 429.4,90.2 431.6,89.5 432.6,88.8 433.0,94.6 435.2,96.0 438.1,96.7 440.0,98.6 442.9,99.4 445.8,101.6 448.0,103.0 450.2,104.1 451.7,102.3 454.6,102.0 456.1,101.6 456.8,97.9 459.0,97.2 461.6,96.5 462.6,99.4 465.5,100.1 469.2,100.8 471.4,101.6 473.6,100.5 475.8,100.8 478.7,100.1 482.3,98.6 483.8,100.1 486.7,101.6 489.6,102.3 491.8,103.8 494.0,105.2 496.9,105.9 499.9,106.4 502.8,107.4 505.0,108.1 507.2,108.9 510.1,108.9 513.0,109.6 515.2,110.3 517.4,110.3 519.6,108.9 521.8,108.9 524.7,109.2 527.6,108.9 534.4,109.6 538.8,110.3 544.6,111.1 549.0,111.1 553.4,111.1 554.1,109.6 558.5,110.3 559.9,108.9 560.2,101.6 563.6,102.3 565.0,103.0 565.8,106.7 568.7,108.1 572.3,108.1 573.8,108.9 578.2,109.6 582.6,110.3 586.9,111.8 591.3,113.2 595.7,114.0 600.1,114.0 602.9,114.6 607.3,116.0 611.6,117.5 614.5,118.9 617.4,120.4 620.3,120.4 623.2,121.1 626.1,121.8 629.0,122.6 632.6,123.3 634.8,123.3 637.7,124.7 640.6,125.5 643.5,125.5 646.4,126.2 649.3,126.9 652.2,128.4 655.1,129.8 658.0,131.3 660.9,133.0 662.4,133.4 663.8,132.7 666.7,132.7 669.3,133.4" fill="none" stroke="#4daf4a" stroke-width="1.3" stroke-linejoin="round"/>
<text x="383.2" y="242.7" style="font-family:'Liberation Sans', sans-serif;font-size:7.5px;fill:#111">model</text>
<line x1="410.2" y1="239.8" x2="435" y2="239.8" stroke="#4daf4a" stroke-width="1.2"/>
<text x="441.6" y="242.7" style="font-family:'Liberation Sans', sans-serif;font-size:7.5px;fill:#111">Cl−GP</text>
<line x1="469.3" y1="239.8" x2="493.4" y2="239.8" stroke="#f2b3d9" stroke-width="1.2"/>
<text x="500.4" y="242.7" style="font-family:'Liberation Sans', sans-serif;font-size:7.5px;fill:#111">t−GP</text>
<text x="530.8" y="242.7" style="font-family:'Liberation Sans', sans-serif;font-size:7.5px;fill:#111">design</text>
<line x1="559.6" y1="239.8" x2="582.9" y2="239.8" stroke="#000" stroke-width="1.2" stroke-dasharray="4.2,2.8"/>
<text x="591.1" y="242.7" style="font-family:'Liberation Sans', sans-serif;font-size:7.5px;fill:#111">cUCB</text>
<line x1="618" y1="239.8" x2="641.8" y2="239.8" stroke="#000" stroke-width="1.2"/>
<text x="648.8" y="242.7" style="font-family:'Liberation Sans', sans-serif;font-size:7.5px;fill:#111">SUR</text>
<rect x="42.4" y="286.5" width="280.6" height="216.9" fill="none" stroke="#262626" stroke-width="1"/>
<line x1="98.5" y1="503.4" x2="98.5" y2="500.59999999999997" stroke="#262626" stroke-width="0.8"/>
<line x1="98.5" y1="286.5" x2="98.5" y2="289.3" stroke="#262626" stroke-width="0.8"/>
<line x1="42.4" y1="460.0" x2="45.199999999999996" y2="460.0" stroke="#262626" stroke-width="0.8"/>
<line x1="323.0" y1="460.0" x2="320.2" y2="460.0" stroke="#262626" stroke-width="0.8"/>
<line x1="154.6" y1="503.4" x2="154.6" y2="500.59999999999997" stroke="#262626" stroke-width="0.8"/>
<line x1="154.6" y1="286.5" x2="154.6" y2="289.3" stroke="#262626" stroke-width="0.8"/>
<line x1="42.4" y1="416.6" x2="45.199999999999996" y2="416.6" stroke="#262626" stroke-width="0.8"/>
<line x1="323.0" y1="416.6" x2="320.2" y2="416.6" stroke="#262626" stroke-width="0.8"/>
<line x1="210.8" y1="503.4" x2="210.8" y2="500.59999999999997" stroke="#262626" stroke-width="0.8"/>
<line x1="210.8" y1="286.5" x2="210.8" y2="289.3" stroke="#262626" stroke-width="0.8"/>
<line x1="42.4" y1="373.3" x2="45.199999999999996" y2="373.3" stroke="#262626" stroke-width="0.8"/>
<line x1="323.0" y1="373.3" x2="320.2" y2="373.3" stroke="#262626" stroke-width="0.8"/>
<line x1="266.9" y1="503.4" x2="266.9" y2="500.59999999999997" stroke="#262626" stroke-width="0.8"/>
<line x1="266.9" y1="286.5" x2="266.9" y2="289.3" stroke="#262626" stroke-width="0.8"/>
<line x1="42.4" y1="329.9" x2="45.199999999999996" y2="329.9" stroke="#262626" stroke-width="0.8"/>
<line x1="323.0" y1="329.9" x2="320.2" y2="329.9" stroke="#262626" stroke-width="0.8"/>
<text x="42.4" y="519.6" text-anchor="middle" style="font-family:'Liberation Sans', sans-serif;font-size:11.5px;fill:#1a1a1a">0</text>
<text x="38.4" y="507.5" text-anchor="end" style="font-family:'Liberation Sans', sans-serif;font-size:11.5px;fill:#1a1a1a">0</text>
<text x="98.5" y="519.6" text-anchor="middle" style="font-family:'Liberation Sans', sans-serif;font-size:11.5px;fill:#1a1a1a">0.2</text>
<text x="38.4" y="464.1" text-anchor="end" style="font-family:'Liberation Sans', sans-serif;font-size:11.5px;fill:#1a1a1a">0.2</text>
<text x="154.6" y="519.6" text-anchor="middle" style="font-family:'Liberation Sans', sans-serif;font-size:11.5px;fill:#1a1a1a">0.4</text>
<text x="38.4" y="420.7" text-anchor="end" style="font-family:'Liberation Sans', sans-serif;font-size:11.5px;fill:#1a1a1a">0.4</text>
<text x="210.8" y="519.6" text-anchor="middle" style="font-family:'Liberation Sans', sans-serif;font-size:11.5px;fill:#1a1a1a">0.6</text>
<text x="38.4" y="377.4" text-anchor="end" style="font-family:'Liberation Sans', sans-serif;font-size:11.5px;fill:#1a1a1a">0.6</text>
<text x="266.9" y="519.6" text-anchor="middle" style="font-family:'Liberation Sans', sans-serif;font-size:11.5px;fill:#1a1a1a">0.8</text>
<text x="38.4" y="334.0" text-anchor="end" style="font-family:'Liberation Sans', sans-serif;font-size:11.5px;fill:#1a1a1a">0.8</text>
<text x="323.0" y="519.6" text-anchor="middle" style="font-family:'Liberation Sans', sans-serif;font-size:11.5px;fill:#1a1a1a">1</text>
<text x="38.4" y="290.6" text-anchor="end" style="font-family:'Liberation Sans', sans-serif;font-size:11.5px;fill:#1a1a1a">1</text>
<text x="176.8" y="531.8" style="font-family:'Liberation Serif', serif;font-style:italic;font-size:13px;fill:#1a1a1a">x<tspan dy="2.5" font-size="9px" font-style="normal">1</tspan></text>
<text transform="translate(15.9,401.4) rotate(-90)" style="font-family:'Liberation Serif', serif;font-style:italic;font-size:13px;fill:#1a1a1a;font-size:14px">x<tspan dy="2.7" font-size="9.5px" font-style="normal">2</tspan></text>
<clipPath id="clipc"><rect x="42.4" y="286.5" width="280.6" height="216.9"/></clipPath><g clip-path="url(#clipc)">
<polyline points="40.0,389.7 40.9,389.5 47.6,388.0 55.2,385.2 62.8,382.9 70.4,381.4 78.0,381.4 85.5,382.3 93.1,384.2 100.7,385.6 108.3,386.1 115.9,385.6 123.5,385.2 131.1,384.8 138.7,384.8 146.3,385.2 153.9,387.1 159.5,389.9 163.7,393.1 163.3,395.6 159.5,398.5 153.9,401.3 146.3,403.8 138.7,405.1 131.1,405.3 123.5,404.9 115.9,404.5 108.3,404.2 100.7,403.8 93.1,403.4 85.5,402.6 78.0,401.9 70.4,401.3 62.8,401.9 55.2,403.2 47.6,404.7 40.9,406.4 40.0,406.6" fill="none" stroke="#ff0000" stroke-width="1.5" stroke-linejoin="round"/>
<polyline points="223.7,286.5 225.8,294.3 225.8,302.4 223.7,309.6 220.7,316.7 219.6,322.9 221.7,328.0 226.8,332.1 233.9,334.1 241.1,334.1 248.2,332.1 255.4,329.0 260.5,323.9 262.6,318.8 259.5,312.7 253.4,307.5 249.3,301.4 248.2,294.3 247.8,286.5" fill="none" stroke="#ff0000" stroke-width="1.5" stroke-linejoin="round"/>
<polyline points="250.4,313.2 250.3,314.5 250.0,315.7 249.4,316.9 248.7,318.0 247.8,318.9 246.7,319.8 245.5,320.4 244.2,320.9 242.8,321.2 241.4,321.3 240.0,321.2 238.6,320.9 237.3,320.4 236.1,319.8 235.0,318.9 234.1,318.0 233.4,316.9 232.8,315.7 232.5,314.5 232.4,313.2 232.5,311.9 232.8,310.7 233.4,309.5 234.1,308.4 235.0,307.5 236.1,306.6 237.3,306.0 238.6,305.5 240.0,305.2 241.4,305.1 242.8,305.2 244.2,305.5 245.5,306.0 246.7,306.6 247.8,307.5 248.7,308.4 249.4,309.5 250.0,310.7 250.3,311.9 250.4,313.2" fill="none" stroke="#ff0000" stroke-width="1.7" stroke-linejoin="round" stroke-dasharray="4.5,1.6,1.4,1.6"/>
<polyline points="268.2,367.6 268.0,368.5 267.6,369.3 266.9,370.0 265.9,370.5 264.8,370.9 263.6,371.0 262.4,370.9 261.3,370.5 260.3,370.0 259.6,369.3 259.2,368.5 259.0,367.6 259.2,366.7 259.6,365.9 260.3,365.2 261.3,364.7 262.4,364.3 263.6,364.2 264.8,364.3 265.9,364.7 266.9,365.2 267.6,365.9 268.0,366.7 268.2,367.6" fill="none" stroke="#ff0000" stroke-width="1.7" stroke-linejoin="round" stroke-dasharray="4.5,1.6,1.4,1.6"/>
<polyline points="239.0,380.4 230.9,382.5 222.7,386.6 217.6,392.7 217.6,400.9 221.7,409.0 227.8,414.2 233.9,418.2 240.1,420.3 246.2,418.2 251.3,413.1 257.4,409.0 263.6,405.0 268.7,399.9 269.7,392.7 266.6,386.6 260.5,382.5 251.3,380.4 243.1,380.0 239.0,380.4" fill="none" stroke="#ff0000" stroke-width="1.7" stroke-linejoin="round" stroke-dasharray="4.5,1.6,1.4,1.6"/>
<polyline points="226.7,503.4 226.7,500.2 226.7,487.2 226.1,474.1 225.6,462.0 225.4,447.4 227.8,443.8 230.9,437.7 230.9,430.5 227.8,423.4 223.7,417.2 218.6,412.1 212.5,407.0 204.3,402.9 199.2,399.9 198.2,394.7 202.3,386.6 210.4,380.4 216.6,376.3 222.7,371.2 227.8,366.1 232.9,362.0 238.0,361.0 242.1,363.1 245.2,368.2 248.2,374.3 252.3,378.4 259.5,381.5 267.7,382.5 275.8,384.5 284.0,386.6 292.2,388.6 298.3,389.6 304.4,387.6 312.6,385.5 322.8,385.5 323.3,385.5" fill="none" stroke="#ff0000" stroke-width="1.5" stroke-linejoin="round"/>
<polyline points="323.3,405.0 322.8,405.0 312.6,401.9 304.4,400.9 296.3,400.9 288.1,402.9 279.9,405.0 271.7,407.0 263.6,410.1 256.4,415.2 251.3,421.3 246.2,425.4 242.1,431.5 241.1,437.7 244.2,443.8 248.2,449.9 252.2,452.6 256.1,458.5 256.7,463.7 255.4,468.9 253.5,472.8 251.5,478.0 250.8,484.5 252.2,491.1 253.5,498.9 254.1,503.4" fill="none" stroke="#ff0000" stroke-width="1.5" stroke-linejoin="round"/>
<polyline points="42.4,404.3 43.1,404.3 43.8,404.3 44.5,404.3 45.2,404.3 45.9,404.3 46.6,404.3 47.3,404.3 48.0,404.3 48.7,404.3 49.4,404.3 50.1,404.3 50.8,404.3 51.5,404.3 52.2,404.3 52.9,404.3 53.7,404.3 54.4,404.3 55.1,404.3 55.8,404.3 56.5,404.3 57.2,404.3 57.9,404.3 58.6,404.3 59.3,404.3 60.0,404.3 60.7,404.3 61.4,404.3 62.1,404.3 62.8,404.3 63.5,404.3 64.2,404.3 64.9,404.3 65.6,404.3 66.3,404.3 67.0,404.3 67.7,404.3 68.4,404.3 69.1,404.3 69.8,404.3 70.5,404.3 71.2,404.3 71.9,404.3 72.6,404.3 73.3,404.3 74.0,404.3 74.7,404.3 75.5,404.3 76.2,404.3 76.9,404.3 77.6,404.3 78.3,404.3 79.0,404.3 79.7,404.3 80.4,404.3 81.1,404.3 81.8,404.3 82.5,404.3 83.2,404.3 83.9,404.3 84.6,404.3 85.3,404.3 86.0,404.3 86.7,404.3 87.4,404.3 88.1,404.3 88.8,404.3 89.5,404.3 90.2,404.3 90.9,404.3 91.6,404.3 92.3,404.3 93.0,404.3 93.7,404.3 94.4,404.3 95.1,404.3 95.8,404.3 96.6,404.3 97.3,404.3 98.0,404.3 98.7,404.3 99.4,404.3 100.1,404.3 100.8,404.3 101.5,404.3 102.2,404.3 102.9,404.3 103.6,404.3 104.3,404.3 105.0,404.3 105.7,404.3 106.4,404.3 107.1,404.3 107.8,404.3 108.5,404.3 109.2,404.3 109.9,404.3 110.6,404.3 111.3,404.3 112.0,404.3 112.7,404.3 113.4,404.3 114.1,404.3 114.8,404.3 115.5,404.3 116.2,404.3 116.9,404.3 117.6,404.3 118.4,404.3 119.1,404.3 119.8,404.3 120.5,404.3 121.2,404.3 121.9,404.3 122.6,404.3 123.3,404.3 124.0,404.3 124.7,404.3 125.4,404.3 126.1,404.3 126.8,404.3 127.5,404.3 128.2,404.3 128.9,404.3 129.6,404.3 130.3,404.3 131.0,404.3 131.7,404.3 132.4,404.3 133.1,404.3 133.8,404.3 134.5,404.3 135.2,404.3 135.9,404.3 136.6,404.3 137.3,404.3 138.0,404.3 138.7,404.3 139.4,404.3 140.2,404.3 140.9,404.3 141.6,404.3 142.3,404.3 143.0,404.3 143.7,404.3 144.4,404.3 145.1,404.3 145.8,404.3 146.5,404.3 147.2,404.3 147.9,404.3 148.6,404.3 149.3,404.3 150.0,404.3 150.7,404.3 151.4,404.3 152.1,404.3 152.8,404.3 153.5,404.3 154.2,404.3 154.9,404.3 155.6,404.3 156.3,404.3 157.0,404.3 157.7,404.3 158.4,404.3 159.1,404.3 159.8,404.3 160.5,404.3 161.3,404.3 162.0,404.3 162.7,404.3 163.4,404.3 164.1,404.3 164.8,404.3 165.5,404.3 166.2,404.3 166.9,404.3 167.6,404.3 168.3,404.3 169.0,404.3 169.7,404.3 170.4,404.3 171.1,404.3 171.8,404.3 172.5,404.3 173.2,404.3 173.9,404.3 174.6,404.3 175.3,404.3 176.0,404.3 176.7,404.3 177.4,404.3 178.1,404.3 178.8,404.3 179.5,404.3 180.2,404.3 180.9,404.3 181.6,404.3 182.3,404.3 183.1,404.3 183.8,404.4 184.5,404.4 185.2,404.4 185.9,404.4 186.6,404.4 187.3,404.4 188.0,404.4 188.7,404.4 189.4,404.4 190.1,404.4 190.8,404.4 191.5,404.4 192.2,404.4 192.9,404.4 193.6,404.5 193.7,404.5 194.3,404.5 195.0,404.5 195.7,404.5 196.4,404.5 197.1,404.6 197.8,404.6 198.5,404.6 199.2,404.7 199.9,404.7 200.6,404.8 201.3,404.8 202.0,404.9 202.7,404.9 203.4,405.0 203.4,405.0 204.1,405.1 204.9,405.2 205.6,405.3 206.3,405.4 207.0,405.5 207.5,405.6 207.7,405.6 208.4,405.7 209.1,405.9 209.8,406.0 210.1,406.1 210.5,406.2 211.2,406.4 211.9,406.5 212.2,406.6 212.6,406.8 213.3,407.0 213.9,407.2 214.0,407.2 214.7,407.5 215.3,407.7" fill="none" stroke="#000" stroke-width="2.5" stroke-dasharray="10.2,10.49" stroke-dashoffset="0.00"/>
<polyline points="215.3,407.7 215.4,407.8 216.1,408.1 216.4,408.3 216.8,408.5 217.5,408.8 217.5,408.8 218.2,409.2 218.4,409.4 218.9,409.7 219.2,409.9 219.6,410.2 219.9,410.4 220.3,410.8 220.6,411.0 221.0,411.4 221.1,411.5 221.6,412.1 221.7,412.2 222.1,412.6 222.4,413.1 222.5,413.2 222.8,413.7 223.1,414.2 223.1,414.2 223.4,414.8 223.7,415.3 223.8,415.8 223.9,415.9 224.1,416.4 224.2,417.0 224.3,417.5 224.5,418.1 224.5,418.5 224.6,418.6 224.7,419.1 224.7,419.7 224.8,420.2 224.8,420.8 224.9,421.3 224.9,421.9 225.0,422.4 225.0,422.9 225.0,423.5 225.0,424.0 225.0,424.6 225.1,425.1 225.1,425.7 225.1,426.2 225.1,426.8 225.1,427.3 225.1,427.8 225.1,428.4 225.1,428.9 225.1,429.5 225.1,430.0 225.1,430.6 225.1,431.1 225.1,431.6 225.1,432.2 225.1,432.7 225.1,433.3 225.1,433.8 225.1,434.4 225.1,434.9 225.1,435.4 225.1,436.0 225.1,436.5 225.1,437.1 225.1,437.6 225.1,438.2 225.1,438.7 225.1,439.3 225.1,439.8 225.1,440.3 225.1,440.9 225.1,441.4 225.1,442.0 225.1,442.5 225.1,443.1 225.1,443.6 225.1,444.1 225.1,444.7 225.1,445.2 225.1,445.8 225.1,446.3 225.1,446.9 225.1,447.4 225.1,448.0 225.1,448.5 225.1,449.0 225.1,449.6 225.1,450.1 225.1,450.7 225.1,451.2 225.1,451.8 225.1,452.3 225.1,452.8 225.1,453.4 225.1,453.9 225.1,454.5 225.1,455.0 225.1,455.6 225.1,456.1 225.1,456.6 225.1,457.2 225.1,457.7 225.1,458.3 225.1,458.8 225.1,459.4 225.1,459.9 225.1,460.5 225.1,461.0 225.1,461.5 225.1,462.1 225.1,462.6 225.1,463.2 225.1,463.7 225.1,464.3 225.1,464.8 225.1,465.3 225.1,465.9 225.1,466.4 225.1,467.0 225.1,467.5 225.1,468.1 225.1,468.6 225.1,469.2 225.1,469.7 225.1,470.2 225.1,470.8 225.1,471.3 225.1,471.9 225.1,472.4 225.1,473.0 225.1,473.5 225.1,474.0 225.1,474.6 225.1,475.1 225.1,475.7 225.1,476.2 225.1,476.8 225.1,477.3 225.1,477.9 225.1,478.4 225.1,478.9 225.1,479.5 225.1,480.0 225.1,480.6 225.1,481.1 225.1,481.7 225.1,482.2 225.1,482.7 225.1,483.3 225.1,483.8 225.1,484.4 225.1,484.9 225.1,485.5 225.1,486.0 225.1,486.5 225.1,487.1 225.1,487.6 225.1,488.2 225.1,488.7 225.1,489.3 225.1,489.8 225.1,490.4 225.1,490.9 225.1,491.4 225.1,492.0 225.1,492.5 225.1,493.1 225.1,493.6 225.1,494.2 225.1,494.7 225.1,495.2 225.1,495.8 225.1,496.3 225.1,496.9 225.1,497.4 225.1,498.0 225.1,498.5 225.1,499.1 225.1,499.6 225.1,500.1 225.1,500.7 225.1,501.2 225.1,501.8 225.1,502.3 225.1,502.9 225.1,503.4" fill="none" stroke="#000" stroke-width="2.5" stroke-dasharray="10.2,10.49" stroke-dashoffset="7.36"/>
<polyline points="225.1,286.5 225.1,287.0 225.1,287.6 225.1,288.1 225.1,288.7 225.1,289.2 225.1,289.8 225.1,290.3 225.1,290.8 225.1,291.4 225.1,291.9 225.1,292.5 225.1,293.0 225.1,293.6 225.1,294.1 225.1,294.7 225.1,295.2 225.1,295.7 225.1,296.3 225.1,296.8 225.1,297.4 225.1,297.9 225.1,298.5 225.1,299.0 225.1,299.5 225.1,300.1 225.1,300.6 225.1,301.2 225.1,301.7 225.1,302.3 225.0,302.8 225.0,303.4 225.0,303.9 224.9,304.4 224.8,305.0 224.6,305.5 224.5,305.7 224.4,306.1 224.1,306.6 223.8,307.1 223.8,307.2 223.3,307.7 223.1,307.9 222.8,308.2 222.4,308.6 222.2,308.8 221.7,309.1 221.5,309.3 221.0,309.6 220.6,309.9 220.3,310.1 219.7,310.4 219.6,310.5 218.9,310.8 218.6,311.0 218.2,311.2 217.5,311.5 217.5,311.5 216.8,311.8 216.2,312.0 216.1,312.1 215.4,312.4 214.8,312.6 214.7,312.6 214.0,312.9 213.4,313.1 213.3,313.2 212.6,313.5 212.0,313.7 211.9,313.7 211.2,314.0 210.6,314.2 210.5,314.3 209.8,314.6 209.4,314.8 209.1,314.9 208.4,315.3 208.4,315.3 207.8,315.9 207.8,316.4 208.2,316.9 208.4,317.0 209.1,317.5 209.1,317.5 209.8,317.8 210.3,318.0 210.5,318.1 211.2,318.4 211.6,318.6 211.9,318.7 212.6,319.0 213.0,319.1 213.3,319.2 214.0,319.5 214.4,319.7 214.7,319.8 215.4,320.1 215.7,320.2 216.1,320.4 216.8,320.7 216.9,320.7 217.5,321.0 218.1,321.3 218.2,321.3 218.9,321.7 219.2,321.8 219.6,322.1 220.1,322.4 220.3,322.5 221.0,322.9 221.0,323.0 221.7,323.5 221.7,323.5 222.4,324.0 222.4,324.1 222.9,324.6 223.1,324.8 223.4,325.1 223.8,325.6 223.8,325.7 224.1,326.2 224.4,326.7 224.5,327.2 224.6,327.3 224.7,327.8 224.8,328.4 224.9,328.9 225.0,329.4 225.0,330.0 225.0,330.5 225.1,331.1 225.1,331.6 225.1,332.2 225.1,332.7 225.1,333.3 225.1,333.8 225.1,334.3 225.1,334.9 225.1,335.4 225.1,336.0 225.1,336.5 225.1,337.1 225.1,337.6 225.1,338.1 225.1,338.7 225.1,339.2 225.1,339.8 225.1,340.3" fill="none" stroke="#000" stroke-width="2.5" stroke-dasharray="10.2,10.49" stroke-dashoffset="0.00"/>
<polyline points="225.1,340.3 225.1,340.9 225.1,341.4 225.1,341.9 225.1,342.5 225.1,343.0 225.1,343.6 225.1,344.1 225.1,344.7 225.1,345.2 225.1,345.8 225.1,346.3 225.1,346.8 225.1,347.4 225.1,347.9 225.1,348.5 225.1,349.0 225.1,349.6 225.1,350.1 225.1,350.6 225.1,351.2 225.1,351.7 225.1,352.3 225.1,352.8 225.1,353.4 225.1,353.9 225.1,354.5 225.1,355.0 225.1,355.5 225.1,356.1 225.1,356.6 225.1,357.2 225.1,357.7 225.1,358.3 225.1,358.8 225.1,359.3 225.1,359.9 225.1,360.4 225.1,361.0 225.1,361.5 225.1,362.1 225.1,362.6 225.1,363.1 225.1,363.7 225.1,364.2 225.1,364.8 225.1,365.3 225.1,365.9 225.1,366.4 225.1,367.0 225.1,367.5 225.1,368.0 225.1,368.6 225.1,369.1 225.1,369.7 225.1,370.2 225.1,370.8 225.1,371.3 225.0,371.8 225.0,372.4 225.0,372.9 224.9,373.5 224.9,374.0 224.8,374.6 224.7,375.1 224.5,375.7 224.5,375.7 224.4,376.2 224.2,376.7 223.9,377.3 223.8,377.5 223.6,377.8 223.3,378.4 223.1,378.6 222.9,378.9 222.4,379.4 222.4,379.5 221.8,380.0 221.7,380.1 221.2,380.5 221.0,380.6 220.4,381.1 220.3,381.1 219.6,381.6 219.5,381.6 218.9,382.0 218.5,382.2 218.2,382.3 217.5,382.6 217.3,382.7 216.8,382.9 216.1,383.2 216.0,383.3 215.4,383.5 214.7,383.7 214.3,383.8 214.0,383.9 213.3,384.1 212.6,384.3 212.4,384.3 211.9,384.5 211.2,384.6 210.5,384.8 209.9,384.9 209.8,384.9 209.1,385.0 208.4,385.1 207.7,385.3 207.0,385.4 206.3,385.4 206.3,385.4 205.6,385.5 204.9,385.6 204.1,385.7 203.4,385.7 202.7,385.8 202.0,385.8 201.3,385.9 200.6,385.9 200.0,386.0" fill="none" stroke="#000" stroke-width="2.5" stroke-dasharray="10.2,10.49" stroke-dashoffset="8.19"/>
<polyline points="200.0,386.0 199.9,386.0 199.2,386.0 198.5,386.0 197.8,386.1 197.1,386.1 196.4,386.1 195.7,386.1 195.0,386.2 194.3,386.2 193.6,386.2 192.9,386.2 192.2,386.2 191.5,386.2 190.8,386.2 190.1,386.3 189.4,386.3 188.7,386.3 188.0,386.3 187.3,386.3 186.6,386.3 185.9,386.3 185.2,386.3 184.5,386.3 183.8,386.3 183.1,386.3 182.3,386.3 181.6,386.3 180.9,386.3 180.2,386.3 179.5,386.3 178.8,386.3 178.1,386.3 177.4,386.3 176.7,386.3 176.0,386.3 175.3,386.3 174.6,386.3 173.9,386.3 173.2,386.3 172.5,386.3 171.8,386.3 171.1,386.3 170.4,386.3 169.7,386.3 169.0,386.3 168.3,386.3 167.6,386.3 166.9,386.3 166.2,386.3 165.5,386.3 164.8,386.3 164.1,386.3 163.4,386.3 162.7,386.3 162.0,386.3 161.3,386.3 160.5,386.3 159.8,386.3 159.1,386.3 158.4,386.3 157.7,386.3 157.0,386.3 156.3,386.3 155.6,386.3 154.9,386.3 154.2,386.3 153.5,386.3 152.8,386.3 152.1,386.3 151.4,386.3 150.7,386.3 150.0,386.3 149.3,386.3 148.6,386.3 147.9,386.3 147.2,386.3 146.5,386.3 145.8,386.3 145.1,386.3 144.4,386.3 143.7,386.3 143.0,386.3 142.3,386.3 141.6,386.3 140.9,386.3 140.2,386.3 139.4,386.3 138.7,386.3 138.0,386.3 137.3,386.3 136.6,386.3 135.9,386.3 135.2,386.3 134.5,386.3 133.8,386.3 133.1,386.3 132.4,386.3 131.7,386.3 131.0,386.3 130.3,386.3 129.6,386.3 128.9,386.3 128.2,386.3 127.5,386.3 126.8,386.3 126.1,386.3 125.4,386.3 124.7,386.3 124.0,386.3 123.3,386.3 122.6,386.3 121.9,386.3 121.2,386.3 120.5,386.3 119.8,386.3 119.1,386.3 118.4,386.3 117.6,386.3 116.9,386.3 116.2,386.3 115.5,386.3 114.8,386.3 114.1,386.3 113.4,386.3 112.7,386.3 112.0,386.3 111.3,386.3 110.6,386.3 109.9,386.3 109.2,386.3 108.5,386.3 107.8,386.3 107.1,386.3 106.4,386.3 105.7,386.3 105.0,386.3 104.3,386.3 103.6,386.3 102.9,386.3 102.2,386.3 101.5,386.3 100.8,386.3 100.1,386.3 99.4,386.3 98.7,386.3 98.0,386.3 97.3,386.3 96.6,386.3 95.8,386.3 95.1,386.3 94.4,386.3 93.7,386.3 93.0,386.3 92.3,386.3 91.6,386.3 90.9,386.3 90.2,386.3 89.5,386.3 88.8,386.3 88.1,386.3 87.4,386.3 86.7,386.3 86.0,386.3 85.3,386.3 84.6,386.3 83.9,386.3 83.2,386.3 82.5,386.3 81.8,386.3 81.1,386.3 80.4,386.3 79.7,386.3 79.0,386.3 78.3,386.3 77.6,386.3 76.9,386.3 76.2,386.3 75.5,386.3 74.7,386.3 74.0,386.3 73.3,386.3 72.6,386.3 71.9,386.3 71.2,386.3 70.5,386.3 69.8,386.3 69.1,386.3 68.4,386.3 67.7,386.3 67.0,386.3 66.3,386.3 65.6,386.3 64.9,386.3 64.2,386.3 63.5,386.3 62.8,386.3 62.1,386.3 61.4,386.3 60.7,386.3 60.0,386.3 59.3,386.3 58.6,386.3 57.9,386.3 57.2,386.3 56.5,386.3 55.8,386.3 55.1,386.3 54.4,386.3 53.7,386.3 52.9,386.3 52.2,386.3 51.5,386.3 50.8,386.3 50.1,386.3 49.4,386.3 48.7,386.3 48.0,386.3 47.3,386.3 46.6,386.3 45.9,386.3 45.2,386.3 44.5,386.3 43.8,386.3 43.1,386.3 42.4,386.3" fill="none" stroke="#000" stroke-width="2.5" stroke-dasharray="10.2,10.49" stroke-dashoffset="9.89"/>
<polyline points="252.3,503.4 252.3,502.9 252.3,502.3 252.3,501.8 252.3,501.2 252.3,500.7 252.3,500.1 252.3,499.6 252.3,499.1 252.3,498.5 252.3,498.0 252.3,497.4 252.3,496.9 252.3,496.3 252.3,495.8 252.3,495.2 252.3,494.7 252.3,494.2 252.3,493.6 252.3,493.1 252.3,492.5 252.3,492.0 252.3,491.4 252.3,490.9 252.3,490.4 252.3,489.8 252.3,489.3 252.3,488.7 252.3,488.2 252.3,487.6 252.3,487.1 252.3,486.5 252.3,486.0 252.3,485.5 252.3,484.9 252.3,484.4 252.3,483.8 252.3,483.3 252.3,482.7 252.3,482.2 252.3,481.7 252.3,481.1 252.3,480.6 252.3,480.0 252.3,479.5 252.3,478.9 252.3,478.4 252.3,477.9 252.3,477.3 252.3,476.8 252.3,476.2 252.3,475.7 252.3,475.1 252.3,474.6 252.3,474.0 252.3,473.5 252.3,473.0 252.3,472.4 252.3,471.9 252.3,471.3 252.3,470.8 252.3,470.2 252.3,469.7 252.3,469.2 252.3,468.6 252.3,468.1 252.3,467.5 252.3,467.0 252.3,466.4 252.3,465.9 252.3,465.3 252.3,464.8 252.3,464.3 252.3,463.7 252.3,463.2 252.3,462.6 252.3,462.1 252.3,461.5 252.3,461.0 252.3,460.5 252.3,459.9 252.3,459.4 252.3,458.8 252.3,458.3 252.3,457.7 252.3,457.2 252.3,456.6 252.3,456.1 252.3,455.6 252.3,455.0 252.3,454.5 252.3,453.9 252.3,453.4 252.3,452.8 252.3,452.3 252.3,451.8 252.3,451.2 252.3,450.7 252.3,450.1 252.3,449.6 252.3,449.0 252.3,448.5 252.3,448.0 252.3,447.4 252.3,446.9 252.3,446.3 252.3,445.8 252.3,445.2 252.3,444.7 252.3,444.1 252.3,443.6 252.3,443.1 252.3,442.5 252.3,442.0 252.3,441.4 252.3,440.9 252.3,440.3 252.3,439.8 252.3,439.3 252.3,438.7 252.3,438.2 252.3,437.6 252.3,437.1 252.3,436.5 252.3,436.0 252.3,435.4 252.3,434.9 252.3,434.4 252.3,433.8 252.3,433.3 252.3,432.7 252.3,432.2 252.3,431.6 252.3,431.1 252.3,430.6 252.3,430.0 252.3,429.5 252.3,428.9 252.3,428.4 252.3,427.8 252.3,427.3 252.3,426.8 252.3,426.2 252.3,425.7 252.4,425.1 252.4,424.6 252.4,424.0 252.4,423.5 252.4,422.9 252.4,422.4 252.5,421.9 252.5,421.3 252.5,420.8 252.6,420.2 252.6,419.7" fill="none" stroke="#000" stroke-width="2.5" stroke-dasharray="10.2,10.49" stroke-dashoffset="0.00"/>
<polyline points="252.6,419.7 252.7,419.4 252.7,419.1 252.8,418.6 252.9,418.1 253.0,417.5 253.1,417.0 253.2,416.4 253.4,415.9 253.4,415.9 253.6,415.3 253.8,414.8 254.0,414.2 254.1,414.1 254.3,413.7 254.6,413.2 254.8,412.8 254.9,412.6 255.3,412.1 255.5,411.8 255.7,411.5 256.2,411.0 256.2,411.0 256.7,410.4 256.9,410.3 257.3,409.9 257.6,409.7 258.0,409.4 258.3,409.1 258.7,408.8 259.0,408.6 259.6,408.3 259.7,408.2 260.4,407.8 260.6,407.7 261.1,407.4 261.7,407.2 261.8,407.1 262.5,406.8 263.0,406.6 263.2,406.5 263.9,406.3 264.5,406.1 264.6,406.1 265.3,405.9 266.0,405.7 266.6,405.6 266.7,405.5 267.4,405.4 268.1,405.2 268.8,405.1 269.5,405.0 269.6,405.0 270.3,404.9 271.0,404.8 271.7,404.8 272.4,404.7 273.1,404.6 273.8,404.6 274.5,404.5 275.2,404.5 275.9,404.5 276.2,404.5 276.6,404.4 277.3,404.4 278.0,404.4 278.7,404.4 279.4,404.4 280.1,404.4 280.8,404.4 281.5,404.4 282.2,404.4 282.9,404.3 283.6,404.3 284.3,404.3 285.0,404.3 285.7,404.3 286.4,404.3 287.1,404.3 287.8,404.3 288.5,404.3 289.2,404.3 289.9,404.3 290.7,404.3 291.4,404.3 292.1,404.3 292.8,404.3 293.5,404.3 294.2,404.3 294.9,404.3 295.6,404.3 296.3,404.3 297.0,404.3 297.7,404.3 298.4,404.3 299.1,404.3 299.8,404.3 300.5,404.3 301.2,404.3 301.9,404.3 302.6,404.3 303.3,404.3 304.0,404.3 304.7,404.3 305.4,404.3 306.1,404.3 306.8,404.3 307.5,404.3 308.2,404.3 308.9,404.3 309.6,404.3 310.3,404.3 311.0,404.3 311.7,404.3 312.5,404.3 313.2,404.3 313.9,404.3 314.6,404.3 315.3,404.3 316.0,404.3 316.7,404.3 317.4,404.3 318.1,404.3 318.8,404.3 319.5,404.3 320.2,404.3 320.9,404.3 321.6,404.3 322.3,404.3 323.0,404.3" fill="none" stroke="#000" stroke-width="2.5" stroke-dasharray="10.2,10.49" stroke-dashoffset="0.51"/>
<polyline points="323.0,386.3 322.3,386.3 321.6,386.3 320.9,386.3 320.2,386.3 319.5,386.3 318.8,386.3 318.1,386.3 317.4,386.3 316.7,386.3 316.0,386.3 315.3,386.3 314.6,386.3 313.9,386.3 313.2,386.3 312.5,386.3 311.7,386.3 311.0,386.3 310.3,386.3 309.6,386.3 308.9,386.3 308.2,386.3 307.5,386.3 306.8,386.3 306.1,386.3 305.4,386.3 304.7,386.3 304.0,386.3 303.3,386.3 302.6,386.3 301.9,386.3 301.2,386.3 300.5,386.3 299.8,386.3 299.1,386.3 298.4,386.3 297.7,386.3 297.0,386.3 296.3,386.3 295.6,386.3 294.9,386.3 294.2,386.3 293.5,386.3 292.8,386.3 292.1,386.3 291.4,386.3 290.7,386.3 289.9,386.3 289.2,386.3 288.5,386.3 287.8,386.3 287.1,386.3 286.4,386.3 285.7,386.3 285.0,386.3 284.3,386.3 283.6,386.3 282.9,386.3 282.2,386.3 281.5,386.3 280.8,386.3 280.1,386.3 279.4,386.3 278.7,386.3 278.0,386.2 277.3,386.2 276.6,386.2 275.9,386.2 275.2,386.2 274.5,386.1 273.8,386.1 273.1,386.1 272.4,386.0 272.0,386.0 271.7,386.0 271.0,385.9 270.3,385.8 269.6,385.7 268.8,385.7 268.1,385.6 267.4,385.4 267.4,385.4 266.7,385.3 266.0,385.2 265.3,385.0 264.8,384.9 264.6,384.9 263.9,384.7 263.2,384.5 262.8,384.3 262.5,384.2 261.8,384.0 261.3,383.8 261.1,383.7 260.4,383.4 260.0,383.3 259.7,383.1 259.0,382.8 258.9,382.7 258.3,382.4 257.9,382.2 257.6,382.0 257.1,381.6 256.9,381.5 256.3,381.1 256.2,381.0 255.7,380.5 255.5,380.3 255.1,380.0 254.8,379.6 254.7,379.5 254.2,378.9 254.1,378.7 253.9,378.4 253.6,377.8 253.4,377.4 253.3,377.3 253.1,376.7 252.9,376.2 252.8,375.7 252.7,375.1 252.7,375.1 252.6,374.6 252.5,374.0 252.5,373.5 252.4,372.9 252.4,372.4 252.4,371.8 252.3,371.3 252.3,370.8 252.3,370.2 252.3,369.7 252.3,369.1 252.3,368.6 252.3,368.0 252.3,367.5 252.3,367.0 252.3,366.4 252.3,365.9 252.3,365.3 252.3,364.8 252.3,364.2 252.3,363.7 252.3,363.1 252.3,362.6 252.3,362.1 252.3,361.5 252.3,361.0 252.3,360.4 252.3,359.9 252.3,359.3 252.3,358.8 252.3,358.3 252.3,357.7 252.3,357.2 252.3,356.6 252.3,356.1 252.3,355.5 252.3,355.0 252.3,354.5 252.3,353.9 252.3,353.4 252.3,352.8 252.3,352.3 252.3,351.7 252.3,351.2 252.3,350.6 252.3,350.1 252.3,349.6 252.3,349.0 252.3,348.5 252.3,347.9 252.3,347.4 252.3,346.8 252.3,346.3 252.3,345.8 252.3,345.2 252.3,344.7 252.3,344.1 252.3,343.6 252.3,343.0 252.3,342.5 252.3,341.9 252.3,341.4 252.3,340.9 252.3,340.3 252.3,339.8 252.3,339.2 252.3,338.7 252.3,338.1 252.3,337.6 252.3,337.1 252.3,336.5 252.3,336.0 252.3,335.4 252.3,334.9 252.3,334.3 252.3,333.8 252.3,333.3 252.3,332.7 252.3,332.2 252.3,331.6 252.3,331.1 252.4,330.5 252.4,330.0 252.4,329.4 252.5,328.9 252.6,328.4 252.7,327.8 252.7,327.7 252.8,327.3 253.0,326.7 253.2,326.2 253.4,325.8 253.5,325.6 253.8,325.1 254.1,324.7 254.2,324.6 254.7,324.0 254.8,323.9 255.2,323.5 255.5,323.2 255.9,322.9 256.2,322.7 256.6,322.4 256.9,322.2 257.4,321.8 257.6,321.7 258.2,321.3 258.3,321.3 259.0,320.9 259.2,320.7 259.7,320.5 260.2,320.2 260.4,320.1 261.1,319.7 261.3,319.7 261.8,319.4 262.4,319.1 262.5,319.0 263.2,318.7 263.4,318.6 263.9,318.3 264.5,318.0 264.6,317.9 265.3,317.5 265.3,317.5 266.0,316.9 266.0,316.9 266.3,316.4 266.3,315.9 266.0,315.5 265.9,315.3 265.3,314.9 265.1,314.8 264.6,314.5 264.2,314.2 263.9,314.1 263.2,313.7 263.1,313.7 262.5,313.4 262.0,313.1 261.8,313.0 261.1,312.7 260.9,312.6 260.4,312.4 259.8,312.0 259.7,312.0 259.0,311.6 258.8,311.5 258.3,311.2 257.8,311.0 257.6,310.8 256.9,310.4 256.9,310.4 256.2,309.9 256.1,309.9 255.5,309.4 255.4,309.3 254.8,308.8 254.8,308.8 254.3,308.2 254.1,308.0 253.8,307.7 253.5,307.2 253.4,307.0 253.2,306.6 252.9,306.1 252.7,305.5 252.7,305.2 252.6,305.0 252.5,304.4 252.4,303.9 252.4,303.4 252.4,302.8 252.3,302.3 252.3,301.7 252.3,301.2 252.3,300.6 252.3,300.1 252.3,299.5 252.3,299.0 252.3,298.5 252.3,297.9 252.3,297.4 252.3,296.8 252.3,296.3 252.3,295.7 252.3,295.2 252.3,294.7 252.3,294.1 252.3,293.6 252.3,293.0 252.3,292.5 252.3,291.9 252.3,291.4 252.3,290.8 252.3,290.3 252.3,289.8 252.3,289.2 252.3,288.7 252.3,288.1 252.3,287.6 252.3,287.0 252.3,286.5" fill="none" stroke="#000" stroke-width="2.5" stroke-dasharray="10.2,10.49" stroke-dashoffset="0.00"/>
<polyline points="252.3,286.5" fill="none" stroke="#000" stroke-width="2.5" stroke-dasharray="10.2,10.49" stroke-dashoffset="0.00"/>
<polyline points="252.3,286.5" fill="none" stroke="#000" stroke-width="2.5" stroke-dasharray="10.2,10.49" stroke-dashoffset="0.00"/>
</g>
<g fill="#0000ff"><circle cx="42.6" cy="286.6" r="2"/><circle cx="94.2" cy="286.6" r="2"/><circle cx="45.9" cy="303.5" r="2"/><circle cx="42.6" cy="317.6" r="2"/><circle cx="50.1" cy="319.2" r="2"/><circle cx="55.5" cy="326.5" r="2"/><circle cx="73.5" cy="330.4" r="2"/><circle cx="119.6" cy="327.6" r="2"/><circle cx="128.6" cy="352.3" r="2"/><circle cx="43.3" cy="355.5" r="2"/><circle cx="149.4" cy="287.3" r="2"/><circle cx="182.0" cy="287.7" r="2"/><circle cx="200.5" cy="291.3" r="2"/><circle cx="155.0" cy="312.0" r="2"/><circle cx="189.7" cy="315.4" r="2"/><circle cx="196.3" cy="317.2" r="2"/><circle cx="202.4" cy="316.0" r="2"/><circle cx="205.2" cy="315.6" r="2"/><circle cx="190.9" cy="323.5" r="2"/><circle cx="200.8" cy="323.2" r="2"/><circle cx="210.5" cy="325.0" r="2"/><circle cx="175.1" cy="332.8" r="2"/><circle cx="214.4" cy="287.3" r="2"/><circle cx="219.1" cy="288.9" r="2"/><circle cx="220.5" cy="291.7" r="2"/><circle cx="221.9" cy="286.6" r="2"/><circle cx="224.4" cy="286.5" r="2"/><circle cx="229.8" cy="288.1" r="2"/><circle cx="231.1" cy="286.6" r="2"/><circle cx="235.7" cy="286.6" r="2"/><circle cx="239.2" cy="286.6" r="2"/><circle cx="245.4" cy="288.9" r="2"/><circle cx="249.8" cy="289.4" r="2"/><circle cx="254.3" cy="287.6" r="2"/><circle cx="216.4" cy="296.3" r="2"/><circle cx="223.6" cy="296.3" r="2"/><circle cx="247.7" cy="297.1" r="2"/><circle cx="254.0" cy="295.5" r="2"/><circle cx="260.2" cy="297.5" r="2"/><circle cx="265.5" cy="299.9" r="2"/><circle cx="232.8" cy="301.9" r="2"/><circle cx="233.8" cy="305.5" r="2"/><circle cx="214.0" cy="304.0" r="2"/><circle cx="216.4" cy="307.0" r="2"/><circle cx="223.2" cy="304.0" r="2"/><circle cx="250.0" cy="300.4" r="2"/><circle cx="250.0" cy="302.9" r="2"/><circle cx="254.9" cy="302.4" r="2"/><circle cx="251.0" cy="307.0" r="2"/><circle cx="259.2" cy="306.5" r="2"/><circle cx="263.0" cy="308.4" r="2"/><circle cx="271.9" cy="306.7" r="2"/><circle cx="242.3" cy="307.0" r="2"/><circle cx="246.4" cy="308.8" r="2"/><circle cx="224.4" cy="308.8" r="2"/><circle cx="212.2" cy="313.2" r="2"/><circle cx="214.7" cy="311.6" r="2"/><circle cx="215.7" cy="314.2" r="2"/><circle cx="224.4" cy="314.7" r="2"/><circle cx="247.9" cy="315.7" r="2"/><circle cx="252.8" cy="314.2" r="2"/><circle cx="259.2" cy="317.6" r="2"/><circle cx="265.3" cy="319.3" r="2"/><circle cx="268.4" cy="317.6" r="2"/><circle cx="273.0" cy="314.5" r="2"/><circle cx="273.5" cy="317.3" r="2"/><circle cx="271.4" cy="320.8" r="2"/><circle cx="274.0" cy="322.9" r="2"/><circle cx="214.2" cy="318.3" r="2"/><circle cx="223.4" cy="321.9" r="2"/><circle cx="222.9" cy="324.9" r="2"/><circle cx="221.9" cy="327.0" r="2"/><circle cx="231.4" cy="326.1" r="2"/><circle cx="241.3" cy="324.1" r="2"/><circle cx="253.0" cy="325.9" r="2"/><circle cx="254.0" cy="328.5" r="2"/><circle cx="224.4" cy="330.0" r="2"/><circle cx="223.4" cy="333.1" r="2"/><circle cx="255.1" cy="334.6" r="2"/><circle cx="281.2" cy="288.0" r="2"/><circle cx="292.5" cy="290.0" r="2"/><circle cx="318.1" cy="289.7" r="2"/><circle cx="277.5" cy="317.6" r="2"/><circle cx="279.2" cy="321.4" r="2"/><circle cx="291.7" cy="322.5" r="2"/><circle cx="315.6" cy="315.4" r="2"/><circle cx="318.5" cy="319.7" r="2"/><circle cx="323.0" cy="322.9" r="2"/><circle cx="47.3" cy="360.1" r="2"/><circle cx="71.0" cy="363.3" r="2"/><circle cx="66.0" cy="374.0" r="2"/><circle cx="82.7" cy="374.3" r="2"/><circle cx="42.9" cy="379.3" r="2"/><circle cx="43.5" cy="384.8" r="2"/><circle cx="52.6" cy="384.4" r="2"/><circle cx="57.4" cy="382.7" r="2"/><circle cx="67.1" cy="387.6" r="2"/><circle cx="63.0" cy="390.4" r="2"/><circle cx="67.1" cy="391.1" r="2"/><circle cx="70.6" cy="390.8" r="2"/><circle cx="76.1" cy="380.0" r="2"/><circle cx="75.4" cy="384.1" r="2"/><circle cx="77.5" cy="389.0" r="2"/><circle cx="90.7" cy="382.5" r="2"/><circle cx="89.3" cy="384.1" r="2"/><circle cx="93.2" cy="387.3" r="2"/><circle cx="97.6" cy="378.9" r="2"/><circle cx="100.4" cy="384.4" r="2"/><circle cx="107.3" cy="385.8" r="2"/><circle cx="111.5" cy="381.4" r="2"/><circle cx="118.4" cy="384.1" r="2"/><circle cx="123.3" cy="380.9" r="2"/><circle cx="120.5" cy="390.8" r="2"/><circle cx="125.4" cy="392.2" r="2"/><circle cx="131.6" cy="373.7" r="2"/><circle cx="132.0" cy="378.9" r="2"/><circle cx="131.6" cy="393.1" r="2"/><circle cx="42.4" cy="395.9" r="2"/><circle cx="42.4" cy="399.4" r="2"/><circle cx="42.9" cy="407.0" r="2"/><circle cx="51.2" cy="401.7" r="2"/><circle cx="57.4" cy="404.9" r="2"/><circle cx="64.4" cy="404.9" r="2"/><circle cx="68.5" cy="405.6" r="2"/><circle cx="71.3" cy="402.9" r="2"/><circle cx="76.8" cy="403.5" r="2"/><circle cx="80.3" cy="406.0" r="2"/><circle cx="84.5" cy="407.0" r="2"/><circle cx="88.2" cy="399.7" r="2"/><circle cx="96.9" cy="404.7" r="2"/><circle cx="97.6" cy="401.2" r="2"/><circle cx="101.1" cy="407.0" r="2"/><circle cx="102.5" cy="403.5" r="2"/><circle cx="105.3" cy="399.4" r="2"/><circle cx="106.2" cy="401.5" r="2"/><circle cx="106.7" cy="406.7" r="2"/><circle cx="115.7" cy="408.8" r="2"/><circle cx="117.1" cy="404.9" r="2"/><circle cx="124.7" cy="407.4" r="2"/><circle cx="126.8" cy="404.2" r="2"/><circle cx="129.5" cy="402.9" r="2"/><circle cx="130.9" cy="405.6" r="2"/><circle cx="131.6" cy="409.1" r="2"/><circle cx="42.9" cy="422.3" r="2"/><circle cx="44.7" cy="423.2" r="2"/><circle cx="71.0" cy="421.9" r="2"/><circle cx="131.6" cy="422.7" r="2"/><circle cx="86.8" cy="429.9" r="2"/><circle cx="137.5" cy="376.1" r="2"/><circle cx="154.8" cy="381.2" r="2"/><circle cx="162.0" cy="381.2" r="2"/><circle cx="165.6" cy="383.8" r="2"/><circle cx="164.3" cy="388.3" r="2"/><circle cx="137.8" cy="383.5" r="2"/><circle cx="144.6" cy="384.2" r="2"/><circle cx="133.7" cy="386.2" r="2"/><circle cx="134.8" cy="391.0" r="2"/><circle cx="145.9" cy="393.0" r="2"/><circle cx="153.0" cy="391.7" r="2"/><circle cx="136.2" cy="397.5" r="2"/><circle cx="142.1" cy="399.8" r="2"/><circle cx="150.0" cy="398.5" r="2"/><circle cx="153.4" cy="401.9" r="2"/><circle cx="131.7" cy="403.2" r="2"/><circle cx="143.9" cy="406.4" r="2"/><circle cx="134.4" cy="410.4" r="2"/><circle cx="152.1" cy="411.8" r="2"/><circle cx="143.2" cy="415.2" r="2"/><circle cx="164.7" cy="410.0" r="2"/><circle cx="193.2" cy="385.2" r="2"/><circle cx="197.6" cy="384.2" r="2"/><circle cx="203.7" cy="383.8" r="2"/><circle cx="195.9" cy="410.7" r="2"/><circle cx="196.9" cy="413.7" r="2"/><circle cx="203.0" cy="415.5" r="2"/><circle cx="186.0" cy="418.6" r="2"/><circle cx="205.5" cy="399.2" r="2"/><circle cx="223.5" cy="335.5" r="2"/><circle cx="219.2" cy="343.4" r="2"/><circle cx="222.3" cy="348.1" r="2"/><circle cx="223.0" cy="350.3" r="2"/><circle cx="222.7" cy="352.2" r="2"/><circle cx="216.1" cy="351.1" r="2"/><circle cx="255.2" cy="340.6" r="2"/><circle cx="254.7" cy="343.7" r="2"/><circle cx="260.8" cy="345.2" r="2"/><circle cx="255.2" cy="349.3" r="2"/><circle cx="254.7" cy="351.9" r="2"/><circle cx="219.9" cy="361.1" r="2"/><circle cx="223.0" cy="361.8" r="2"/><circle cx="223.7" cy="363.6" r="2"/><circle cx="256.0" cy="361.1" r="2"/><circle cx="258.2" cy="365.7" r="2"/><circle cx="266.6" cy="361.4" r="2"/><circle cx="235.3" cy="363.4" r="2"/><circle cx="227.6" cy="367.5" r="2"/><circle cx="223.0" cy="367.7" r="2"/><circle cx="222.0" cy="370.3" r="2"/><circle cx="223.7" cy="370.8" r="2"/><circle cx="232.5" cy="371.0" r="2"/><circle cx="238.6" cy="372.6" r="2"/><circle cx="241.4" cy="372.6" r="2"/><circle cx="245.2" cy="374.3" r="2"/><circle cx="209.0" cy="375.1" r="2"/><circle cx="256.2" cy="370.3" r="2"/><circle cx="258.8" cy="370.8" r="2"/><circle cx="257.2" cy="374.3" r="2"/><circle cx="257.2" cy="376.9" r="2"/><circle cx="253.1" cy="376.4" r="2"/><circle cx="251.1" cy="378.9" r="2"/><circle cx="219.6" cy="380.0" r="2"/><circle cx="223.3" cy="381.5" r="2"/><circle cx="245.0" cy="383.5" r="2"/><circle cx="251.6" cy="383.0" r="2"/><circle cx="255.2" cy="384.0" r="2"/><circle cx="258.8" cy="385.1" r="2"/><circle cx="262.3" cy="384.6" r="2"/><circle cx="265.9" cy="384.6" r="2"/><circle cx="221.5" cy="386.1" r="2"/><circle cx="222.3" cy="388.1" r="2"/><circle cx="210.2" cy="389.0" r="2"/><circle cx="256.2" cy="386.6" r="2"/><circle cx="208.7" cy="392.2" r="2"/><circle cx="210.2" cy="396.8" r="2"/><circle cx="207.2" cy="399.3" r="2"/><circle cx="209.0" cy="401.3" r="2"/><circle cx="243.9" cy="391.9" r="2"/><circle cx="246.8" cy="397.3" r="2"/><circle cx="236.8" cy="402.9" r="2"/><circle cx="258.8" cy="390.1" r="2"/><circle cx="259.3" cy="393.2" r="2"/><circle cx="257.2" cy="397.8" r="2"/><circle cx="255.2" cy="401.9" r="2"/><circle cx="258.2" cy="403.9" r="2"/><circle cx="257.2" cy="407.0" r="2"/><circle cx="261.3" cy="406.5" r="2"/><circle cx="261.3" cy="410.0" r="2"/><circle cx="221.5" cy="403.9" r="2"/><circle cx="223.3" cy="409.0" r="2"/><circle cx="230.7" cy="407.7" r="2"/><circle cx="228.1" cy="411.4" r="2"/><circle cx="237.8" cy="412.1" r="2"/><circle cx="241.4" cy="414.1" r="2"/><circle cx="224.0" cy="415.5" r="2"/><circle cx="222.0" cy="418.7" r="2"/><circle cx="221.5" cy="420.3" r="2"/><circle cx="229.1" cy="420.3" r="2"/><circle cx="231.2" cy="421.3" r="2"/><circle cx="215.3" cy="418.7" r="2"/><circle cx="208.0" cy="414.6" r="2"/><circle cx="209.0" cy="407.5" r="2"/><circle cx="241.9" cy="419.7" r="2"/><circle cx="246.5" cy="420.8" r="2"/><circle cx="250.1" cy="421.3" r="2"/><circle cx="253.1" cy="420.8" r="2"/><circle cx="256.2" cy="419.7" r="2"/><circle cx="256.7" cy="416.7" r="2"/><circle cx="260.3" cy="416.2" r="2"/><circle cx="269.0" cy="418.9" r="2"/><circle cx="240.4" cy="424.3" r="2"/><circle cx="246.0" cy="426.4" r="2"/><circle cx="253.6" cy="426.4" r="2"/><circle cx="257.2" cy="427.9" r="2"/><circle cx="253.1" cy="430.0" r="2"/><circle cx="222.5" cy="427.9" r="2"/><circle cx="224.5" cy="428.4" r="2"/><circle cx="223.5" cy="434.9" r="2"/><circle cx="237.6" cy="435.6" r="2"/><circle cx="255.7" cy="437.6" r="2"/><circle cx="251.1" cy="434.0" r="2"/><circle cx="263.4" cy="386.0" r="2"/><circle cx="285.9" cy="346.4" r="2"/><circle cx="277.5" cy="379.0" r="2"/><circle cx="278.6" cy="385.9" r="2"/><circle cx="298.5" cy="381.7" r="2"/><circle cx="300.7" cy="383.4" r="2"/><circle cx="305.0" cy="382.8" r="2"/><circle cx="311.5" cy="387.0" r="2"/><circle cx="316.1" cy="388.0" r="2"/><circle cx="317.7" cy="382.6" r="2"/><circle cx="319.9" cy="391.0" r="2"/><circle cx="321.5" cy="376.8" r="2"/><circle cx="310.1" cy="392.6" r="2"/><circle cx="288.9" cy="394.8" r="2"/><circle cx="281.8" cy="397.4" r="2"/><circle cx="285.4" cy="399.2" r="2"/><circle cx="271.5" cy="400.7" r="2"/><circle cx="318.3" cy="400.0" r="2"/><circle cx="321.5" cy="399.2" r="2"/><circle cx="323.0" cy="397.6" r="2"/><circle cx="322.1" cy="404.1" r="2"/><circle cx="322.4" cy="406.3" r="2"/><circle cx="297.4" cy="406.1" r="2"/><circle cx="297.8" cy="408.3" r="2"/><circle cx="305.0" cy="409.0" r="2"/><circle cx="305.2" cy="412.3" r="2"/><circle cx="322.1" cy="412.6" r="2"/><circle cx="274.8" cy="411.7" r="2"/><circle cx="273.5" cy="415.9" r="2"/><circle cx="309.6" cy="418.8" r="2"/><circle cx="314.5" cy="422.6" r="2"/><circle cx="319.3" cy="422.4" r="2"/><circle cx="321.3" cy="420.2" r="2"/><circle cx="311.2" cy="427.5" r="2"/><circle cx="307.2" cy="442.2" r="2"/><circle cx="272.1" cy="448.2" r="2"/><circle cx="143.9" cy="448.8" r="2"/><circle cx="188.5" cy="457.3" r="2"/><circle cx="195.1" cy="460.9" r="2"/><circle cx="204.7" cy="456.6" r="2"/><circle cx="203.7" cy="472.7" r="2"/><circle cx="202.6" cy="484.2" r="2"/><circle cx="157.9" cy="491.3" r="2"/><circle cx="199.0" cy="502.4" r="2"/><circle cx="127.1" cy="439.9" r="2"/><circle cx="103.5" cy="450.6" r="2"/><circle cx="56.2" cy="469.8" r="2"/><circle cx="98.8" cy="482.8" r="2"/><circle cx="59.5" cy="494.1" r="2"/><circle cx="128.8" cy="502.4" r="2"/><circle cx="224.8" cy="439.6" r="2"/><circle cx="223.5" cy="442.8" r="2"/><circle cx="222.8" cy="450.6" r="2"/><circle cx="224.8" cy="450.0" r="2"/><circle cx="228.7" cy="449.3" r="2"/><circle cx="224.1" cy="451.9" r="2"/><circle cx="218.3" cy="453.3" r="2"/><circle cx="215.0" cy="455.6" r="2"/><circle cx="224.1" cy="455.9" r="2"/><circle cx="225.4" cy="459.8" r="2"/><circle cx="223.5" cy="463.0" r="2"/><circle cx="230.0" cy="459.1" r="2"/><circle cx="231.0" cy="461.1" r="2"/><circle cx="217.6" cy="466.9" r="2"/><circle cx="222.8" cy="466.9" r="2"/><circle cx="225.4" cy="472.2" r="2"/><circle cx="224.8" cy="478.0" r="2"/><circle cx="233.9" cy="478.7" r="2"/><circle cx="224.1" cy="482.6" r="2"/><circle cx="227.4" cy="483.2" r="2"/><circle cx="214.3" cy="489.1" r="2"/><circle cx="220.6" cy="487.8" r="2"/><circle cx="224.8" cy="489.8" r="2"/><circle cx="225.4" cy="492.4" r="2"/><circle cx="225.4" cy="495.0" r="2"/><circle cx="230.0" cy="496.3" r="2"/><circle cx="231.3" cy="500.2" r="2"/><circle cx="219.6" cy="498.2" r="2"/><circle cx="218.3" cy="499.5" r="2"/><circle cx="224.1" cy="501.5" r="2"/><circle cx="222.8" cy="502.8" r="2"/><circle cx="228.0" cy="502.8" r="2"/><circle cx="200.7" cy="502.5" r="2"/><circle cx="248.9" cy="441.5" r="2"/><circle cx="237.5" cy="445.4" r="2"/><circle cx="241.5" cy="453.0" r="2"/><circle cx="248.2" cy="453.9" r="2"/><circle cx="241.1" cy="458.5" r="2"/><circle cx="257.4" cy="450.0" r="2"/><circle cx="254.8" cy="451.9" r="2"/><circle cx="251.5" cy="461.1" r="2"/><circle cx="250.2" cy="465.6" r="2"/><circle cx="252.2" cy="466.9" r="2"/><circle cx="254.8" cy="464.3" r="2"/><circle cx="255.4" cy="466.9" r="2"/><circle cx="243.0" cy="467.3" r="2"/><circle cx="245.6" cy="468.2" r="2"/><circle cx="258.0" cy="472.2" r="2"/><circle cx="248.9" cy="472.8" r="2"/><circle cx="249.5" cy="478.0" r="2"/><circle cx="250.8" cy="481.3" r="2"/><circle cx="253.5" cy="482.6" r="2"/><circle cx="251.5" cy="486.5" r="2"/><circle cx="252.8" cy="488.5" r="2"/><circle cx="253.5" cy="491.1" r="2"/><circle cx="250.2" cy="496.3" r="2"/><circle cx="254.8" cy="497.6" r="2"/><circle cx="251.5" cy="499.5" r="2"/><circle cx="247.6" cy="501.5" r="2"/><circle cx="250.8" cy="502.8" r="2"/><circle cx="258.7" cy="502.8" r="2"/><circle cx="260.6" cy="502.1" r="2"/><circle cx="267.5" cy="502.8" r="2"/><circle cx="268.4" cy="461.7" r="2"/><circle cx="269.1" cy="485.2" r="2"/><circle cx="308.7" cy="456.0" r="2"/><circle cx="283.2" cy="462.1" r="2"/><circle cx="285.9" cy="460.9" r="2"/><circle cx="302.0" cy="476.1" r="2"/><circle cx="319.8" cy="494.8" r="2"/><circle cx="290.5" cy="500.6" r="2"/></g>
<rect x="378.7" y="286.5" width="280.6" height="216.9" fill="none" stroke="#262626" stroke-width="1"/>
<line x1="434.8" y1="503.4" x2="434.8" y2="500.59999999999997" stroke="#262626" stroke-width="0.8"/>
<line x1="434.8" y1="286.5" x2="434.8" y2="289.3" stroke="#262626" stroke-width="0.8"/>
<line x1="378.7" y1="460.0" x2="381.5" y2="460.0" stroke="#262626" stroke-width="0.8"/>
<line x1="659.3" y1="460.0" x2="656.5" y2="460.0" stroke="#262626" stroke-width="0.8"/>
<line x1="490.9" y1="503.4" x2="490.9" y2="500.59999999999997" stroke="#262626" stroke-width="0.8"/>
<line x1="490.9" y1="286.5" x2="490.9" y2="289.3" stroke="#262626" stroke-width="0.8"/>
<line x1="378.7" y1="416.6" x2="381.5" y2="416.6" stroke="#262626" stroke-width="0.8"/>
<line x1="659.3" y1="416.6" x2="656.5" y2="416.6" stroke="#262626" stroke-width="0.8"/>
<line x1="547.1" y1="503.4" x2="547.1" y2="500.59999999999997" stroke="#262626" stroke-width="0.8"/>
<line x1="547.1" y1="286.5" x2="547.1" y2="289.3" stroke="#262626" stroke-width="0.8"/>
<line x1="378.7" y1="373.3" x2="381.5" y2="373.3" stroke="#262626" stroke-width="0.8"/>
<line x1="659.3" y1="373.3" x2="656.5" y2="373.3" stroke="#262626" stroke-width="0.8"/>
<line x1="603.2" y1="503.4" x2="603.2" y2="500.59999999999997" stroke="#262626" stroke-width="0.8"/>
<line x1="603.2" y1="286.5" x2="603.2" y2="289.3" stroke="#262626" stroke-width="0.8"/>
<line x1="378.7" y1="329.9" x2="381.5" y2="329.9" stroke="#262626" stroke-width="0.8"/>
<line x1="659.3" y1="329.9" x2="656.5" y2="329.9" stroke="#262626" stroke-width="0.8"/>
<text x="378.7" y="519.6" text-anchor="middle" style="font-family:'Liberation Sans', sans-serif;font-size:11.5px;fill:#1a1a1a">0</text>
<text x="374.7" y="507.5" text-anchor="end" style="font-family:'Liberation Sans', sans-serif;font-size:11.5px;fill:#1a1a1a">0</text>
<text x="434.8" y="519.6" text-anchor="middle" style="font-family:'Liberation Sans', sans-serif;font-size:11.5px;fill:#1a1a1a">0.2</text>
<text x="374.7" y="464.1" text-anchor="end" style="font-family:'Liberation Sans', sans-serif;font-size:11.5px;fill:#1a1a1a">0.2</text>
<text x="490.9" y="519.6" text-anchor="middle" style="font-family:'Liberation Sans', sans-serif;font-size:11.5px;fill:#1a1a1a">0.4</text>
<text x="374.7" y="420.7" text-anchor="end" style="font-family:'Liberation Sans', sans-serif;font-size:11.5px;fill:#1a1a1a">0.4</text>
<text x="547.1" y="519.6" text-anchor="middle" style="font-family:'Liberation Sans', sans-serif;font-size:11.5px;fill:#1a1a1a">0.6</text>
<text x="374.7" y="377.4" text-anchor="end" style="font-family:'Liberation Sans', sans-serif;font-size:11.5px;fill:#1a1a1a">0.6</text>
<text x="603.2" y="519.6" text-anchor="middle" style="font-family:'Liberation Sans', sans-serif;font-size:11.5px;fill:#1a1a1a">0.8</text>
<text x="374.7" y="334.0" text-anchor="end" style="font-family:'Liberation Sans', sans-serif;font-size:11.5px;fill:#1a1a1a">0.8</text>
<text x="659.3" y="519.6" text-anchor="middle" style="font-family:'Liberation Sans', sans-serif;font-size:11.5px;fill:#1a1a1a">1</text>
<text x="374.7" y="290.6" text-anchor="end" style="font-family:'Liberation Sans', sans-serif;font-size:11.5px;fill:#1a1a1a">1</text>
<text x="513.1" y="531.8" style="font-family:'Liberation Serif', serif;font-style:italic;font-size:13px;fill:#1a1a1a">x<tspan dy="2.5" font-size="9px" font-style="normal">1</tspan></text>
<text transform="translate(352.2,401.4) rotate(-90)" style="font-family:'Liberation Serif', serif;font-style:italic;font-size:13px;fill:#1a1a1a;font-size:14px">x<tspan dy="2.7" font-size="9.5px" font-style="normal">2</tspan></text>
<clipPath id="clipd"><rect x="378.7" y="286.5" width="280.6" height="216.9"/></clipPath><g clip-path="url(#clipd)">
<polyline points="378.6,384.1 378.9,383.4 382.3,378.6 387.9,373.7 394.8,371.6 401.7,371.4 410.1,372.3 418.4,375.1 426.7,378.6 435.0,382.7 442.0,386.2 447.5,391.1 451.0,396.6 451.9,402.2 448.9,406.3 446.8,407.0 443.3,402.9 439.2,399.4 433.6,397.3 426.7,397.3 418.4,399.4 411.4,402.2 403.1,406.3 396.2,409.1 387.9,412.6 382.3,416.0 378.9,418.1 378.6,418.2" fill="none" stroke="#ff0000" stroke-width="1.5" stroke-linejoin="round"/>
<polyline points="486.0,402.2 491.4,396.8 498.2,392.7 504.4,390.7 511.8,392.0 513.2,393.4 510.5,398.2 506.4,401.6 501.0,404.3 495.5,406.3 490.1,405.6 486.0,402.9" fill="none" stroke="#ff0000" stroke-width="1.5" stroke-linejoin="round"/>
<polyline points="560.0,286.5 559.5,295.0 557.5,303.0 556.4,310.0 555.5,315.7 554.8,322.9 555.3,327.0 557.9,332.1 560.4,336.2 563.0,343.2 564.5,350.3 566.8,357.0 567.8,362.2 566.8,367.3 563.7,371.4 560.7,375.4 556.6,379.1 550.4,380.5 542.3,381.2 530.0,381.6 527.4,382.5 524.0,385.3 521.3,388.6 519.3,392.7 522.7,394.8 526.8,397.5 532.2,400.9 537.6,403.6 540.2,405.1 548.4,408.1 554.5,411.2 560.7,416.3 564.7,422.4 566.8,430.6 565.2,442.5 562.7,452.7 561.7,459.9 558.6,463.9 557.0,469.0 558.2,474.2 561.7,478.2 564.7,483.4 566.4,489.5 565.2,495.6 563.7,501.8 563.5,503.4" fill="none" stroke="#ff0000" stroke-width="1.5" stroke-linejoin="round"/>
<polyline points="591.6,286.5 591.1,292.2 590.6,298.4 591.1,304.5 593.1,310.6 594.2,315.7 593.1,320.8 591.6,327.0 590.1,333.1 588.0,340.0 586.5,345.2 585.5,352.0 584.2,361.1 585.2,367.3 586.2,373.4 591.3,379.5 599.5,382.6 607.7,384.6 611.8,388.7 612.8,395.9 610.7,401.0 605.6,405.1 599.5,408.5 593.4,412.2 589.3,415.3 587.2,418.4 585.2,424.5 586.2,430.6 589.3,436.7 591.3,444.9 590.0,452.0 588.0,458.0 589.0,464.0 590.3,469.0 591.3,473.1 590.3,479.3 588.2,485.4 586.2,491.5 587.2,497.7 589.3,502.8 589.5,503.4" fill="none" stroke="#ff0000" stroke-width="1.5" stroke-linejoin="round"/>
<polyline points="659.3,382.9 658.8,382.6 648.5,377.5 640.4,372.4 634.2,370.9 630.1,373.4 627.1,379.5 627.1,389.7 630.1,397.9 636.3,402.0 644.5,403.4 652.6,403.6 659.3,404.0" fill="none" stroke="#ff0000" stroke-width="1.5" stroke-linejoin="round"/>
<polyline points="544.0,286.5 541.5,292.2 542.0,298.4 544.1,302.4 547.2,306.0 550.7,307.5 554.3,307.0 557.4,305.0 559.4,301.9 560.0,295.0 560.0,286.5" fill="none" stroke="#ff0000" stroke-width="1.7" stroke-linejoin="round" stroke-dasharray="4.5,1.6,1.4,1.6"/>
<polyline points="565.0,286.5 564.5,294.3 564.5,302.4 564.5,310.6 564.3,315.7 565.0,320.8 567.6,325.9 571.7,330.0 575.8,335.1 578.8,339.1 580.5,339.5 581.5,337.0 582.9,331.0 585.0,327.0 587.0,320.8 588.0,315.7 588.0,310.6 587.0,304.5 586.0,298.4 586.5,292.2 588.0,286.5" fill="none" stroke="#ff0000" stroke-width="1.7" stroke-linejoin="round" stroke-dasharray="4.5,1.6,1.4,1.6"/>
<polyline points="592.9,286.5 592.2,290.3 591.8,295.4 592.5,299.8 594.7,304.2 598.4,307.1 602.7,308.5 606.4,308.5 610.0,307.1 613.7,304.9 616.6,301.2 618.4,296.1 618.8,291.0 617.3,286.5" fill="none" stroke="#ff0000" stroke-width="1.7" stroke-linejoin="round" stroke-dasharray="4.5,1.6,1.4,1.6"/>
<polyline points="556.4,354.9 551.2,357.5 547.2,361.6 545.6,365.7 547.2,369.7 551.2,372.3 556.4,372.8 559.0,368.0 559.5,360.0 556.4,354.9" fill="none" stroke="#ff0000" stroke-width="1.7" stroke-linejoin="round" stroke-dasharray="4.5,1.6,1.4,1.6"/>
<polyline points="591.1,352.4 591.3,339.2 595.4,335.1 601.5,333.1 607.7,334.1 611.7,339.2 612.5,345.9 610.9,352.4 607.6,357.8 604.9,362.2 604.9,367.6 604.3,372.0 601.6,375.8 598.2,375.4 595.2,372.8 594.2,368.7 595.2,363.6 594.2,358.5 591.1,352.4" fill="none" stroke="#ff0000" stroke-width="1.7" stroke-linejoin="round" stroke-dasharray="4.5,1.6,1.4,1.6"/>
<polyline points="553.3,395.2 555.3,389.2 560.4,384.0 566.6,381.0 573.7,378.9 580.9,377.9 587.0,378.4 593.1,380.5 599.3,384.0 603.4,387.1 606.4,390.0 607.4,397.3 605.4,402.9 601.3,407.5 596.2,410.0 591.1,412.6 586.0,416.2 579.9,418.7 572.7,419.2 565.5,416.7 560.4,412.6 556.9,407.5 554.3,401.3 553.3,395.2" fill="none" stroke="#ff0000" stroke-width="1.7" stroke-linejoin="round" stroke-dasharray="4.5,1.6,1.4,1.6"/>
<polyline points="555.8,418.7 554.3,422.8 556.4,426.4 558.9,425.4 558.5,420.0 555.8,418.7" fill="none" stroke="#ff0000" stroke-width="1.7" stroke-linejoin="round" stroke-dasharray="4.5,1.6,1.4,1.6"/>
<polyline points="589.3,416.3 593.4,413.2 599.5,412.2 605.6,413.2 607.7,416.3 607.7,422.4 605.6,428.6 601.5,433.7 597.4,434.7 593.4,430.6 590.3,424.5 588.2,418.4 589.3,416.3" fill="none" stroke="#ff0000" stroke-width="1.7" stroke-linejoin="round" stroke-dasharray="4.5,1.6,1.4,1.6"/>
<polyline points="563.7,463.9 568.8,461.9 575.0,462.9 580.1,467.0 583.5,472.7 582.1,477.2 576.0,479.3 568.8,479.3 564.7,477.2 562.7,472.1 563.7,463.9" fill="none" stroke="#ff0000" stroke-width="1.7" stroke-linejoin="round" stroke-dasharray="4.5,1.6,1.4,1.6"/>
<polyline points="378.7,404.3 379.4,404.3 380.1,404.3 380.8,404.3 381.5,404.3 382.2,404.3 382.9,404.3 383.6,404.3 384.3,404.3 385.0,404.3 385.7,404.3 386.4,404.3 387.1,404.3 387.8,404.3 388.5,404.3 389.2,404.3 390.0,404.3 390.7,404.3 391.4,404.3 392.1,404.3 392.8,404.3 393.5,404.3 394.2,404.3 394.9,404.3 395.6,404.3 396.3,404.3 397.0,404.3 397.7,404.3 398.4,404.3 399.1,404.3 399.8,404.3 400.5,404.3 401.2,404.3 401.9,404.3 402.6,404.3 403.3,404.3 404.0,404.3 404.7,404.3 405.4,404.3 406.1,404.3 406.8,404.3 407.5,404.3 408.2,404.3 408.9,404.3 409.6,404.3 410.3,404.3 411.0,404.3 411.8,404.3 412.5,404.3 413.2,404.3 413.9,404.3 414.6,404.3 415.3,404.3 416.0,404.3 416.7,404.3 417.4,404.3 418.1,404.3 418.8,404.3 419.5,404.3 420.2,404.3 420.9,404.3 421.6,404.3 422.3,404.3 423.0,404.3 423.7,404.3 424.4,404.3 425.1,404.3 425.8,404.3 426.5,404.3 427.2,404.3 427.9,404.3 428.6,404.3 429.3,404.3 430.0,404.3 430.7,404.3 431.4,404.3 432.1,404.3 432.9,404.3 433.6,404.3 434.3,404.3 435.0,404.3 435.7,404.3 436.4,404.3 437.1,404.3 437.8,404.3 438.5,404.3 439.2,404.3 439.9,404.3 440.6,404.3 441.3,404.3 442.0,404.3 442.7,404.3 443.4,404.3 444.1,404.3 444.8,404.3 445.5,404.3 446.2,404.3 446.9,404.3 447.6,404.3 448.3,404.3 449.0,404.3 449.7,404.3 450.4,404.3 451.1,404.3 451.8,404.3 452.5,404.3 453.2,404.3 453.9,404.3 454.7,404.3 455.4,404.3 456.1,404.3 456.8,404.3 457.5,404.3 458.2,404.3 458.9,404.3 459.6,404.3 460.3,404.3 461.0,404.3 461.7,404.3 462.4,404.3 463.1,404.3 463.8,404.3 464.5,404.3 465.2,404.3 465.9,404.3 466.6,404.3 467.3,404.3 468.0,404.3 468.7,404.3 469.4,404.3 470.1,404.3 470.8,404.3 471.5,404.3 472.2,404.3 472.9,404.3 473.6,404.3 474.3,404.3 475.0,404.3 475.7,404.3 476.5,404.3 477.2,404.3 477.9,404.3 478.6,404.3 479.3,404.3 480.0,404.3 480.7,404.3 481.4,404.3 482.1,404.3 482.8,404.3 483.5,404.3 484.2,404.3 484.9,404.3 485.6,404.3 486.3,404.3 487.0,404.3 487.7,404.3 488.4,404.3 489.1,404.3 489.8,404.3 490.5,404.3 491.2,404.3 491.9,404.3 492.6,404.3 493.3,404.3 494.0,404.3 494.7,404.3 495.4,404.3 496.1,404.3 496.8,404.3 497.6,404.3 498.3,404.3 499.0,404.3 499.7,404.3 500.4,404.3 501.1,404.3 501.8,404.3 502.5,404.3 503.2,404.3 503.9,404.3 504.6,404.3 505.3,404.3 506.0,404.3 506.7,404.3 507.4,404.3 508.1,404.3 508.8,404.3 509.5,404.3 510.2,404.3 510.9,404.3 511.6,404.3 512.3,404.3 513.0,404.3 513.7,404.3 514.4,404.3 515.1,404.3 515.8,404.3 516.5,404.3 517.2,404.3 517.9,404.3 518.6,404.3 519.4,404.3 520.1,404.4 520.8,404.4 521.5,404.4 522.2,404.4 522.9,404.4 523.6,404.4 524.3,404.4 525.0,404.4 525.7,404.4 526.4,404.4 527.1,404.4 527.8,404.4 528.5,404.4 529.2,404.4 529.9,404.5 530.0,404.5 530.6,404.5 531.3,404.5 532.0,404.5 532.7,404.5 533.4,404.6 534.1,404.6 534.8,404.6 535.5,404.7 536.2,404.7 536.9,404.8 537.6,404.8 538.3,404.9 539.0,404.9 539.7,405.0 539.7,405.0 540.4,405.1 541.2,405.2 541.9,405.3 542.6,405.4 543.3,405.5 543.8,405.6 544.0,405.6 544.7,405.7 545.4,405.9 546.1,406.0 546.4,406.1 546.8,406.2 547.5,406.4 548.2,406.5 548.5,406.6 548.9,406.8 549.6,407.0 550.2,407.2 550.3,407.2 551.0,407.5 551.6,407.7" fill="none" stroke="#000" stroke-width="2.5" stroke-dasharray="10.2,10.49" stroke-dashoffset="0.00"/>
<polyline points="551.6,407.7 551.7,407.8 552.4,408.1 552.7,408.3 553.1,408.5 553.8,408.8 553.8,408.8 554.5,409.2 554.7,409.4 555.2,409.7 555.5,409.9 555.9,410.2 556.2,410.4 556.6,410.8 556.9,411.0 557.3,411.4 557.4,411.5 557.9,412.1 558.0,412.2 558.4,412.6 558.7,413.1 558.8,413.2 559.1,413.7 559.4,414.2 559.4,414.2 559.7,414.8 560.0,415.3 560.1,415.8 560.2,415.9 560.4,416.4 560.5,417.0 560.6,417.5 560.8,418.1 560.8,418.5 560.9,418.6 561.0,419.1 561.0,419.7 561.1,420.2 561.1,420.8 561.2,421.3 561.2,421.9 561.3,422.4 561.3,422.9 561.3,423.5 561.3,424.0 561.3,424.6 561.4,425.1 561.4,425.7 561.4,426.2 561.4,426.8 561.4,427.3 561.4,427.8 561.4,428.4 561.4,428.9 561.4,429.5 561.4,430.0 561.4,430.6 561.4,431.1 561.4,431.6 561.4,432.2 561.4,432.7 561.4,433.3 561.4,433.8 561.4,434.4 561.4,434.9 561.4,435.4 561.4,436.0 561.4,436.5 561.4,437.1 561.4,437.6 561.4,438.2 561.4,438.7 561.4,439.3 561.4,439.8 561.4,440.3 561.4,440.9 561.4,441.4 561.4,442.0 561.4,442.5 561.4,443.1 561.4,443.6 561.4,444.1 561.4,444.7 561.4,445.2 561.4,445.8 561.4,446.3 561.4,446.9 561.4,447.4 561.4,448.0 561.4,448.5 561.4,449.0 561.4,449.6 561.4,450.1 561.4,450.7 561.4,451.2 561.4,451.8 561.4,452.3 561.4,452.8 561.4,453.4 561.4,453.9 561.4,454.5 561.4,455.0 561.4,455.6 561.4,456.1 561.4,456.6 561.4,457.2 561.4,457.7 561.4,458.3 561.4,458.8 561.4,459.4 561.4,459.9 561.4,460.5 561.4,461.0 561.4,461.5 561.4,462.1 561.4,462.6 561.4,463.2 561.4,463.7 561.4,464.3 561.4,464.8 561.4,465.3 561.4,465.9 561.4,466.4 561.4,467.0 561.4,467.5 561.4,468.1 561.4,468.6 561.4,469.2 561.4,469.7 561.4,470.2 561.4,470.8 561.4,471.3 561.4,471.9 561.4,472.4 561.4,473.0 561.4,473.5 561.4,474.0 561.4,474.6 561.4,475.1 561.4,475.7 561.4,476.2 561.4,476.8 561.4,477.3 561.4,477.9 561.4,478.4 561.4,478.9 561.4,479.5 561.4,480.0 561.4,480.6 561.4,481.1 561.4,481.7 561.4,482.2 561.4,482.7 561.4,483.3 561.4,483.8 561.4,484.4 561.4,484.9 561.4,485.5 561.4,486.0 561.4,486.5 561.4,487.1 561.4,487.6 561.4,488.2 561.4,488.7 561.4,489.3 561.4,489.8 561.4,490.4 561.4,490.9 561.4,491.4 561.4,492.0 561.4,492.5 561.4,493.1 561.4,493.6 561.4,494.2 561.4,494.7 561.4,495.2 561.4,495.8 561.4,496.3 561.4,496.9 561.4,497.4 561.4,498.0 561.4,498.5 561.4,499.1 561.4,499.6 561.4,500.1 561.4,500.7 561.4,501.2 561.4,501.8 561.4,502.3 561.4,502.9 561.4,503.4" fill="none" stroke="#000" stroke-width="2.5" stroke-dasharray="10.2,10.49" stroke-dashoffset="7.36"/>
<polyline points="561.4,286.5 561.4,287.0 561.4,287.6 561.4,288.1 561.4,288.7 561.4,289.2 561.4,289.8 561.4,290.3 561.4,290.8 561.4,291.4 561.4,291.9 561.4,292.5 561.4,293.0 561.4,293.6 561.4,294.1 561.4,294.7 561.4,295.2 561.4,295.7 561.4,296.3 561.4,296.8 561.4,297.4 561.4,297.9 561.4,298.5 561.4,299.0 561.4,299.5 561.4,300.1 561.4,300.6 561.4,301.2 561.4,301.7 561.4,302.3 561.3,302.8 561.3,303.4 561.3,303.9 561.2,304.4 561.1,305.0 560.9,305.5 560.8,305.7 560.7,306.1 560.4,306.6 560.1,307.1 560.1,307.2 559.6,307.7 559.4,307.9 559.1,308.2 558.7,308.6 558.5,308.8 558.0,309.1 557.8,309.3 557.3,309.6 556.9,309.9 556.6,310.1 556.0,310.4 555.9,310.5 555.2,310.8 554.9,311.0 554.5,311.2 553.8,311.5 553.8,311.5 553.1,311.8 552.5,312.0 552.4,312.1 551.7,312.4 551.1,312.6 551.0,312.6 550.3,312.9 549.7,313.1 549.6,313.2 548.9,313.5 548.3,313.7 548.2,313.7 547.5,314.0 546.9,314.2 546.8,314.3 546.1,314.6 545.7,314.8 545.4,314.9 544.7,315.3 544.7,315.3 544.1,315.9 544.1,316.4 544.5,316.9 544.7,317.0 545.4,317.5 545.4,317.5 546.1,317.8 546.6,318.0 546.8,318.1 547.5,318.4 547.9,318.6 548.2,318.7 548.9,319.0 549.3,319.1 549.6,319.2 550.3,319.5 550.7,319.7 551.0,319.8 551.7,320.1 552.0,320.2 552.4,320.4 553.1,320.7 553.2,320.7 553.8,321.0 554.4,321.3 554.5,321.3 555.2,321.7 555.5,321.8 555.9,322.1 556.4,322.4 556.6,322.5 557.3,322.9 557.3,323.0 558.0,323.5 558.0,323.5 558.7,324.0 558.7,324.1 559.2,324.6 559.4,324.8 559.7,325.1 560.1,325.6 560.1,325.7 560.4,326.2 560.7,326.7 560.8,327.2 560.9,327.3 561.0,327.8 561.1,328.4 561.2,328.9 561.3,329.4 561.3,330.0 561.3,330.5 561.4,331.1 561.4,331.6 561.4,332.2 561.4,332.7 561.4,333.3 561.4,333.8 561.4,334.3 561.4,334.9 561.4,335.4 561.4,336.0 561.4,336.5 561.4,337.1 561.4,337.6 561.4,338.1 561.4,338.7 561.4,339.2 561.4,339.8 561.4,340.3" fill="none" stroke="#000" stroke-width="2.5" stroke-dasharray="10.2,10.49" stroke-dashoffset="0.00"/>
<polyline points="561.4,340.3 561.4,340.9 561.4,341.4 561.4,341.9 561.4,342.5 561.4,343.0 561.4,343.6 561.4,344.1 561.4,344.7 561.4,345.2 561.4,345.8 561.4,346.3 561.4,346.8 561.4,347.4 561.4,347.9 561.4,348.5 561.4,349.0 561.4,349.6 561.4,350.1 561.4,350.6 561.4,351.2 561.4,351.7 561.4,352.3 561.4,352.8 561.4,353.4 561.4,353.9 561.4,354.5 561.4,355.0 561.4,355.5 561.4,356.1 561.4,356.6 561.4,357.2 561.4,357.7 561.4,358.3 561.4,358.8 561.4,359.3 561.4,359.9 561.4,360.4 561.4,361.0 561.4,361.5 561.4,362.1 561.4,362.6 561.4,363.1 561.4,363.7 561.4,364.2 561.4,364.8 561.4,365.3 561.4,365.9 561.4,366.4 561.4,367.0 561.4,367.5 561.4,368.0 561.4,368.6 561.4,369.1 561.4,369.7 561.4,370.2 561.4,370.8 561.4,371.3 561.3,371.8 561.3,372.4 561.3,372.9 561.2,373.5 561.2,374.0 561.1,374.6 561.0,375.1 560.8,375.7 560.8,375.7 560.7,376.2 560.5,376.7 560.2,377.3 560.1,377.5 559.9,377.8 559.6,378.4 559.4,378.6 559.2,378.9 558.7,379.4 558.7,379.5 558.1,380.0 558.0,380.1 557.5,380.5 557.3,380.6 556.7,381.1 556.6,381.1 555.9,381.6 555.8,381.6 555.2,382.0 554.8,382.2 554.5,382.3 553.8,382.6 553.6,382.7 553.1,382.9 552.4,383.2 552.3,383.3 551.7,383.5 551.0,383.7 550.6,383.8 550.3,383.9 549.6,384.1 548.9,384.3 548.7,384.3 548.2,384.5 547.5,384.6 546.8,384.8 546.2,384.9 546.1,384.9 545.4,385.0 544.7,385.1 544.0,385.3 543.3,385.4 542.6,385.4 542.6,385.4 541.9,385.5 541.2,385.6 540.4,385.7 539.7,385.7 539.0,385.8 538.3,385.8 537.6,385.9 536.9,385.9 536.3,386.0" fill="none" stroke="#000" stroke-width="2.5" stroke-dasharray="10.2,10.49" stroke-dashoffset="8.19"/>
<polyline points="536.3,386.0 536.2,386.0 535.5,386.0 534.8,386.0 534.1,386.1 533.4,386.1 532.7,386.1 532.0,386.1 531.3,386.2 530.6,386.2 529.9,386.2 529.2,386.2 528.5,386.2 527.8,386.2 527.1,386.2 526.4,386.3 525.7,386.3 525.0,386.3 524.3,386.3 523.6,386.3 522.9,386.3 522.2,386.3 521.5,386.3 520.8,386.3 520.1,386.3 519.4,386.3 518.6,386.3 517.9,386.3 517.2,386.3 516.5,386.3 515.8,386.3 515.1,386.3 514.4,386.3 513.7,386.3 513.0,386.3 512.3,386.3 511.6,386.3 510.9,386.3 510.2,386.3 509.5,386.3 508.8,386.3 508.1,386.3 507.4,386.3 506.7,386.3 506.0,386.3 505.3,386.3 504.6,386.3 503.9,386.3 503.2,386.3 502.5,386.3 501.8,386.3 501.1,386.3 500.4,386.3 499.7,386.3 499.0,386.3 498.3,386.3 497.6,386.3 496.8,386.3 496.1,386.3 495.4,386.3 494.7,386.3 494.0,386.3 493.3,386.3 492.6,386.3 491.9,386.3 491.2,386.3 490.5,386.3 489.8,386.3 489.1,386.3 488.4,386.3 487.7,386.3 487.0,386.3 486.3,386.3 485.6,386.3 484.9,386.3 484.2,386.3 483.5,386.3 482.8,386.3 482.1,386.3 481.4,386.3 480.7,386.3 480.0,386.3 479.3,386.3 478.6,386.3 477.9,386.3 477.2,386.3 476.5,386.3 475.7,386.3 475.0,386.3 474.3,386.3 473.6,386.3 472.9,386.3 472.2,386.3 471.5,386.3 470.8,386.3 470.1,386.3 469.4,386.3 468.7,386.3 468.0,386.3 467.3,386.3 466.6,386.3 465.9,386.3 465.2,386.3 464.5,386.3 463.8,386.3 463.1,386.3 462.4,386.3 461.7,386.3 461.0,386.3 460.3,386.3 459.6,386.3 458.9,386.3 458.2,386.3 457.5,386.3 456.8,386.3 456.1,386.3 455.4,386.3 454.7,386.3 453.9,386.3 453.2,386.3 452.5,386.3 451.8,386.3 451.1,386.3 450.4,386.3 449.7,386.3 449.0,386.3 448.3,386.3 447.6,386.3 446.9,386.3 446.2,386.3 445.5,386.3 444.8,386.3 444.1,386.3 443.4,386.3 442.7,386.3 442.0,386.3 441.3,386.3 440.6,386.3 439.9,386.3 439.2,386.3 438.5,386.3 437.8,386.3 437.1,386.3 436.4,386.3 435.7,386.3 435.0,386.3 434.3,386.3 433.6,386.3 432.9,386.3 432.1,386.3 431.4,386.3 430.7,386.3 430.0,386.3 429.3,386.3 428.6,386.3 427.9,386.3 427.2,386.3 426.5,386.3 425.8,386.3 425.1,386.3 424.4,386.3 423.7,386.3 423.0,386.3 422.3,386.3 421.6,386.3 420.9,386.3 420.2,386.3 419.5,386.3 418.8,386.3 418.1,386.3 417.4,386.3 416.7,386.3 416.0,386.3 415.3,386.3 414.6,386.3 413.9,386.3 413.2,386.3 412.5,386.3 411.8,386.3 411.0,386.3 410.3,386.3 409.6,386.3 408.9,386.3 408.2,386.3 407.5,386.3 406.8,386.3 406.1,386.3 405.4,386.3 404.7,386.3 404.0,386.3 403.3,386.3 402.6,386.3 401.9,386.3 401.2,386.3 400.5,386.3 399.8,386.3 399.1,386.3 398.4,386.3 397.7,386.3 397.0,386.3 396.3,386.3 395.6,386.3 394.9,386.3 394.2,386.3 393.5,386.3 392.8,386.3 392.1,386.3 391.4,386.3 390.7,386.3 390.0,386.3 389.2,386.3 388.5,386.3 387.8,386.3 387.1,386.3 386.4,386.3 385.7,386.3 385.0,386.3 384.3,386.3 383.6,386.3 382.9,386.3 382.2,386.3 381.5,386.3 380.8,386.3 380.1,386.3 379.4,386.3 378.7,386.3" fill="none" stroke="#000" stroke-width="2.5" stroke-dasharray="10.2,10.49" stroke-dashoffset="9.89"/>
<polyline points="588.6,503.4 588.6,502.9 588.6,502.3 588.6,501.8 588.6,501.2 588.6,500.7 588.6,500.1 588.6,499.6 588.6,499.1 588.6,498.5 588.6,498.0 588.6,497.4 588.6,496.9 588.6,496.3 588.6,495.8 588.6,495.2 588.6,494.7 588.6,494.2 588.6,493.6 588.6,493.1 588.6,492.5 588.6,492.0 588.6,491.4 588.6,490.9 588.6,490.4 588.6,489.8 588.6,489.3 588.6,488.7 588.6,488.2 588.6,487.6 588.6,487.1 588.6,486.5 588.6,486.0 588.6,485.5 588.6,484.9 588.6,484.4 588.6,483.8 588.6,483.3 588.6,482.7 588.6,482.2 588.6,481.7 588.6,481.1 588.6,480.6 588.6,480.0 588.6,479.5 588.6,478.9 588.6,478.4 588.6,477.9 588.6,477.3 588.6,476.8 588.6,476.2 588.6,475.7 588.6,475.1 588.6,474.6 588.6,474.0 588.6,473.5 588.6,473.0 588.6,472.4 588.6,471.9 588.6,471.3 588.6,470.8 588.6,470.2 588.6,469.7 588.6,469.2 588.6,468.6 588.6,468.1 588.6,467.5 588.6,467.0 588.6,466.4 588.6,465.9 588.6,465.3 588.6,464.8 588.6,464.3 588.6,463.7 588.6,463.2 588.6,462.6 588.6,462.1 588.6,461.5 588.6,461.0 588.6,460.5 588.6,459.9 588.6,459.4 588.6,458.8 588.6,458.3 588.6,457.7 588.6,457.2 588.6,456.6 588.6,456.1 588.6,455.6 588.6,455.0 588.6,454.5 588.6,453.9 588.6,453.4 588.6,452.8 588.6,452.3 588.6,451.8 588.6,451.2 588.6,450.7 588.6,450.1 588.6,449.6 588.6,449.0 588.6,448.5 588.6,448.0 588.6,447.4 588.6,446.9 588.6,446.3 588.6,445.8 588.6,445.2 588.6,444.7 588.6,444.1 588.6,443.6 588.6,443.1 588.6,442.5 588.6,442.0 588.6,441.4 588.6,440.9 588.6,440.3 588.6,439.8 588.6,439.3 588.6,438.7 588.6,438.2 588.6,437.6 588.6,437.1 588.6,436.5 588.6,436.0 588.6,435.4 588.6,434.9 588.6,434.4 588.6,433.8 588.6,433.3 588.6,432.7 588.6,432.2 588.6,431.6 588.6,431.1 588.6,430.6 588.6,430.0 588.6,429.5 588.6,428.9 588.6,428.4 588.6,427.8 588.6,427.3 588.6,426.8 588.6,426.2 588.6,425.7 588.7,425.1 588.7,424.6 588.7,424.0 588.7,423.5 588.7,422.9 588.7,422.4 588.8,421.9 588.8,421.3 588.8,420.8 588.9,420.2 588.9,419.7" fill="none" stroke="#000" stroke-width="2.5" stroke-dasharray="10.2,10.49" stroke-dashoffset="0.00"/>
<polyline points="588.9,419.7 589.0,419.4 589.0,419.1 589.1,418.6 589.2,418.1 589.3,417.5 589.4,417.0 589.5,416.4 589.7,415.9 589.7,415.9 589.9,415.3 590.1,414.8 590.3,414.2 590.4,414.1 590.6,413.7 590.9,413.2 591.1,412.8 591.2,412.6 591.6,412.1 591.8,411.8 592.0,411.5 592.5,411.0 592.5,411.0 593.0,410.4 593.2,410.3 593.6,409.9 593.9,409.7 594.3,409.4 594.6,409.1 595.0,408.8 595.3,408.6 595.9,408.3 596.0,408.2 596.7,407.8 596.9,407.7 597.4,407.4 598.0,407.2 598.1,407.1 598.8,406.8 599.3,406.6 599.5,406.5 600.2,406.3 600.8,406.1 600.9,406.1 601.6,405.9 602.3,405.7 602.9,405.6 603.0,405.5 603.7,405.4 604.4,405.2 605.1,405.1 605.8,405.0 605.9,405.0 606.6,404.9 607.3,404.8 608.0,404.8 608.7,404.7 609.4,404.6 610.1,404.6 610.8,404.5 611.5,404.5 612.2,404.5 612.5,404.5 612.9,404.4 613.6,404.4 614.3,404.4 615.0,404.4 615.7,404.4 616.4,404.4 617.1,404.4 617.8,404.4 618.5,404.4 619.2,404.3 619.9,404.3 620.6,404.3 621.3,404.3 622.0,404.3 622.7,404.3 623.4,404.3 624.1,404.3 624.8,404.3 625.5,404.3 626.2,404.3 627.0,404.3 627.7,404.3 628.4,404.3 629.1,404.3 629.8,404.3 630.5,404.3 631.2,404.3 631.9,404.3 632.6,404.3 633.3,404.3 634.0,404.3 634.7,404.3 635.4,404.3 636.1,404.3 636.8,404.3 637.5,404.3 638.2,404.3 638.9,404.3 639.6,404.3 640.3,404.3 641.0,404.3 641.7,404.3 642.4,404.3 643.1,404.3 643.8,404.3 644.5,404.3 645.2,404.3 645.9,404.3 646.6,404.3 647.3,404.3 648.0,404.3 648.8,404.3 649.5,404.3 650.2,404.3 650.9,404.3 651.6,404.3 652.3,404.3 653.0,404.3 653.7,404.3 654.4,404.3 655.1,404.3 655.8,404.3 656.5,404.3 657.2,404.3 657.9,404.3 658.6,404.3 659.3,404.3" fill="none" stroke="#000" stroke-width="2.5" stroke-dasharray="10.2,10.49" stroke-dashoffset="0.51"/>
<polyline points="659.3,386.3 658.6,386.3 657.9,386.3 657.2,386.3 656.5,386.3 655.8,386.3 655.1,386.3 654.4,386.3 653.7,386.3 653.0,386.3 652.3,386.3 651.6,386.3 650.9,386.3 650.2,386.3 649.5,386.3 648.8,386.3 648.0,386.3 647.3,386.3 646.6,386.3 645.9,386.3 645.2,386.3 644.5,386.3 643.8,386.3 643.1,386.3 642.4,386.3 641.7,386.3 641.0,386.3 640.3,386.3 639.6,386.3 638.9,386.3 638.2,386.3 637.5,386.3 636.8,386.3 636.1,386.3 635.4,386.3 634.7,386.3 634.0,386.3 633.3,386.3 632.6,386.3 631.9,386.3 631.2,386.3 630.5,386.3 629.8,386.3 629.1,386.3 628.4,386.3 627.7,386.3 627.0,386.3 626.2,386.3 625.5,386.3 624.8,386.3 624.1,386.3 623.4,386.3 622.7,386.3 622.0,386.3 621.3,386.3 620.6,386.3 619.9,386.3 619.2,386.3 618.5,386.3 617.8,386.3 617.1,386.3 616.4,386.3 615.7,386.3 615.0,386.3 614.3,386.2 613.6,386.2 612.9,386.2 612.2,386.2 611.5,386.2 610.8,386.1 610.1,386.1 609.4,386.1 608.7,386.0 608.3,386.0 608.0,386.0 607.3,385.9 606.6,385.8 605.9,385.7 605.1,385.7 604.4,385.6 603.7,385.4 603.7,385.4 603.0,385.3 602.3,385.2 601.6,385.0 601.1,384.9 600.9,384.9 600.2,384.7 599.5,384.5 599.1,384.3 598.8,384.2 598.1,384.0 597.6,383.8 597.4,383.7 596.7,383.4 596.3,383.3 596.0,383.1 595.3,382.8 595.2,382.7 594.6,382.4 594.2,382.2 593.9,382.0 593.4,381.6 593.2,381.5 592.6,381.1 592.5,381.0 592.0,380.5 591.8,380.3 591.4,380.0 591.1,379.6 591.0,379.5 590.5,378.9 590.4,378.7 590.2,378.4 589.9,377.8 589.7,377.4 589.6,377.3 589.4,376.7 589.2,376.2 589.1,375.7 589.0,375.1 589.0,375.1 588.9,374.6 588.8,374.0 588.8,373.5 588.7,372.9 588.7,372.4 588.7,371.8 588.6,371.3 588.6,370.8 588.6,370.2 588.6,369.7 588.6,369.1 588.6,368.6 588.6,368.0 588.6,367.5 588.6,367.0 588.6,366.4 588.6,365.9 588.6,365.3 588.6,364.8 588.6,364.2 588.6,363.7 588.6,363.1 588.6,362.6 588.6,362.1 588.6,361.5 588.6,361.0 588.6,360.4 588.6,359.9 588.6,359.3 588.6,358.8 588.6,358.3 588.6,357.7 588.6,357.2 588.6,356.6 588.6,356.1 588.6,355.5 588.6,355.0 588.6,354.5 588.6,353.9 588.6,353.4 588.6,352.8 588.6,352.3 588.6,351.7 588.6,351.2 588.6,350.6 588.6,350.1 588.6,349.6 588.6,349.0 588.6,348.5 588.6,347.9 588.6,347.4 588.6,346.8 588.6,346.3 588.6,345.8 588.6,345.2 588.6,344.7 588.6,344.1 588.6,343.6 588.6,343.0 588.6,342.5 588.6,341.9 588.6,341.4 588.6,340.9 588.6,340.3 588.6,339.8 588.6,339.2 588.6,338.7 588.6,338.1 588.6,337.6 588.6,337.1 588.6,336.5 588.6,336.0 588.6,335.4 588.6,334.9 588.6,334.3 588.6,333.8 588.6,333.3 588.6,332.7 588.6,332.2 588.6,331.6 588.6,331.1 588.7,330.5 588.7,330.0 588.7,329.4 588.8,328.9 588.9,328.4 589.0,327.8 589.0,327.7 589.1,327.3 589.3,326.7 589.5,326.2 589.7,325.8 589.8,325.6 590.1,325.1 590.4,324.7 590.5,324.6 591.0,324.0 591.1,323.9 591.5,323.5 591.8,323.2 592.2,322.9 592.5,322.7 592.9,322.4 593.2,322.2 593.7,321.8 593.9,321.7 594.5,321.3 594.6,321.3 595.3,320.9 595.5,320.7 596.0,320.5 596.5,320.2 596.7,320.1 597.4,319.7 597.6,319.7 598.1,319.4 598.7,319.1 598.8,319.0 599.5,318.7 599.7,318.6 600.2,318.3 600.8,318.0 600.9,317.9 601.6,317.5 601.6,317.5 602.3,316.9 602.3,316.9 602.6,316.4 602.6,315.9 602.3,315.5 602.2,315.3 601.6,314.9 601.4,314.8 600.9,314.5 600.5,314.2 600.2,314.1 599.5,313.7 599.4,313.7 598.8,313.4 598.3,313.1 598.1,313.0 597.4,312.7 597.2,312.6 596.7,312.4 596.1,312.0 596.0,312.0 595.3,311.6 595.1,311.5 594.6,311.2 594.1,311.0 593.9,310.8 593.2,310.4 593.2,310.4 592.5,309.9 592.4,309.9 591.8,309.4 591.7,309.3 591.1,308.8 591.1,308.8 590.6,308.2 590.4,308.0 590.1,307.7 589.8,307.2 589.7,307.0 589.5,306.6 589.2,306.1 589.0,305.5 589.0,305.2 588.9,305.0 588.8,304.4 588.7,303.9 588.7,303.4 588.7,302.8 588.6,302.3 588.6,301.7 588.6,301.2 588.6,300.6 588.6,300.1 588.6,299.5 588.6,299.0 588.6,298.5 588.6,297.9 588.6,297.4 588.6,296.8 588.6,296.3 588.6,295.7 588.6,295.2 588.6,294.7 588.6,294.1 588.6,293.6 588.6,293.0 588.6,292.5 588.6,291.9 588.6,291.4 588.6,290.8 588.6,290.3 588.6,289.8 588.6,289.2 588.6,288.7 588.6,288.1 588.6,287.6 588.6,287.0 588.6,286.5" fill="none" stroke="#000" stroke-width="2.5" stroke-dasharray="10.2,10.49" stroke-dashoffset="0.00"/>
<polyline points="588.6,286.5" fill="none" stroke="#000" stroke-width="2.5" stroke-dasharray="10.2,10.49" stroke-dashoffset="0.00"/>
<polyline points="588.6,286.5" fill="none" stroke="#000" stroke-width="2.5" stroke-dasharray="10.2,10.49" stroke-dashoffset="0.00"/>
</g>
<g fill="#0000ff"><circle cx="378.9" cy="286.6" r="2"/><circle cx="388.8" cy="287.1" r="2"/><circle cx="399.2" cy="286.6" r="2"/><circle cx="415.9" cy="286.6" r="2"/><circle cx="428.8" cy="288.7" r="2"/><circle cx="442.0" cy="289.9" r="2"/><circle cx="378.9" cy="320.6" r="2"/><circle cx="417.3" cy="326.7" r="2"/><circle cx="455.8" cy="327.5" r="2"/><circle cx="389.5" cy="349.5" r="2"/><circle cx="464.8" cy="352.3" r="2"/><circle cx="474.5" cy="295.2" r="2"/><circle cx="498.2" cy="287.2" r="2"/><circle cx="527.4" cy="298.0" r="2"/><circle cx="538.6" cy="290.6" r="2"/><circle cx="478.1" cy="335.0" r="2"/><circle cx="511.4" cy="332.7" r="2"/><circle cx="486.3" cy="347.5" r="2"/><circle cx="533.8" cy="357.0" r="2"/><circle cx="557.4" cy="286.6" r="2"/><circle cx="560.4" cy="286.6" r="2"/><circle cx="563.3" cy="286.9" r="2"/><circle cx="557.9" cy="289.2" r="2"/><circle cx="559.4" cy="290.2" r="2"/><circle cx="553.8" cy="292.2" r="2"/><circle cx="557.9" cy="293.2" r="2"/><circle cx="560.4" cy="298.3" r="2"/><circle cx="560.9" cy="300.4" r="2"/><circle cx="559.9" cy="302.9" r="2"/><circle cx="559.4" cy="305.0" r="2"/><circle cx="558.9" cy="310.1" r="2"/><circle cx="558.9" cy="312.1" r="2"/><circle cx="556.9" cy="315.7" r="2"/><circle cx="560.4" cy="318.8" r="2"/><circle cx="564.3" cy="319.6" r="2"/><circle cx="560.9" cy="323.9" r="2"/><circle cx="560.4" cy="325.9" r="2"/><circle cx="550.7" cy="308.4" r="2"/><circle cx="566.6" cy="310.1" r="2"/><circle cx="551.2" cy="318.3" r="2"/><circle cx="567.4" cy="289.2" r="2"/><circle cx="573.2" cy="286.6" r="2"/><circle cx="572.9" cy="290.7" r="2"/><circle cx="578.3" cy="294.8" r="2"/><circle cx="578.8" cy="308.1" r="2"/><circle cx="581.4" cy="288.6" r="2"/><circle cx="583.9" cy="286.6" r="2"/><circle cx="585.0" cy="289.7" r="2"/><circle cx="589.6" cy="286.6" r="2"/><circle cx="588.0" cy="294.3" r="2"/><circle cx="590.1" cy="296.3" r="2"/><circle cx="593.1" cy="296.3" r="2"/><circle cx="590.1" cy="299.9" r="2"/><circle cx="589.6" cy="301.4" r="2"/><circle cx="589.3" cy="306.0" r="2"/><circle cx="590.1" cy="308.8" r="2"/><circle cx="584.5" cy="310.6" r="2"/><circle cx="585.8" cy="313.7" r="2"/><circle cx="590.6" cy="313.2" r="2"/><circle cx="591.1" cy="316.7" r="2"/><circle cx="590.6" cy="322.9" r="2"/><circle cx="592.1" cy="321.3" r="2"/><circle cx="586.5" cy="326.5" r="2"/><circle cx="580.9" cy="334.1" r="2"/><circle cx="585.0" cy="332.6" r="2"/><circle cx="590.1" cy="334.6" r="2"/><circle cx="596.2" cy="287.1" r="2"/><circle cx="603.4" cy="286.6" r="2"/><circle cx="605.4" cy="287.6" r="2"/><circle cx="608.0" cy="288.3" r="2"/><circle cx="601.8" cy="299.9" r="2"/><circle cx="606.9" cy="306.5" r="2"/><circle cx="609.0" cy="289.8" r="2"/><circle cx="620.5" cy="291.7" r="2"/><circle cx="635.4" cy="286.5" r="2"/><circle cx="638.4" cy="286.5" r="2"/><circle cx="652.7" cy="286.5" r="2"/><circle cx="656.3" cy="286.5" r="2"/><circle cx="659.3" cy="286.5" r="2"/><circle cx="614.0" cy="305.9" r="2"/><circle cx="659.3" cy="315.9" r="2"/><circle cx="652.1" cy="323.7" r="2"/><circle cx="615.5" cy="328.4" r="2"/><circle cx="612.8" cy="333.3" r="2"/><circle cx="407.3" cy="363.3" r="2"/><circle cx="395.5" cy="369.6" r="2"/><circle cx="433.9" cy="369.3" r="2"/><circle cx="381.2" cy="375.5" r="2"/><circle cx="425.0" cy="373.0" r="2"/><circle cx="428.1" cy="376.5" r="2"/><circle cx="408.0" cy="380.7" r="2"/><circle cx="378.9" cy="384.4" r="2"/><circle cx="392.7" cy="388.6" r="2"/><circle cx="398.7" cy="388.6" r="2"/><circle cx="409.8" cy="389.0" r="2"/><circle cx="422.8" cy="386.9" r="2"/><circle cx="407.0" cy="392.7" r="2"/><circle cx="417.7" cy="394.9" r="2"/><circle cx="403.1" cy="401.5" r="2"/><circle cx="379.5" cy="405.6" r="2"/><circle cx="418.4" cy="405.6" r="2"/><circle cx="442.7" cy="402.2" r="2"/><circle cx="402.4" cy="410.5" r="2"/><circle cx="404.2" cy="412.1" r="2"/><circle cx="420.0" cy="410.2" r="2"/><circle cx="423.9" cy="412.6" r="2"/><circle cx="401.0" cy="415.7" r="2"/><circle cx="378.9" cy="414.9" r="2"/><circle cx="395.1" cy="426.0" r="2"/><circle cx="467.6" cy="381.4" r="2"/><circle cx="468.0" cy="411.2" r="2"/><circle cx="423.2" cy="429.9" r="2"/><circle cx="545.1" cy="366.0" r="2"/><circle cx="469.0" cy="379.1" r="2"/><circle cx="482.3" cy="382.3" r="2"/><circle cx="489.1" cy="380.5" r="2"/><circle cx="515.5" cy="382.1" r="2"/><circle cx="543.7" cy="377.4" r="2"/><circle cx="541.7" cy="387.3" r="2"/><circle cx="478.1" cy="399.9" r="2"/><circle cx="500.7" cy="400.6" r="2"/><circle cx="503.0" cy="401.6" r="2"/><circle cx="493.5" cy="407.7" r="2"/><circle cx="525.7" cy="396.8" r="2"/><circle cx="529.2" cy="395.8" r="2"/><circle cx="524.7" cy="406.7" r="2"/><circle cx="560.4" cy="344.7" r="2"/><circle cx="560.4" cy="347.8" r="2"/><circle cx="560.9" cy="349.3" r="2"/><circle cx="557.4" cy="354.4" r="2"/><circle cx="559.4" cy="356.5" r="2"/><circle cx="560.4" cy="358.5" r="2"/><circle cx="558.4" cy="362.1" r="2"/><circle cx="559.9" cy="366.7" r="2"/><circle cx="561.5" cy="370.8" r="2"/><circle cx="558.4" cy="373.3" r="2"/><circle cx="557.9" cy="375.9" r="2"/><circle cx="559.9" cy="380.0" r="2"/><circle cx="560.4" cy="383.0" r="2"/><circle cx="563.0" cy="385.1" r="2"/><circle cx="559.9" cy="387.1" r="2"/><circle cx="560.9" cy="389.2" r="2"/><circle cx="570.1" cy="382.5" r="2"/><circle cx="571.7" cy="386.6" r="2"/><circle cx="585.0" cy="339.1" r="2"/><circle cx="586.5" cy="341.1" r="2"/><circle cx="587.5" cy="344.7" r="2"/><circle cx="590.1" cy="338.1" r="2"/><circle cx="592.1" cy="343.2" r="2"/><circle cx="593.1" cy="348.3" r="2"/><circle cx="590.6" cy="351.3" r="2"/><circle cx="590.6" cy="353.9" r="2"/><circle cx="595.2" cy="352.9" r="2"/><circle cx="598.2" cy="346.0" r="2"/><circle cx="598.5" cy="350.8" r="2"/><circle cx="583.9" cy="357.0" r="2"/><circle cx="587.5" cy="359.5" r="2"/><circle cx="593.1" cy="361.6" r="2"/><circle cx="595.7" cy="362.6" r="2"/><circle cx="596.0" cy="366.7" r="2"/><circle cx="589.0" cy="367.7" r="2"/><circle cx="590.6" cy="370.8" r="2"/><circle cx="591.1" cy="373.3" r="2"/><circle cx="590.6" cy="375.9" r="2"/><circle cx="606.4" cy="380.0" r="2"/><circle cx="587.0" cy="385.1" r="2"/><circle cx="590.1" cy="382.0" r="2"/><circle cx="591.1" cy="385.1" r="2"/><circle cx="592.1" cy="388.6" r="2"/><circle cx="588.0" cy="388.6" r="2"/><circle cx="628.8" cy="339.9" r="2"/><circle cx="622.1" cy="346.4" r="2"/><circle cx="611.2" cy="356.7" r="2"/><circle cx="647.5" cy="354.9" r="2"/><circle cx="606.0" cy="389.3" r="2"/><circle cx="615.2" cy="385.9" r="2"/><circle cx="642.9" cy="385.5" r="2"/><circle cx="634.8" cy="391.3" r="2"/><circle cx="648.9" cy="377.2" r="2"/><circle cx="655.4" cy="378.3" r="2"/><circle cx="657.8" cy="376.8" r="2"/><circle cx="654.9" cy="394.6" r="2"/><circle cx="559.4" cy="385.5" r="2"/><circle cx="560.9" cy="396.8" r="2"/><circle cx="566.6" cy="398.3" r="2"/><circle cx="568.4" cy="396.4" r="2"/><circle cx="574.2" cy="394.4" r="2"/><circle cx="556.3" cy="400.8" r="2"/><circle cx="560.4" cy="403.9" r="2"/><circle cx="566.6" cy="408.0" r="2"/><circle cx="575.8" cy="403.4" r="2"/><circle cx="576.8" cy="406.5" r="2"/><circle cx="577.8" cy="409.0" r="2"/><circle cx="573.2" cy="412.6" r="2"/><circle cx="582.9" cy="391.3" r="2"/><circle cx="588.0" cy="395.2" r="2"/><circle cx="590.6" cy="395.7" r="2"/><circle cx="594.2" cy="395.7" r="2"/><circle cx="583.4" cy="402.4" r="2"/><circle cx="585.5" cy="404.9" r="2"/><circle cx="586.0" cy="407.0" r="2"/><circle cx="590.1" cy="402.9" r="2"/><circle cx="593.1" cy="401.3" r="2"/><circle cx="594.7" cy="403.4" r="2"/><circle cx="595.7" cy="404.9" r="2"/><circle cx="590.6" cy="407.5" r="2"/><circle cx="596.7" cy="408.0" r="2"/><circle cx="600.3" cy="408.5" r="2"/><circle cx="588.0" cy="411.1" r="2"/><circle cx="591.1" cy="410.0" r="2"/><circle cx="595.2" cy="412.6" r="2"/><circle cx="557.4" cy="410.0" r="2"/><circle cx="559.4" cy="411.1" r="2"/><circle cx="560.4" cy="414.6" r="2"/><circle cx="556.9" cy="421.3" r="2"/><circle cx="560.9" cy="430.0" r="2"/><circle cx="560.9" cy="433.0" r="2"/><circle cx="559.9" cy="439.2" r="2"/><circle cx="590.1" cy="417.7" r="2"/><circle cx="591.1" cy="420.3" r="2"/><circle cx="590.1" cy="423.8" r="2"/><circle cx="592.1" cy="425.4" r="2"/><circle cx="591.6" cy="428.4" r="2"/><circle cx="590.6" cy="430.0" r="2"/><circle cx="599.3" cy="431.5" r="2"/><circle cx="600.3" cy="434.0" r="2"/><circle cx="580.9" cy="434.9" r="2"/><circle cx="585.5" cy="437.6" r="2"/><circle cx="654.6" cy="396.3" r="2"/><circle cx="656.5" cy="402.0" r="2"/><circle cx="657.6" cy="407.4" r="2"/><circle cx="654.9" cy="411.7" r="2"/><circle cx="652.0" cy="416.4" r="2"/><circle cx="642.7" cy="412.6" r="2"/><circle cx="631.0" cy="411.2" r="2"/><circle cx="623.7" cy="405.2" r="2"/><circle cx="639.7" cy="425.9" r="2"/><circle cx="643.5" cy="442.2" r="2"/><circle cx="384.0" cy="438.0" r="2"/><circle cx="439.8" cy="450.6" r="2"/><circle cx="392.6" cy="469.8" r="2"/><circle cx="461.6" cy="467.1" r="2"/><circle cx="395.7" cy="494.1" r="2"/><circle cx="414.3" cy="498.8" r="2"/><circle cx="454.8" cy="497.4" r="2"/><circle cx="379.0" cy="503.1" r="2"/><circle cx="413.8" cy="503.4" r="2"/><circle cx="434.4" cy="503.1" r="2"/><circle cx="487.0" cy="416.1" r="2"/><circle cx="510.4" cy="411.5" r="2"/><circle cx="509.5" cy="415.7" r="2"/><circle cx="522.4" cy="418.5" r="2"/><circle cx="479.6" cy="429.4" r="2"/><circle cx="493.4" cy="464.7" r="2"/><circle cx="489.2" cy="471.5" r="2"/><circle cx="503.6" cy="470.2" r="2"/><circle cx="518.7" cy="464.5" r="2"/><circle cx="521.1" cy="476.7" r="2"/><circle cx="530.4" cy="469.3" r="2"/><circle cx="539.6" cy="463.8" r="2"/><circle cx="540.0" cy="472.8" r="2"/><circle cx="541.5" cy="480.2" r="2"/><circle cx="494.2" cy="491.3" r="2"/><circle cx="476.2" cy="503.4" r="2"/><circle cx="509.9" cy="503.4" r="2"/><circle cx="530.2" cy="503.4" r="2"/><circle cx="560.2" cy="435.0" r="2"/><circle cx="560.9" cy="443.5" r="2"/><circle cx="559.6" cy="448.0" r="2"/><circle cx="558.3" cy="451.9" r="2"/><circle cx="561.5" cy="453.9" r="2"/><circle cx="562.2" cy="457.8" r="2"/><circle cx="560.9" cy="463.0" r="2"/><circle cx="562.2" cy="466.3" r="2"/><circle cx="561.5" cy="469.6" r="2"/><circle cx="561.5" cy="473.5" r="2"/><circle cx="560.9" cy="475.4" r="2"/><circle cx="562.2" cy="477.4" r="2"/><circle cx="566.1" cy="480.6" r="2"/><circle cx="560.9" cy="484.5" r="2"/><circle cx="561.5" cy="490.4" r="2"/><circle cx="562.8" cy="493.0" r="2"/><circle cx="560.9" cy="495.6" r="2"/><circle cx="562.2" cy="498.2" r="2"/><circle cx="560.9" cy="501.5" r="2"/><circle cx="564.1" cy="500.8" r="2"/><circle cx="562.2" cy="503.4" r="2"/><circle cx="553.0" cy="449.1" r="2"/><circle cx="549.4" cy="464.7" r="2"/><circle cx="555.6" cy="498.6" r="2"/><circle cx="577.2" cy="462.6" r="2"/><circle cx="575.9" cy="479.3" r="2"/><circle cx="588.2" cy="437.6" r="2"/><circle cx="590.2" cy="440.2" r="2"/><circle cx="586.9" cy="442.8" r="2"/><circle cx="588.9" cy="444.8" r="2"/><circle cx="590.2" cy="447.4" r="2"/><circle cx="586.9" cy="448.7" r="2"/><circle cx="587.6" cy="451.9" r="2"/><circle cx="585.6" cy="453.9" r="2"/><circle cx="588.9" cy="455.9" r="2"/><circle cx="586.3" cy="457.8" r="2"/><circle cx="586.9" cy="465.0" r="2"/><circle cx="588.2" cy="466.3" r="2"/><circle cx="588.9" cy="470.9" r="2"/><circle cx="587.6" cy="474.1" r="2"/><circle cx="588.9" cy="481.9" r="2"/><circle cx="586.9" cy="485.8" r="2"/><circle cx="586.3" cy="489.8" r="2"/><circle cx="588.2" cy="492.4" r="2"/><circle cx="585.6" cy="493.0" r="2"/><circle cx="587.6" cy="497.6" r="2"/><circle cx="586.9" cy="501.5" r="2"/><circle cx="586.3" cy="503.4" r="2"/><circle cx="594.8" cy="441.3" r="2"/><circle cx="594.5" cy="454.8" r="2"/><circle cx="600.2" cy="459.1" r="2"/><circle cx="591.9" cy="485.8" r="2"/><circle cx="600.0" cy="493.7" r="2"/><circle cx="578.9" cy="501.8" r="2"/><circle cx="618.9" cy="461.8" r="2"/><circle cx="635.9" cy="459.0" r="2"/><circle cx="642.9" cy="464.1" r="2"/><circle cx="650.5" cy="462.4" r="2"/><circle cx="644.9" cy="472.5" r="2"/><circle cx="649.4" cy="477.8" r="2"/><circle cx="641.0" cy="480.9" r="2"/><circle cx="627.8" cy="503.4" r="2"/><circle cx="658.9" cy="500.9" r="2"/></g>
<text x="81.6" y="263.2" style="font-family:'Liberation Serif', serif;font-weight:bold;font-size:18px;fill:#111">(a)</text><text x="106.8" y="263" style="font-family:'Liberation Serif', serif;font-size:12.2px;fill:#111">Modified Michalewicz function</text>
<text x="413.8" y="263.6" style="font-family:'Liberation Serif', serif;font-weight:bold;font-size:18px;fill:#111">(b)</text><text x="441.5" y="263.1" style="font-family:'Liberation Serif', serif;font-size:12.2px;fill:#111">Error rate as a function of step <tspan font-style="italic" font-size="13px">n</tspan></text>
<text x="105.2" y="546.9" style="font-family:'Liberation Serif', serif;font-weight:bold;font-size:18px;fill:#111">(c)</text><text x="132.7" y="546.6" style="font-family:'Liberation Serif', serif;font-size:12.2px;fill:#111">Cl-GP with<tspan x="192.3" font-style="italic" font-size="13px">n</tspan><tspan x="217.7">500</tspan></text><line x1="203.9" y1="542.0" x2="213.20000000000002" y2="542.0" stroke="#111" stroke-width="0.75"/><line x1="203.9" y1="545.2" x2="213.20000000000002" y2="545.2" stroke="#111" stroke-width="0.75"/>
<text x="446.9" y="546.9" style="font-family:'Liberation Serif', serif;font-weight:bold;font-size:18px;fill:#111">(d)</text><text x="473.4" y="546.6" style="font-family:'Liberation Serif', serif;font-size:12.2px;fill:#111"><tspan font-style="italic">t</tspan>-GP with<tspan x="525.6" font-style="italic" font-size="13px">n</tspan><tspan x="551">500</tspan></text><line x1="536.9" y1="542.0" x2="546.1999999999999" y2="542.0" stroke="#111" stroke-width="0.75"/><line x1="536.9" y1="545.2" x2="546.1999999999999" y2="545.2" stroke="#111" stroke-width="0.75"/>
</svg></body></html>
